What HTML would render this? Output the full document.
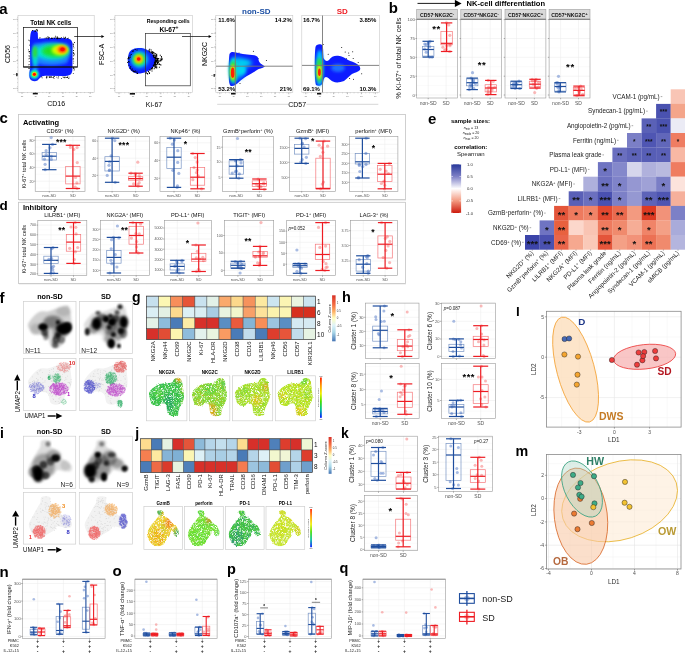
<!DOCTYPE html><html><head><meta charset="utf-8"><style>html,body{margin:0;padding:0;background:#fff;overflow:hidden;}svg{display:block;will-change:transform;filter:blur(0.3px);}</style></head><body><svg width="685" height="653" viewBox="0 0 685 653" font-family='"Liberation Sans", sans-serif'>
<rect width="685" height="653" fill="#fff"/>
<text x="-0.7" y="13.6" font-size="15" font-weight="bold">a</text>
<text x="388.8" y="12.8" font-size="15" font-weight="bold">b</text>
<text x="-0.5" y="123.4" font-size="15" font-weight="bold">c</text>
<text x="-0.5" y="209.9" font-size="13.5" font-weight="bold">d</text>
<text x="428.1" y="123.5" font-size="15" font-weight="bold">e</text>
<text x="-0.5" y="302.6" font-size="15" font-weight="bold">f</text>
<text x="132" y="302.1" font-size="14" font-weight="bold">g</text>
<text x="342.1" y="302.3" font-size="14.5" font-weight="bold">h</text>
<text x="0" y="438" font-size="14" font-weight="bold">i</text>
<text x="135.2" y="437.9" font-size="14" font-weight="bold">j</text>
<text x="341.1" y="438" font-size="14" font-weight="bold">k</text>
<text x="516.1" y="315.8" font-size="13.5" font-weight="bold">l</text>
<text x="515.6" y="455.8" font-size="14.3" font-weight="bold">m</text>
<text x="-0.4" y="577.2" font-size="15" font-weight="bold">n</text>
<text x="112.6" y="575.9" font-size="15" font-weight="bold">o</text>
<text x="227" y="574.3" font-size="14.5" font-weight="bold">p</text>
<text x="339.5" y="573.1" font-size="14.5" font-weight="bold">q</text>
<defs>
<filter id="b06" x="-20%" y="-20%" width="140%" height="140%"><feGaussianBlur stdDeviation="0.6"/></filter>
<filter id="b10" x="-30%" y="-30%" width="160%" height="160%"><feGaussianBlur stdDeviation="1.0"/></filter>
<filter id="b15" x="-30%" y="-30%" width="160%" height="160%"><feGaussianBlur stdDeviation="1.5"/></filter>
<filter id="b20" x="-40%" y="-40%" width="180%" height="180%"><feGaussianBlur stdDeviation="2.0"/></filter>
<filter id="b30" x="-50%" y="-50%" width="200%" height="200%"><feGaussianBlur stdDeviation="3.0"/></filter>
</defs>
<rect x="18" y="15.3" width="76.2" height="77" fill="#fff" stroke="#c8c8c8" stroke-width="0.6"/>
<path d="M16.4 19.3H18" stroke="#555" stroke-width="0.4"/>
<text x="15.8" y="20.1" font-size="2.2" fill="#666" text-anchor="end">10</text>
<path d="M16.4 33.1H18" stroke="#555" stroke-width="0.4"/>
<text x="15.8" y="33.9" font-size="2.2" fill="#666" text-anchor="end">10</text>
<path d="M16.4 46.9H18" stroke="#555" stroke-width="0.4"/>
<text x="15.8" y="47.7" font-size="2.2" fill="#666" text-anchor="end">10</text>
<path d="M16.4 60.7H18" stroke="#555" stroke-width="0.4"/>
<text x="15.8" y="61.5" font-size="2.2" fill="#666" text-anchor="end">10</text>
<path d="M16.4 74.5H18" stroke="#555" stroke-width="0.4"/>
<text x="15.8" y="75.3" font-size="2.2" fill="#666" text-anchor="end">10</text>
<path d="M16.4 88.3H18" stroke="#555" stroke-width="0.4"/>
<text x="15.8" y="89.1" font-size="2.2" fill="#666" text-anchor="end">10</text>
<path d="M22 92.3V93.9" stroke="#555" stroke-width="0.4"/>
<text x="22" y="96.7" font-size="2.2" fill="#666" text-anchor="middle">10</text>
<path d="M35.6 92.3V93.9" stroke="#555" stroke-width="0.4"/>
<text x="35.6" y="96.7" font-size="2.2" fill="#666" text-anchor="middle">10</text>
<path d="M49.3 92.3V93.9" stroke="#555" stroke-width="0.4"/>
<text x="49.3" y="96.7" font-size="2.2" fill="#666" text-anchor="middle">10</text>
<path d="M62.9 92.3V93.9" stroke="#555" stroke-width="0.4"/>
<text x="62.9" y="96.7" font-size="2.2" fill="#666" text-anchor="middle">10</text>
<path d="M76.6 92.3V93.9" stroke="#555" stroke-width="0.4"/>
<text x="76.6" y="96.7" font-size="2.2" fill="#666" text-anchor="middle">10</text>
<path d="M90.2 92.3V93.9" stroke="#555" stroke-width="0.4"/>
<text x="90.2" y="96.7" font-size="2.2" fill="#666" text-anchor="middle">10</text>
<path d="M17.2 17.3H18" stroke="#777" stroke-width="0.3"/>
<path d="M20 92.3V93.1" stroke="#777" stroke-width="0.3"/>
<path d="M17.2 21.1H18" stroke="#777" stroke-width="0.3"/>
<path d="M23.8 92.3V93.1" stroke="#777" stroke-width="0.3"/>
<path d="M17.2 25H18" stroke="#777" stroke-width="0.3"/>
<path d="M27.6 92.3V93.1" stroke="#777" stroke-width="0.3"/>
<path d="M17.2 28.8H18" stroke="#777" stroke-width="0.3"/>
<path d="M31.4 92.3V93.1" stroke="#777" stroke-width="0.3"/>
<path d="M17.2 32.7H18" stroke="#777" stroke-width="0.3"/>
<path d="M35.2 92.3V93.1" stroke="#777" stroke-width="0.3"/>
<path d="M17.2 36.5H18" stroke="#777" stroke-width="0.3"/>
<path d="M39 92.3V93.1" stroke="#777" stroke-width="0.3"/>
<path d="M17.2 40.4H18" stroke="#777" stroke-width="0.3"/>
<path d="M42.8 92.3V93.1" stroke="#777" stroke-width="0.3"/>
<path d="M17.2 44.2H18" stroke="#777" stroke-width="0.3"/>
<path d="M46.6 92.3V93.1" stroke="#777" stroke-width="0.3"/>
<path d="M17.2 48H18" stroke="#777" stroke-width="0.3"/>
<path d="M50.4 92.3V93.1" stroke="#777" stroke-width="0.3"/>
<path d="M17.2 51.9H18" stroke="#777" stroke-width="0.3"/>
<path d="M54.2 92.3V93.1" stroke="#777" stroke-width="0.3"/>
<path d="M17.2 55.7H18" stroke="#777" stroke-width="0.3"/>
<path d="M58 92.3V93.1" stroke="#777" stroke-width="0.3"/>
<path d="M17.2 59.6H18" stroke="#777" stroke-width="0.3"/>
<path d="M61.8 92.3V93.1" stroke="#777" stroke-width="0.3"/>
<path d="M17.2 63.4H18" stroke="#777" stroke-width="0.3"/>
<path d="M65.6 92.3V93.1" stroke="#777" stroke-width="0.3"/>
<path d="M17.2 67.2H18" stroke="#777" stroke-width="0.3"/>
<path d="M69.4 92.3V93.1" stroke="#777" stroke-width="0.3"/>
<path d="M17.2 71.1H18" stroke="#777" stroke-width="0.3"/>
<path d="M73.2 92.3V93.1" stroke="#777" stroke-width="0.3"/>
<path d="M17.2 74.9H18" stroke="#777" stroke-width="0.3"/>
<path d="M77 92.3V93.1" stroke="#777" stroke-width="0.3"/>
<path d="M17.2 78.8H18" stroke="#777" stroke-width="0.3"/>
<path d="M80.8 92.3V93.1" stroke="#777" stroke-width="0.3"/>
<path d="M17.2 82.6H18" stroke="#777" stroke-width="0.3"/>
<path d="M84.6 92.3V93.1" stroke="#777" stroke-width="0.3"/>
<path d="M17.2 86.5H18" stroke="#777" stroke-width="0.3"/>
<path d="M88.4 92.3V93.1" stroke="#777" stroke-width="0.3"/>
<path d="M17.2 90.3H18" stroke="#777" stroke-width="0.3"/>
<path d="M92.2 92.3V93.1" stroke="#777" stroke-width="0.3"/>
<rect x="115" y="15.3" width="77.6" height="77.3" fill="#fff" stroke="#c8c8c8" stroke-width="0.6"/>
<path d="M113.4 19.3H115" stroke="#555" stroke-width="0.4"/>
<text x="112.8" y="20.1" font-size="2.2" fill="#666" text-anchor="end">10</text>
<path d="M113.4 33.2H115" stroke="#555" stroke-width="0.4"/>
<text x="112.8" y="34" font-size="2.2" fill="#666" text-anchor="end">10</text>
<path d="M113.4 47H115" stroke="#555" stroke-width="0.4"/>
<text x="112.8" y="47.8" font-size="2.2" fill="#666" text-anchor="end">10</text>
<path d="M113.4 60.9H115" stroke="#555" stroke-width="0.4"/>
<text x="112.8" y="61.7" font-size="2.2" fill="#666" text-anchor="end">10</text>
<path d="M113.4 74.7H115" stroke="#555" stroke-width="0.4"/>
<text x="112.8" y="75.5" font-size="2.2" fill="#666" text-anchor="end">10</text>
<path d="M113.4 88.6H115" stroke="#555" stroke-width="0.4"/>
<text x="112.8" y="89.4" font-size="2.2" fill="#666" text-anchor="end">10</text>
<path d="M119 92.6V94.2" stroke="#555" stroke-width="0.4"/>
<text x="119" y="97" font-size="2.2" fill="#666" text-anchor="middle">10</text>
<path d="M132.9 92.6V94.2" stroke="#555" stroke-width="0.4"/>
<text x="132.9" y="97" font-size="2.2" fill="#666" text-anchor="middle">10</text>
<path d="M146.8 92.6V94.2" stroke="#555" stroke-width="0.4"/>
<text x="146.8" y="97" font-size="2.2" fill="#666" text-anchor="middle">10</text>
<path d="M160.8 92.6V94.2" stroke="#555" stroke-width="0.4"/>
<text x="160.8" y="97" font-size="2.2" fill="#666" text-anchor="middle">10</text>
<path d="M174.7 92.6V94.2" stroke="#555" stroke-width="0.4"/>
<text x="174.7" y="97" font-size="2.2" fill="#666" text-anchor="middle">10</text>
<path d="M188.6 92.6V94.2" stroke="#555" stroke-width="0.4"/>
<text x="188.6" y="97" font-size="2.2" fill="#666" text-anchor="middle">10</text>
<path d="M114.2 17.3H115" stroke="#777" stroke-width="0.3"/>
<path d="M117 92.6V93.4" stroke="#777" stroke-width="0.3"/>
<path d="M114.2 21.2H115" stroke="#777" stroke-width="0.3"/>
<path d="M120.9 92.6V93.4" stroke="#777" stroke-width="0.3"/>
<path d="M114.2 25H115" stroke="#777" stroke-width="0.3"/>
<path d="M124.7 92.6V93.4" stroke="#777" stroke-width="0.3"/>
<path d="M114.2 28.9H115" stroke="#777" stroke-width="0.3"/>
<path d="M128.6 92.6V93.4" stroke="#777" stroke-width="0.3"/>
<path d="M114.2 32.7H115" stroke="#777" stroke-width="0.3"/>
<path d="M132.5 92.6V93.4" stroke="#777" stroke-width="0.3"/>
<path d="M114.2 36.6H115" stroke="#777" stroke-width="0.3"/>
<path d="M136.4 92.6V93.4" stroke="#777" stroke-width="0.3"/>
<path d="M114.2 40.4H115" stroke="#777" stroke-width="0.3"/>
<path d="M140.2 92.6V93.4" stroke="#777" stroke-width="0.3"/>
<path d="M114.2 44.3H115" stroke="#777" stroke-width="0.3"/>
<path d="M144.1 92.6V93.4" stroke="#777" stroke-width="0.3"/>
<path d="M114.2 48.2H115" stroke="#777" stroke-width="0.3"/>
<path d="M148 92.6V93.4" stroke="#777" stroke-width="0.3"/>
<path d="M114.2 52H115" stroke="#777" stroke-width="0.3"/>
<path d="M151.9 92.6V93.4" stroke="#777" stroke-width="0.3"/>
<path d="M114.2 55.9H115" stroke="#777" stroke-width="0.3"/>
<path d="M155.7 92.6V93.4" stroke="#777" stroke-width="0.3"/>
<path d="M114.2 59.7H115" stroke="#777" stroke-width="0.3"/>
<path d="M159.6 92.6V93.4" stroke="#777" stroke-width="0.3"/>
<path d="M114.2 63.6H115" stroke="#777" stroke-width="0.3"/>
<path d="M163.5 92.6V93.4" stroke="#777" stroke-width="0.3"/>
<path d="M114.2 67.5H115" stroke="#777" stroke-width="0.3"/>
<path d="M167.4 92.6V93.4" stroke="#777" stroke-width="0.3"/>
<path d="M114.2 71.3H115" stroke="#777" stroke-width="0.3"/>
<path d="M171.2 92.6V93.4" stroke="#777" stroke-width="0.3"/>
<path d="M114.2 75.2H115" stroke="#777" stroke-width="0.3"/>
<path d="M175.1 92.6V93.4" stroke="#777" stroke-width="0.3"/>
<path d="M114.2 79H115" stroke="#777" stroke-width="0.3"/>
<path d="M179 92.6V93.4" stroke="#777" stroke-width="0.3"/>
<path d="M114.2 82.9H115" stroke="#777" stroke-width="0.3"/>
<path d="M182.9 92.6V93.4" stroke="#777" stroke-width="0.3"/>
<path d="M114.2 86.7H115" stroke="#777" stroke-width="0.3"/>
<path d="M186.7 92.6V93.4" stroke="#777" stroke-width="0.3"/>
<path d="M114.2 90.6H115" stroke="#777" stroke-width="0.3"/>
<path d="M190.6 92.6V93.4" stroke="#777" stroke-width="0.3"/>
<rect x="215.8" y="15.3" width="77" height="77.3" fill="#fff" stroke="#c8c8c8" stroke-width="0.6"/>
<path d="M214.2 19.3H215.8" stroke="#555" stroke-width="0.4"/>
<text x="213.6" y="20.1" font-size="2.2" fill="#666" text-anchor="end">10</text>
<path d="M214.2 33.2H215.8" stroke="#555" stroke-width="0.4"/>
<text x="213.6" y="34" font-size="2.2" fill="#666" text-anchor="end">10</text>
<path d="M214.2 47H215.8" stroke="#555" stroke-width="0.4"/>
<text x="213.6" y="47.8" font-size="2.2" fill="#666" text-anchor="end">10</text>
<path d="M214.2 60.9H215.8" stroke="#555" stroke-width="0.4"/>
<text x="213.6" y="61.7" font-size="2.2" fill="#666" text-anchor="end">10</text>
<path d="M214.2 74.7H215.8" stroke="#555" stroke-width="0.4"/>
<text x="213.6" y="75.5" font-size="2.2" fill="#666" text-anchor="end">10</text>
<path d="M214.2 88.6H215.8" stroke="#555" stroke-width="0.4"/>
<text x="213.6" y="89.4" font-size="2.2" fill="#666" text-anchor="end">10</text>
<path d="M219.8 92.6V94.2" stroke="#555" stroke-width="0.4"/>
<text x="219.8" y="97" font-size="2.2" fill="#666" text-anchor="middle">10</text>
<path d="M233.6 92.6V94.2" stroke="#555" stroke-width="0.4"/>
<text x="233.6" y="97" font-size="2.2" fill="#666" text-anchor="middle">10</text>
<path d="M247.4 92.6V94.2" stroke="#555" stroke-width="0.4"/>
<text x="247.4" y="97" font-size="2.2" fill="#666" text-anchor="middle">10</text>
<path d="M261.2 92.6V94.2" stroke="#555" stroke-width="0.4"/>
<text x="261.2" y="97" font-size="2.2" fill="#666" text-anchor="middle">10</text>
<path d="M275 92.6V94.2" stroke="#555" stroke-width="0.4"/>
<text x="275" y="97" font-size="2.2" fill="#666" text-anchor="middle">10</text>
<path d="M288.8 92.6V94.2" stroke="#555" stroke-width="0.4"/>
<text x="288.8" y="97" font-size="2.2" fill="#666" text-anchor="middle">10</text>
<path d="M215 17.3H215.8" stroke="#777" stroke-width="0.3"/>
<path d="M217.8 92.6V93.4" stroke="#777" stroke-width="0.3"/>
<path d="M215 21.2H215.8" stroke="#777" stroke-width="0.3"/>
<path d="M221.6 92.6V93.4" stroke="#777" stroke-width="0.3"/>
<path d="M215 25H215.8" stroke="#777" stroke-width="0.3"/>
<path d="M225.5 92.6V93.4" stroke="#777" stroke-width="0.3"/>
<path d="M215 28.9H215.8" stroke="#777" stroke-width="0.3"/>
<path d="M229.3 92.6V93.4" stroke="#777" stroke-width="0.3"/>
<path d="M215 32.7H215.8" stroke="#777" stroke-width="0.3"/>
<path d="M233.2 92.6V93.4" stroke="#777" stroke-width="0.3"/>
<path d="M215 36.6H215.8" stroke="#777" stroke-width="0.3"/>
<path d="M237 92.6V93.4" stroke="#777" stroke-width="0.3"/>
<path d="M215 40.4H215.8" stroke="#777" stroke-width="0.3"/>
<path d="M240.9 92.6V93.4" stroke="#777" stroke-width="0.3"/>
<path d="M215 44.3H215.8" stroke="#777" stroke-width="0.3"/>
<path d="M244.7 92.6V93.4" stroke="#777" stroke-width="0.3"/>
<path d="M215 48.2H215.8" stroke="#777" stroke-width="0.3"/>
<path d="M248.5 92.6V93.4" stroke="#777" stroke-width="0.3"/>
<path d="M215 52H215.8" stroke="#777" stroke-width="0.3"/>
<path d="M252.4 92.6V93.4" stroke="#777" stroke-width="0.3"/>
<path d="M215 55.9H215.8" stroke="#777" stroke-width="0.3"/>
<path d="M256.2 92.6V93.4" stroke="#777" stroke-width="0.3"/>
<path d="M215 59.7H215.8" stroke="#777" stroke-width="0.3"/>
<path d="M260.1 92.6V93.4" stroke="#777" stroke-width="0.3"/>
<path d="M215 63.6H215.8" stroke="#777" stroke-width="0.3"/>
<path d="M263.9 92.6V93.4" stroke="#777" stroke-width="0.3"/>
<path d="M215 67.5H215.8" stroke="#777" stroke-width="0.3"/>
<path d="M267.7 92.6V93.4" stroke="#777" stroke-width="0.3"/>
<path d="M215 71.3H215.8" stroke="#777" stroke-width="0.3"/>
<path d="M271.6 92.6V93.4" stroke="#777" stroke-width="0.3"/>
<path d="M215 75.2H215.8" stroke="#777" stroke-width="0.3"/>
<path d="M275.4 92.6V93.4" stroke="#777" stroke-width="0.3"/>
<path d="M215 79H215.8" stroke="#777" stroke-width="0.3"/>
<path d="M279.3 92.6V93.4" stroke="#777" stroke-width="0.3"/>
<path d="M215 82.9H215.8" stroke="#777" stroke-width="0.3"/>
<path d="M283.1 92.6V93.4" stroke="#777" stroke-width="0.3"/>
<path d="M215 86.7H215.8" stroke="#777" stroke-width="0.3"/>
<path d="M287 92.6V93.4" stroke="#777" stroke-width="0.3"/>
<path d="M215 90.6H215.8" stroke="#777" stroke-width="0.3"/>
<path d="M290.8 92.6V93.4" stroke="#777" stroke-width="0.3"/>
<rect x="301.8" y="15.3" width="77.5" height="77.3" fill="#fff" stroke="#c8c8c8" stroke-width="0.6"/>
<path d="M305.8 92.6V94.2" stroke="#555" stroke-width="0.4"/>
<text x="305.8" y="97" font-size="2.2" fill="#666" text-anchor="middle">10</text>
<path d="M319.7 92.6V94.2" stroke="#555" stroke-width="0.4"/>
<text x="319.7" y="97" font-size="2.2" fill="#666" text-anchor="middle">10</text>
<path d="M333.6 92.6V94.2" stroke="#555" stroke-width="0.4"/>
<text x="333.6" y="97" font-size="2.2" fill="#666" text-anchor="middle">10</text>
<path d="M347.5 92.6V94.2" stroke="#555" stroke-width="0.4"/>
<text x="347.5" y="97" font-size="2.2" fill="#666" text-anchor="middle">10</text>
<path d="M361.4 92.6V94.2" stroke="#555" stroke-width="0.4"/>
<text x="361.4" y="97" font-size="2.2" fill="#666" text-anchor="middle">10</text>
<path d="M375.3 92.6V94.2" stroke="#555" stroke-width="0.4"/>
<text x="375.3" y="97" font-size="2.2" fill="#666" text-anchor="middle">10</text>
<path d="M303.8 92.6V93.4" stroke="#777" stroke-width="0.3"/>
<path d="M307.7 92.6V93.4" stroke="#777" stroke-width="0.3"/>
<path d="M311.5 92.6V93.4" stroke="#777" stroke-width="0.3"/>
<path d="M315.4 92.6V93.4" stroke="#777" stroke-width="0.3"/>
<path d="M319.3 92.6V93.4" stroke="#777" stroke-width="0.3"/>
<path d="M323.1 92.6V93.4" stroke="#777" stroke-width="0.3"/>
<path d="M327 92.6V93.4" stroke="#777" stroke-width="0.3"/>
<path d="M330.9 92.6V93.4" stroke="#777" stroke-width="0.3"/>
<path d="M334.7 92.6V93.4" stroke="#777" stroke-width="0.3"/>
<path d="M338.6 92.6V93.4" stroke="#777" stroke-width="0.3"/>
<path d="M342.5 92.6V93.4" stroke="#777" stroke-width="0.3"/>
<path d="M346.4 92.6V93.4" stroke="#777" stroke-width="0.3"/>
<path d="M350.2 92.6V93.4" stroke="#777" stroke-width="0.3"/>
<path d="M354.1 92.6V93.4" stroke="#777" stroke-width="0.3"/>
<path d="M358 92.6V93.4" stroke="#777" stroke-width="0.3"/>
<path d="M361.8 92.6V93.4" stroke="#777" stroke-width="0.3"/>
<path d="M365.7 92.6V93.4" stroke="#777" stroke-width="0.3"/>
<path d="M369.6 92.6V93.4" stroke="#777" stroke-width="0.3"/>
<path d="M373.4 92.6V93.4" stroke="#777" stroke-width="0.3"/>
<path d="M377.3 92.6V93.4" stroke="#777" stroke-width="0.3"/>
<defs><clipPath id="ca1"><rect x="18.3" y="15.6" width="75.6" height="76.4"/></clipPath><clipPath id="ca2"><rect x="115.3" y="15.6" width="77" height="76.7"/></clipPath><clipPath id="ca3"><rect x="216.1" y="15.6" width="76.4" height="76.7"/></clipPath><clipPath id="ca4"><rect x="302.1" y="15.6" width="76.9" height="76.7"/></clipPath></defs>
<g clip-path="url(#ca1)">
<path d="M31.5,31 C33,29.5 37,30 37.8,33 L38,38.8 C45,38 60,37.8 68,38.6 C72,39.5 72.8,42 72.6,47 L72.4,70 C72,74.5 70,76 63,76 L45,75.8 C41,76 39.5,78.5 37.5,80.5 C35,82 31,81.5 29.6,78 C28.8,75 29.5,71 30.2,68 L30,45 C30,38 30.3,33 31.5,31 Z" fill="#0a1cff" filter="url(#b06)"/>
<path d="M33,44 C40,42 60,42 68,44 C70,48 70,58 67,63 C60,66 45,66 38,64 L37,72 C36,74 33.5,74 33,72 Z" fill="#1a7cff" filter="url(#b15)"/>
<ellipse cx="52" cy="52" rx="17" ry="8" fill="#00e8e0" filter="url(#b20)"/>
<ellipse cx="35" cy="56" rx="2.8" ry="10" fill="#00e0d0" filter="url(#b15)"/>
<ellipse cx="55" cy="51" rx="13.5" ry="6" fill="#22dd22" filter="url(#b20)"/>
<ellipse cx="35" cy="52" rx="2.2" ry="6" fill="#30d830" filter="url(#b15)"/>
<ellipse cx="60" cy="50" rx="8.5" ry="5.2" fill="#c8ff00" filter="url(#b15)"/>
<ellipse cx="61.5" cy="49.6" rx="5.8" ry="4.2" fill="#ffc800" filter="url(#b10)"/>
<ellipse cx="62.3" cy="49.5" rx="3.8" ry="3.0" fill="#ff4000" filter="url(#b10)"/>
<ellipse cx="62.5" cy="49.4" rx="2.2" ry="1.8" fill="#ff1000" filter="url(#b06)"/>
<ellipse cx="34.4" cy="74.3" rx="4.5" ry="4.5" fill="#00e0ff" filter="url(#b10)"/>
<ellipse cx="34.4" cy="74.3" rx="3.2" ry="3.2" fill="#40ff40" filter="url(#b10)"/>
<ellipse cx="34.4" cy="74.3" rx="2.3" ry="2.3" fill="#ffd000" filter="url(#b06)"/>
<ellipse cx="34.4" cy="74.3" rx="1.6" ry="1.6" fill="#ff1000" filter="url(#b06)"/>
</g>
<path d="M45.9 37.5h.8v.8h-.8zM57.1 37.8h.8v.8h-.8zM39.4 37.8h.8v.8h-.8zM67.9 37.7h.8v.8h-.8zM63.3 36.8h.8v.8h-.8zM57.4 38.3h.8v.8h-.8zM54.2 38.0h.8v.8h-.8zM61.0 37.0h.8v.8h-.8zM47.7 36.5h.8v.8h-.8zM59.8 38.2h.8v.8h-.8zM59.7 37.7h.8v.8h-.8zM51.9 38.1h.8v.8h-.8zM64.5 37.7h.8v.8h-.8zM67.0 38.0h.8v.8h-.8zM57.2 37.9h.8v.8h-.8zM49.2 37.3h.8v.8h-.8zM55.9 37.4h.8v.8h-.8zM63.8 37.8h.8v.8h-.8zM58.5 37.7h.8v.8h-.8zM65.2 36.8h.8v.8h-.8zM59.7 37.9h.8v.8h-.8zM47.3 36.4h.8v.8h-.8zM63.8 38.1h.8v.8h-.8zM50.9 38.1h.8v.8h-.8zM47.5 37.8h.8v.8h-.8zM56.8 36.2h.8v.8h-.8zM59.8 37.7h.8v.8h-.8zM53.7 37.0h.8v.8h-.8zM48.0 36.9h.8v.8h-.8zM44.7 37.7h.8v.8h-.8zM56.7 38.4h.8v.8h-.8zM48.1 38.4h.8v.8h-.8zM65.0 37.6h.8v.8h-.8zM57.7 37.7h.8v.8h-.8zM55.2 36.7h.8v.8h-.8zM51.5 37.0h.8v.8h-.8zM45.9 37.5h.8v.8h-.8zM54.9 35.7h.8v.8h-.8zM51.0 38.2h.8v.8h-.8zM57.3 37.9h.8v.8h-.8zM57.2 36.9h.8v.8h-.8zM59.5 38.2h.8v.8h-.8zM39.6 37.3h.8v.8h-.8zM46.3 37.8h.8v.8h-.8zM56.2 37.8h.8v.8h-.8zM51.7 77.0h.8v.8h-.8zM58.3 76.5h.8v.8h-.8zM63.4 77.0h.8v.8h-.8zM41.8 77.5h.8v.8h-.8zM50.0 76.8h.8v.8h-.8zM47.5 76.4h.8v.8h-.8zM46.4 76.8h.8v.8h-.8zM53.6 76.3h.8v.8h-.8zM50.3 76.6h.8v.8h-.8zM50.7 76.7h.8v.8h-.8zM65.8 77.0h.8v.8h-.8zM45.9 76.9h.8v.8h-.8zM66.7 77.3h.8v.8h-.8zM54.1 76.3h.8v.8h-.8zM56.4 76.7h.8v.8h-.8zM46.5 76.8h.8v.8h-.8zM46.3 77.8h.8v.8h-.8zM49.1 76.7h.8v.8h-.8zM64.4 77.4h.8v.8h-.8zM51.0 76.7h.8v.8h-.8zM64.0 76.7h.8v.8h-.8zM48.9 76.7h.8v.8h-.8zM53.2 77.0h.8v.8h-.8zM52.9 76.7h.8v.8h-.8zM41.1 76.5h.8v.8h-.8zM68.4 78.1h.8v.8h-.8zM53.6 78.0h.8v.8h-.8zM68.6 76.8h.8v.8h-.8zM62.6 76.5h.8v.8h-.8zM65.3 76.8h.8v.8h-.8zM49.4 77.1h.8v.8h-.8zM50.9 76.2h.8v.8h-.8zM58.1 76.5h.8v.8h-.8zM49.3 76.3h.8v.8h-.8zM67.2 76.5h.8v.8h-.8zM61.1 77.9h.8v.8h-.8zM67.1 77.1h.8v.8h-.8zM57.7 77.7h.8v.8h-.8zM46.0 76.3h.8v.8h-.8zM49.7 76.8h.8v.8h-.8zM73.4 55.2h.8v.8h-.8zM73.6 52.9h.8v.8h-.8zM73.0 50.1h.8v.8h-.8zM73.2 67.0h.8v.8h-.8zM73.3 53.3h.8v.8h-.8zM72.9 68.1h.8v.8h-.8zM73.5 47.5h.8v.8h-.8zM73.1 67.8h.8v.8h-.8zM74.3 68.4h.8v.8h-.8zM73.7 69.6h.8v.8h-.8zM72.7 43.6h.8v.8h-.8zM72.7 58.9h.8v.8h-.8zM73.2 55.5h.8v.8h-.8zM74.0 42.1h.8v.8h-.8zM72.8 43.8h.8v.8h-.8zM72.9 44.2h.8v.8h-.8zM72.9 73.2h.8v.8h-.8zM72.8 58.1h.8v.8h-.8zM72.9 52.1h.8v.8h-.8zM72.9 62.7h.8v.8h-.8zM73.3 60.8h.8v.8h-.8zM72.9 52.5h.8v.8h-.8zM73.0 46.0h.8v.8h-.8zM73.8 54.2h.8v.8h-.8zM73.0 44.6h.8v.8h-.8zM29.1 57.8h.8v.8h-.8zM28.8 64.2h.8v.8h-.8zM28.5 58.4h.8v.8h-.8zM28.5 51.5h.8v.8h-.8zM28.8 61.3h.8v.8h-.8zM28.8 51.1h.8v.8h-.8zM29.1 44.8h.8v.8h-.8zM28.7 55.3h.8v.8h-.8zM29.3 51.3h.8v.8h-.8zM29.1 51.3h.8v.8h-.8zM28.2 49.5h.8v.8h-.8zM28.3 68.3h.8v.8h-.8zM29.3 52.7h.8v.8h-.8zM28.9 40.4h.8v.8h-.8zM29.0 67.9h.8v.8h-.8zM28.4 64.5h.8v.8h-.8zM28.8 56.3h.8v.8h-.8zM28.4 39.7h.8v.8h-.8zM34.4 30.9h.8v.8h-.8zM36.1 29.6h.8v.8h-.8zM35.1 30.9h.8v.8h-.8zM37.0 29.8h.8v.8h-.8zM34.6 30.8h.8v.8h-.8zM34.9 30.6h.8v.8h-.8zM35.7 29.8h.8v.8h-.8zM36.4 28.9h.8v.8h-.8zM32.1 30.1h.8v.8h-.8zM37.0 30.6h.8v.8h-.8z" fill="#000"/>
<rect x="23.4" y="27.6" width="54.2" height="39.4" fill="none" stroke="#111" stroke-width="0.7"/>
<path d="M23.4 67H77.6" stroke="#111" stroke-width="1.2"/>
<text x="50.8" y="25.3" font-size="6.3" font-weight="bold" text-anchor="middle">Total NK cells</text>
<path d="M74.2 36.5H101.7" stroke="#000" stroke-width="0.7"/>
<path d="M101.4,35.07 L104.3,36.5 L101.4,37.93 Z" fill="#000"/>
<path d="M182 36.5H208.9" stroke="#000" stroke-width="0.7"/>
<path d="M208.6,35.07 L211.5,36.5 L208.6,37.93 Z" fill="#000"/>
<g clip-path="url(#ca2)">
<path d="M129,53 C131,48.5 137,47.5 143,48.2 C148,49.5 152,53 154.8,57 C156.3,60 156,64 153.5,67 C150,71 144,73.5 138,73.5 C132,73 128.5,69 128,64 C127.6,60 127.8,56 129,53 Z" fill="#0a1cff" filter="url(#b06)"/>
<ellipse cx="139.5" cy="59.5" rx="8.5" ry="8.5" fill="#00d8ff" filter="url(#b20)"/>
<ellipse cx="139" cy="59.2" rx="6.3" ry="6.3" fill="#30e040" filter="url(#b15)"/>
<ellipse cx="138.8" cy="59.1" rx="4.3" ry="4.3" fill="#e0f000" filter="url(#b10)"/>
<ellipse cx="138.7" cy="59" rx="3.0" ry="3.0" fill="#ff8000" filter="url(#b10)"/>
<ellipse cx="138.7" cy="59" rx="1.8" ry="1.8" fill="#ff1000" filter="url(#b06)"/>
</g>
<path d="M154.7 53.4h1v1h-1zM160.4 64.5h1v1h-1zM161.2 59.6h1v1h-1zM152.0 67.1h1v1h-1zM151.6 68.6h1v1h-1zM154.6 62.9h1v1h-1zM153.3 56.1h1v1h-1zM151.7 53.0h1v1h-1zM153.1 64.7h1v1h-1zM160.6 58.0h1v1h-1zM155.9 60.8h1v1h-1zM155.6 61.5h1v1h-1zM154.8 58.2h1v1h-1zM145.2 72.7h1v1h-1zM156.1 61.6h1v1h-1zM145.9 72.6h1v1h-1zM161.1 56.8h1v1h-1zM150.6 51.7h1v1h-1zM160.3 64.5h1v1h-1zM159.8 54.8h1v1h-1zM154.7 64.5h1v1h-1zM155.2 58.2h1v1h-1zM154.8 61.8h1v1h-1zM157.7 57.9h1v1h-1zM149.2 69.5h1v1h-1zM155.9 57.8h1v1h-1zM156.8 63.4h1v1h-1zM156.9 57.7h1v1h-1zM155.0 59.9h1v1h-1zM154.0 61.8h1v1h-1zM160.2 60.5h1v1h-1zM148.0 71.0h1v1h-1zM155.5 55.2h1v1h-1zM153.9 62.4h1v1h-1zM158.9 66.8h1v1h-1zM158.4 63.8h1v1h-1zM147.2 73.4h1v1h-1zM155.9 57.4h1v1h-1zM148.6 50.3h1v1h-1zM153.7 68.3h1v1h-1zM159.3 64.0h1v1h-1zM155.8 63.8h1v1h-1zM159.0 63.5h1v1h-1zM153.4 51.9h1v1h-1zM148.7 72.0h1v1h-1zM154.7 59.0h1v1h-1zM154.9 63.9h1v1h-1zM157.9 62.1h1v1h-1zM154.8 61.5h1v1h-1zM151.1 67.9h1v1h-1zM154.5 56.8h1v1h-1zM152.1 51.2h1v1h-1zM152.7 54.5h1v1h-1zM147.0 73.0h1v1h-1zM151.9 67.4h1v1h-1zM155.3 62.2h1v1h-1zM161.6 58.8h1v1h-1zM155.0 53.3h1v1h-1zM154.6 65.5h1v1h-1zM156.2 67.4h1v1h-1zM157.2 58.7h1v1h-1zM145.8 72.2h1v1h-1zM152.0 67.0h1v1h-1zM148.8 50.8h1v1h-1zM152.9 55.6h1v1h-1zM154.6 57.7h1v1h-1zM149.0 73.0h1v1h-1zM156.6 58.4h1v1h-1zM156.2 60.5h1v1h-1zM154.9 63.0h1v1h-1zM149.2 48.7h1v1h-1zM150.9 68.6h1v1h-1zM151.8 51.4h1v1h-1zM152.7 51.8h1v1h-1zM151.7 67.6h1v1h-1zM151.8 67.3h1v1h-1zM151.1 51.4h1v1h-1zM156.1 55.8h1v1h-1zM150.9 68.0h1v1h-1zM158.8 60.5h1v1h-1zM148.4 49.7h1v1h-1zM156.1 54.1h1v1h-1zM156.3 55.5h1v1h-1zM159.9 59.6h1v1h-1zM156.2 53.7h1v1h-1zM155.2 66.8h1v1h-1zM157.6 58.3h1v1h-1zM157.0 59.7h1v1h-1zM151.5 70.4h1v1h-1zM155.4 57.9h1v1h-1zM149.5 51.6h1v1h-1zM154.0 56.8h1v1h-1zM152.1 52.7h1v1h-1zM156.2 55.1h1v1h-1zM154.2 53.2h1v1h-1zM152.7 53.2h1v1h-1zM158.3 61.1h1v1h-1zM154.3 63.6h1v1h-1zM149.8 69.5h1v1h-1zM156.2 59.2h1v1h-1zM155.6 61.3h1v1h-1zM154.8 61.6h1v1h-1zM153.6 64.0h1v1h-1zM156.9 62.0h1v1h-1zM157.2 61.8h1v1h-1zM152.9 55.3h1v1h-1zM147.2 73.4h1v1h-1zM154.6 60.5h1v1h-1zM156.3 66.6h1v1h-1zM151.2 68.0h1v1h-1zM155.0 61.7h1v1h-1zM156.6 58.7h1v1h-1zM160.9 59.0h1v1h-1zM152.1 53.1h1v1h-1zM153.8 54.8h1v1h-1zM151.4 52.6h1v1h-1zM157.0 62.9h1v1h-1zM160.9 56.1h1v1h-1zM155.3 56.3h1v1h-1zM153.4 57.0h1v1h-1zM157.2 60.3h1v1h-1zM153.9 65.4h1v1h-1zM158.3 58.3h1v1h-1zM151.4 51.3h1v1h-1zM153.2 65.0h1v1h-1zM155.6 65.4h1v1h-1zM160.8 59.5h1v1h-1zM155.4 57.3h1v1h-1zM157.3 57.9h1v1h-1zM156.4 59.7h1v1h-1zM157.3 63.2h1v1h-1zM154.8 59.8h1v1h-1zM154.6 67.2h1v1h-1zM154.5 66.3h1v1h-1zM155.0 62.2h1v1h-1zM150.7 49.5h1v1h-1zM155.1 61.1h1v1h-1zM156.3 61.4h1v1h-1zM155.8 60.1h1v1h-1zM152.7 65.5h1v1h-1zM154.6 55.2h1v1h-1zM155.9 55.5h1v1h-1zM155.6 60.4h1v1h-1zM156.7 60.8h1v1h-1zM152.9 55.2h1v1h-1zM157.5 58.4h1v1h-1zM152.8 55.0h1v1h-1zM158.3 60.2h1v1h-1zM153.4 65.0h1v1h-1zM156.3 64.2h1v1h-1zM137.1 73.0h1v1h-1zM127.5 58.3h1v1h-1zM127.2 62.1h1v1h-1zM128.4 64.8h1v1h-1zM129.7 67.5h1v1h-1zM132.1 50.8h1v1h-1zM129.6 67.9h1v1h-1zM132.4 70.3h1v1h-1zM128.1 60.9h1v1h-1zM128.5 58.3h1v1h-1zM131.2 69.6h1v1h-1zM128.0 56.7h1v1h-1zM136.5 49.5h1v1h-1zM136.5 72.7h1v1h-1zM128.4 57.2h1v1h-1zM133.6 70.9h1v1h-1zM134.8 70.5h1v1h-1zM132.8 70.6h1v1h-1zM134.5 71.5h1v1h-1zM136.4 71.5h1v1h-1zM132.9 50.6h1v1h-1zM130.2 66.3h1v1h-1zM134.7 49.0h1v1h-1zM129.6 55.2h1v1h-1zM128.7 61.5h1v1h-1zM128.1 57.0h1v1h-1zM131.7 68.6h1v1h-1zM133.2 71.3h1v1h-1zM130.7 54.0h1v1h-1zM129.7 56.7h1v1h-1z" fill="#000"/>
<circle cx="162.5" cy="58.8" r="0.45" fill="#000"/>
<rect x="145.6" y="33.4" width="44.7" height="52.4" fill="none" stroke="#333" stroke-width="0.7"/>
<text x="168.2" y="22.6" font-size="5.2" font-weight="bold" text-anchor="middle">Responding cells</text>
<text x="169" y="31.6" font-size="6.6" font-weight="bold" text-anchor="middle">Ki-67<tspan dy="-2.6" font-size="5">+</tspan></text>
<circle cx="239" cy="53" r="0.5" fill="#000"/>
<circle cx="253.4" cy="51.2" r="0.5" fill="#000"/>
<circle cx="258" cy="58.5" r="0.5" fill="#000"/>
<circle cx="266.4" cy="60.5" r="0.5" fill="#000"/>
<circle cx="240" cy="83.5" r="0.5" fill="#000"/>
<circle cx="261" cy="67" r="0.5" fill="#000"/>
<g clip-path="url(#ca3)">
<path d="M229.5,54 C230.5,51.5 233,51.5 236,52.5 C240,53.5 245,54.5 252,55 C257,55.5 258.5,57 258.6,60 C259,63 262,64.5 265,66.5 C262,68.5 259,68.5 257,70 C253,73 246,76 240,81 C237,84 234,86.5 231,86 C229,85 228.8,80 228.8,74 C228.8,66 228.8,58 229.5,54 Z" fill="#0a1cff" filter="url(#b06)"/>
<ellipse cx="238" cy="68" rx="7.5" ry="11" fill="#00a0ff" filter="url(#b20)"/>
<ellipse cx="244" cy="63" rx="8" ry="4" fill="#00d0f0" filter="url(#b20)"/>
<ellipse cx="233.5" cy="70.5" rx="4.4" ry="13" fill="#00e0e0" filter="url(#b15)"/>
<ellipse cx="233.2" cy="71.5" rx="3.3" ry="10.5" fill="#30e030" filter="url(#b15)"/>
<ellipse cx="232.8" cy="72.3" rx="2.5" ry="7.5" fill="#f0e800" filter="url(#b10)"/>
<ellipse cx="232.7" cy="72.7" rx="1.8" ry="5.2" fill="#ff2000" filter="url(#b06)"/>
<ellipse cx="241" cy="70" rx="5" ry="5" fill="#00d8f0" filter="url(#b15)"/>
</g>
<path d="M235.3 15.5V92.4" stroke="#777" stroke-width="0.9"/>
<path d="M216 66.2H292.6" stroke="#777" stroke-width="0.9"/>
<circle cx="323.2" cy="44.5" r="0.5" fill="#000"/>
<circle cx="328.2" cy="54.3" r="0.5" fill="#000"/>
<circle cx="341.7" cy="47.6" r="0.5" fill="#000"/>
<circle cx="345.2" cy="51.9" r="0.5" fill="#000"/>
<circle cx="348.7" cy="53" r="0.5" fill="#000"/>
<circle cx="352.7" cy="51.8" r="0.5" fill="#000"/>
<circle cx="349" cy="55.5" r="0.5" fill="#000"/>
<circle cx="346.5" cy="58.7" r="0.5" fill="#000"/>
<circle cx="353.2" cy="58.5" r="0.5" fill="#000"/>
<circle cx="358.2" cy="62.5" r="0.5" fill="#000"/>
<circle cx="361.7" cy="73.8" r="0.5" fill="#000"/>
<circle cx="349.6" cy="78.6" r="0.5" fill="#000"/>
<circle cx="353.5" cy="79.2" r="0.5" fill="#000"/>
<circle cx="336" cy="80.2" r="0.5" fill="#000"/>
<g clip-path="url(#ca4)">
<path d="M315.5,47 C316,44 321,43.5 322.5,45.5 C323.5,48 323,52 323.5,58 C325,61 327,62 329,60 C331,57 334,55.5 338,55.8 C342,56 345,58 348,60 C351,61.5 354,62 357,64 C359.5,65.5 361,68 360,70 C358,72 355,72.5 352,74 C349,76 347,79 344,81 C340,82.5 336,83 333,81.5 C330,80 328,77 326,77 C324,77 323.5,80 323,83 C321,86 318,86.5 316,85 C315,82 314.8,75 314.8,65 C314.8,57 315,50 315.5,47 Z" fill="#0a1cff" filter="url(#b06)"/>
<ellipse cx="319.5" cy="68" rx="3.8" ry="18" fill="#00c8ff" filter="url(#b15)"/>
<ellipse cx="319.3" cy="70" rx="3.1" ry="12.5" fill="#30e030" filter="url(#b15)"/>
<ellipse cx="319.3" cy="72" rx="2.2" ry="7.0" fill="#f0e800" filter="url(#b10)"/>
<ellipse cx="319.4" cy="72.3" rx="1.4" ry="3.8" fill="#ff2000" filter="url(#b06)"/>
<ellipse cx="338" cy="68" rx="7" ry="4" fill="#1a70ff" filter="url(#b15)"/>
</g>
<path d="M322.5 15.5V92.4" stroke="#777" stroke-width="0.9"/>
<path d="M302 65.4H379.1" stroke="#777" stroke-width="0.9"/>
<text x="218.2" y="22.1" font-size="6.0" font-weight="bold">11.6%</text>
<text x="291.8" y="22.1" font-size="6.0" font-weight="bold" text-anchor="end">14.2%</text>
<text x="218.2" y="90.6" font-size="6.0" font-weight="bold">53.2%</text>
<text x="291.8" y="90.6" font-size="6.0" font-weight="bold" text-anchor="end">21%</text>
<text x="302.9" y="22.1" font-size="6.0" font-weight="bold">16.7%</text>
<text x="376.4" y="22.1" font-size="6.0" font-weight="bold" text-anchor="end">3.85%</text>
<text x="302.9" y="90.6" font-size="6.0" font-weight="bold">69.1%</text>
<text x="376.4" y="90.6" font-size="6.0" font-weight="bold" text-anchor="end">10.3%</text>
<text x="256.3" y="14.1" font-size="8" fill="#1c4fa3" font-weight="bold" text-anchor="middle">non-SD</text>
<text x="342.2" y="14.1" font-size="8" fill="#ee1c23" font-weight="bold" text-anchor="middle">SD</text>
<text x="9.6" y="54" font-size="7" text-anchor="middle" transform="rotate(-90 9.6 54)">CD56</text>
<text x="56.2" y="106.3" font-size="7" text-anchor="middle">CD16</text>
<text x="104" y="54.4" font-size="7" text-anchor="middle" transform="rotate(-90 104 54.4)">FSC-A</text>
<text x="154" y="106.9" font-size="7" text-anchor="middle">Ki-67</text>
<text x="206.8" y="54" font-size="7" text-anchor="middle" transform="rotate(-90 206.8 54)">NKG2C</text>
<path d="M217.2 104.3H288" stroke="#bbb" stroke-width="0.6"/>
<path d="M306.5 104.3H378.3" stroke="#bbb" stroke-width="0.6"/>
<text x="297.2" y="106.6" font-size="7" text-anchor="middle">CD57</text>
<rect x="16.2" y="73" width="1.3" height="3.2" fill="#111"/>
<rect x="32.8" y="92.8" width="5" height="1.6" fill="#111"/>
<rect x="129.8" y="93" width="5.2" height="1.6" fill="#111"/>
<rect x="213.6" y="74" width="1.2" height="2.8" fill="#111"/>
<rect x="231" y="92.9" width="4.6" height="1.6" fill="#111"/>
<rect x="317" y="92.9" width="4.2" height="1.6" fill="#111"/>
<path d="M417.5 3.4H455.2" stroke="#000" stroke-width="0.9"/>
<path d="M454.90000000000003,-0.12000000000000055 L461.6,3.4 L454.90000000000003,6.92 Z" fill="#000"/>
<text x="466.6" y="6" font-size="7.55" font-weight="bold">NK-cell differentiation</text>
<rect x="416.7" y="19.4" width="40.9" height="78.6" fill="#fff"/>
<path d="M416.7 29H457.6" stroke="#f4f4f4" stroke-width="0.4"/>
<path d="M416.7 47.9H457.6" stroke="#f4f4f4" stroke-width="0.4"/>
<path d="M416.7 66.7H457.6" stroke="#f4f4f4" stroke-width="0.4"/>
<path d="M416.7 85.6H457.6" stroke="#f4f4f4" stroke-width="0.4"/>
<path d="M416.7 19.6H457.6" stroke="#ebebeb" stroke-width="0.5"/>
<path d="M416.7 38.5H457.6" stroke="#ebebeb" stroke-width="0.5"/>
<path d="M416.7 57.3H457.6" stroke="#ebebeb" stroke-width="0.5"/>
<path d="M416.7 76.2H457.6" stroke="#ebebeb" stroke-width="0.5"/>
<path d="M416.7 95H457.6" stroke="#ebebeb" stroke-width="0.5"/>
<path d="M428.2 19.4V98" stroke="#ebebeb" stroke-width="0.5"/>
<path d="M446.1 19.4V98" stroke="#ebebeb" stroke-width="0.5"/>
<rect x="416.7" y="19.4" width="40.9" height="78.6" fill="none" stroke="#9a9a9a" stroke-width="0.6"/>
<path d="M415.4 19.6H416.7" stroke="#444" stroke-width="0.4"/>
<text x="414.9" y="21.2" font-size="4.4" fill="#555" text-anchor="end">100</text>
<path d="M415.4 38.5H416.7" stroke="#444" stroke-width="0.4"/>
<text x="414.9" y="40" font-size="4.4" fill="#555" text-anchor="end">75</text>
<path d="M415.4 57.3H416.7" stroke="#444" stroke-width="0.4"/>
<text x="414.9" y="58.9" font-size="4.4" fill="#555" text-anchor="end">50</text>
<path d="M415.4 76.2H416.7" stroke="#444" stroke-width="0.4"/>
<text x="414.9" y="77.7" font-size="4.4" fill="#555" text-anchor="end">25</text>
<path d="M415.4 95H416.7" stroke="#444" stroke-width="0.4"/>
<text x="414.9" y="96.6" font-size="4.4" fill="#555" text-anchor="end">0</text>
<path d="M428.2 98V99.3" stroke="#444" stroke-width="0.4"/>
<text x="428.2" y="105.2" font-size="5.0" fill="#555" text-anchor="middle">non-SD</text>
<path d="M446.1 98V99.3" stroke="#444" stroke-width="0.4"/>
<text x="446.1" y="105.2" font-size="5.0" fill="#555" text-anchor="middle">SD</text>
<rect x="416.7" y="9.3" width="40.9" height="10.1" fill="#d9d9d9" stroke="#a0a0a0" stroke-width="0.6"/>
<path d="M416.7 19.2H457.6" stroke="#666" stroke-width="0.8"/>
<text x="437.1" y="16.5" font-size="5.2" fill="#111" font-weight="bold" text-anchor="middle">CD57<tspan baseline-shift="super" font-size="75%">-</tspan>NKG2C<tspan baseline-shift="super" font-size="75%">-</tspan></text>
<rect x="460.8" y="19.4" width="40.8" height="78.6" fill="#fff"/>
<path d="M460.8 29H501.6" stroke="#f4f4f4" stroke-width="0.4"/>
<path d="M460.8 47.9H501.6" stroke="#f4f4f4" stroke-width="0.4"/>
<path d="M460.8 66.7H501.6" stroke="#f4f4f4" stroke-width="0.4"/>
<path d="M460.8 85.6H501.6" stroke="#f4f4f4" stroke-width="0.4"/>
<path d="M460.8 19.6H501.6" stroke="#ebebeb" stroke-width="0.5"/>
<path d="M460.8 38.5H501.6" stroke="#ebebeb" stroke-width="0.5"/>
<path d="M460.8 57.3H501.6" stroke="#ebebeb" stroke-width="0.5"/>
<path d="M460.8 76.2H501.6" stroke="#ebebeb" stroke-width="0.5"/>
<path d="M460.8 95H501.6" stroke="#ebebeb" stroke-width="0.5"/>
<path d="M472.2 19.4V98" stroke="#ebebeb" stroke-width="0.5"/>
<path d="M490.2 19.4V98" stroke="#ebebeb" stroke-width="0.5"/>
<rect x="460.8" y="19.4" width="40.8" height="78.6" fill="none" stroke="#9a9a9a" stroke-width="0.6"/>
<path d="M459.5 19.6H460.8" stroke="#444" stroke-width="0.4"/>
<text x="459" y="21.2" font-size="4.4" fill="#555" text-anchor="end"> </text>
<path d="M459.5 38.5H460.8" stroke="#444" stroke-width="0.4"/>
<text x="459" y="40" font-size="4.4" fill="#555" text-anchor="end"> </text>
<path d="M459.5 57.3H460.8" stroke="#444" stroke-width="0.4"/>
<text x="459" y="58.9" font-size="4.4" fill="#555" text-anchor="end"> </text>
<path d="M459.5 76.2H460.8" stroke="#444" stroke-width="0.4"/>
<text x="459" y="77.7" font-size="4.4" fill="#555" text-anchor="end"> </text>
<path d="M459.5 95H460.8" stroke="#444" stroke-width="0.4"/>
<text x="459" y="96.6" font-size="4.4" fill="#555" text-anchor="end"> </text>
<path d="M472.2 98V99.3" stroke="#444" stroke-width="0.4"/>
<text x="472.2" y="105.2" font-size="5.0" fill="#555" text-anchor="middle">non-SD</text>
<path d="M490.2 98V99.3" stroke="#444" stroke-width="0.4"/>
<text x="490.2" y="105.2" font-size="5.0" fill="#555" text-anchor="middle">SD</text>
<rect x="460.8" y="9.3" width="40.8" height="10.1" fill="#d9d9d9" stroke="#a0a0a0" stroke-width="0.6"/>
<path d="M460.8 19.2H501.6" stroke="#666" stroke-width="0.8"/>
<text x="481.2" y="16.5" font-size="5.2" fill="#111" font-weight="bold" text-anchor="middle">CD57<tspan baseline-shift="super" font-size="80%">+</tspan>NKG2C<tspan baseline-shift="super" font-size="75%">-</tspan></text>
<rect x="505" y="19.4" width="40.9" height="78.6" fill="#fff"/>
<path d="M505 29H545.9" stroke="#f4f4f4" stroke-width="0.4"/>
<path d="M505 47.9H545.9" stroke="#f4f4f4" stroke-width="0.4"/>
<path d="M505 66.7H545.9" stroke="#f4f4f4" stroke-width="0.4"/>
<path d="M505 85.6H545.9" stroke="#f4f4f4" stroke-width="0.4"/>
<path d="M505 19.6H545.9" stroke="#ebebeb" stroke-width="0.5"/>
<path d="M505 38.5H545.9" stroke="#ebebeb" stroke-width="0.5"/>
<path d="M505 57.3H545.9" stroke="#ebebeb" stroke-width="0.5"/>
<path d="M505 76.2H545.9" stroke="#ebebeb" stroke-width="0.5"/>
<path d="M505 95H545.9" stroke="#ebebeb" stroke-width="0.5"/>
<path d="M516.5 19.4V98" stroke="#ebebeb" stroke-width="0.5"/>
<path d="M534.4 19.4V98" stroke="#ebebeb" stroke-width="0.5"/>
<rect x="505" y="19.4" width="40.9" height="78.6" fill="none" stroke="#9a9a9a" stroke-width="0.6"/>
<path d="M503.7 19.6H505" stroke="#444" stroke-width="0.4"/>
<text x="503.2" y="21.2" font-size="4.4" fill="#555" text-anchor="end"> </text>
<path d="M503.7 38.5H505" stroke="#444" stroke-width="0.4"/>
<text x="503.2" y="40" font-size="4.4" fill="#555" text-anchor="end"> </text>
<path d="M503.7 57.3H505" stroke="#444" stroke-width="0.4"/>
<text x="503.2" y="58.9" font-size="4.4" fill="#555" text-anchor="end"> </text>
<path d="M503.7 76.2H505" stroke="#444" stroke-width="0.4"/>
<text x="503.2" y="77.7" font-size="4.4" fill="#555" text-anchor="end"> </text>
<path d="M503.7 95H505" stroke="#444" stroke-width="0.4"/>
<text x="503.2" y="96.6" font-size="4.4" fill="#555" text-anchor="end"> </text>
<path d="M516.5 98V99.3" stroke="#444" stroke-width="0.4"/>
<text x="516.5" y="105.2" font-size="5.0" fill="#555" text-anchor="middle">non-SD</text>
<path d="M534.4 98V99.3" stroke="#444" stroke-width="0.4"/>
<text x="534.4" y="105.2" font-size="5.0" fill="#555" text-anchor="middle">SD</text>
<rect x="505" y="9.3" width="40.9" height="10.1" fill="#d9d9d9" stroke="#a0a0a0" stroke-width="0.6"/>
<path d="M505 19.2H545.9" stroke="#666" stroke-width="0.8"/>
<text x="525.5" y="16.5" font-size="5.2" fill="#111" font-weight="bold" text-anchor="middle">CD57<tspan baseline-shift="super" font-size="75%">-</tspan>NKG2C<tspan baseline-shift="super" font-size="80%">+</tspan></text>
<rect x="549.1" y="19.4" width="40.9" height="78.6" fill="#fff"/>
<path d="M549.1 29H590" stroke="#f4f4f4" stroke-width="0.4"/>
<path d="M549.1 47.9H590" stroke="#f4f4f4" stroke-width="0.4"/>
<path d="M549.1 66.7H590" stroke="#f4f4f4" stroke-width="0.4"/>
<path d="M549.1 85.6H590" stroke="#f4f4f4" stroke-width="0.4"/>
<path d="M549.1 19.6H590" stroke="#ebebeb" stroke-width="0.5"/>
<path d="M549.1 38.5H590" stroke="#ebebeb" stroke-width="0.5"/>
<path d="M549.1 57.3H590" stroke="#ebebeb" stroke-width="0.5"/>
<path d="M549.1 76.2H590" stroke="#ebebeb" stroke-width="0.5"/>
<path d="M549.1 95H590" stroke="#ebebeb" stroke-width="0.5"/>
<path d="M560.6 19.4V98" stroke="#ebebeb" stroke-width="0.5"/>
<path d="M578.5 19.4V98" stroke="#ebebeb" stroke-width="0.5"/>
<rect x="549.1" y="19.4" width="40.9" height="78.6" fill="none" stroke="#9a9a9a" stroke-width="0.6"/>
<path d="M547.8 19.6H549.1" stroke="#444" stroke-width="0.4"/>
<text x="547.3" y="21.2" font-size="4.4" fill="#555" text-anchor="end"> </text>
<path d="M547.8 38.5H549.1" stroke="#444" stroke-width="0.4"/>
<text x="547.3" y="40" font-size="4.4" fill="#555" text-anchor="end"> </text>
<path d="M547.8 57.3H549.1" stroke="#444" stroke-width="0.4"/>
<text x="547.3" y="58.9" font-size="4.4" fill="#555" text-anchor="end"> </text>
<path d="M547.8 76.2H549.1" stroke="#444" stroke-width="0.4"/>
<text x="547.3" y="77.7" font-size="4.4" fill="#555" text-anchor="end"> </text>
<path d="M547.8 95H549.1" stroke="#444" stroke-width="0.4"/>
<text x="547.3" y="96.6" font-size="4.4" fill="#555" text-anchor="end"> </text>
<path d="M560.6 98V99.3" stroke="#444" stroke-width="0.4"/>
<text x="560.6" y="105.2" font-size="5.0" fill="#555" text-anchor="middle">non-SD</text>
<path d="M578.5 98V99.3" stroke="#444" stroke-width="0.4"/>
<text x="578.5" y="105.2" font-size="5.0" fill="#555" text-anchor="middle">SD</text>
<rect x="549.1" y="9.3" width="40.9" height="10.1" fill="#d9d9d9" stroke="#a0a0a0" stroke-width="0.6"/>
<path d="M549.1 19.2H590" stroke="#666" stroke-width="0.8"/>
<text x="569.5" y="16.5" font-size="5.2" fill="#111" font-weight="bold" text-anchor="middle">CD57<tspan baseline-shift="super" font-size="80%">+</tspan>NKG2C<tspan baseline-shift="super" font-size="80%">+</tspan></text>
<text x="401.5" y="58.2" font-size="7.3" fill="#1a1a1a" text-anchor="middle" transform="rotate(-90 401.5 58.2)">% Ki-67<tspan baseline-shift="super" font-size="65%">+</tspan> of total NK cells</text>
<circle cx="430.1" cy="41.3" r="1.6" fill="#6f8fd0" fill-opacity="0.62"/>
<circle cx="429.6" cy="57.1" r="1.6" fill="#6f8fd0" fill-opacity="0.62"/>
<circle cx="426.1" cy="44.6" r="1.6" fill="#6f8fd0" fill-opacity="0.62"/>
<circle cx="424.7" cy="49" r="1.6" fill="#6f8fd0" fill-opacity="0.62"/>
<circle cx="429.7" cy="46.7" r="1.6" fill="#6f8fd0" fill-opacity="0.62"/>
<circle cx="424.8" cy="44.1" r="1.6" fill="#6f8fd0" fill-opacity="0.62"/>
<circle cx="432.1" cy="57.1" r="1.6" fill="#6f8fd0" fill-opacity="0.62"/>
<circle cx="428.8" cy="43.6" r="1.6" fill="#6f8fd0" fill-opacity="0.62"/>
<circle cx="426.2" cy="52.2" r="1.6" fill="#6f8fd0" fill-opacity="0.62"/>
<circle cx="428.5" cy="42.2" r="1.6" fill="#6f8fd0" fill-opacity="0.62"/>
<rect x="422.5" y="46.4" width="11.4" height="9.7" fill="none" stroke="#1f4e9e" stroke-width="0.7" stroke-opacity="0.6"/>
<path d="M428.2 41.3V57.1" stroke="#1f4e9e" stroke-width="1.2"/>
<path d="M422.5 41.3H433.9" stroke="#1f4e9e" stroke-width="1.2"/>
<path d="M422.5 57.1H433.9" stroke="#1f4e9e" stroke-width="1.2"/>
<path d="M422.5 49.5H433.9" stroke="#1f4e9e" stroke-width="1.2"/>
<circle cx="446.5" cy="22.9" r="1.6" fill="#f78a8a" fill-opacity="0.62"/>
<circle cx="449.6" cy="51.5" r="1.6" fill="#f78a8a" fill-opacity="0.62"/>
<circle cx="450.1" cy="44.5" r="1.6" fill="#f78a8a" fill-opacity="0.62"/>
<circle cx="448.8" cy="24.9" r="1.6" fill="#f78a8a" fill-opacity="0.62"/>
<circle cx="444.7" cy="50" r="1.6" fill="#f78a8a" fill-opacity="0.62"/>
<circle cx="442.9" cy="47.2" r="1.6" fill="#f78a8a" fill-opacity="0.62"/>
<circle cx="446.7" cy="46.1" r="1.6" fill="#f78a8a" fill-opacity="0.62"/>
<circle cx="449.8" cy="35.3" r="1.6" fill="#f78a8a" fill-opacity="0.62"/>
<circle cx="449.9" cy="45.7" r="1.6" fill="#f78a8a" fill-opacity="0.62"/>
<circle cx="446" cy="49.2" r="1.6" fill="#f78a8a" fill-opacity="0.62"/>
<rect x="440.9" y="31.4" width="11.4" height="13.4" fill="none" stroke="#ee1c23" stroke-width="0.7" stroke-opacity="0.6"/>
<path d="M446.6 22.9V51.5" stroke="#ee1c23" stroke-width="1.2"/>
<path d="M440.9 22.9H452.3" stroke="#ee1c23" stroke-width="1.2"/>
<path d="M440.9 51.5H452.3" stroke="#ee1c23" stroke-width="1.2"/>
<path d="M440.9 43.3H452.3" stroke="#ee1c23" stroke-width="1.2"/>
<text x="436.6" y="32.3" font-size="9.6" font-weight="bold" text-anchor="middle" letter-spacing="0.7">**</text>
<circle cx="471.2" cy="78.1" r="1.6" fill="#6f8fd0" fill-opacity="0.62"/>
<circle cx="469.3" cy="89.6" r="1.6" fill="#6f8fd0" fill-opacity="0.62"/>
<circle cx="469.7" cy="86.8" r="1.6" fill="#6f8fd0" fill-opacity="0.62"/>
<circle cx="471.5" cy="85.6" r="1.6" fill="#6f8fd0" fill-opacity="0.62"/>
<circle cx="470.3" cy="84.6" r="1.6" fill="#6f8fd0" fill-opacity="0.62"/>
<circle cx="473.2" cy="81.1" r="1.6" fill="#6f8fd0" fill-opacity="0.62"/>
<circle cx="473.5" cy="79.8" r="1.6" fill="#6f8fd0" fill-opacity="0.62"/>
<circle cx="473.8" cy="82.7" r="1.6" fill="#6f8fd0" fill-opacity="0.62"/>
<circle cx="473.7" cy="88.3" r="1.6" fill="#6f8fd0" fill-opacity="0.62"/>
<circle cx="475.5" cy="83.6" r="1.6" fill="#6f8fd0" fill-opacity="0.62"/>
<circle cx="472.5" cy="72.7" r="1.6" fill="#6f8fd0" fill-opacity="0.6"/>
<rect x="466.5" y="78.9" width="11.4" height="6.9" fill="none" stroke="#1f4e9e" stroke-width="0.7" stroke-opacity="0.6"/>
<path d="M472.2 78.1V89.6" stroke="#1f4e9e" stroke-width="1.2"/>
<path d="M466.5 78.1H477.9" stroke="#1f4e9e" stroke-width="1.2"/>
<path d="M466.5 89.6H477.9" stroke="#1f4e9e" stroke-width="1.2"/>
<path d="M466.5 82.7H477.9" stroke="#1f4e9e" stroke-width="1.2"/>
<circle cx="488.2" cy="80.4" r="1.6" fill="#f78a8a" fill-opacity="0.62"/>
<circle cx="487.7" cy="94.6" r="1.6" fill="#f78a8a" fill-opacity="0.62"/>
<circle cx="492.5" cy="88.2" r="1.6" fill="#f78a8a" fill-opacity="0.62"/>
<circle cx="494.7" cy="87.3" r="1.6" fill="#f78a8a" fill-opacity="0.62"/>
<circle cx="487.9" cy="90" r="1.6" fill="#f78a8a" fill-opacity="0.62"/>
<circle cx="488.2" cy="91.4" r="1.6" fill="#f78a8a" fill-opacity="0.62"/>
<circle cx="488.3" cy="93.2" r="1.6" fill="#f78a8a" fill-opacity="0.62"/>
<circle cx="491.8" cy="90.2" r="1.6" fill="#f78a8a" fill-opacity="0.62"/>
<circle cx="488.6" cy="87.3" r="1.6" fill="#f78a8a" fill-opacity="0.62"/>
<circle cx="493.2" cy="81.3" r="1.6" fill="#f78a8a" fill-opacity="0.62"/>
<rect x="485.1" y="84.7" width="11.4" height="7.2" fill="none" stroke="#ee1c23" stroke-width="0.7" stroke-opacity="0.6"/>
<path d="M490.8 80.4V94.6" stroke="#ee1c23" stroke-width="1.2"/>
<path d="M485.1 80.4H496.5" stroke="#ee1c23" stroke-width="1.2"/>
<path d="M485.1 94.6H496.5" stroke="#ee1c23" stroke-width="1.2"/>
<path d="M485.1 88H496.5" stroke="#ee1c23" stroke-width="1.2"/>
<text x="482.1" y="67.6" font-size="9.6" font-weight="bold" text-anchor="middle" letter-spacing="0.7">**</text>
<circle cx="519" cy="81.2" r="1.6" fill="#6f8fd0" fill-opacity="0.62"/>
<circle cx="519.7" cy="88.5" r="1.6" fill="#6f8fd0" fill-opacity="0.62"/>
<circle cx="516.8" cy="83.8" r="1.6" fill="#6f8fd0" fill-opacity="0.62"/>
<circle cx="513.4" cy="84.4" r="1.6" fill="#6f8fd0" fill-opacity="0.62"/>
<circle cx="513.8" cy="83.7" r="1.6" fill="#6f8fd0" fill-opacity="0.62"/>
<circle cx="515.2" cy="88.3" r="1.6" fill="#6f8fd0" fill-opacity="0.62"/>
<circle cx="512.6" cy="87.2" r="1.6" fill="#6f8fd0" fill-opacity="0.62"/>
<circle cx="515.7" cy="82.8" r="1.6" fill="#6f8fd0" fill-opacity="0.62"/>
<circle cx="514.2" cy="85.7" r="1.6" fill="#6f8fd0" fill-opacity="0.62"/>
<circle cx="516" cy="85" r="1.6" fill="#6f8fd0" fill-opacity="0.62"/>
<rect x="510.5" y="81.9" width="11.4" height="6.2" fill="none" stroke="#1f4e9e" stroke-width="0.7" stroke-opacity="0.6"/>
<path d="M516.2 81.2V88.5" stroke="#1f4e9e" stroke-width="1.2"/>
<path d="M510.5 81.2H521.9" stroke="#1f4e9e" stroke-width="1.2"/>
<path d="M510.5 88.5H521.9" stroke="#1f4e9e" stroke-width="1.2"/>
<path d="M510.5 84.7H521.9" stroke="#1f4e9e" stroke-width="1.2"/>
<circle cx="532.2" cy="79.3" r="1.6" fill="#f78a8a" fill-opacity="0.62"/>
<circle cx="536.4" cy="88.1" r="1.6" fill="#f78a8a" fill-opacity="0.62"/>
<circle cx="532.4" cy="80.8" r="1.6" fill="#f78a8a" fill-opacity="0.62"/>
<circle cx="538.6" cy="87" r="1.6" fill="#f78a8a" fill-opacity="0.62"/>
<circle cx="535.5" cy="80.2" r="1.6" fill="#f78a8a" fill-opacity="0.62"/>
<circle cx="533.2" cy="84.3" r="1.6" fill="#f78a8a" fill-opacity="0.62"/>
<circle cx="535" cy="81" r="1.6" fill="#f78a8a" fill-opacity="0.62"/>
<circle cx="538.5" cy="82.3" r="1.6" fill="#f78a8a" fill-opacity="0.62"/>
<circle cx="536.8" cy="88.1" r="1.6" fill="#f78a8a" fill-opacity="0.62"/>
<circle cx="536.1" cy="79.4" r="1.6" fill="#f78a8a" fill-opacity="0.62"/>
<circle cx="534.7" cy="92.6" r="1.6" fill="#f78a8a" fill-opacity="0.6"/>
<rect x="529.3" y="81.2" width="11.4" height="5.8" fill="none" stroke="#ee1c23" stroke-width="0.7" stroke-opacity="0.6"/>
<path d="M535 79.3V88.1" stroke="#ee1c23" stroke-width="1.2"/>
<path d="M529.3 79.3H540.7" stroke="#ee1c23" stroke-width="1.2"/>
<path d="M529.3 88.1H540.7" stroke="#ee1c23" stroke-width="1.2"/>
<path d="M529.3 84.2H540.7" stroke="#ee1c23" stroke-width="1.2"/>
<circle cx="557.5" cy="82.7" r="1.6" fill="#6f8fd0" fill-opacity="0.62"/>
<circle cx="559" cy="91.9" r="1.6" fill="#6f8fd0" fill-opacity="0.62"/>
<circle cx="556.3" cy="82.9" r="1.6" fill="#6f8fd0" fill-opacity="0.62"/>
<circle cx="559.6" cy="84.7" r="1.6" fill="#6f8fd0" fill-opacity="0.62"/>
<circle cx="558.9" cy="90.9" r="1.6" fill="#6f8fd0" fill-opacity="0.62"/>
<circle cx="560" cy="86.8" r="1.6" fill="#6f8fd0" fill-opacity="0.62"/>
<circle cx="558.7" cy="87.9" r="1.6" fill="#6f8fd0" fill-opacity="0.62"/>
<circle cx="559.3" cy="86.8" r="1.6" fill="#6f8fd0" fill-opacity="0.62"/>
<circle cx="557.5" cy="86.9" r="1.6" fill="#6f8fd0" fill-opacity="0.62"/>
<circle cx="557.2" cy="83.4" r="1.6" fill="#6f8fd0" fill-opacity="0.62"/>
<circle cx="558.5" cy="76.3" r="1.6" fill="#6f8fd0" fill-opacity="0.6"/>
<rect x="554.6" y="82.7" width="11.4" height="8.4" fill="none" stroke="#1f4e9e" stroke-width="0.7" stroke-opacity="0.6"/>
<path d="M560.3 82.7V91.9" stroke="#1f4e9e" stroke-width="1.2"/>
<path d="M554.6 82.7H566" stroke="#1f4e9e" stroke-width="1.2"/>
<path d="M554.6 91.9H566" stroke="#1f4e9e" stroke-width="1.2"/>
<path d="M554.6 86.5H566" stroke="#1f4e9e" stroke-width="1.2"/>
<circle cx="580.6" cy="86.1" r="1.6" fill="#f78a8a" fill-opacity="0.62"/>
<circle cx="576.8" cy="95.7" r="1.6" fill="#f78a8a" fill-opacity="0.62"/>
<circle cx="579.3" cy="91.2" r="1.6" fill="#f78a8a" fill-opacity="0.62"/>
<circle cx="581.3" cy="89.3" r="1.6" fill="#f78a8a" fill-opacity="0.62"/>
<circle cx="578.6" cy="94.7" r="1.6" fill="#f78a8a" fill-opacity="0.62"/>
<circle cx="582.7" cy="94.3" r="1.6" fill="#f78a8a" fill-opacity="0.62"/>
<circle cx="575.3" cy="88.7" r="1.6" fill="#f78a8a" fill-opacity="0.62"/>
<circle cx="578.8" cy="91.6" r="1.6" fill="#f78a8a" fill-opacity="0.62"/>
<circle cx="579.5" cy="92.8" r="1.6" fill="#f78a8a" fill-opacity="0.62"/>
<circle cx="578.2" cy="88.1" r="1.6" fill="#f78a8a" fill-opacity="0.62"/>
<rect x="573.3" y="87.3" width="11.4" height="7.3" fill="none" stroke="#ee1c23" stroke-width="0.7" stroke-opacity="0.6"/>
<path d="M579 86.1V95.7" stroke="#ee1c23" stroke-width="1.2"/>
<path d="M573.3 86.1H584.7" stroke="#ee1c23" stroke-width="1.2"/>
<path d="M573.3 95.7H584.7" stroke="#ee1c23" stroke-width="1.2"/>
<path d="M573.3 90.4H584.7" stroke="#ee1c23" stroke-width="1.2"/>
<text x="570.5" y="69.9" font-size="9.6" font-weight="bold" text-anchor="middle" letter-spacing="0.7">**</text>
<rect x="18.9" y="199.6" width="387.1" height="1" fill="#e2e2e2"/>
<rect x="18.5" y="114.4" width="387" height="85.2" fill="none" stroke="#c4c4c4" stroke-width="0.8"/>
<rect x="18.9" y="283.4" width="387.1" height="1" fill="#e2e2e2"/>
<rect x="18.5" y="202.3" width="387" height="81.1" fill="none" stroke="#c4c4c4" stroke-width="0.8"/>
<text x="22.9" y="124.6" font-size="7.5" font-weight="bold">Activating</text>
<text x="22.9" y="209.7" font-size="7.5" font-weight="bold">Inhibitory</text>
<text x="25.6" y="164.3" font-size="5.5" fill="#111" text-anchor="middle" transform="rotate(-90 25.6 164.3)">Ki-67<tspan baseline-shift="super" font-size="65%">+</tspan> total NK cells</text>
<text x="26.4" y="249.3" font-size="5.5" fill="#111" text-anchor="middle" transform="rotate(-90 26.4 249.3)">Ki-67<tspan baseline-shift="super" font-size="65%">+</tspan> total NK cells</text>
<rect x="35.2" y="136.3" width="49.8" height="55" fill="#fff"/>
<path d="M35.2 147.1H85" stroke="#f4f4f4" stroke-width="0.4"/>
<path d="M35.2 160.7H85" stroke="#f4f4f4" stroke-width="0.4"/>
<path d="M35.2 174.3H85" stroke="#f4f4f4" stroke-width="0.4"/>
<path d="M35.2 188H85" stroke="#f4f4f4" stroke-width="0.4"/>
<path d="M35.2 140.3H85" stroke="#ebebeb" stroke-width="0.5"/>
<path d="M35.2 153.9H85" stroke="#ebebeb" stroke-width="0.5"/>
<path d="M35.2 167.4H85" stroke="#ebebeb" stroke-width="0.5"/>
<path d="M35.2 181.2H85" stroke="#ebebeb" stroke-width="0.5"/>
<path d="M49.3 136.3V191.3" stroke="#ebebeb" stroke-width="0.5"/>
<path d="M72.9 136.3V191.3" stroke="#ebebeb" stroke-width="0.5"/>
<rect x="35.2" y="136.3" width="49.8" height="55" fill="none" stroke="#9a9a9a" stroke-width="0.6"/>
<path d="M33.9 140.3H35.2" stroke="#444" stroke-width="0.4"/>
<text x="33.4" y="141.6" font-size="3.6" fill="#555" text-anchor="end">80</text>
<path d="M33.9 153.9H35.2" stroke="#444" stroke-width="0.4"/>
<text x="33.4" y="155.2" font-size="3.6" fill="#555" text-anchor="end">60</text>
<path d="M33.9 167.4H35.2" stroke="#444" stroke-width="0.4"/>
<text x="33.4" y="168.7" font-size="3.6" fill="#555" text-anchor="end">40</text>
<path d="M33.9 181.2H35.2" stroke="#444" stroke-width="0.4"/>
<text x="33.4" y="182.5" font-size="3.6" fill="#555" text-anchor="end">20</text>
<path d="M49.3 191.3V192.6" stroke="#444" stroke-width="0.4"/>
<text x="49.3" y="197" font-size="4.2" fill="#555" text-anchor="middle">non-SD</text>
<path d="M72.9 191.3V192.6" stroke="#444" stroke-width="0.4"/>
<text x="72.9" y="197" font-size="4.2" fill="#555" text-anchor="middle">SD</text>
<circle cx="52.5" cy="144.4" r="1.6" fill="#6f8fd0" fill-opacity="0.62"/>
<circle cx="45.2" cy="169.7" r="1.6" fill="#6f8fd0" fill-opacity="0.62"/>
<circle cx="51.4" cy="156.3" r="1.6" fill="#6f8fd0" fill-opacity="0.62"/>
<circle cx="51.3" cy="159.4" r="1.6" fill="#6f8fd0" fill-opacity="0.62"/>
<circle cx="46.1" cy="150.7" r="1.6" fill="#6f8fd0" fill-opacity="0.62"/>
<circle cx="46.2" cy="154.5" r="1.6" fill="#6f8fd0" fill-opacity="0.62"/>
<circle cx="50" cy="147.8" r="1.6" fill="#6f8fd0" fill-opacity="0.62"/>
<circle cx="44.5" cy="159.1" r="1.6" fill="#6f8fd0" fill-opacity="0.62"/>
<circle cx="45.1" cy="164.3" r="1.6" fill="#6f8fd0" fill-opacity="0.62"/>
<circle cx="51.2" cy="137.6" r="1.6" fill="#6f8fd0" fill-opacity="0.6"/>
<rect x="42.1" y="152.4" width="14.4" height="7.6" fill="none" stroke="#1f4e9e" stroke-width="0.7" stroke-opacity="0.6"/>
<path d="M49.3 144.4V169.7" stroke="#1f4e9e" stroke-width="1.2"/>
<path d="M42.1 144.4H56.5" stroke="#1f4e9e" stroke-width="1.2"/>
<path d="M42.1 169.7H56.5" stroke="#1f4e9e" stroke-width="1.2"/>
<path d="M42.1 156.2H56.5" stroke="#1f4e9e" stroke-width="1.2"/>
<circle cx="70.3" cy="145.3" r="1.6" fill="#f78a8a" fill-opacity="0.62"/>
<circle cx="77.1" cy="188.5" r="1.6" fill="#f78a8a" fill-opacity="0.62"/>
<circle cx="76.9" cy="182.8" r="1.6" fill="#f78a8a" fill-opacity="0.62"/>
<circle cx="73.9" cy="149.5" r="1.6" fill="#f78a8a" fill-opacity="0.62"/>
<circle cx="75.6" cy="177.5" r="1.6" fill="#f78a8a" fill-opacity="0.62"/>
<circle cx="77.1" cy="147.6" r="1.6" fill="#f78a8a" fill-opacity="0.62"/>
<circle cx="70.4" cy="147.4" r="1.6" fill="#f78a8a" fill-opacity="0.62"/>
<circle cx="75.2" cy="187" r="1.6" fill="#f78a8a" fill-opacity="0.62"/>
<circle cx="77.3" cy="162.6" r="1.6" fill="#f78a8a" fill-opacity="0.62"/>
<rect x="65.7" y="166.6" width="14.4" height="17.3" fill="none" stroke="#ee1c23" stroke-width="0.7" stroke-opacity="0.6"/>
<path d="M72.9 145.3V188.5" stroke="#ee1c23" stroke-width="1.2"/>
<path d="M65.7 145.3H80.1" stroke="#ee1c23" stroke-width="1.2"/>
<path d="M65.7 188.5H80.1" stroke="#ee1c23" stroke-width="1.2"/>
<path d="M65.7 176.1H80.1" stroke="#ee1c23" stroke-width="1.2"/>
<text x="61.2" y="144.6" font-size="8.6" font-weight="bold" text-anchor="middle" letter-spacing="0.2">***</text>
<text x="60.1" y="132.7" font-size="5.7" fill="#111" text-anchor="middle">CD69<tspan baseline-shift="super" font-size="65%">+</tspan> (%)</text>
<rect x="98" y="136.3" width="51.4" height="55" fill="#fff"/>
<path d="M98 149.6H149.4" stroke="#f4f4f4" stroke-width="0.4"/>
<path d="M98 166.8H149.4" stroke="#f4f4f4" stroke-width="0.4"/>
<path d="M98 183.9H149.4" stroke="#f4f4f4" stroke-width="0.4"/>
<path d="M98 141.1H149.4" stroke="#ebebeb" stroke-width="0.5"/>
<path d="M98 158.2H149.4" stroke="#ebebeb" stroke-width="0.5"/>
<path d="M98 175.3H149.4" stroke="#ebebeb" stroke-width="0.5"/>
<path d="M112.1 136.3V191.3" stroke="#ebebeb" stroke-width="0.5"/>
<path d="M135.6 136.3V191.3" stroke="#ebebeb" stroke-width="0.5"/>
<rect x="98" y="136.3" width="51.4" height="55" fill="none" stroke="#9a9a9a" stroke-width="0.6"/>
<path d="M96.7 141.1H98" stroke="#444" stroke-width="0.4"/>
<text x="96.2" y="142.4" font-size="3.6" fill="#555" text-anchor="end">60</text>
<path d="M96.7 158.2H98" stroke="#444" stroke-width="0.4"/>
<text x="96.2" y="159.5" font-size="3.6" fill="#555" text-anchor="end">40</text>
<path d="M96.7 175.3H98" stroke="#444" stroke-width="0.4"/>
<text x="96.2" y="176.6" font-size="3.6" fill="#555" text-anchor="end">20</text>
<path d="M112.1 191.3V192.6" stroke="#444" stroke-width="0.4"/>
<text x="112.1" y="197" font-size="4.2" fill="#555" text-anchor="middle">non-SD</text>
<path d="M135.6 191.3V192.6" stroke="#444" stroke-width="0.4"/>
<text x="135.6" y="197" font-size="4.2" fill="#555" text-anchor="middle">SD</text>
<circle cx="112.4" cy="138.2" r="1.6" fill="#6f8fd0" fill-opacity="0.62"/>
<circle cx="115.2" cy="182.3" r="1.6" fill="#6f8fd0" fill-opacity="0.62"/>
<circle cx="109.6" cy="161.9" r="1.6" fill="#6f8fd0" fill-opacity="0.62"/>
<circle cx="107.2" cy="175.4" r="1.6" fill="#6f8fd0" fill-opacity="0.62"/>
<circle cx="109.5" cy="170.1" r="1.6" fill="#6f8fd0" fill-opacity="0.62"/>
<circle cx="114.8" cy="140.6" r="1.6" fill="#6f8fd0" fill-opacity="0.62"/>
<circle cx="109" cy="165.3" r="1.6" fill="#6f8fd0" fill-opacity="0.62"/>
<circle cx="111.1" cy="155.8" r="1.6" fill="#6f8fd0" fill-opacity="0.62"/>
<circle cx="109.3" cy="170.4" r="1.6" fill="#6f8fd0" fill-opacity="0.62"/>
<rect x="104.9" y="156.7" width="14.4" height="14.3" fill="none" stroke="#1f4e9e" stroke-width="0.7" stroke-opacity="0.6"/>
<path d="M112.1 138.2V182.3" stroke="#1f4e9e" stroke-width="1.2"/>
<path d="M104.9 138.2H119.3" stroke="#1f4e9e" stroke-width="1.2"/>
<path d="M104.9 182.3H119.3" stroke="#1f4e9e" stroke-width="1.2"/>
<path d="M104.9 161.4H119.3" stroke="#1f4e9e" stroke-width="1.2"/>
<circle cx="131" cy="173.2" r="1.6" fill="#f78a8a" fill-opacity="0.62"/>
<circle cx="138.1" cy="186.2" r="1.6" fill="#f78a8a" fill-opacity="0.62"/>
<circle cx="138" cy="184.4" r="1.6" fill="#f78a8a" fill-opacity="0.62"/>
<circle cx="135.5" cy="173.7" r="1.6" fill="#f78a8a" fill-opacity="0.62"/>
<circle cx="139.2" cy="182.7" r="1.6" fill="#f78a8a" fill-opacity="0.62"/>
<circle cx="135.2" cy="174.8" r="1.6" fill="#f78a8a" fill-opacity="0.62"/>
<circle cx="139.7" cy="178.3" r="1.6" fill="#f78a8a" fill-opacity="0.62"/>
<circle cx="133.6" cy="183.8" r="1.6" fill="#f78a8a" fill-opacity="0.62"/>
<circle cx="139.3" cy="175.5" r="1.6" fill="#f78a8a" fill-opacity="0.62"/>
<circle cx="137.8" cy="162.2" r="1.6" fill="#f78a8a" fill-opacity="0.6"/>
<rect x="128.4" y="176.7" width="14.4" height="3.5" fill="none" stroke="#ee1c23" stroke-width="0.7" stroke-opacity="0.6"/>
<path d="M135.6 173.2V186.2" stroke="#ee1c23" stroke-width="1.2"/>
<path d="M128.4 173.2H142.8" stroke="#ee1c23" stroke-width="1.2"/>
<path d="M128.4 186.2H142.8" stroke="#ee1c23" stroke-width="1.2"/>
<path d="M128.4 178.6H142.8" stroke="#ee1c23" stroke-width="1.2"/>
<text x="123.9" y="148" font-size="8.6" font-weight="bold" text-anchor="middle" letter-spacing="0.2">***</text>
<text x="123.7" y="132.7" font-size="5.7" fill="#111" text-anchor="middle">NKG2D<tspan baseline-shift="super" font-size="65%">+</tspan> (%)</text>
<rect x="160" y="136.3" width="51" height="55" fill="#fff"/>
<path d="M160 151.6H211" stroke="#f4f4f4" stroke-width="0.4"/>
<path d="M160 169.3H211" stroke="#f4f4f4" stroke-width="0.4"/>
<path d="M160 187H211" stroke="#f4f4f4" stroke-width="0.4"/>
<path d="M160 142.8H211" stroke="#ebebeb" stroke-width="0.5"/>
<path d="M160 160.4H211" stroke="#ebebeb" stroke-width="0.5"/>
<path d="M160 178.2H211" stroke="#ebebeb" stroke-width="0.5"/>
<path d="M174 136.3V191.3" stroke="#ebebeb" stroke-width="0.5"/>
<path d="M197.5 136.3V191.3" stroke="#ebebeb" stroke-width="0.5"/>
<rect x="160" y="136.3" width="51" height="55" fill="none" stroke="#9a9a9a" stroke-width="0.6"/>
<path d="M158.7 142.8H160" stroke="#444" stroke-width="0.4"/>
<text x="158.2" y="144.1" font-size="3.6" fill="#555" text-anchor="end">60</text>
<path d="M158.7 160.4H160" stroke="#444" stroke-width="0.4"/>
<text x="158.2" y="161.7" font-size="3.6" fill="#555" text-anchor="end">40</text>
<path d="M158.7 178.2H160" stroke="#444" stroke-width="0.4"/>
<text x="158.2" y="179.5" font-size="3.6" fill="#555" text-anchor="end">20</text>
<path d="M174 191.3V192.6" stroke="#444" stroke-width="0.4"/>
<text x="174" y="197" font-size="4.2" fill="#555" text-anchor="middle">non-SD</text>
<path d="M197.5 191.3V192.6" stroke="#444" stroke-width="0.4"/>
<text x="197.5" y="197" font-size="4.2" fill="#555" text-anchor="middle">SD</text>
<circle cx="170.3" cy="138.2" r="1.6" fill="#6f8fd0" fill-opacity="0.62"/>
<circle cx="177.1" cy="187.4" r="1.6" fill="#6f8fd0" fill-opacity="0.62"/>
<circle cx="177.7" cy="162.4" r="1.6" fill="#6f8fd0" fill-opacity="0.62"/>
<circle cx="178.8" cy="173.4" r="1.6" fill="#6f8fd0" fill-opacity="0.62"/>
<circle cx="172.4" cy="144.2" r="1.6" fill="#6f8fd0" fill-opacity="0.62"/>
<circle cx="177.8" cy="150.7" r="1.6" fill="#6f8fd0" fill-opacity="0.62"/>
<circle cx="174.4" cy="139.9" r="1.6" fill="#6f8fd0" fill-opacity="0.62"/>
<circle cx="172.8" cy="170.3" r="1.6" fill="#6f8fd0" fill-opacity="0.62"/>
<circle cx="177.5" cy="185.9" r="1.6" fill="#6f8fd0" fill-opacity="0.62"/>
<rect x="166.8" y="147.5" width="14.4" height="20.9" fill="none" stroke="#1f4e9e" stroke-width="0.7" stroke-opacity="0.6"/>
<path d="M174 138.2V187.4" stroke="#1f4e9e" stroke-width="1.2"/>
<path d="M166.8 138.2H181.2" stroke="#1f4e9e" stroke-width="1.2"/>
<path d="M166.8 187.4H181.2" stroke="#1f4e9e" stroke-width="1.2"/>
<path d="M166.8 157.2H181.2" stroke="#1f4e9e" stroke-width="1.2"/>
<circle cx="192.7" cy="153.5" r="1.6" fill="#f78a8a" fill-opacity="0.62"/>
<circle cx="201.5" cy="188.8" r="1.6" fill="#f78a8a" fill-opacity="0.62"/>
<circle cx="198.2" cy="175.9" r="1.6" fill="#f78a8a" fill-opacity="0.62"/>
<circle cx="195.2" cy="157.6" r="1.6" fill="#f78a8a" fill-opacity="0.62"/>
<circle cx="197.1" cy="162.1" r="1.6" fill="#f78a8a" fill-opacity="0.62"/>
<circle cx="196.5" cy="172.6" r="1.6" fill="#f78a8a" fill-opacity="0.62"/>
<circle cx="192.8" cy="179.7" r="1.6" fill="#f78a8a" fill-opacity="0.62"/>
<circle cx="194" cy="167.5" r="1.6" fill="#f78a8a" fill-opacity="0.62"/>
<circle cx="197.2" cy="170" r="1.6" fill="#f78a8a" fill-opacity="0.62"/>
<rect x="190.3" y="167.4" width="14.4" height="17.8" fill="none" stroke="#ee1c23" stroke-width="0.7" stroke-opacity="0.6"/>
<path d="M197.5 153.5V188.8" stroke="#ee1c23" stroke-width="1.2"/>
<path d="M190.3 153.5H204.7" stroke="#ee1c23" stroke-width="1.2"/>
<path d="M190.3 188.8H204.7" stroke="#ee1c23" stroke-width="1.2"/>
<path d="M190.3 177.2H204.7" stroke="#ee1c23" stroke-width="1.2"/>
<text x="185.6" y="146.5" font-size="8.6" font-weight="bold" text-anchor="middle" letter-spacing="0.2">*</text>
<text x="185.5" y="132.7" font-size="5.7" fill="#111" text-anchor="middle">NKp46<tspan baseline-shift="super" font-size="65%">+</tspan> (%)</text>
<rect x="222.4" y="136.3" width="51.1" height="55" fill="#fff"/>
<path d="M222.4 139.8H273.5" stroke="#f4f4f4" stroke-width="0.4"/>
<path d="M222.4 154.6H273.5" stroke="#f4f4f4" stroke-width="0.4"/>
<path d="M222.4 169.6H273.5" stroke="#f4f4f4" stroke-width="0.4"/>
<path d="M222.4 184.6H273.5" stroke="#f4f4f4" stroke-width="0.4"/>
<path d="M222.4 147.2H273.5" stroke="#ebebeb" stroke-width="0.5"/>
<path d="M222.4 162.1H273.5" stroke="#ebebeb" stroke-width="0.5"/>
<path d="M222.4 177.2H273.5" stroke="#ebebeb" stroke-width="0.5"/>
<path d="M236.3 136.3V191.3" stroke="#ebebeb" stroke-width="0.5"/>
<path d="M259.4 136.3V191.3" stroke="#ebebeb" stroke-width="0.5"/>
<rect x="222.4" y="136.3" width="51.1" height="55" fill="none" stroke="#9a9a9a" stroke-width="0.6"/>
<path d="M221.1 147.2H222.4" stroke="#444" stroke-width="0.4"/>
<text x="220.6" y="148.5" font-size="3.6" fill="#555" text-anchor="end">15</text>
<path d="M221.1 162.1H222.4" stroke="#444" stroke-width="0.4"/>
<text x="220.6" y="163.4" font-size="3.6" fill="#555" text-anchor="end">10</text>
<path d="M221.1 177.2H222.4" stroke="#444" stroke-width="0.4"/>
<text x="220.6" y="178.5" font-size="3.6" fill="#555" text-anchor="end">5</text>
<path d="M236.3 191.3V192.6" stroke="#444" stroke-width="0.4"/>
<text x="236.3" y="197" font-size="4.2" fill="#555" text-anchor="middle">non-SD</text>
<path d="M259.4 191.3V192.6" stroke="#444" stroke-width="0.4"/>
<text x="259.4" y="197" font-size="4.2" fill="#555" text-anchor="middle">SD</text>
<circle cx="240.4" cy="159.6" r="1.6" fill="#6f8fd0" fill-opacity="0.62"/>
<circle cx="238.8" cy="178.2" r="1.6" fill="#6f8fd0" fill-opacity="0.62"/>
<circle cx="235.4" cy="160.8" r="1.6" fill="#6f8fd0" fill-opacity="0.62"/>
<circle cx="239.3" cy="173.8" r="1.6" fill="#6f8fd0" fill-opacity="0.62"/>
<circle cx="241.1" cy="162.9" r="1.6" fill="#6f8fd0" fill-opacity="0.62"/>
<circle cx="236.5" cy="171.2" r="1.6" fill="#6f8fd0" fill-opacity="0.62"/>
<circle cx="232.2" cy="173" r="1.6" fill="#6f8fd0" fill-opacity="0.62"/>
<circle cx="237.1" cy="165.9" r="1.6" fill="#6f8fd0" fill-opacity="0.62"/>
<circle cx="235.3" cy="171.7" r="1.6" fill="#6f8fd0" fill-opacity="0.62"/>
<circle cx="237.5" cy="138.5" r="1.6" fill="#6f8fd0" fill-opacity="0.6"/>
<rect x="229.1" y="160.8" width="14.4" height="13.4" fill="none" stroke="#1f4e9e" stroke-width="0.7" stroke-opacity="0.6"/>
<path d="M236.3 159.6V178.2" stroke="#1f4e9e" stroke-width="1.2"/>
<path d="M229.1 159.6H243.5" stroke="#1f4e9e" stroke-width="1.2"/>
<path d="M229.1 178.2H243.5" stroke="#1f4e9e" stroke-width="1.2"/>
<path d="M229.1 166.2H243.5" stroke="#1f4e9e" stroke-width="1.2"/>
<circle cx="258.1" cy="179" r="1.6" fill="#f78a8a" fill-opacity="0.62"/>
<circle cx="264.4" cy="189.3" r="1.6" fill="#f78a8a" fill-opacity="0.62"/>
<circle cx="256.4" cy="184.4" r="1.6" fill="#f78a8a" fill-opacity="0.62"/>
<circle cx="261" cy="186.8" r="1.6" fill="#f78a8a" fill-opacity="0.62"/>
<circle cx="260" cy="186.8" r="1.6" fill="#f78a8a" fill-opacity="0.62"/>
<circle cx="260" cy="186.1" r="1.6" fill="#f78a8a" fill-opacity="0.62"/>
<circle cx="258.2" cy="186" r="1.6" fill="#f78a8a" fill-opacity="0.62"/>
<circle cx="263.6" cy="184" r="1.6" fill="#f78a8a" fill-opacity="0.62"/>
<circle cx="263.8" cy="182.9" r="1.6" fill="#f78a8a" fill-opacity="0.62"/>
<rect x="252.2" y="180.8" width="14.4" height="5.6" fill="none" stroke="#ee1c23" stroke-width="0.7" stroke-opacity="0.6"/>
<path d="M259.4 179V189.3" stroke="#ee1c23" stroke-width="1.2"/>
<path d="M252.2 179H266.6" stroke="#ee1c23" stroke-width="1.2"/>
<path d="M252.2 189.3H266.6" stroke="#ee1c23" stroke-width="1.2"/>
<path d="M252.2 183.7H266.6" stroke="#ee1c23" stroke-width="1.2"/>
<text x="248.2" y="154.5" font-size="8.6" font-weight="bold" text-anchor="middle" letter-spacing="0.2">**</text>
<text x="247.9" y="132.7" font-size="5.7" fill="#111" text-anchor="middle">GzmB<tspan baseline-shift="super" font-size="65%">+</tspan>perforin<tspan baseline-shift="super" font-size="65%">+</tspan> (%)</text>
<rect x="289.3" y="136.3" width="46.4" height="55" fill="#fff"/>
<path d="M289.3 140.1H335.7" stroke="#f4f4f4" stroke-width="0.4"/>
<path d="M289.3 154.9H335.7" stroke="#f4f4f4" stroke-width="0.4"/>
<path d="M289.3 169.9H335.7" stroke="#f4f4f4" stroke-width="0.4"/>
<path d="M289.3 184.8H335.7" stroke="#f4f4f4" stroke-width="0.4"/>
<path d="M289.3 147.5H335.7" stroke="#ebebeb" stroke-width="0.5"/>
<path d="M289.3 162.3H335.7" stroke="#ebebeb" stroke-width="0.5"/>
<path d="M289.3 177.4H335.7" stroke="#ebebeb" stroke-width="0.5"/>
<path d="M301.7 136.3V191.3" stroke="#ebebeb" stroke-width="0.5"/>
<path d="M323 136.3V191.3" stroke="#ebebeb" stroke-width="0.5"/>
<rect x="289.3" y="136.3" width="46.4" height="55" fill="none" stroke="#9a9a9a" stroke-width="0.6"/>
<path d="M288 147.5H289.3" stroke="#444" stroke-width="0.4"/>
<text x="287.5" y="148.8" font-size="3.6" fill="#555" text-anchor="end">1500</text>
<path d="M288 162.3H289.3" stroke="#444" stroke-width="0.4"/>
<text x="287.5" y="163.6" font-size="3.6" fill="#555" text-anchor="end">1000</text>
<path d="M288 177.4H289.3" stroke="#444" stroke-width="0.4"/>
<text x="287.5" y="178.7" font-size="3.6" fill="#555" text-anchor="end">500</text>
<path d="M301.7 191.3V192.6" stroke="#444" stroke-width="0.4"/>
<text x="301.7" y="197" font-size="4.2" fill="#555" text-anchor="middle">non-SD</text>
<path d="M323 191.3V192.6" stroke="#444" stroke-width="0.4"/>
<text x="323" y="197" font-size="4.2" fill="#555" text-anchor="middle">SD</text>
<circle cx="300.1" cy="138.2" r="1.6" fill="#6f8fd0" fill-opacity="0.62"/>
<circle cx="305.8" cy="163.4" r="1.6" fill="#6f8fd0" fill-opacity="0.62"/>
<circle cx="302.2" cy="143.9" r="1.6" fill="#6f8fd0" fill-opacity="0.62"/>
<circle cx="304.1" cy="147" r="1.6" fill="#6f8fd0" fill-opacity="0.62"/>
<circle cx="302.2" cy="159.6" r="1.6" fill="#6f8fd0" fill-opacity="0.62"/>
<circle cx="305.6" cy="138.6" r="1.6" fill="#6f8fd0" fill-opacity="0.62"/>
<circle cx="306.4" cy="157.3" r="1.6" fill="#6f8fd0" fill-opacity="0.62"/>
<circle cx="302.4" cy="143.3" r="1.6" fill="#6f8fd0" fill-opacity="0.62"/>
<circle cx="300.8" cy="162.1" r="1.6" fill="#6f8fd0" fill-opacity="0.62"/>
<rect x="294.5" y="144.6" width="14.4" height="9.5" fill="none" stroke="#1f4e9e" stroke-width="0.7" stroke-opacity="0.6"/>
<path d="M301.7 138.2V163.4" stroke="#1f4e9e" stroke-width="1.2"/>
<path d="M294.5 138.2H308.9" stroke="#1f4e9e" stroke-width="1.2"/>
<path d="M294.5 163.4H308.9" stroke="#1f4e9e" stroke-width="1.2"/>
<path d="M294.5 148.4H308.9" stroke="#1f4e9e" stroke-width="1.2"/>
<circle cx="324.1" cy="141.1" r="1.6" fill="#f78a8a" fill-opacity="0.62"/>
<circle cx="320.7" cy="188.8" r="1.6" fill="#f78a8a" fill-opacity="0.62"/>
<circle cx="319.1" cy="145.2" r="1.6" fill="#f78a8a" fill-opacity="0.62"/>
<circle cx="321.9" cy="147.8" r="1.6" fill="#f78a8a" fill-opacity="0.62"/>
<circle cx="323.5" cy="182.1" r="1.6" fill="#f78a8a" fill-opacity="0.62"/>
<circle cx="320.4" cy="156.4" r="1.6" fill="#f78a8a" fill-opacity="0.62"/>
<circle cx="327.6" cy="146.2" r="1.6" fill="#f78a8a" fill-opacity="0.62"/>
<circle cx="322.3" cy="184.1" r="1.6" fill="#f78a8a" fill-opacity="0.62"/>
<circle cx="322.9" cy="152.3" r="1.6" fill="#f78a8a" fill-opacity="0.62"/>
<rect x="315.8" y="158.2" width="14.4" height="30.4" fill="none" stroke="#ee1c23" stroke-width="0.7" stroke-opacity="0.6"/>
<path d="M323 141.1V188.8" stroke="#ee1c23" stroke-width="1.2"/>
<path d="M315.8 141.1H330.2" stroke="#ee1c23" stroke-width="1.2"/>
<path d="M315.8 188.8H330.2" stroke="#ee1c23" stroke-width="1.2"/>
<path d="M315.8 188.4H330.2" stroke="#ee1c23" stroke-width="1.2"/>
<text x="312.7" y="144.1" font-size="8.6" font-weight="bold" text-anchor="middle" letter-spacing="0.2">*</text>
<text x="312.5" y="132.7" font-size="5.7" fill="#111" text-anchor="middle">GzmB<tspan baseline-shift="super" font-size="65%">+</tspan> (MFI)</text>
<rect x="349.3" y="136.3" width="48.6" height="55" fill="#fff"/>
<path d="M349.3 139.7H397.9" stroke="#f4f4f4" stroke-width="0.4"/>
<path d="M349.3 148.9H397.9" stroke="#f4f4f4" stroke-width="0.4"/>
<path d="M349.3 158.4H397.9" stroke="#f4f4f4" stroke-width="0.4"/>
<path d="M349.3 168.1H397.9" stroke="#f4f4f4" stroke-width="0.4"/>
<path d="M349.3 177.6H397.9" stroke="#f4f4f4" stroke-width="0.4"/>
<path d="M349.3 186.9H397.9" stroke="#f4f4f4" stroke-width="0.4"/>
<path d="M349.3 144.3H397.9" stroke="#ebebeb" stroke-width="0.5"/>
<path d="M349.3 153.5H397.9" stroke="#ebebeb" stroke-width="0.5"/>
<path d="M349.3 163.3H397.9" stroke="#ebebeb" stroke-width="0.5"/>
<path d="M349.3 172.8H397.9" stroke="#ebebeb" stroke-width="0.5"/>
<path d="M349.3 182.3H397.9" stroke="#ebebeb" stroke-width="0.5"/>
<path d="M362.4 136.3V191.3" stroke="#ebebeb" stroke-width="0.5"/>
<path d="M384.8 136.3V191.3" stroke="#ebebeb" stroke-width="0.5"/>
<rect x="349.3" y="136.3" width="48.6" height="55" fill="none" stroke="#9a9a9a" stroke-width="0.6"/>
<path d="M348 144.3H349.3" stroke="#444" stroke-width="0.4"/>
<text x="347.5" y="145.6" font-size="3.6" fill="#555" text-anchor="end">300</text>
<path d="M348 153.5H349.3" stroke="#444" stroke-width="0.4"/>
<text x="347.5" y="154.8" font-size="3.6" fill="#555" text-anchor="end">250</text>
<path d="M348 163.3H349.3" stroke="#444" stroke-width="0.4"/>
<text x="347.5" y="164.6" font-size="3.6" fill="#555" text-anchor="end">200</text>
<path d="M348 172.8H349.3" stroke="#444" stroke-width="0.4"/>
<text x="347.5" y="174.1" font-size="3.6" fill="#555" text-anchor="end">150</text>
<path d="M348 182.3H349.3" stroke="#444" stroke-width="0.4"/>
<text x="347.5" y="183.6" font-size="3.6" fill="#555" text-anchor="end">100</text>
<path d="M362.4 191.3V192.6" stroke="#444" stroke-width="0.4"/>
<text x="362.4" y="197" font-size="4.2" fill="#555" text-anchor="middle">non-SD</text>
<path d="M384.8 191.3V192.6" stroke="#444" stroke-width="0.4"/>
<text x="384.8" y="197" font-size="4.2" fill="#555" text-anchor="middle">SD</text>
<circle cx="366.2" cy="138.2" r="1.6" fill="#6f8fd0" fill-opacity="0.62"/>
<circle cx="358.5" cy="178" r="1.6" fill="#6f8fd0" fill-opacity="0.62"/>
<circle cx="359.8" cy="171.5" r="1.6" fill="#6f8fd0" fill-opacity="0.62"/>
<circle cx="362.8" cy="166.5" r="1.6" fill="#6f8fd0" fill-opacity="0.62"/>
<circle cx="358.5" cy="177.3" r="1.6" fill="#6f8fd0" fill-opacity="0.62"/>
<circle cx="366" cy="164.6" r="1.6" fill="#6f8fd0" fill-opacity="0.62"/>
<circle cx="359.3" cy="165.4" r="1.6" fill="#6f8fd0" fill-opacity="0.62"/>
<circle cx="365.9" cy="153.4" r="1.6" fill="#6f8fd0" fill-opacity="0.62"/>
<circle cx="359.3" cy="164.4" r="1.6" fill="#6f8fd0" fill-opacity="0.62"/>
<rect x="355.2" y="153.5" width="14.4" height="10.5" fill="none" stroke="#1f4e9e" stroke-width="0.7" stroke-opacity="0.6"/>
<path d="M362.4 138.2V178" stroke="#1f4e9e" stroke-width="1.2"/>
<path d="M355.2 138.2H369.6" stroke="#1f4e9e" stroke-width="1.2"/>
<path d="M355.2 178H369.6" stroke="#1f4e9e" stroke-width="1.2"/>
<path d="M355.2 161.8H369.6" stroke="#1f4e9e" stroke-width="1.2"/>
<circle cx="389.4" cy="163.4" r="1.6" fill="#f78a8a" fill-opacity="0.62"/>
<circle cx="384.5" cy="188.8" r="1.6" fill="#f78a8a" fill-opacity="0.62"/>
<circle cx="380.2" cy="169.3" r="1.6" fill="#f78a8a" fill-opacity="0.62"/>
<circle cx="384" cy="181" r="1.6" fill="#f78a8a" fill-opacity="0.62"/>
<circle cx="388.4" cy="173.5" r="1.6" fill="#f78a8a" fill-opacity="0.62"/>
<circle cx="386.1" cy="171.1" r="1.6" fill="#f78a8a" fill-opacity="0.62"/>
<circle cx="381.4" cy="183.5" r="1.6" fill="#f78a8a" fill-opacity="0.62"/>
<circle cx="383.8" cy="182.1" r="1.6" fill="#f78a8a" fill-opacity="0.62"/>
<circle cx="384.7" cy="185.2" r="1.6" fill="#f78a8a" fill-opacity="0.62"/>
<rect x="377.6" y="165.5" width="14.4" height="16" fill="none" stroke="#ee1c23" stroke-width="0.7" stroke-opacity="0.6"/>
<path d="M384.8 163.4V188.8" stroke="#ee1c23" stroke-width="1.2"/>
<path d="M377.6 163.4H392" stroke="#ee1c23" stroke-width="1.2"/>
<path d="M377.6 188.8H392" stroke="#ee1c23" stroke-width="1.2"/>
<path d="M377.6 174.2H392" stroke="#ee1c23" stroke-width="1.2"/>
<text x="373.5" y="151.1" font-size="8.6" font-weight="bold" text-anchor="middle" letter-spacing="0.2">*</text>
<text x="373.6" y="132.7" font-size="5.7" fill="#111" text-anchor="middle">perforin<tspan baseline-shift="super" font-size="65%">+</tspan> (MFI)</text>
<rect x="37.8" y="220.4" width="49" height="55.1" fill="#fff"/>
<path d="M37.8 229.9H86.8" stroke="#f4f4f4" stroke-width="0.4"/>
<path d="M37.8 239.6H86.8" stroke="#f4f4f4" stroke-width="0.4"/>
<path d="M37.8 249.4H86.8" stroke="#f4f4f4" stroke-width="0.4"/>
<path d="M37.8 259.3H86.8" stroke="#f4f4f4" stroke-width="0.4"/>
<path d="M37.8 269H86.8" stroke="#f4f4f4" stroke-width="0.4"/>
<path d="M37.8 225.1H86.8" stroke="#ebebeb" stroke-width="0.5"/>
<path d="M37.8 234.8H86.8" stroke="#ebebeb" stroke-width="0.5"/>
<path d="M37.8 244.4H86.8" stroke="#ebebeb" stroke-width="0.5"/>
<path d="M37.8 254.4H86.8" stroke="#ebebeb" stroke-width="0.5"/>
<path d="M37.8 264.2H86.8" stroke="#ebebeb" stroke-width="0.5"/>
<path d="M37.8 273.8H86.8" stroke="#ebebeb" stroke-width="0.5"/>
<path d="M51 220.4V275.5" stroke="#ebebeb" stroke-width="0.5"/>
<path d="M73.5 220.4V275.5" stroke="#ebebeb" stroke-width="0.5"/>
<rect x="37.8" y="220.4" width="49" height="55.1" fill="none" stroke="#9a9a9a" stroke-width="0.6"/>
<path d="M36.5 225.1H37.8" stroke="#444" stroke-width="0.4"/>
<text x="36" y="226.4" font-size="3.6" fill="#555" text-anchor="end">700</text>
<path d="M36.5 234.8H37.8" stroke="#444" stroke-width="0.4"/>
<text x="36" y="236.1" font-size="3.6" fill="#555" text-anchor="end">600</text>
<path d="M36.5 244.4H37.8" stroke="#444" stroke-width="0.4"/>
<text x="36" y="245.7" font-size="3.6" fill="#555" text-anchor="end">500</text>
<path d="M36.5 254.4H37.8" stroke="#444" stroke-width="0.4"/>
<text x="36" y="255.7" font-size="3.6" fill="#555" text-anchor="end">400</text>
<path d="M36.5 264.2H37.8" stroke="#444" stroke-width="0.4"/>
<text x="36" y="265.5" font-size="3.6" fill="#555" text-anchor="end">300</text>
<path d="M36.5 273.8H37.8" stroke="#444" stroke-width="0.4"/>
<text x="36" y="275.1" font-size="3.6" fill="#555" text-anchor="end">200</text>
<path d="M51 275.5V276.8" stroke="#444" stroke-width="0.4"/>
<text x="51" y="281.1" font-size="4.2" fill="#555" text-anchor="middle">non-SD</text>
<path d="M73.5 275.5V276.8" stroke="#444" stroke-width="0.4"/>
<text x="73.5" y="281.1" font-size="4.2" fill="#555" text-anchor="middle">SD</text>
<circle cx="53" cy="247.5" r="1.6" fill="#6f8fd0" fill-opacity="0.62"/>
<circle cx="50.9" cy="273.4" r="1.6" fill="#6f8fd0" fill-opacity="0.62"/>
<circle cx="51.6" cy="258.5" r="1.6" fill="#6f8fd0" fill-opacity="0.62"/>
<circle cx="48.9" cy="259.4" r="1.6" fill="#6f8fd0" fill-opacity="0.62"/>
<circle cx="52.8" cy="269.8" r="1.6" fill="#6f8fd0" fill-opacity="0.62"/>
<circle cx="53.5" cy="266.3" r="1.6" fill="#6f8fd0" fill-opacity="0.62"/>
<circle cx="52.2" cy="267.7" r="1.6" fill="#6f8fd0" fill-opacity="0.62"/>
<circle cx="52" cy="248.6" r="1.6" fill="#6f8fd0" fill-opacity="0.62"/>
<circle cx="53.6" cy="272.8" r="1.6" fill="#6f8fd0" fill-opacity="0.62"/>
<rect x="43.8" y="256.2" width="14.4" height="7.2" fill="none" stroke="#1f4e9e" stroke-width="0.7" stroke-opacity="0.6"/>
<path d="M51 247.5V273.4" stroke="#1f4e9e" stroke-width="1.2"/>
<path d="M43.8 247.5H58.2" stroke="#1f4e9e" stroke-width="1.2"/>
<path d="M43.8 273.4H58.2" stroke="#1f4e9e" stroke-width="1.2"/>
<path d="M43.8 260.3H58.2" stroke="#1f4e9e" stroke-width="1.2"/>
<circle cx="75.2" cy="222.5" r="1.6" fill="#f78a8a" fill-opacity="0.62"/>
<circle cx="74" cy="263.4" r="1.6" fill="#f78a8a" fill-opacity="0.62"/>
<circle cx="75.4" cy="251.8" r="1.6" fill="#f78a8a" fill-opacity="0.62"/>
<circle cx="77.7" cy="247.5" r="1.6" fill="#f78a8a" fill-opacity="0.62"/>
<circle cx="75.8" cy="227.3" r="1.6" fill="#f78a8a" fill-opacity="0.62"/>
<circle cx="69.7" cy="248.3" r="1.6" fill="#f78a8a" fill-opacity="0.62"/>
<circle cx="76.1" cy="233.9" r="1.6" fill="#f78a8a" fill-opacity="0.62"/>
<circle cx="71" cy="227" r="1.6" fill="#f78a8a" fill-opacity="0.62"/>
<circle cx="74.4" cy="259.5" r="1.6" fill="#f78a8a" fill-opacity="0.62"/>
<rect x="66.3" y="234.5" width="14.4" height="16.7" fill="none" stroke="#ee1c23" stroke-width="0.7" stroke-opacity="0.6"/>
<path d="M73.5 222.5V263.4" stroke="#ee1c23" stroke-width="1.2"/>
<path d="M66.3 222.5H80.7" stroke="#ee1c23" stroke-width="1.2"/>
<path d="M66.3 263.4H80.7" stroke="#ee1c23" stroke-width="1.2"/>
<path d="M66.3 242.1H80.7" stroke="#ee1c23" stroke-width="1.2"/>
<text x="61.7" y="233.1" font-size="8.6" font-weight="bold" text-anchor="middle" letter-spacing="0.2">**</text>
<text x="62.3" y="216.8" font-size="5.7" fill="#111" text-anchor="middle">LILRB1<tspan baseline-shift="super" font-size="65%">+</tspan> (MFI)</text>
<rect x="100.3" y="220.4" width="49.2" height="55.1" fill="#fff"/>
<path d="M100.3 224.1H149.5" stroke="#f4f4f4" stroke-width="0.4"/>
<path d="M100.3 234.3H149.5" stroke="#f4f4f4" stroke-width="0.4"/>
<path d="M100.3 244.7H149.5" stroke="#f4f4f4" stroke-width="0.4"/>
<path d="M100.3 255H149.5" stroke="#f4f4f4" stroke-width="0.4"/>
<path d="M100.3 265.2H149.5" stroke="#f4f4f4" stroke-width="0.4"/>
<path d="M100.3 229.2H149.5" stroke="#ebebeb" stroke-width="0.5"/>
<path d="M100.3 239.4H149.5" stroke="#ebebeb" stroke-width="0.5"/>
<path d="M100.3 249.9H149.5" stroke="#ebebeb" stroke-width="0.5"/>
<path d="M100.3 260.1H149.5" stroke="#ebebeb" stroke-width="0.5"/>
<path d="M100.3 270.4H149.5" stroke="#ebebeb" stroke-width="0.5"/>
<path d="M113.9 220.4V275.5" stroke="#ebebeb" stroke-width="0.5"/>
<path d="M136.2 220.4V275.5" stroke="#ebebeb" stroke-width="0.5"/>
<rect x="100.3" y="220.4" width="49.2" height="55.1" fill="none" stroke="#9a9a9a" stroke-width="0.6"/>
<path d="M99 229.2H100.3" stroke="#444" stroke-width="0.4"/>
<text x="98.5" y="230.5" font-size="3.6" fill="#555" text-anchor="end">300</text>
<path d="M99 239.4H100.3" stroke="#444" stroke-width="0.4"/>
<text x="98.5" y="240.7" font-size="3.6" fill="#555" text-anchor="end">250</text>
<path d="M99 249.9H100.3" stroke="#444" stroke-width="0.4"/>
<text x="98.5" y="251.2" font-size="3.6" fill="#555" text-anchor="end">200</text>
<path d="M99 260.1H100.3" stroke="#444" stroke-width="0.4"/>
<text x="98.5" y="261.4" font-size="3.6" fill="#555" text-anchor="end">150</text>
<path d="M99 270.4H100.3" stroke="#444" stroke-width="0.4"/>
<text x="98.5" y="271.7" font-size="3.6" fill="#555" text-anchor="end">100</text>
<path d="M113.9 275.5V276.8" stroke="#444" stroke-width="0.4"/>
<text x="113.9" y="281.1" font-size="4.2" fill="#555" text-anchor="middle">non-SD</text>
<path d="M136.2 275.5V276.8" stroke="#444" stroke-width="0.4"/>
<text x="136.2" y="281.1" font-size="4.2" fill="#555" text-anchor="middle">SD</text>
<circle cx="113.5" cy="237.4" r="1.6" fill="#6f8fd0" fill-opacity="0.62"/>
<circle cx="109.9" cy="273" r="1.6" fill="#6f8fd0" fill-opacity="0.62"/>
<circle cx="115.3" cy="254.5" r="1.6" fill="#6f8fd0" fill-opacity="0.62"/>
<circle cx="111.2" cy="248.8" r="1.6" fill="#6f8fd0" fill-opacity="0.62"/>
<circle cx="111.6" cy="239.7" r="1.6" fill="#6f8fd0" fill-opacity="0.62"/>
<circle cx="118.9" cy="237.9" r="1.6" fill="#6f8fd0" fill-opacity="0.62"/>
<circle cx="116.9" cy="267" r="1.6" fill="#6f8fd0" fill-opacity="0.62"/>
<circle cx="111.8" cy="263.7" r="1.6" fill="#6f8fd0" fill-opacity="0.62"/>
<circle cx="110.9" cy="260.3" r="1.6" fill="#6f8fd0" fill-opacity="0.62"/>
<circle cx="117.4" cy="226" r="1.6" fill="#6f8fd0" fill-opacity="0.6"/>
<rect x="106.7" y="250.4" width="14.4" height="12.8" fill="none" stroke="#1f4e9e" stroke-width="0.7" stroke-opacity="0.6"/>
<path d="M113.9 237.4V273" stroke="#1f4e9e" stroke-width="1.2"/>
<path d="M106.7 237.4H121.1" stroke="#1f4e9e" stroke-width="1.2"/>
<path d="M106.7 273H121.1" stroke="#1f4e9e" stroke-width="1.2"/>
<path d="M106.7 257.4H121.1" stroke="#1f4e9e" stroke-width="1.2"/>
<circle cx="132.9" cy="222.6" r="1.6" fill="#f78a8a" fill-opacity="0.62"/>
<circle cx="138.4" cy="253" r="1.6" fill="#f78a8a" fill-opacity="0.62"/>
<circle cx="131.4" cy="238.1" r="1.6" fill="#f78a8a" fill-opacity="0.62"/>
<circle cx="135.9" cy="233.6" r="1.6" fill="#f78a8a" fill-opacity="0.62"/>
<circle cx="136.6" cy="251.3" r="1.6" fill="#f78a8a" fill-opacity="0.62"/>
<circle cx="136.6" cy="246.9" r="1.6" fill="#f78a8a" fill-opacity="0.62"/>
<circle cx="139.3" cy="233.9" r="1.6" fill="#f78a8a" fill-opacity="0.62"/>
<circle cx="136.7" cy="241.6" r="1.6" fill="#f78a8a" fill-opacity="0.62"/>
<circle cx="140.6" cy="223.9" r="1.6" fill="#f78a8a" fill-opacity="0.62"/>
<rect x="129" y="226.3" width="14.4" height="17.9" fill="none" stroke="#ee1c23" stroke-width="0.7" stroke-opacity="0.6"/>
<path d="M136.2 222.6V253" stroke="#ee1c23" stroke-width="1.2"/>
<path d="M129 222.6H143.4" stroke="#ee1c23" stroke-width="1.2"/>
<path d="M129 253H143.4" stroke="#ee1c23" stroke-width="1.2"/>
<path d="M129 235.5H143.4" stroke="#ee1c23" stroke-width="1.2"/>
<text x="124.5" y="233.3" font-size="8.6" font-weight="bold" text-anchor="middle" letter-spacing="0.2">**</text>
<text x="124.9" y="216.8" font-size="5.7" fill="#111" text-anchor="middle">NKG2A<tspan baseline-shift="super" font-size="65%">+</tspan> (MFI)</text>
<rect x="164.3" y="220.4" width="47" height="55.1" fill="#fff"/>
<path d="M164.3 222.5H211.3" stroke="#f4f4f4" stroke-width="0.4"/>
<path d="M164.3 233.5H211.3" stroke="#f4f4f4" stroke-width="0.4"/>
<path d="M164.3 244.1H211.3" stroke="#f4f4f4" stroke-width="0.4"/>
<path d="M164.3 254.3H211.3" stroke="#f4f4f4" stroke-width="0.4"/>
<path d="M164.3 264.7H211.3" stroke="#f4f4f4" stroke-width="0.4"/>
<path d="M164.3 228H211.3" stroke="#ebebeb" stroke-width="0.5"/>
<path d="M164.3 239H211.3" stroke="#ebebeb" stroke-width="0.5"/>
<path d="M164.3 249.2H211.3" stroke="#ebebeb" stroke-width="0.5"/>
<path d="M164.3 259.4H211.3" stroke="#ebebeb" stroke-width="0.5"/>
<path d="M164.3 270H211.3" stroke="#ebebeb" stroke-width="0.5"/>
<path d="M177.3 220.4V275.5" stroke="#ebebeb" stroke-width="0.5"/>
<path d="M198.7 220.4V275.5" stroke="#ebebeb" stroke-width="0.5"/>
<rect x="164.3" y="220.4" width="47" height="55.1" fill="none" stroke="#9a9a9a" stroke-width="0.6"/>
<path d="M163 228H164.3" stroke="#444" stroke-width="0.4"/>
<text x="162.5" y="229.3" font-size="3.6" fill="#555" text-anchor="end">5000</text>
<path d="M163 239H164.3" stroke="#444" stroke-width="0.4"/>
<text x="162.5" y="240.3" font-size="3.6" fill="#555" text-anchor="end">4000</text>
<path d="M163 249.2H164.3" stroke="#444" stroke-width="0.4"/>
<text x="162.5" y="250.5" font-size="3.6" fill="#555" text-anchor="end">3000</text>
<path d="M163 259.4H164.3" stroke="#444" stroke-width="0.4"/>
<text x="162.5" y="260.7" font-size="3.6" fill="#555" text-anchor="end">2000</text>
<path d="M163 270H164.3" stroke="#444" stroke-width="0.4"/>
<text x="162.5" y="271.3" font-size="3.6" fill="#555" text-anchor="end">1000</text>
<path d="M177.3 275.5V276.8" stroke="#444" stroke-width="0.4"/>
<text x="177.3" y="281.1" font-size="4.2" fill="#555" text-anchor="middle">non-SD</text>
<path d="M198.7 275.5V276.8" stroke="#444" stroke-width="0.4"/>
<text x="198.7" y="281.1" font-size="4.2" fill="#555" text-anchor="middle">SD</text>
<circle cx="182" cy="260.3" r="1.6" fill="#6f8fd0" fill-opacity="0.62"/>
<circle cx="179.2" cy="273" r="1.6" fill="#6f8fd0" fill-opacity="0.62"/>
<circle cx="181.9" cy="261.6" r="1.6" fill="#6f8fd0" fill-opacity="0.62"/>
<circle cx="174.7" cy="266.3" r="1.6" fill="#6f8fd0" fill-opacity="0.62"/>
<circle cx="178.5" cy="269.3" r="1.6" fill="#6f8fd0" fill-opacity="0.62"/>
<circle cx="176.6" cy="261.2" r="1.6" fill="#6f8fd0" fill-opacity="0.62"/>
<circle cx="175.5" cy="265.7" r="1.6" fill="#6f8fd0" fill-opacity="0.62"/>
<circle cx="177.1" cy="262.5" r="1.6" fill="#6f8fd0" fill-opacity="0.62"/>
<circle cx="176.9" cy="271.4" r="1.6" fill="#6f8fd0" fill-opacity="0.62"/>
<rect x="170.1" y="263.8" width="14.4" height="6.2" fill="none" stroke="#1f4e9e" stroke-width="0.7" stroke-opacity="0.6"/>
<path d="M177.3 260.3V273" stroke="#1f4e9e" stroke-width="1.2"/>
<path d="M170.1 260.3H184.5" stroke="#1f4e9e" stroke-width="1.2"/>
<path d="M170.1 273H184.5" stroke="#1f4e9e" stroke-width="1.2"/>
<path d="M170.1 266.4H184.5" stroke="#1f4e9e" stroke-width="1.2"/>
<circle cx="196" cy="245" r="1.6" fill="#f78a8a" fill-opacity="0.62"/>
<circle cx="196.5" cy="271.5" r="1.6" fill="#f78a8a" fill-opacity="0.62"/>
<circle cx="198.5" cy="269.3" r="1.6" fill="#f78a8a" fill-opacity="0.62"/>
<circle cx="202.8" cy="257.3" r="1.6" fill="#f78a8a" fill-opacity="0.62"/>
<circle cx="199.6" cy="270.9" r="1.6" fill="#f78a8a" fill-opacity="0.62"/>
<circle cx="196.3" cy="257.9" r="1.6" fill="#f78a8a" fill-opacity="0.62"/>
<circle cx="203.4" cy="260.6" r="1.6" fill="#f78a8a" fill-opacity="0.62"/>
<circle cx="199.8" cy="259" r="1.6" fill="#f78a8a" fill-opacity="0.62"/>
<circle cx="197.3" cy="251.3" r="1.6" fill="#f78a8a" fill-opacity="0.62"/>
<circle cx="197.9" cy="223" r="1.6" fill="#f78a8a" fill-opacity="0.6"/>
<rect x="191.5" y="253.3" width="14.4" height="8" fill="none" stroke="#ee1c23" stroke-width="0.7" stroke-opacity="0.6"/>
<path d="M198.7 245V271.5" stroke="#ee1c23" stroke-width="1.2"/>
<path d="M191.5 245H205.9" stroke="#ee1c23" stroke-width="1.2"/>
<path d="M191.5 271.5H205.9" stroke="#ee1c23" stroke-width="1.2"/>
<path d="M191.5 259.1H205.9" stroke="#ee1c23" stroke-width="1.2"/>
<text x="187.6" y="245.7" font-size="8.6" font-weight="bold" text-anchor="middle" letter-spacing="0.2">*</text>
<text x="187.8" y="216.8" font-size="5.7" fill="#111" text-anchor="middle">PD-L1<tspan baseline-shift="super" font-size="65%">+</tspan> (MFI)</text>
<rect x="224.5" y="220.4" width="49.2" height="55.1" fill="#fff"/>
<path d="M224.5 226.8H273.7" stroke="#f4f4f4" stroke-width="0.4"/>
<path d="M224.5 244.2H273.7" stroke="#f4f4f4" stroke-width="0.4"/>
<path d="M224.5 261.7H273.7" stroke="#f4f4f4" stroke-width="0.4"/>
<path d="M224.5 235.5H273.7" stroke="#ebebeb" stroke-width="0.5"/>
<path d="M224.5 253H273.7" stroke="#ebebeb" stroke-width="0.5"/>
<path d="M224.5 270.4H273.7" stroke="#ebebeb" stroke-width="0.5"/>
<path d="M237.9 220.4V275.5" stroke="#ebebeb" stroke-width="0.5"/>
<path d="M260.1 220.4V275.5" stroke="#ebebeb" stroke-width="0.5"/>
<rect x="224.5" y="220.4" width="49.2" height="55.1" fill="none" stroke="#9a9a9a" stroke-width="0.6"/>
<path d="M223.2 235.5H224.5" stroke="#444" stroke-width="0.4"/>
<text x="222.7" y="236.8" font-size="3.6" fill="#555" text-anchor="end">100</text>
<path d="M223.2 253H224.5" stroke="#444" stroke-width="0.4"/>
<text x="222.7" y="254.3" font-size="3.6" fill="#555" text-anchor="end">50</text>
<path d="M223.2 270.4H224.5" stroke="#444" stroke-width="0.4"/>
<text x="222.7" y="271.7" font-size="3.6" fill="#555" text-anchor="end">0</text>
<path d="M237.9 275.5V276.8" stroke="#444" stroke-width="0.4"/>
<text x="237.9" y="281.1" font-size="4.2" fill="#555" text-anchor="middle">non-SD</text>
<path d="M260.1 275.5V276.8" stroke="#444" stroke-width="0.4"/>
<text x="260.1" y="281.1" font-size="4.2" fill="#555" text-anchor="middle">SD</text>
<circle cx="240.7" cy="261.3" r="1.6" fill="#6f8fd0" fill-opacity="0.62"/>
<circle cx="241.6" cy="268.3" r="1.6" fill="#6f8fd0" fill-opacity="0.62"/>
<circle cx="241.7" cy="268.1" r="1.6" fill="#6f8fd0" fill-opacity="0.62"/>
<circle cx="235.3" cy="261.6" r="1.6" fill="#6f8fd0" fill-opacity="0.62"/>
<circle cx="240.7" cy="267.2" r="1.6" fill="#6f8fd0" fill-opacity="0.62"/>
<circle cx="237.7" cy="263" r="1.6" fill="#6f8fd0" fill-opacity="0.62"/>
<circle cx="241.8" cy="264.3" r="1.6" fill="#6f8fd0" fill-opacity="0.62"/>
<circle cx="239.8" cy="267.9" r="1.6" fill="#6f8fd0" fill-opacity="0.62"/>
<circle cx="238" cy="267.1" r="1.6" fill="#6f8fd0" fill-opacity="0.62"/>
<circle cx="240.1" cy="273" r="1.6" fill="#6f8fd0" fill-opacity="0.6"/>
<rect x="230.7" y="263.1" width="14.4" height="4.3" fill="none" stroke="#1f4e9e" stroke-width="0.7" stroke-opacity="0.6"/>
<path d="M237.9 261.3V268.3" stroke="#1f4e9e" stroke-width="1.2"/>
<path d="M230.7 261.3H245.1" stroke="#1f4e9e" stroke-width="1.2"/>
<path d="M230.7 268.3H245.1" stroke="#1f4e9e" stroke-width="1.2"/>
<path d="M230.7 265.3H245.1" stroke="#1f4e9e" stroke-width="1.2"/>
<circle cx="260" cy="246.4" r="1.6" fill="#f78a8a" fill-opacity="0.62"/>
<circle cx="259.4" cy="265.4" r="1.6" fill="#f78a8a" fill-opacity="0.62"/>
<circle cx="259.7" cy="263.4" r="1.6" fill="#f78a8a" fill-opacity="0.62"/>
<circle cx="258.7" cy="252" r="1.6" fill="#f78a8a" fill-opacity="0.62"/>
<circle cx="257.6" cy="262.8" r="1.6" fill="#f78a8a" fill-opacity="0.62"/>
<circle cx="255.4" cy="257.1" r="1.6" fill="#f78a8a" fill-opacity="0.62"/>
<circle cx="263.1" cy="253.7" r="1.6" fill="#f78a8a" fill-opacity="0.62"/>
<circle cx="263.4" cy="252.8" r="1.6" fill="#f78a8a" fill-opacity="0.62"/>
<circle cx="259.6" cy="256.3" r="1.6" fill="#f78a8a" fill-opacity="0.62"/>
<circle cx="261" cy="222.6" r="1.6" fill="#f78a8a" fill-opacity="0.6"/>
<rect x="252.9" y="251.4" width="14.4" height="5.8" fill="none" stroke="#ee1c23" stroke-width="0.7" stroke-opacity="0.6"/>
<path d="M260.1 246.4V265.4" stroke="#ee1c23" stroke-width="1.2"/>
<path d="M252.9 246.4H267.3" stroke="#ee1c23" stroke-width="1.2"/>
<path d="M252.9 265.4H267.3" stroke="#ee1c23" stroke-width="1.2"/>
<path d="M252.9 255.8H267.3" stroke="#ee1c23" stroke-width="1.2"/>
<text x="248.1" y="243.5" font-size="8.6" font-weight="bold" text-anchor="middle" letter-spacing="0.2">**</text>
<text x="249.1" y="216.8" font-size="5.7" fill="#111" text-anchor="middle">TIGIT<tspan baseline-shift="super" font-size="65%">+</tspan> (MFI)</text>
<rect x="286.7" y="220.4" width="48.9" height="55.1" fill="#fff"/>
<path d="M286.7 225.5H335.6" stroke="#f4f4f4" stroke-width="0.4"/>
<path d="M286.7 236.7H335.6" stroke="#f4f4f4" stroke-width="0.4"/>
<path d="M286.7 247.8H335.6" stroke="#f4f4f4" stroke-width="0.4"/>
<path d="M286.7 258.8H335.6" stroke="#f4f4f4" stroke-width="0.4"/>
<path d="M286.7 269.8H335.6" stroke="#f4f4f4" stroke-width="0.4"/>
<path d="M286.7 231.1H335.6" stroke="#ebebeb" stroke-width="0.5"/>
<path d="M286.7 242.3H335.6" stroke="#ebebeb" stroke-width="0.5"/>
<path d="M286.7 253.3H335.6" stroke="#ebebeb" stroke-width="0.5"/>
<path d="M286.7 264.2H335.6" stroke="#ebebeb" stroke-width="0.5"/>
<path d="M300 220.4V275.5" stroke="#ebebeb" stroke-width="0.5"/>
<path d="M322.5 220.4V275.5" stroke="#ebebeb" stroke-width="0.5"/>
<rect x="286.7" y="220.4" width="48.9" height="55.1" fill="none" stroke="#9a9a9a" stroke-width="0.6"/>
<path d="M285.4 231.1H286.7" stroke="#444" stroke-width="0.4"/>
<text x="284.9" y="232.4" font-size="3.6" fill="#555" text-anchor="end">150</text>
<path d="M285.4 242.3H286.7" stroke="#444" stroke-width="0.4"/>
<text x="284.9" y="243.6" font-size="3.6" fill="#555" text-anchor="end">100</text>
<path d="M285.4 253.3H286.7" stroke="#444" stroke-width="0.4"/>
<text x="284.9" y="254.6" font-size="3.6" fill="#555" text-anchor="end">50</text>
<path d="M285.4 264.2H286.7" stroke="#444" stroke-width="0.4"/>
<text x="284.9" y="265.5" font-size="3.6" fill="#555" text-anchor="end">0</text>
<path d="M300 275.5V276.8" stroke="#444" stroke-width="0.4"/>
<text x="300" y="281.1" font-size="4.2" fill="#555" text-anchor="middle">non-SD</text>
<path d="M322.5 275.5V276.8" stroke="#444" stroke-width="0.4"/>
<text x="322.5" y="281.1" font-size="4.2" fill="#555" text-anchor="middle">SD</text>
<circle cx="298.6" cy="263.5" r="1.6" fill="#6f8fd0" fill-opacity="0.62"/>
<circle cx="300.9" cy="273.3" r="1.6" fill="#6f8fd0" fill-opacity="0.62"/>
<circle cx="305" cy="264" r="1.6" fill="#6f8fd0" fill-opacity="0.62"/>
<circle cx="295.2" cy="264" r="1.6" fill="#6f8fd0" fill-opacity="0.62"/>
<circle cx="300.1" cy="267.3" r="1.6" fill="#6f8fd0" fill-opacity="0.62"/>
<circle cx="297.9" cy="264.6" r="1.6" fill="#6f8fd0" fill-opacity="0.62"/>
<circle cx="297" cy="271.3" r="1.6" fill="#6f8fd0" fill-opacity="0.62"/>
<circle cx="301.4" cy="268.2" r="1.6" fill="#6f8fd0" fill-opacity="0.62"/>
<circle cx="298.1" cy="265.6" r="1.6" fill="#6f8fd0" fill-opacity="0.62"/>
<circle cx="296.9" cy="250" r="1.6" fill="#6f8fd0" fill-opacity="0.6"/>
<rect x="292.8" y="263.8" width="14.4" height="3.6" fill="none" stroke="#1f4e9e" stroke-width="0.7" stroke-opacity="0.6"/>
<path d="M300 263.5V273.3" stroke="#1f4e9e" stroke-width="1.2"/>
<path d="M292.8 263.5H307.2" stroke="#1f4e9e" stroke-width="1.2"/>
<path d="M292.8 273.3H307.2" stroke="#1f4e9e" stroke-width="1.2"/>
<path d="M292.8 265.7H307.2" stroke="#1f4e9e" stroke-width="1.2"/>
<circle cx="325.6" cy="222.6" r="1.6" fill="#f78a8a" fill-opacity="0.62"/>
<circle cx="324.8" cy="270.5" r="1.6" fill="#f78a8a" fill-opacity="0.62"/>
<circle cx="322.2" cy="269.3" r="1.6" fill="#f78a8a" fill-opacity="0.62"/>
<circle cx="319.9" cy="247.4" r="1.6" fill="#f78a8a" fill-opacity="0.62"/>
<circle cx="325.6" cy="246.1" r="1.6" fill="#f78a8a" fill-opacity="0.62"/>
<circle cx="327.2" cy="267" r="1.6" fill="#f78a8a" fill-opacity="0.62"/>
<circle cx="323.3" cy="261.4" r="1.6" fill="#f78a8a" fill-opacity="0.62"/>
<circle cx="326" cy="267.7" r="1.6" fill="#f78a8a" fill-opacity="0.62"/>
<circle cx="326" cy="263.7" r="1.6" fill="#f78a8a" fill-opacity="0.62"/>
<circle cx="318.5" cy="227.4" r="1.6" fill="#f78a8a" fill-opacity="0.6"/>
<rect x="315.3" y="244.2" width="14.4" height="15.2" fill="none" stroke="#ee1c23" stroke-width="0.7" stroke-opacity="0.6"/>
<path d="M322.5 222.6V270.5" stroke="#ee1c23" stroke-width="1.2"/>
<path d="M315.3 222.6H329.7" stroke="#ee1c23" stroke-width="1.2"/>
<path d="M315.3 270.5H329.7" stroke="#ee1c23" stroke-width="1.2"/>
<path d="M315.3 254.5H329.7" stroke="#ee1c23" stroke-width="1.2"/>
<text x="311.1" y="216.8" font-size="5.7" fill="#111" text-anchor="middle">PD-1<tspan baseline-shift="super" font-size="65%">+</tspan> (MFI)</text>
<text x="288.4" y="229.6" font-size="4.6" fill="#222"><tspan font-style="italic">p</tspan>=0.052</text>
<rect x="350.4" y="220.4" width="47.2" height="55.1" fill="#fff"/>
<path d="M350.4 223.3H397.6" stroke="#f4f4f4" stroke-width="0.4"/>
<path d="M350.4 238.1H397.6" stroke="#f4f4f4" stroke-width="0.4"/>
<path d="M350.4 253.2H397.6" stroke="#f4f4f4" stroke-width="0.4"/>
<path d="M350.4 268.4H397.6" stroke="#f4f4f4" stroke-width="0.4"/>
<path d="M350.4 230.7H397.6" stroke="#ebebeb" stroke-width="0.5"/>
<path d="M350.4 245.5H397.6" stroke="#ebebeb" stroke-width="0.5"/>
<path d="M350.4 261H397.6" stroke="#ebebeb" stroke-width="0.5"/>
<path d="M363.3 220.4V275.5" stroke="#ebebeb" stroke-width="0.5"/>
<path d="M385.1 220.4V275.5" stroke="#ebebeb" stroke-width="0.5"/>
<rect x="350.4" y="220.4" width="47.2" height="55.1" fill="none" stroke="#9a9a9a" stroke-width="0.6"/>
<path d="M349.1 230.7H350.4" stroke="#444" stroke-width="0.4"/>
<text x="348.6" y="232" font-size="3.6" fill="#555" text-anchor="end">3.75</text>
<path d="M349.1 245.5H350.4" stroke="#444" stroke-width="0.4"/>
<text x="348.6" y="246.8" font-size="3.6" fill="#555" text-anchor="end">3.50</text>
<path d="M349.1 261H350.4" stroke="#444" stroke-width="0.4"/>
<text x="348.6" y="262.3" font-size="3.6" fill="#555" text-anchor="end">3.25</text>
<path d="M363.3 275.5V276.8" stroke="#444" stroke-width="0.4"/>
<text x="363.3" y="281.1" font-size="4.2" fill="#555" text-anchor="middle">non-SD</text>
<path d="M385.1 275.5V276.8" stroke="#444" stroke-width="0.4"/>
<text x="385.1" y="281.1" font-size="4.2" fill="#555" text-anchor="middle">SD</text>
<circle cx="367.5" cy="255.8" r="1.6" fill="#6f8fd0" fill-opacity="0.62"/>
<circle cx="368.3" cy="273.3" r="1.6" fill="#6f8fd0" fill-opacity="0.62"/>
<circle cx="359.2" cy="259.7" r="1.6" fill="#6f8fd0" fill-opacity="0.62"/>
<circle cx="366.4" cy="256.7" r="1.6" fill="#6f8fd0" fill-opacity="0.62"/>
<circle cx="367.3" cy="257.7" r="1.6" fill="#6f8fd0" fill-opacity="0.62"/>
<circle cx="362.6" cy="267.2" r="1.6" fill="#6f8fd0" fill-opacity="0.62"/>
<circle cx="366.8" cy="263.6" r="1.6" fill="#6f8fd0" fill-opacity="0.62"/>
<circle cx="368.3" cy="271.2" r="1.6" fill="#6f8fd0" fill-opacity="0.62"/>
<circle cx="368" cy="255.9" r="1.6" fill="#6f8fd0" fill-opacity="0.62"/>
<rect x="356.1" y="259.4" width="14.4" height="11.7" fill="none" stroke="#1f4e9e" stroke-width="0.7" stroke-opacity="0.6"/>
<path d="M363.3 255.8V273.3" stroke="#1f4e9e" stroke-width="1.2"/>
<path d="M356.1 255.8H370.5" stroke="#1f4e9e" stroke-width="1.2"/>
<path d="M356.1 273.3H370.5" stroke="#1f4e9e" stroke-width="1.2"/>
<path d="M356.1 264.2H370.5" stroke="#1f4e9e" stroke-width="1.2"/>
<circle cx="381.6" cy="222.6" r="1.6" fill="#f78a8a" fill-opacity="0.62"/>
<circle cx="386.7" cy="268.2" r="1.6" fill="#f78a8a" fill-opacity="0.62"/>
<circle cx="385.3" cy="238.4" r="1.6" fill="#f78a8a" fill-opacity="0.62"/>
<circle cx="383.2" cy="257.5" r="1.6" fill="#f78a8a" fill-opacity="0.62"/>
<circle cx="389.6" cy="262.6" r="1.6" fill="#f78a8a" fill-opacity="0.62"/>
<circle cx="387.3" cy="236.8" r="1.6" fill="#f78a8a" fill-opacity="0.62"/>
<circle cx="389.8" cy="241.4" r="1.6" fill="#f78a8a" fill-opacity="0.62"/>
<circle cx="385.9" cy="250.4" r="1.6" fill="#f78a8a" fill-opacity="0.62"/>
<circle cx="388.1" cy="245.9" r="1.6" fill="#f78a8a" fill-opacity="0.62"/>
<rect x="377.9" y="235.9" width="14.4" height="22.1" fill="none" stroke="#ee1c23" stroke-width="0.7" stroke-opacity="0.6"/>
<path d="M385.1 222.6V268.2" stroke="#ee1c23" stroke-width="1.2"/>
<path d="M377.9 222.6H392.3" stroke="#ee1c23" stroke-width="1.2"/>
<path d="M377.9 268.2H392.3" stroke="#ee1c23" stroke-width="1.2"/>
<path d="M377.9 244.2H392.3" stroke="#ee1c23" stroke-width="1.2"/>
<text x="373.1" y="234.8" font-size="8.6" font-weight="bold" text-anchor="middle" letter-spacing="0.2">*</text>
<text x="374" y="216.8" font-size="5.7" fill="#111" text-anchor="middle">LAG-3<tspan baseline-shift="super" font-size="65%">+</tspan> (%)</text>
<rect x="365.4" y="303.1" width="53.6" height="55.5" fill="#fff"/>
<path d="M365.4 310.2H419" stroke="#f4f4f4" stroke-width="0.4"/>
<path d="M365.4 324.4H419" stroke="#f4f4f4" stroke-width="0.4"/>
<path d="M365.4 338.5H419" stroke="#f4f4f4" stroke-width="0.4"/>
<path d="M365.4 352.6H419" stroke="#f4f4f4" stroke-width="0.4"/>
<path d="M365.4 317.3H419" stroke="#ebebeb" stroke-width="0.5"/>
<path d="M365.4 331.4H419" stroke="#ebebeb" stroke-width="0.5"/>
<path d="M365.4 345.6H419" stroke="#ebebeb" stroke-width="0.5"/>
<path d="M380.2 303.1V358.6" stroke="#ebebeb" stroke-width="0.5"/>
<path d="M404.8 303.1V358.6" stroke="#ebebeb" stroke-width="0.5"/>
<rect x="365.4" y="303.1" width="53.6" height="55.5" fill="none" stroke="#9a9a9a" stroke-width="0.6"/>
<path d="M364.1 317.3H365.4" stroke="#444" stroke-width="0.4"/>
<text x="363.6" y="318.7" font-size="4.0" fill="#555" text-anchor="end">30</text>
<path d="M364.1 331.4H365.4" stroke="#444" stroke-width="0.4"/>
<text x="363.6" y="332.8" font-size="4.0" fill="#555" text-anchor="end">20</text>
<path d="M364.1 345.6H365.4" stroke="#444" stroke-width="0.4"/>
<text x="363.6" y="347" font-size="4.0" fill="#555" text-anchor="end">10</text>
<path d="M380.2 358.6V359.9" stroke="#444" stroke-width="0.4"/>
<path d="M404.8 358.6V359.9" stroke="#444" stroke-width="0.4"/>
<circle cx="384.5" cy="306" r="1.5" fill="#6f8fd0" fill-opacity="0.62"/>
<circle cx="384.1" cy="347.8" r="1.5" fill="#6f8fd0" fill-opacity="0.62"/>
<circle cx="378.4" cy="333.4" r="1.5" fill="#6f8fd0" fill-opacity="0.62"/>
<circle cx="384.3" cy="321.2" r="1.5" fill="#6f8fd0" fill-opacity="0.62"/>
<circle cx="379" cy="334.7" r="1.5" fill="#6f8fd0" fill-opacity="0.62"/>
<circle cx="381.3" cy="321.5" r="1.5" fill="#6f8fd0" fill-opacity="0.62"/>
<circle cx="375.7" cy="316.8" r="1.5" fill="#6f8fd0" fill-opacity="0.62"/>
<circle cx="383.9" cy="311.1" r="1.5" fill="#6f8fd0" fill-opacity="0.62"/>
<circle cx="376" cy="319.6" r="1.5" fill="#6f8fd0" fill-opacity="0.62"/>
<rect x="372.7" y="326.1" width="15" height="15.1" fill="none" stroke="#1f4e9e" stroke-width="0.7" stroke-opacity="0.6"/>
<path d="M380.2 306V347.8" stroke="#1f4e9e" stroke-width="1.2"/>
<path d="M372.7 306H387.7" stroke="#1f4e9e" stroke-width="1.2"/>
<path d="M372.7 347.8H387.7" stroke="#1f4e9e" stroke-width="1.2"/>
<path d="M372.7 330.3H387.7" stroke="#1f4e9e" stroke-width="1.2"/>
<circle cx="409" cy="329.8" r="1.5" fill="#f78a8a" fill-opacity="0.62"/>
<circle cx="402.4" cy="356.4" r="1.5" fill="#f78a8a" fill-opacity="0.62"/>
<circle cx="408.3" cy="336.4" r="1.5" fill="#f78a8a" fill-opacity="0.62"/>
<circle cx="407.6" cy="341.7" r="1.5" fill="#f78a8a" fill-opacity="0.62"/>
<circle cx="402.9" cy="346.8" r="1.5" fill="#f78a8a" fill-opacity="0.62"/>
<circle cx="409.8" cy="335.6" r="1.5" fill="#f78a8a" fill-opacity="0.62"/>
<circle cx="400.4" cy="352.7" r="1.5" fill="#f78a8a" fill-opacity="0.62"/>
<circle cx="406.7" cy="344.9" r="1.5" fill="#f78a8a" fill-opacity="0.62"/>
<circle cx="407.7" cy="346.7" r="1.5" fill="#f78a8a" fill-opacity="0.62"/>
<circle cx="407.2" cy="312" r="1.5" fill="#f78a8a" fill-opacity="0.6"/>
<rect x="397.3" y="339.5" width="15" height="11.2" fill="none" stroke="#ee1c23" stroke-width="0.7" stroke-opacity="0.6"/>
<path d="M404.8 329.8V356.4" stroke="#ee1c23" stroke-width="1.2"/>
<path d="M397.3 329.8H412.3" stroke="#ee1c23" stroke-width="1.2"/>
<path d="M397.3 356.4H412.3" stroke="#ee1c23" stroke-width="1.2"/>
<path d="M397.3 346.1H412.3" stroke="#ee1c23" stroke-width="1.2"/>
<text x="392.5" y="319.1" font-size="9.4" font-weight="bold" text-anchor="middle" letter-spacing="0.4">*</text>
<text x="355.8" y="330.9" font-size="6.5" fill="#222" text-anchor="middle" transform="rotate(-90 355.8 330.9)">Cluster 1 (%)</text>
<rect x="441.3" y="303.1" width="54" height="55.5" fill="#fff"/>
<path d="M441.3 312.4H495.3" stroke="#f4f4f4" stroke-width="0.4"/>
<path d="M441.3 330.1H495.3" stroke="#f4f4f4" stroke-width="0.4"/>
<path d="M441.3 347.7H495.3" stroke="#f4f4f4" stroke-width="0.4"/>
<path d="M441.3 303.5H495.3" stroke="#ebebeb" stroke-width="0.5"/>
<path d="M441.3 321.3H495.3" stroke="#ebebeb" stroke-width="0.5"/>
<path d="M441.3 339H495.3" stroke="#ebebeb" stroke-width="0.5"/>
<path d="M441.3 356.4H495.3" stroke="#ebebeb" stroke-width="0.5"/>
<path d="M456.4 303.1V358.6" stroke="#ebebeb" stroke-width="0.5"/>
<path d="M480.7 303.1V358.6" stroke="#ebebeb" stroke-width="0.5"/>
<rect x="441.3" y="303.1" width="54" height="55.5" fill="none" stroke="#9a9a9a" stroke-width="0.6"/>
<path d="M440 303.5H441.3" stroke="#444" stroke-width="0.4"/>
<text x="439.5" y="304.9" font-size="4.0" fill="#555" text-anchor="end">30</text>
<path d="M440 321.3H441.3" stroke="#444" stroke-width="0.4"/>
<text x="439.5" y="322.7" font-size="4.0" fill="#555" text-anchor="end">20</text>
<path d="M440 339H441.3" stroke="#444" stroke-width="0.4"/>
<text x="439.5" y="340.4" font-size="4.0" fill="#555" text-anchor="end">10</text>
<path d="M440 356.4H441.3" stroke="#444" stroke-width="0.4"/>
<text x="439.5" y="357.8" font-size="4.0" fill="#555" text-anchor="end">0</text>
<path d="M456.4 358.6V359.9" stroke="#444" stroke-width="0.4"/>
<path d="M480.7 358.6V359.9" stroke="#444" stroke-width="0.4"/>
<circle cx="453.4" cy="338.9" r="1.5" fill="#6f8fd0" fill-opacity="0.62"/>
<circle cx="453.2" cy="356.4" r="1.5" fill="#6f8fd0" fill-opacity="0.62"/>
<circle cx="460.6" cy="344.7" r="1.5" fill="#6f8fd0" fill-opacity="0.62"/>
<circle cx="461.5" cy="348" r="1.5" fill="#6f8fd0" fill-opacity="0.62"/>
<circle cx="453" cy="351.4" r="1.5" fill="#6f8fd0" fill-opacity="0.62"/>
<circle cx="460.8" cy="341.8" r="1.5" fill="#6f8fd0" fill-opacity="0.62"/>
<circle cx="455.2" cy="339.6" r="1.5" fill="#6f8fd0" fill-opacity="0.62"/>
<circle cx="458.8" cy="339.4" r="1.5" fill="#6f8fd0" fill-opacity="0.62"/>
<circle cx="459.5" cy="356.1" r="1.5" fill="#6f8fd0" fill-opacity="0.62"/>
<circle cx="453.8" cy="321.3" r="1.5" fill="#6f8fd0" fill-opacity="0.6"/>
<rect x="448.9" y="344.3" width="15" height="7.1" fill="none" stroke="#1f4e9e" stroke-width="0.7" stroke-opacity="0.6"/>
<path d="M456.4 338.9V356.4" stroke="#1f4e9e" stroke-width="1.2"/>
<path d="M448.9 338.9H463.9" stroke="#1f4e9e" stroke-width="1.2"/>
<path d="M448.9 356.4H463.9" stroke="#1f4e9e" stroke-width="1.2"/>
<path d="M448.9 347.4H463.9" stroke="#1f4e9e" stroke-width="1.2"/>
<circle cx="481.5" cy="325.7" r="1.5" fill="#f78a8a" fill-opacity="0.62"/>
<circle cx="484.1" cy="356.4" r="1.5" fill="#f78a8a" fill-opacity="0.62"/>
<circle cx="481.1" cy="338.2" r="1.5" fill="#f78a8a" fill-opacity="0.62"/>
<circle cx="484.1" cy="340.1" r="1.5" fill="#f78a8a" fill-opacity="0.62"/>
<circle cx="483.9" cy="345" r="1.5" fill="#f78a8a" fill-opacity="0.62"/>
<circle cx="476.9" cy="328.4" r="1.5" fill="#f78a8a" fill-opacity="0.62"/>
<circle cx="481.6" cy="334.1" r="1.5" fill="#f78a8a" fill-opacity="0.62"/>
<circle cx="483.3" cy="355.4" r="1.5" fill="#f78a8a" fill-opacity="0.62"/>
<circle cx="478.5" cy="341.8" r="1.5" fill="#f78a8a" fill-opacity="0.62"/>
<circle cx="481.1" cy="306" r="1.5" fill="#f78a8a" fill-opacity="0.6"/>
<rect x="473.2" y="336.3" width="15" height="10.2" fill="none" stroke="#ee1c23" stroke-width="0.7" stroke-opacity="0.6"/>
<path d="M480.7 325.7V356.4" stroke="#ee1c23" stroke-width="1.2"/>
<path d="M473.2 325.7H488.2" stroke="#ee1c23" stroke-width="1.2"/>
<path d="M473.2 356.4H488.2" stroke="#ee1c23" stroke-width="1.2"/>
<path d="M473.2 339.5H488.2" stroke="#ee1c23" stroke-width="1.2"/>
<text x="432.2" y="330.9" font-size="6.5" fill="#222" text-anchor="middle" transform="rotate(-90 432.2 330.9)">Cluster 6 (%)</text>
<text x="443.7" y="310" font-size="4.6" fill="#222"><tspan font-style="italic">p</tspan>=0.087</text>
<rect x="365.4" y="363.3" width="53.8" height="55.4" fill="#fff"/>
<path d="M365.4 366.5H419.2" stroke="#f4f4f4" stroke-width="0.4"/>
<path d="M365.4 381.9H419.2" stroke="#f4f4f4" stroke-width="0.4"/>
<path d="M365.4 397.1H419.2" stroke="#f4f4f4" stroke-width="0.4"/>
<path d="M365.4 412.4H419.2" stroke="#f4f4f4" stroke-width="0.4"/>
<path d="M365.4 374.2H419.2" stroke="#ebebeb" stroke-width="0.5"/>
<path d="M365.4 389.6H419.2" stroke="#ebebeb" stroke-width="0.5"/>
<path d="M365.4 404.7H419.2" stroke="#ebebeb" stroke-width="0.5"/>
<path d="M380.2 363.3V418.7" stroke="#ebebeb" stroke-width="0.5"/>
<path d="M404.8 363.3V418.7" stroke="#ebebeb" stroke-width="0.5"/>
<rect x="365.4" y="363.3" width="53.8" height="55.4" fill="none" stroke="#9a9a9a" stroke-width="0.6"/>
<path d="M364.1 374.2H365.4" stroke="#444" stroke-width="0.4"/>
<text x="363.6" y="375.6" font-size="4.0" fill="#555" text-anchor="end">15</text>
<path d="M364.1 389.6H365.4" stroke="#444" stroke-width="0.4"/>
<text x="363.6" y="391" font-size="4.0" fill="#555" text-anchor="end">10</text>
<path d="M364.1 404.7H365.4" stroke="#444" stroke-width="0.4"/>
<text x="363.6" y="406.1" font-size="4.0" fill="#555" text-anchor="end">5</text>
<path d="M380.2 418.7V420" stroke="#444" stroke-width="0.4"/>
<text x="380.2" y="424.9" font-size="5.0" fill="#555" text-anchor="middle">non-SD</text>
<path d="M404.8 418.7V420" stroke="#444" stroke-width="0.4"/>
<text x="404.8" y="424.9" font-size="5.0" fill="#555" text-anchor="middle">SD</text>
<circle cx="379.7" cy="408.4" r="1.5" fill="#6f8fd0" fill-opacity="0.62"/>
<circle cx="376.4" cy="416.5" r="1.5" fill="#6f8fd0" fill-opacity="0.62"/>
<circle cx="378.8" cy="409.6" r="1.5" fill="#6f8fd0" fill-opacity="0.62"/>
<circle cx="375" cy="411.2" r="1.5" fill="#6f8fd0" fill-opacity="0.62"/>
<circle cx="375.2" cy="408.7" r="1.5" fill="#6f8fd0" fill-opacity="0.62"/>
<circle cx="380.6" cy="409.6" r="1.5" fill="#6f8fd0" fill-opacity="0.62"/>
<circle cx="382.9" cy="410.6" r="1.5" fill="#6f8fd0" fill-opacity="0.62"/>
<circle cx="384" cy="412.6" r="1.5" fill="#6f8fd0" fill-opacity="0.62"/>
<circle cx="379.4" cy="410.7" r="1.5" fill="#6f8fd0" fill-opacity="0.62"/>
<circle cx="381.5" cy="390.9" r="1.5" fill="#6f8fd0" fill-opacity="0.6"/>
<circle cx="379.2" cy="399.4" r="1.5" fill="#6f8fd0" fill-opacity="0.6"/>
<rect x="372.7" y="409.3" width="15" height="4.6" fill="none" stroke="#1f4e9e" stroke-width="0.7" stroke-opacity="0.6"/>
<path d="M380.2 408.4V416.5" stroke="#1f4e9e" stroke-width="1.2"/>
<path d="M372.7 408.4H387.7" stroke="#1f4e9e" stroke-width="1.2"/>
<path d="M372.7 416.5H387.7" stroke="#1f4e9e" stroke-width="1.2"/>
<path d="M372.7 411.5H387.7" stroke="#1f4e9e" stroke-width="1.2"/>
<circle cx="400.6" cy="383.9" r="1.5" fill="#f78a8a" fill-opacity="0.62"/>
<circle cx="406.4" cy="414.3" r="1.5" fill="#f78a8a" fill-opacity="0.62"/>
<circle cx="403.4" cy="390" r="1.5" fill="#f78a8a" fill-opacity="0.62"/>
<circle cx="400.6" cy="392.4" r="1.5" fill="#f78a8a" fill-opacity="0.62"/>
<circle cx="404.3" cy="386.3" r="1.5" fill="#f78a8a" fill-opacity="0.62"/>
<circle cx="400.1" cy="396.8" r="1.5" fill="#f78a8a" fill-opacity="0.62"/>
<circle cx="405.6" cy="411.3" r="1.5" fill="#f78a8a" fill-opacity="0.62"/>
<circle cx="405.4" cy="385.5" r="1.5" fill="#f78a8a" fill-opacity="0.62"/>
<circle cx="402.2" cy="394.5" r="1.5" fill="#f78a8a" fill-opacity="0.62"/>
<circle cx="401.2" cy="366.2" r="1.5" fill="#f78a8a" fill-opacity="0.6"/>
<rect x="397.3" y="392.2" width="15" height="15.1" fill="none" stroke="#ee1c23" stroke-width="0.7" stroke-opacity="0.6"/>
<path d="M404.8 383.9V414.3" stroke="#ee1c23" stroke-width="1.2"/>
<path d="M397.3 383.9H412.3" stroke="#ee1c23" stroke-width="1.2"/>
<path d="M397.3 414.3H412.3" stroke="#ee1c23" stroke-width="1.2"/>
<path d="M397.3 401.4H412.3" stroke="#ee1c23" stroke-width="1.2"/>
<text x="391.2" y="381.2" font-size="9.4" font-weight="bold" text-anchor="middle" letter-spacing="0.4">*</text>
<text x="355.8" y="391" font-size="6.5" fill="#222" text-anchor="middle" transform="rotate(-90 355.8 391)">Cluster 8 (%)</text>
<rect x="441.3" y="363.3" width="54" height="55.4" fill="#fff"/>
<path d="M441.3 368.8H495.3" stroke="#f4f4f4" stroke-width="0.4"/>
<path d="M441.3 389.9H495.3" stroke="#f4f4f4" stroke-width="0.4"/>
<path d="M441.3 411.1H495.3" stroke="#f4f4f4" stroke-width="0.4"/>
<path d="M441.3 379.4H495.3" stroke="#ebebeb" stroke-width="0.5"/>
<path d="M441.3 400.5H495.3" stroke="#ebebeb" stroke-width="0.5"/>
<path d="M456.4 363.3V418.7" stroke="#ebebeb" stroke-width="0.5"/>
<path d="M480.7 363.3V418.7" stroke="#ebebeb" stroke-width="0.5"/>
<rect x="441.3" y="363.3" width="54" height="55.4" fill="none" stroke="#9a9a9a" stroke-width="0.6"/>
<path d="M440 379.4H441.3" stroke="#444" stroke-width="0.4"/>
<text x="439.5" y="380.8" font-size="4.0" fill="#555" text-anchor="end">10</text>
<path d="M440 400.5H441.3" stroke="#444" stroke-width="0.4"/>
<text x="439.5" y="401.9" font-size="4.0" fill="#555" text-anchor="end">5</text>
<path d="M456.4 418.7V420" stroke="#444" stroke-width="0.4"/>
<text x="456.4" y="424.9" font-size="5.0" fill="#555" text-anchor="middle">non-SD</text>
<path d="M480.7 418.7V420" stroke="#444" stroke-width="0.4"/>
<text x="480.7" y="424.9" font-size="5.0" fill="#555" text-anchor="middle">SD</text>
<circle cx="460.6" cy="400.3" r="1.5" fill="#6f8fd0" fill-opacity="0.62"/>
<circle cx="461.5" cy="416.5" r="1.5" fill="#6f8fd0" fill-opacity="0.62"/>
<circle cx="452" cy="407" r="1.5" fill="#6f8fd0" fill-opacity="0.62"/>
<circle cx="451.6" cy="405.5" r="1.5" fill="#6f8fd0" fill-opacity="0.62"/>
<circle cx="460.9" cy="412.7" r="1.5" fill="#6f8fd0" fill-opacity="0.62"/>
<circle cx="453.9" cy="405.8" r="1.5" fill="#6f8fd0" fill-opacity="0.62"/>
<circle cx="457.7" cy="400.5" r="1.5" fill="#6f8fd0" fill-opacity="0.62"/>
<circle cx="451.7" cy="413.5" r="1.5" fill="#6f8fd0" fill-opacity="0.62"/>
<circle cx="453.1" cy="402.8" r="1.5" fill="#6f8fd0" fill-opacity="0.62"/>
<rect x="448.9" y="404.4" width="15" height="8.8" fill="none" stroke="#1f4e9e" stroke-width="0.7" stroke-opacity="0.6"/>
<path d="M456.4 400.3V416.5" stroke="#1f4e9e" stroke-width="1.2"/>
<path d="M448.9 400.3H463.9" stroke="#1f4e9e" stroke-width="1.2"/>
<path d="M448.9 416.5H463.9" stroke="#1f4e9e" stroke-width="1.2"/>
<path d="M448.9 407H463.9" stroke="#1f4e9e" stroke-width="1.2"/>
<circle cx="481.4" cy="366.2" r="1.5" fill="#f78a8a" fill-opacity="0.62"/>
<circle cx="485.9" cy="407" r="1.5" fill="#f78a8a" fill-opacity="0.62"/>
<circle cx="480.6" cy="398.8" r="1.5" fill="#f78a8a" fill-opacity="0.62"/>
<circle cx="481.7" cy="404.4" r="1.5" fill="#f78a8a" fill-opacity="0.62"/>
<circle cx="478.4" cy="377" r="1.5" fill="#f78a8a" fill-opacity="0.62"/>
<circle cx="482" cy="377" r="1.5" fill="#f78a8a" fill-opacity="0.62"/>
<circle cx="485.5" cy="380.9" r="1.5" fill="#f78a8a" fill-opacity="0.62"/>
<circle cx="484.9" cy="397.1" r="1.5" fill="#f78a8a" fill-opacity="0.62"/>
<circle cx="482" cy="390.4" r="1.5" fill="#f78a8a" fill-opacity="0.62"/>
<rect x="473.2" y="384.7" width="15" height="18.7" fill="none" stroke="#ee1c23" stroke-width="0.7" stroke-opacity="0.6"/>
<path d="M480.7 366.2V407" stroke="#ee1c23" stroke-width="1.2"/>
<path d="M473.2 366.2H488.2" stroke="#ee1c23" stroke-width="1.2"/>
<path d="M473.2 407H488.2" stroke="#ee1c23" stroke-width="1.2"/>
<path d="M473.2 391.5H488.2" stroke="#ee1c23" stroke-width="1.2"/>
<text x="468.7" y="380.3" font-size="9.4" font-weight="bold" text-anchor="middle" letter-spacing="0.4">***</text>
<text x="432.2" y="391" font-size="6.5" fill="#222" text-anchor="middle" transform="rotate(-90 432.2 391)">Cluster 10 (%)</text>
<rect x="364.3" y="436.2" width="53.4" height="55.3" fill="#fff"/>
<path d="M364.3 438.9H417.7" stroke="#f4f4f4" stroke-width="0.4"/>
<path d="M364.3 451.9H417.7" stroke="#f4f4f4" stroke-width="0.4"/>
<path d="M364.3 464.9H417.7" stroke="#f4f4f4" stroke-width="0.4"/>
<path d="M364.3 477.9H417.7" stroke="#f4f4f4" stroke-width="0.4"/>
<path d="M364.3 490.8H417.7" stroke="#f4f4f4" stroke-width="0.4"/>
<path d="M364.3 445.4H417.7" stroke="#ebebeb" stroke-width="0.5"/>
<path d="M364.3 458.3H417.7" stroke="#ebebeb" stroke-width="0.5"/>
<path d="M364.3 471.4H417.7" stroke="#ebebeb" stroke-width="0.5"/>
<path d="M364.3 484.3H417.7" stroke="#ebebeb" stroke-width="0.5"/>
<path d="M378.5 436.2V491.5" stroke="#ebebeb" stroke-width="0.5"/>
<path d="M403.5 436.2V491.5" stroke="#ebebeb" stroke-width="0.5"/>
<rect x="364.3" y="436.2" width="53.4" height="55.3" fill="none" stroke="#9a9a9a" stroke-width="0.6"/>
<path d="M363 445.4H364.3" stroke="#444" stroke-width="0.4"/>
<text x="362.5" y="446.8" font-size="4.0" fill="#555" text-anchor="end">40</text>
<path d="M363 458.3H364.3" stroke="#444" stroke-width="0.4"/>
<text x="362.5" y="459.7" font-size="4.0" fill="#555" text-anchor="end">30</text>
<path d="M363 471.4H364.3" stroke="#444" stroke-width="0.4"/>
<text x="362.5" y="472.8" font-size="4.0" fill="#555" text-anchor="end">20</text>
<path d="M363 484.3H364.3" stroke="#444" stroke-width="0.4"/>
<text x="362.5" y="485.7" font-size="4.0" fill="#555" text-anchor="end">10</text>
<path d="M378.5 491.5V492.8" stroke="#444" stroke-width="0.4"/>
<path d="M403.5 491.5V492.8" stroke="#444" stroke-width="0.4"/>
<circle cx="382.9" cy="447.5" r="1.5" fill="#6f8fd0" fill-opacity="0.62"/>
<circle cx="377.3" cy="480.3" r="1.5" fill="#6f8fd0" fill-opacity="0.62"/>
<circle cx="381.1" cy="461.4" r="1.5" fill="#6f8fd0" fill-opacity="0.62"/>
<circle cx="380.9" cy="473.3" r="1.5" fill="#6f8fd0" fill-opacity="0.62"/>
<circle cx="375.7" cy="451.5" r="1.5" fill="#6f8fd0" fill-opacity="0.62"/>
<circle cx="373.5" cy="454.9" r="1.5" fill="#6f8fd0" fill-opacity="0.62"/>
<circle cx="382" cy="462.8" r="1.5" fill="#6f8fd0" fill-opacity="0.62"/>
<circle cx="374.8" cy="478.5" r="1.5" fill="#6f8fd0" fill-opacity="0.62"/>
<circle cx="383.1" cy="473.2" r="1.5" fill="#6f8fd0" fill-opacity="0.62"/>
<rect x="371" y="451.3" width="15" height="25.1" fill="none" stroke="#1f4e9e" stroke-width="0.7" stroke-opacity="0.6"/>
<path d="M378.5 447.5V480.3" stroke="#1f4e9e" stroke-width="1.2"/>
<path d="M371 447.5H386" stroke="#1f4e9e" stroke-width="1.2"/>
<path d="M371 480.3H386" stroke="#1f4e9e" stroke-width="1.2"/>
<path d="M371 463.5H386" stroke="#1f4e9e" stroke-width="1.2"/>
<circle cx="407.1" cy="472.4" r="1.5" fill="#f78a8a" fill-opacity="0.62"/>
<circle cx="403.9" cy="489.1" r="1.5" fill="#f78a8a" fill-opacity="0.62"/>
<circle cx="400.8" cy="474.7" r="1.5" fill="#f78a8a" fill-opacity="0.62"/>
<circle cx="403.4" cy="481.5" r="1.5" fill="#f78a8a" fill-opacity="0.62"/>
<circle cx="407.2" cy="484.5" r="1.5" fill="#f78a8a" fill-opacity="0.62"/>
<circle cx="403.4" cy="480.6" r="1.5" fill="#f78a8a" fill-opacity="0.62"/>
<circle cx="398.3" cy="475.5" r="1.5" fill="#f78a8a" fill-opacity="0.62"/>
<circle cx="404.2" cy="482.4" r="1.5" fill="#f78a8a" fill-opacity="0.62"/>
<circle cx="405.1" cy="487.7" r="1.5" fill="#f78a8a" fill-opacity="0.62"/>
<circle cx="406.8" cy="438.9" r="1.5" fill="#f78a8a" fill-opacity="0.6"/>
<rect x="396" y="477" width="15" height="11.9" fill="none" stroke="#ee1c23" stroke-width="0.7" stroke-opacity="0.6"/>
<path d="M403.5 472.4V489.1" stroke="#ee1c23" stroke-width="1.2"/>
<path d="M396 472.4H411" stroke="#ee1c23" stroke-width="1.2"/>
<path d="M396 489.1H411" stroke="#ee1c23" stroke-width="1.2"/>
<path d="M396 483.2H411" stroke="#ee1c23" stroke-width="1.2"/>
<text x="354.5" y="463.9" font-size="6.5" fill="#222" text-anchor="middle" transform="rotate(-90 354.5 463.9)">Cluster 1 (%)</text>
<text x="366" y="443.2" font-size="4.6" fill="#222"><tspan font-style="italic">p</tspan>=0.080</text>
<rect x="438.4" y="436.2" width="54.3" height="55.2" fill="#fff"/>
<path d="M438.4 443.4H492.7" stroke="#f4f4f4" stroke-width="0.4"/>
<path d="M438.4 455.8H492.7" stroke="#f4f4f4" stroke-width="0.4"/>
<path d="M438.4 468.4H492.7" stroke="#f4f4f4" stroke-width="0.4"/>
<path d="M438.4 481H492.7" stroke="#f4f4f4" stroke-width="0.4"/>
<path d="M438.4 437.5H492.7" stroke="#ebebeb" stroke-width="0.5"/>
<path d="M438.4 449.4H492.7" stroke="#ebebeb" stroke-width="0.5"/>
<path d="M438.4 462.2H492.7" stroke="#ebebeb" stroke-width="0.5"/>
<path d="M438.4 474.7H492.7" stroke="#ebebeb" stroke-width="0.5"/>
<path d="M438.4 487.4H492.7" stroke="#ebebeb" stroke-width="0.5"/>
<path d="M453.5 436.2V491.4" stroke="#ebebeb" stroke-width="0.5"/>
<path d="M477.8 436.2V491.4" stroke="#ebebeb" stroke-width="0.5"/>
<rect x="438.4" y="436.2" width="54.3" height="55.2" fill="none" stroke="#9a9a9a" stroke-width="0.6"/>
<path d="M437.1 437.5H438.4" stroke="#444" stroke-width="0.4"/>
<text x="436.6" y="438.9" font-size="4.0" fill="#555" text-anchor="end">25</text>
<path d="M437.1 449.4H438.4" stroke="#444" stroke-width="0.4"/>
<text x="436.6" y="450.8" font-size="4.0" fill="#555" text-anchor="end">20</text>
<path d="M437.1 462.2H438.4" stroke="#444" stroke-width="0.4"/>
<text x="436.6" y="463.6" font-size="4.0" fill="#555" text-anchor="end">15</text>
<path d="M437.1 474.7H438.4" stroke="#444" stroke-width="0.4"/>
<text x="436.6" y="476.1" font-size="4.0" fill="#555" text-anchor="end">10</text>
<path d="M437.1 487.4H438.4" stroke="#444" stroke-width="0.4"/>
<text x="436.6" y="488.8" font-size="4.0" fill="#555" text-anchor="end">5</text>
<path d="M453.5 491.4V492.7" stroke="#444" stroke-width="0.4"/>
<text x="453.5" y="497.6" font-size="5.0" fill="#555" text-anchor="middle">non-SD</text>
<path d="M477.8 491.4V492.7" stroke="#444" stroke-width="0.4"/>
<text x="477.8" y="497.6" font-size="5.0" fill="#555" text-anchor="middle">SD</text>
<circle cx="450.9" cy="438.8" r="1.5" fill="#6f8fd0" fill-opacity="0.62"/>
<circle cx="452.6" cy="488.5" r="1.5" fill="#6f8fd0" fill-opacity="0.62"/>
<circle cx="450.8" cy="446" r="1.5" fill="#6f8fd0" fill-opacity="0.62"/>
<circle cx="453.7" cy="484.7" r="1.5" fill="#6f8fd0" fill-opacity="0.62"/>
<circle cx="458.4" cy="447.4" r="1.5" fill="#6f8fd0" fill-opacity="0.62"/>
<circle cx="458.4" cy="484.9" r="1.5" fill="#6f8fd0" fill-opacity="0.62"/>
<circle cx="456.8" cy="468.5" r="1.5" fill="#6f8fd0" fill-opacity="0.62"/>
<circle cx="450.2" cy="481.8" r="1.5" fill="#6f8fd0" fill-opacity="0.62"/>
<circle cx="457.3" cy="472.5" r="1.5" fill="#6f8fd0" fill-opacity="0.62"/>
<rect x="446" y="443.4" width="15" height="37.2" fill="none" stroke="#1f4e9e" stroke-width="0.7" stroke-opacity="0.6"/>
<path d="M453.5 438.8V488.5" stroke="#1f4e9e" stroke-width="1.2"/>
<path d="M446 438.8H461" stroke="#1f4e9e" stroke-width="1.2"/>
<path d="M446 488.5H461" stroke="#1f4e9e" stroke-width="1.2"/>
<path d="M446 455H461" stroke="#1f4e9e" stroke-width="1.2"/>
<circle cx="479.3" cy="457.3" r="1.5" fill="#f78a8a" fill-opacity="0.62"/>
<circle cx="478.8" cy="489.1" r="1.5" fill="#f78a8a" fill-opacity="0.62"/>
<circle cx="475.1" cy="465.3" r="1.5" fill="#f78a8a" fill-opacity="0.62"/>
<circle cx="475.2" cy="478.5" r="1.5" fill="#f78a8a" fill-opacity="0.62"/>
<circle cx="478.6" cy="481" r="1.5" fill="#f78a8a" fill-opacity="0.62"/>
<circle cx="481.6" cy="475.3" r="1.5" fill="#f78a8a" fill-opacity="0.62"/>
<circle cx="477.1" cy="474.8" r="1.5" fill="#f78a8a" fill-opacity="0.62"/>
<circle cx="481.8" cy="466.2" r="1.5" fill="#f78a8a" fill-opacity="0.62"/>
<circle cx="481.2" cy="460.2" r="1.5" fill="#f78a8a" fill-opacity="0.62"/>
<rect x="470.3" y="469.7" width="15" height="12.9" fill="none" stroke="#ee1c23" stroke-width="0.7" stroke-opacity="0.6"/>
<path d="M477.8 457.3V489.1" stroke="#ee1c23" stroke-width="1.2"/>
<path d="M470.3 457.3H485.3" stroke="#ee1c23" stroke-width="1.2"/>
<path d="M470.3 489.1H485.3" stroke="#ee1c23" stroke-width="1.2"/>
<path d="M470.3 476.3H485.3" stroke="#ee1c23" stroke-width="1.2"/>
<text x="428.2" y="463.8" font-size="6.5" fill="#222" text-anchor="middle" transform="rotate(-90 428.2 463.8)">Cluster 3 (%)</text>
<text x="488.3" y="442.8" font-size="4.6" fill="#222" text-anchor="end"><tspan font-style="italic">p</tspan>=0.27</text>
<rect x="364.3" y="495.3" width="53.4" height="55.4" fill="#fff"/>
<path d="M364.3 507.3H417.7" stroke="#f4f4f4" stroke-width="0.4"/>
<path d="M364.3 519.3H417.7" stroke="#f4f4f4" stroke-width="0.4"/>
<path d="M364.3 531.2H417.7" stroke="#f4f4f4" stroke-width="0.4"/>
<path d="M364.3 543.3H417.7" stroke="#f4f4f4" stroke-width="0.4"/>
<path d="M364.3 501.2H417.7" stroke="#ebebeb" stroke-width="0.5"/>
<path d="M364.3 513.4H417.7" stroke="#ebebeb" stroke-width="0.5"/>
<path d="M364.3 525.2H417.7" stroke="#ebebeb" stroke-width="0.5"/>
<path d="M364.3 537.3H417.7" stroke="#ebebeb" stroke-width="0.5"/>
<path d="M364.3 549.4H417.7" stroke="#ebebeb" stroke-width="0.5"/>
<path d="M378.5 495.3V550.7" stroke="#ebebeb" stroke-width="0.5"/>
<path d="M403.2 495.3V550.7" stroke="#ebebeb" stroke-width="0.5"/>
<rect x="364.3" y="495.3" width="53.4" height="55.4" fill="none" stroke="#9a9a9a" stroke-width="0.6"/>
<path d="M363 501.2H364.3" stroke="#444" stroke-width="0.4"/>
<text x="362.5" y="502.6" font-size="4.0" fill="#555" text-anchor="end">20</text>
<path d="M363 513.4H364.3" stroke="#444" stroke-width="0.4"/>
<text x="362.5" y="514.8" font-size="4.0" fill="#555" text-anchor="end">15</text>
<path d="M363 525.2H364.3" stroke="#444" stroke-width="0.4"/>
<text x="362.5" y="526.6" font-size="4.0" fill="#555" text-anchor="end">10</text>
<path d="M363 537.3H364.3" stroke="#444" stroke-width="0.4"/>
<text x="362.5" y="538.7" font-size="4.0" fill="#555" text-anchor="end">5</text>
<path d="M363 549.4H364.3" stroke="#444" stroke-width="0.4"/>
<text x="362.5" y="550.8" font-size="4.0" fill="#555" text-anchor="end">0</text>
<path d="M378.5 550.7V552" stroke="#444" stroke-width="0.4"/>
<text x="378.5" y="556.9" font-size="5.0" fill="#555" text-anchor="middle">non-SD</text>
<path d="M403.2 550.7V552" stroke="#444" stroke-width="0.4"/>
<text x="403.2" y="556.9" font-size="5.0" fill="#555" text-anchor="middle">SD</text>
<circle cx="378.9" cy="544.9" r="1.5" fill="#6f8fd0" fill-opacity="0.62"/>
<circle cx="379.1" cy="547.8" r="1.5" fill="#6f8fd0" fill-opacity="0.62"/>
<circle cx="373.8" cy="545.4" r="1.5" fill="#6f8fd0" fill-opacity="0.62"/>
<circle cx="377.2" cy="545.8" r="1.5" fill="#6f8fd0" fill-opacity="0.62"/>
<circle cx="378.7" cy="546.1" r="1.5" fill="#6f8fd0" fill-opacity="0.62"/>
<circle cx="382.9" cy="546.2" r="1.5" fill="#6f8fd0" fill-opacity="0.62"/>
<circle cx="373.5" cy="546.6" r="1.5" fill="#6f8fd0" fill-opacity="0.62"/>
<circle cx="383" cy="545.4" r="1.5" fill="#6f8fd0" fill-opacity="0.62"/>
<circle cx="378.2" cy="545.6" r="1.5" fill="#6f8fd0" fill-opacity="0.62"/>
<circle cx="376.1" cy="537.7" r="1.5" fill="#6f8fd0" fill-opacity="0.6"/>
<rect x="371" y="545.2" width="15" height="2.6" fill="none" stroke="#1f4e9e" stroke-width="0.7" stroke-opacity="0.6"/>
<path d="M378.5 544.9V547.8" stroke="#1f4e9e" stroke-width="1.2"/>
<path d="M371 544.9H386" stroke="#1f4e9e" stroke-width="1.2"/>
<path d="M371 547.8H386" stroke="#1f4e9e" stroke-width="1.2"/>
<path d="M371 546.5H386" stroke="#1f4e9e" stroke-width="1.2"/>
<circle cx="400.7" cy="498.3" r="1.5" fill="#f78a8a" fill-opacity="0.62"/>
<circle cx="398.2" cy="546.8" r="1.5" fill="#f78a8a" fill-opacity="0.62"/>
<circle cx="402.5" cy="541" r="1.5" fill="#f78a8a" fill-opacity="0.62"/>
<circle cx="408.3" cy="514.7" r="1.5" fill="#f78a8a" fill-opacity="0.62"/>
<circle cx="402.4" cy="499.1" r="1.5" fill="#f78a8a" fill-opacity="0.62"/>
<circle cx="398.6" cy="543.1" r="1.5" fill="#f78a8a" fill-opacity="0.62"/>
<circle cx="399.4" cy="533" r="1.5" fill="#f78a8a" fill-opacity="0.62"/>
<circle cx="406" cy="513.4" r="1.5" fill="#f78a8a" fill-opacity="0.62"/>
<circle cx="406.2" cy="504.2" r="1.5" fill="#f78a8a" fill-opacity="0.62"/>
<rect x="395.7" y="519.2" width="15" height="21" fill="none" stroke="#ee1c23" stroke-width="0.7" stroke-opacity="0.6"/>
<path d="M403.2 498.3V546.8" stroke="#ee1c23" stroke-width="1.2"/>
<path d="M395.7 498.3H410.7" stroke="#ee1c23" stroke-width="1.2"/>
<path d="M395.7 546.8H410.7" stroke="#ee1c23" stroke-width="1.2"/>
<path d="M395.7 536.3H410.7" stroke="#ee1c23" stroke-width="1.2"/>
<text x="390.5" y="513.9" font-size="9.4" font-weight="bold" text-anchor="middle" letter-spacing="0.4">*</text>
<text x="354.5" y="523" font-size="6.5" fill="#222" text-anchor="middle" transform="rotate(-90 354.5 523)">Cluster 8 (%)</text>
<rect x="22.5" y="579.2" width="82.6" height="59.3" fill="#fff"/>
<path d="M22.5 592.3H105.1" stroke="#f4f4f4" stroke-width="0.4"/>
<path d="M22.5 610H105.1" stroke="#f4f4f4" stroke-width="0.4"/>
<path d="M22.5 627.6H105.1" stroke="#f4f4f4" stroke-width="0.4"/>
<path d="M22.5 583.5H105.1" stroke="#ebebeb" stroke-width="0.5"/>
<path d="M22.5 601.1H105.1" stroke="#ebebeb" stroke-width="0.5"/>
<path d="M22.5 618.8H105.1" stroke="#ebebeb" stroke-width="0.5"/>
<path d="M22.5 636.4H105.1" stroke="#ebebeb" stroke-width="0.5"/>
<path d="M37.7 579.2V638.5" stroke="#ebebeb" stroke-width="0.5"/>
<path d="M63.4 579.2V638.5" stroke="#ebebeb" stroke-width="0.5"/>
<path d="M89.6 579.2V638.5" stroke="#ebebeb" stroke-width="0.5"/>
<rect x="22.5" y="579.2" width="82.6" height="59.3" fill="none" stroke="#9a9a9a" stroke-width="0.6"/>
<path d="M21.2 583.5H22.5" stroke="#444" stroke-width="0.4"/>
<text x="20.7" y="584.9" font-size="4.0" fill="#555" text-anchor="end">300</text>
<path d="M21.2 601.1H22.5" stroke="#444" stroke-width="0.4"/>
<text x="20.7" y="602.5" font-size="4.0" fill="#555" text-anchor="end">200</text>
<path d="M21.2 618.8H22.5" stroke="#444" stroke-width="0.4"/>
<text x="20.7" y="620.2" font-size="4.0" fill="#555" text-anchor="end">100</text>
<path d="M21.2 636.4H22.5" stroke="#444" stroke-width="0.4"/>
<text x="20.7" y="637.8" font-size="4.0" fill="#555" text-anchor="end">0</text>
<path d="M37.7 638.5V639.8" stroke="#444" stroke-width="0.4"/>
<path d="M63.4 638.5V639.8" stroke="#444" stroke-width="0.4"/>
<path d="M89.6 638.5V639.8" stroke="#444" stroke-width="0.4"/>
<path d="M22.5 579.2H105.1" stroke="#8c8c8c" stroke-width="0.9"/>
<circle cx="33.2" cy="627.3" r="1.3" fill="#6f8fd0" fill-opacity="0.62"/>
<circle cx="34.3" cy="634.8" r="1.3" fill="#6f8fd0" fill-opacity="0.62"/>
<circle cx="33.6" cy="629.2" r="1.3" fill="#6f8fd0" fill-opacity="0.62"/>
<circle cx="31.9" cy="632.9" r="1.3" fill="#6f8fd0" fill-opacity="0.62"/>
<circle cx="31.9" cy="633.1" r="1.3" fill="#6f8fd0" fill-opacity="0.62"/>
<circle cx="35.2" cy="629" r="1.3" fill="#6f8fd0" fill-opacity="0.62"/>
<circle cx="34.3" cy="632.6" r="1.3" fill="#6f8fd0" fill-opacity="0.62"/>
<circle cx="33.8" cy="599.2" r="1.3" fill="#6f8fd0" fill-opacity="0.6"/>
<rect x="30.1" y="629.2" width="7.2" height="5.1" fill="none" stroke="#1f4e9e" stroke-width="0.7" stroke-opacity="0.6"/>
<path d="M33.7 627.3V634.8" stroke="#1f4e9e" stroke-width="1.1"/>
<path d="M30.1 627.3H37.3" stroke="#1f4e9e" stroke-width="1.1"/>
<path d="M30.1 634.8H37.3" stroke="#1f4e9e" stroke-width="1.1"/>
<path d="M30.1 632.1H37.3" stroke="#1f4e9e" stroke-width="1.1"/>
<circle cx="39.7" cy="628.1" r="1.3" fill="#f78a8a" fill-opacity="0.62"/>
<circle cx="40.1" cy="635.6" r="1.3" fill="#f78a8a" fill-opacity="0.62"/>
<circle cx="39.4" cy="628.7" r="1.3" fill="#f78a8a" fill-opacity="0.62"/>
<circle cx="40.9" cy="632" r="1.3" fill="#f78a8a" fill-opacity="0.62"/>
<circle cx="40.6" cy="633.5" r="1.3" fill="#f78a8a" fill-opacity="0.62"/>
<circle cx="42.8" cy="629.3" r="1.3" fill="#f78a8a" fill-opacity="0.62"/>
<circle cx="41.7" cy="629.2" r="1.3" fill="#f78a8a" fill-opacity="0.62"/>
<rect x="37.8" y="628.9" width="7.2" height="6.4" fill="none" stroke="#ee1c23" stroke-width="0.7" stroke-opacity="0.6"/>
<path d="M41.4 628.1V635.6" stroke="#ee1c23" stroke-width="1.1"/>
<path d="M37.8 628.1H45" stroke="#ee1c23" stroke-width="1.1"/>
<path d="M37.8 635.6H45" stroke="#ee1c23" stroke-width="1.1"/>
<path d="M37.8 632H45" stroke="#ee1c23" stroke-width="1.1"/>
<circle cx="58.4" cy="604" r="1.3" fill="#6f8fd0" fill-opacity="0.62"/>
<circle cx="59.3" cy="634.3" r="1.3" fill="#6f8fd0" fill-opacity="0.62"/>
<circle cx="60.3" cy="633.5" r="1.3" fill="#6f8fd0" fill-opacity="0.62"/>
<circle cx="59.8" cy="618.1" r="1.3" fill="#6f8fd0" fill-opacity="0.62"/>
<circle cx="60.7" cy="611.6" r="1.3" fill="#6f8fd0" fill-opacity="0.62"/>
<circle cx="57.7" cy="621.8" r="1.3" fill="#6f8fd0" fill-opacity="0.62"/>
<circle cx="61" cy="630.1" r="1.3" fill="#6f8fd0" fill-opacity="0.62"/>
<rect x="56.1" y="616.4" width="7.2" height="16.8" fill="none" stroke="#1f4e9e" stroke-width="0.7" stroke-opacity="0.6"/>
<path d="M59.7 604V634.3" stroke="#1f4e9e" stroke-width="1.1"/>
<path d="M56.1 604H63.3" stroke="#1f4e9e" stroke-width="1.1"/>
<path d="M56.1 634.3H63.3" stroke="#1f4e9e" stroke-width="1.1"/>
<path d="M56.1 630.5H63.3" stroke="#1f4e9e" stroke-width="1.1"/>
<circle cx="68.2" cy="610.4" r="1.3" fill="#f78a8a" fill-opacity="0.62"/>
<circle cx="67.2" cy="627.6" r="1.3" fill="#f78a8a" fill-opacity="0.62"/>
<circle cx="69.3" cy="615.5" r="1.3" fill="#f78a8a" fill-opacity="0.62"/>
<circle cx="65.1" cy="622.4" r="1.3" fill="#f78a8a" fill-opacity="0.62"/>
<circle cx="65.4" cy="615.5" r="1.3" fill="#f78a8a" fill-opacity="0.62"/>
<circle cx="69.3" cy="614.2" r="1.3" fill="#f78a8a" fill-opacity="0.62"/>
<circle cx="64.9" cy="616.2" r="1.3" fill="#f78a8a" fill-opacity="0.62"/>
<circle cx="69.5" cy="596.3" r="1.3" fill="#f78a8a" fill-opacity="0.6"/>
<rect x="63.5" y="616.8" width="7.2" height="10" fill="none" stroke="#ee1c23" stroke-width="0.7" stroke-opacity="0.6"/>
<path d="M67.1 610.4V627.6" stroke="#ee1c23" stroke-width="1.1"/>
<path d="M63.5 610.4H70.7" stroke="#ee1c23" stroke-width="1.1"/>
<path d="M63.5 627.6H70.7" stroke="#ee1c23" stroke-width="1.1"/>
<path d="M63.5 625.7H70.7" stroke="#ee1c23" stroke-width="1.1"/>
<circle cx="87.7" cy="581.4" r="1.3" fill="#6f8fd0" fill-opacity="0.62"/>
<circle cx="86.3" cy="632.4" r="1.3" fill="#6f8fd0" fill-opacity="0.62"/>
<circle cx="87.7" cy="596.1" r="1.3" fill="#6f8fd0" fill-opacity="0.62"/>
<circle cx="84.9" cy="586.8" r="1.3" fill="#6f8fd0" fill-opacity="0.62"/>
<circle cx="83.9" cy="590.1" r="1.3" fill="#6f8fd0" fill-opacity="0.62"/>
<circle cx="87.3" cy="610.5" r="1.3" fill="#6f8fd0" fill-opacity="0.62"/>
<circle cx="84.1" cy="598.3" r="1.3" fill="#6f8fd0" fill-opacity="0.62"/>
<rect x="82.3" y="607.2" width="7.2" height="22" fill="none" stroke="#1f4e9e" stroke-width="0.7" stroke-opacity="0.6"/>
<path d="M85.9 581.4V632.4" stroke="#1f4e9e" stroke-width="1.1"/>
<path d="M82.3 581.4H89.5" stroke="#1f4e9e" stroke-width="1.1"/>
<path d="M82.3 632.4H89.5" stroke="#1f4e9e" stroke-width="1.1"/>
<path d="M82.3 621.2H89.5" stroke="#1f4e9e" stroke-width="1.1"/>
<circle cx="91.9" cy="585.1" r="1.3" fill="#f78a8a" fill-opacity="0.62"/>
<circle cx="93.8" cy="624.9" r="1.3" fill="#f78a8a" fill-opacity="0.62"/>
<circle cx="91.6" cy="586.7" r="1.3" fill="#f78a8a" fill-opacity="0.62"/>
<circle cx="94.6" cy="595" r="1.3" fill="#f78a8a" fill-opacity="0.62"/>
<circle cx="93.9" cy="623.7" r="1.3" fill="#f78a8a" fill-opacity="0.62"/>
<circle cx="95.3" cy="618.2" r="1.3" fill="#f78a8a" fill-opacity="0.62"/>
<circle cx="92.3" cy="622.7" r="1.3" fill="#f78a8a" fill-opacity="0.62"/>
<rect x="90" y="604" width="7.2" height="20.9" fill="none" stroke="#ee1c23" stroke-width="0.7" stroke-opacity="0.6"/>
<path d="M93.6 585.1V624.9" stroke="#ee1c23" stroke-width="1.1"/>
<path d="M90 585.1H97.2" stroke="#ee1c23" stroke-width="1.1"/>
<path d="M90 624.9H97.2" stroke="#ee1c23" stroke-width="1.1"/>
<path d="M90 619.3H97.2" stroke="#ee1c23" stroke-width="1.1"/>
<text x="18.9" y="642.3" font-size="3.9" fill="#222" text-anchor="end">PBMC</text>
<text x="18.9" y="647.4" font-size="3.9" fill="#222" text-anchor="end">K562</text>
<text x="18.9" y="652.2" font-size="3.9" fill="#222" text-anchor="end">IL-12+15</text>
<text x="37.7" y="642.6" font-size="5.0" fill="#222" font-weight="bold" text-anchor="middle">+</text>
<text x="37.7" y="647.7" font-size="5.0" fill="#222" font-weight="bold" text-anchor="middle">+</text>
<text x="37.7" y="652.5" font-size="5.0" fill="#222" font-weight="bold" text-anchor="middle">-</text>
<text x="63.4" y="642.6" font-size="5.0" fill="#222" font-weight="bold" text-anchor="middle">+</text>
<text x="63.4" y="647.7" font-size="5.0" fill="#222" font-weight="bold" text-anchor="middle">-</text>
<text x="63.4" y="652.5" font-size="5.0" fill="#222" font-weight="bold" text-anchor="middle">+</text>
<text x="89.6" y="642.6" font-size="5.0" fill="#222" font-weight="bold" text-anchor="middle">+</text>
<text x="89.6" y="647.7" font-size="5.0" fill="#222" font-weight="bold" text-anchor="middle">+</text>
<text x="89.6" y="652.5" font-size="5.0" fill="#222" font-weight="bold" text-anchor="middle">+</text>
<text x="10.6" y="609.3" font-size="5.6" fill="#222" text-anchor="middle" transform="rotate(-90 10.6 609.3)">IFN-γ<tspan baseline-shift="super" font-size="65%">+</tspan> (fold change)</text>
<rect x="134.9" y="579.2" width="82.2" height="59.3" fill="#fff"/>
<path d="M134.9 584.6H217.1" stroke="#f4f4f4" stroke-width="0.4"/>
<path d="M134.9 595.8H217.1" stroke="#f4f4f4" stroke-width="0.4"/>
<path d="M134.9 607.3H217.1" stroke="#f4f4f4" stroke-width="0.4"/>
<path d="M134.9 618.9H217.1" stroke="#f4f4f4" stroke-width="0.4"/>
<path d="M134.9 630.3H217.1" stroke="#f4f4f4" stroke-width="0.4"/>
<path d="M134.9 590.2H217.1" stroke="#ebebeb" stroke-width="0.5"/>
<path d="M134.9 601.4H217.1" stroke="#ebebeb" stroke-width="0.5"/>
<path d="M134.9 613.2H217.1" stroke="#ebebeb" stroke-width="0.5"/>
<path d="M134.9 624.6H217.1" stroke="#ebebeb" stroke-width="0.5"/>
<path d="M134.9 636H217.1" stroke="#ebebeb" stroke-width="0.5"/>
<path d="M150.3 579.2V638.5" stroke="#ebebeb" stroke-width="0.5"/>
<path d="M176.3 579.2V638.5" stroke="#ebebeb" stroke-width="0.5"/>
<path d="M202.3 579.2V638.5" stroke="#ebebeb" stroke-width="0.5"/>
<rect x="134.9" y="579.2" width="82.2" height="59.3" fill="none" stroke="#9a9a9a" stroke-width="0.6"/>
<path d="M133.6 590.2H134.9" stroke="#444" stroke-width="0.4"/>
<text x="133.1" y="591.6" font-size="4.0" fill="#555" text-anchor="end">200</text>
<path d="M133.6 601.4H134.9" stroke="#444" stroke-width="0.4"/>
<text x="133.1" y="602.8" font-size="4.0" fill="#555" text-anchor="end">150</text>
<path d="M133.6 613.2H134.9" stroke="#444" stroke-width="0.4"/>
<text x="133.1" y="614.6" font-size="4.0" fill="#555" text-anchor="end">100</text>
<path d="M133.6 624.6H134.9" stroke="#444" stroke-width="0.4"/>
<text x="133.1" y="626" font-size="4.0" fill="#555" text-anchor="end">50</text>
<path d="M133.6 636H134.9" stroke="#444" stroke-width="0.4"/>
<text x="133.1" y="637.4" font-size="4.0" fill="#555" text-anchor="end">0</text>
<path d="M150.3 638.5V639.8" stroke="#444" stroke-width="0.4"/>
<path d="M176.3 638.5V639.8" stroke="#444" stroke-width="0.4"/>
<path d="M202.3 638.5V639.8" stroke="#444" stroke-width="0.4"/>
<path d="M134.9 579.2H217.1" stroke="#8c8c8c" stroke-width="0.9"/>
<circle cx="144.7" cy="633" r="1.3" fill="#6f8fd0" fill-opacity="0.62"/>
<circle cx="147.9" cy="635.8" r="1.3" fill="#6f8fd0" fill-opacity="0.62"/>
<circle cx="148.7" cy="634.7" r="1.3" fill="#6f8fd0" fill-opacity="0.62"/>
<circle cx="145.9" cy="633.7" r="1.3" fill="#6f8fd0" fill-opacity="0.62"/>
<circle cx="146.3" cy="633.1" r="1.3" fill="#6f8fd0" fill-opacity="0.62"/>
<circle cx="147" cy="634.4" r="1.3" fill="#6f8fd0" fill-opacity="0.62"/>
<circle cx="145.5" cy="635.5" r="1.3" fill="#6f8fd0" fill-opacity="0.62"/>
<circle cx="146.4" cy="581.8" r="1.3" fill="#6f8fd0" fill-opacity="0.6"/>
<circle cx="143.6" cy="629.6" r="1.3" fill="#6f8fd0" fill-opacity="0.6"/>
<rect x="143" y="633.3" width="7.2" height="2.2" fill="none" stroke="#1f4e9e" stroke-width="0.7" stroke-opacity="0.6"/>
<path d="M146.6 633V635.8" stroke="#1f4e9e" stroke-width="1.1"/>
<path d="M143 633H150.2" stroke="#1f4e9e" stroke-width="1.1"/>
<path d="M143 635.8H150.2" stroke="#1f4e9e" stroke-width="1.1"/>
<path d="M143 634.3H150.2" stroke="#1f4e9e" stroke-width="1.1"/>
<circle cx="153.5" cy="633.3" r="1.3" fill="#f78a8a" fill-opacity="0.62"/>
<circle cx="156.5" cy="635.8" r="1.3" fill="#f78a8a" fill-opacity="0.62"/>
<circle cx="152" cy="634.5" r="1.3" fill="#f78a8a" fill-opacity="0.62"/>
<circle cx="155.9" cy="634.9" r="1.3" fill="#f78a8a" fill-opacity="0.62"/>
<circle cx="152.9" cy="635.5" r="1.3" fill="#f78a8a" fill-opacity="0.62"/>
<circle cx="152.4" cy="633.8" r="1.3" fill="#f78a8a" fill-opacity="0.62"/>
<circle cx="155.5" cy="633.6" r="1.3" fill="#f78a8a" fill-opacity="0.62"/>
<circle cx="156.2" cy="624.6" r="1.3" fill="#f78a8a" fill-opacity="0.6"/>
<circle cx="156.2" cy="629.6" r="1.3" fill="#f78a8a" fill-opacity="0.6"/>
<rect x="150.9" y="633.5" width="7.2" height="2" fill="none" stroke="#ee1c23" stroke-width="0.7" stroke-opacity="0.6"/>
<path d="M154.5 633.3V635.8" stroke="#ee1c23" stroke-width="1.1"/>
<path d="M150.9 633.3H158.1" stroke="#ee1c23" stroke-width="1.1"/>
<path d="M150.9 635.8H158.1" stroke="#ee1c23" stroke-width="1.1"/>
<path d="M150.9 634.5H158.1" stroke="#ee1c23" stroke-width="1.1"/>
<circle cx="174.3" cy="632.8" r="1.3" fill="#6f8fd0" fill-opacity="0.62"/>
<circle cx="170.4" cy="635.8" r="1.3" fill="#6f8fd0" fill-opacity="0.62"/>
<circle cx="172.7" cy="635.8" r="1.3" fill="#6f8fd0" fill-opacity="0.62"/>
<circle cx="174.7" cy="635.5" r="1.3" fill="#6f8fd0" fill-opacity="0.62"/>
<circle cx="173.7" cy="635.6" r="1.3" fill="#6f8fd0" fill-opacity="0.62"/>
<circle cx="174.1" cy="635.3" r="1.3" fill="#6f8fd0" fill-opacity="0.62"/>
<circle cx="172" cy="633.1" r="1.3" fill="#6f8fd0" fill-opacity="0.62"/>
<rect x="169" y="633" width="7.2" height="2.5" fill="none" stroke="#1f4e9e" stroke-width="0.7" stroke-opacity="0.6"/>
<path d="M172.6 632.8V635.8" stroke="#1f4e9e" stroke-width="1.1"/>
<path d="M169 632.8H176.2" stroke="#1f4e9e" stroke-width="1.1"/>
<path d="M169 635.8H176.2" stroke="#1f4e9e" stroke-width="1.1"/>
<path d="M169 634.3H176.2" stroke="#1f4e9e" stroke-width="1.1"/>
<circle cx="182.1" cy="633.3" r="1.3" fill="#f78a8a" fill-opacity="0.62"/>
<circle cx="180.9" cy="635.8" r="1.3" fill="#f78a8a" fill-opacity="0.62"/>
<circle cx="181.4" cy="634.4" r="1.3" fill="#f78a8a" fill-opacity="0.62"/>
<circle cx="182.3" cy="634.5" r="1.3" fill="#f78a8a" fill-opacity="0.62"/>
<circle cx="181.6" cy="633.5" r="1.3" fill="#f78a8a" fill-opacity="0.62"/>
<circle cx="178.3" cy="634.3" r="1.3" fill="#f78a8a" fill-opacity="0.62"/>
<circle cx="179.5" cy="633.3" r="1.3" fill="#f78a8a" fill-opacity="0.62"/>
<rect x="176.7" y="633.5" width="7.2" height="2" fill="none" stroke="#ee1c23" stroke-width="0.7" stroke-opacity="0.6"/>
<path d="M180.3 633.3V635.8" stroke="#ee1c23" stroke-width="1.1"/>
<path d="M176.7 633.3H183.9" stroke="#ee1c23" stroke-width="1.1"/>
<path d="M176.7 635.8H183.9" stroke="#ee1c23" stroke-width="1.1"/>
<path d="M176.7 634.5H183.9" stroke="#ee1c23" stroke-width="1.1"/>
<circle cx="199.8" cy="627" r="1.3" fill="#6f8fd0" fill-opacity="0.62"/>
<circle cx="198.7" cy="635.5" r="1.3" fill="#6f8fd0" fill-opacity="0.62"/>
<circle cx="199.3" cy="635.2" r="1.3" fill="#6f8fd0" fill-opacity="0.62"/>
<circle cx="200.2" cy="629.8" r="1.3" fill="#6f8fd0" fill-opacity="0.62"/>
<circle cx="199.1" cy="627.5" r="1.3" fill="#6f8fd0" fill-opacity="0.62"/>
<circle cx="197.6" cy="632.1" r="1.3" fill="#6f8fd0" fill-opacity="0.62"/>
<circle cx="198.5" cy="631.2" r="1.3" fill="#6f8fd0" fill-opacity="0.62"/>
<circle cx="196.4" cy="599.7" r="1.3" fill="#6f8fd0" fill-opacity="0.6"/>
<circle cx="197.3" cy="614.8" r="1.3" fill="#6f8fd0" fill-opacity="0.6"/>
<rect x="194.9" y="627.6" width="7.2" height="7" fill="none" stroke="#1f4e9e" stroke-width="0.7" stroke-opacity="0.6"/>
<path d="M198.5 627V635.5" stroke="#1f4e9e" stroke-width="1.1"/>
<path d="M194.9 627H202.1" stroke="#1f4e9e" stroke-width="1.1"/>
<path d="M194.9 635.5H202.1" stroke="#1f4e9e" stroke-width="1.1"/>
<path d="M194.9 633.8H202.1" stroke="#1f4e9e" stroke-width="1.1"/>
<circle cx="208.5" cy="616.5" r="1.3" fill="#f78a8a" fill-opacity="0.62"/>
<circle cx="208.7" cy="635.5" r="1.3" fill="#f78a8a" fill-opacity="0.62"/>
<circle cx="208.3" cy="630.2" r="1.3" fill="#f78a8a" fill-opacity="0.62"/>
<circle cx="207.9" cy="631.3" r="1.3" fill="#f78a8a" fill-opacity="0.62"/>
<circle cx="207.8" cy="617.3" r="1.3" fill="#f78a8a" fill-opacity="0.62"/>
<circle cx="203.8" cy="631.8" r="1.3" fill="#f78a8a" fill-opacity="0.62"/>
<circle cx="208.1" cy="628.5" r="1.3" fill="#f78a8a" fill-opacity="0.62"/>
<rect x="202.6" y="626.2" width="7.2" height="9.3" fill="none" stroke="#ee1c23" stroke-width="0.7" stroke-opacity="0.6"/>
<path d="M206.2 616.5V635.5" stroke="#ee1c23" stroke-width="1.1"/>
<path d="M202.6 616.5H209.8" stroke="#ee1c23" stroke-width="1.1"/>
<path d="M202.6 635.5H209.8" stroke="#ee1c23" stroke-width="1.1"/>
<path d="M202.6 633.8H209.8" stroke="#ee1c23" stroke-width="1.1"/>
<text x="131.8" y="642.3" font-size="3.9" fill="#222" text-anchor="end">PBMC</text>
<text x="131.8" y="647.4" font-size="3.9" fill="#222" text-anchor="end">K562</text>
<text x="131.8" y="652.2" font-size="3.9" fill="#222" text-anchor="end">IL-12+15</text>
<text x="150.3" y="642.6" font-size="5.0" fill="#222" font-weight="bold" text-anchor="middle">+</text>
<text x="150.3" y="647.7" font-size="5.0" fill="#222" font-weight="bold" text-anchor="middle">+</text>
<text x="150.3" y="652.5" font-size="5.0" fill="#222" font-weight="bold" text-anchor="middle">-</text>
<text x="176.3" y="642.6" font-size="5.0" fill="#222" font-weight="bold" text-anchor="middle">+</text>
<text x="176.3" y="647.7" font-size="5.0" fill="#222" font-weight="bold" text-anchor="middle">-</text>
<text x="176.3" y="652.5" font-size="5.0" fill="#222" font-weight="bold" text-anchor="middle">+</text>
<text x="202.3" y="642.6" font-size="5.0" fill="#222" font-weight="bold" text-anchor="middle">+</text>
<text x="202.3" y="647.7" font-size="5.0" fill="#222" font-weight="bold" text-anchor="middle">+</text>
<text x="202.3" y="652.5" font-size="5.0" fill="#222" font-weight="bold" text-anchor="middle">+</text>
<text x="124.2" y="609" font-size="5.8" fill="#222" text-anchor="middle" transform="rotate(-90 124.2 609)">TNF-α<tspan baseline-shift="super" font-size="65%">+</tspan> (fold change)</text>
<rect x="248.3" y="579.2" width="83.2" height="59.3" fill="#fff"/>
<path d="M248.3 587H331.5" stroke="#f4f4f4" stroke-width="0.4"/>
<path d="M248.3 598H331.5" stroke="#f4f4f4" stroke-width="0.4"/>
<path d="M248.3 609H331.5" stroke="#f4f4f4" stroke-width="0.4"/>
<path d="M248.3 620H331.5" stroke="#f4f4f4" stroke-width="0.4"/>
<path d="M248.3 631H331.5" stroke="#f4f4f4" stroke-width="0.4"/>
<path d="M248.3 581.6H331.5" stroke="#ebebeb" stroke-width="0.5"/>
<path d="M248.3 592.5H331.5" stroke="#ebebeb" stroke-width="0.5"/>
<path d="M248.3 603.5H331.5" stroke="#ebebeb" stroke-width="0.5"/>
<path d="M248.3 614.6H331.5" stroke="#ebebeb" stroke-width="0.5"/>
<path d="M248.3 625.4H331.5" stroke="#ebebeb" stroke-width="0.5"/>
<path d="M248.3 636.5H331.5" stroke="#ebebeb" stroke-width="0.5"/>
<path d="M264.4 579.2V638.5" stroke="#ebebeb" stroke-width="0.5"/>
<path d="M290 579.2V638.5" stroke="#ebebeb" stroke-width="0.5"/>
<path d="M315.7 579.2V638.5" stroke="#ebebeb" stroke-width="0.5"/>
<rect x="248.3" y="579.2" width="83.2" height="59.3" fill="none" stroke="#9a9a9a" stroke-width="0.6"/>
<path d="M247 581.6H248.3" stroke="#444" stroke-width="0.4"/>
<text x="246.5" y="583" font-size="4.0" fill="#555" text-anchor="end">125</text>
<path d="M247 592.5H248.3" stroke="#444" stroke-width="0.4"/>
<text x="246.5" y="593.9" font-size="4.0" fill="#555" text-anchor="end">100</text>
<path d="M247 603.5H248.3" stroke="#444" stroke-width="0.4"/>
<text x="246.5" y="604.9" font-size="4.0" fill="#555" text-anchor="end">75</text>
<path d="M247 614.6H248.3" stroke="#444" stroke-width="0.4"/>
<text x="246.5" y="616" font-size="4.0" fill="#555" text-anchor="end">50</text>
<path d="M247 625.4H248.3" stroke="#444" stroke-width="0.4"/>
<text x="246.5" y="626.8" font-size="4.0" fill="#555" text-anchor="end">25</text>
<path d="M247 636.5H248.3" stroke="#444" stroke-width="0.4"/>
<text x="246.5" y="637.9" font-size="4.0" fill="#555" text-anchor="end">0</text>
<path d="M264.4 638.5V639.8" stroke="#444" stroke-width="0.4"/>
<path d="M290 638.5V639.8" stroke="#444" stroke-width="0.4"/>
<path d="M315.7 638.5V639.8" stroke="#444" stroke-width="0.4"/>
<path d="M248.3 579.2H331.5" stroke="#8c8c8c" stroke-width="0.9"/>
<circle cx="262.4" cy="613.7" r="1.3" fill="#6f8fd0" fill-opacity="0.62"/>
<circle cx="262.5" cy="634.2" r="1.3" fill="#6f8fd0" fill-opacity="0.62"/>
<circle cx="258.9" cy="631.4" r="1.3" fill="#6f8fd0" fill-opacity="0.62"/>
<circle cx="258" cy="617.9" r="1.3" fill="#6f8fd0" fill-opacity="0.62"/>
<circle cx="260.4" cy="624.7" r="1.3" fill="#6f8fd0" fill-opacity="0.62"/>
<circle cx="260.1" cy="632.7" r="1.3" fill="#6f8fd0" fill-opacity="0.62"/>
<circle cx="260.4" cy="625.4" r="1.3" fill="#6f8fd0" fill-opacity="0.62"/>
<rect x="256.6" y="621.4" width="7.2" height="12.4" fill="none" stroke="#1f4e9e" stroke-width="0.7" stroke-opacity="0.6"/>
<path d="M260.2 613.7V634.2" stroke="#1f4e9e" stroke-width="1.1"/>
<path d="M256.6 613.7H263.8" stroke="#1f4e9e" stroke-width="1.1"/>
<path d="M256.6 634.2H263.8" stroke="#1f4e9e" stroke-width="1.1"/>
<path d="M256.6 628.4H263.8" stroke="#1f4e9e" stroke-width="1.1"/>
<circle cx="266.4" cy="629.8" r="1.3" fill="#f78a8a" fill-opacity="0.62"/>
<circle cx="269.6" cy="635.6" r="1.3" fill="#f78a8a" fill-opacity="0.62"/>
<circle cx="268.1" cy="634" r="1.3" fill="#f78a8a" fill-opacity="0.62"/>
<circle cx="265.9" cy="631.1" r="1.3" fill="#f78a8a" fill-opacity="0.62"/>
<circle cx="267.1" cy="632.3" r="1.3" fill="#f78a8a" fill-opacity="0.62"/>
<circle cx="265.9" cy="635.5" r="1.3" fill="#f78a8a" fill-opacity="0.62"/>
<circle cx="270.1" cy="634.4" r="1.3" fill="#f78a8a" fill-opacity="0.62"/>
<rect x="264.4" y="632" width="7.2" height="3" fill="none" stroke="#ee1c23" stroke-width="0.7" stroke-opacity="0.6"/>
<path d="M268 629.8V635.6" stroke="#ee1c23" stroke-width="1.1"/>
<path d="M264.4 629.8H271.6" stroke="#ee1c23" stroke-width="1.1"/>
<path d="M264.4 635.6H271.6" stroke="#ee1c23" stroke-width="1.1"/>
<path d="M264.4 633.3H271.6" stroke="#ee1c23" stroke-width="1.1"/>
<circle cx="285.4" cy="631.5" r="1.3" fill="#6f8fd0" fill-opacity="0.62"/>
<circle cx="287.3" cy="635" r="1.3" fill="#6f8fd0" fill-opacity="0.62"/>
<circle cx="287.7" cy="633.4" r="1.3" fill="#6f8fd0" fill-opacity="0.62"/>
<circle cx="286.3" cy="634.2" r="1.3" fill="#6f8fd0" fill-opacity="0.62"/>
<circle cx="287.2" cy="631.6" r="1.3" fill="#6f8fd0" fill-opacity="0.62"/>
<circle cx="284.9" cy="633.5" r="1.3" fill="#6f8fd0" fill-opacity="0.62"/>
<circle cx="285.7" cy="633.1" r="1.3" fill="#6f8fd0" fill-opacity="0.62"/>
<circle cx="285.4" cy="626" r="1.3" fill="#6f8fd0" fill-opacity="0.6"/>
<rect x="282.3" y="631.9" width="7.2" height="2.8" fill="none" stroke="#1f4e9e" stroke-width="0.7" stroke-opacity="0.6"/>
<path d="M285.9 631.5V635" stroke="#1f4e9e" stroke-width="1.1"/>
<path d="M282.3 631.5H289.5" stroke="#1f4e9e" stroke-width="1.1"/>
<path d="M282.3 635H289.5" stroke="#1f4e9e" stroke-width="1.1"/>
<path d="M282.3 633.5H289.5" stroke="#1f4e9e" stroke-width="1.1"/>
<circle cx="294.6" cy="632.4" r="1.3" fill="#f78a8a" fill-opacity="0.62"/>
<circle cx="295.2" cy="635.9" r="1.3" fill="#f78a8a" fill-opacity="0.62"/>
<circle cx="295.6" cy="632.6" r="1.3" fill="#f78a8a" fill-opacity="0.62"/>
<circle cx="293.6" cy="634.1" r="1.3" fill="#f78a8a" fill-opacity="0.62"/>
<circle cx="292.6" cy="633.5" r="1.3" fill="#f78a8a" fill-opacity="0.62"/>
<circle cx="293.1" cy="635.1" r="1.3" fill="#f78a8a" fill-opacity="0.62"/>
<circle cx="294.4" cy="635.3" r="1.3" fill="#f78a8a" fill-opacity="0.62"/>
<rect x="290.1" y="632.4" width="7.2" height="3.5" fill="none" stroke="#ee1c23" stroke-width="0.7" stroke-opacity="0.6"/>
<path d="M293.7 632.4V635.9" stroke="#ee1c23" stroke-width="1.1"/>
<path d="M290.1 632.4H297.3" stroke="#ee1c23" stroke-width="1.1"/>
<path d="M290.1 635.9H297.3" stroke="#ee1c23" stroke-width="1.1"/>
<path d="M290.1 634.2H297.3" stroke="#ee1c23" stroke-width="1.1"/>
<circle cx="312.2" cy="607.6" r="1.3" fill="#6f8fd0" fill-opacity="0.62"/>
<circle cx="310.6" cy="634.2" r="1.3" fill="#6f8fd0" fill-opacity="0.62"/>
<circle cx="313.1" cy="623.6" r="1.3" fill="#6f8fd0" fill-opacity="0.62"/>
<circle cx="311.7" cy="621.9" r="1.3" fill="#6f8fd0" fill-opacity="0.62"/>
<circle cx="314.2" cy="609" r="1.3" fill="#6f8fd0" fill-opacity="0.62"/>
<circle cx="313.6" cy="624.7" r="1.3" fill="#6f8fd0" fill-opacity="0.62"/>
<circle cx="312.6" cy="617.2" r="1.3" fill="#6f8fd0" fill-opacity="0.62"/>
<circle cx="311.3" cy="582" r="1.3" fill="#6f8fd0" fill-opacity="0.6"/>
<rect x="308.2" y="613.2" width="7.2" height="20.1" fill="none" stroke="#1f4e9e" stroke-width="0.7" stroke-opacity="0.6"/>
<path d="M311.8 607.6V634.2" stroke="#1f4e9e" stroke-width="1.1"/>
<path d="M308.2 607.6H315.4" stroke="#1f4e9e" stroke-width="1.1"/>
<path d="M308.2 634.2H315.4" stroke="#1f4e9e" stroke-width="1.1"/>
<path d="M308.2 624.5H315.4" stroke="#1f4e9e" stroke-width="1.1"/>
<circle cx="319.5" cy="626.3" r="1.3" fill="#f78a8a" fill-opacity="0.62"/>
<circle cx="317.8" cy="634.2" r="1.3" fill="#f78a8a" fill-opacity="0.62"/>
<circle cx="319.5" cy="633.1" r="1.3" fill="#f78a8a" fill-opacity="0.62"/>
<circle cx="319.5" cy="632.7" r="1.3" fill="#f78a8a" fill-opacity="0.62"/>
<circle cx="320.7" cy="632.7" r="1.3" fill="#f78a8a" fill-opacity="0.62"/>
<circle cx="321.6" cy="632.2" r="1.3" fill="#f78a8a" fill-opacity="0.62"/>
<circle cx="319.8" cy="633.2" r="1.3" fill="#f78a8a" fill-opacity="0.62"/>
<rect x="316.5" y="626.6" width="7.2" height="7.2" fill="none" stroke="#ee1c23" stroke-width="0.7" stroke-opacity="0.6"/>
<path d="M320.1 626.3V634.2" stroke="#ee1c23" stroke-width="1.1"/>
<path d="M316.5 626.3H323.7" stroke="#ee1c23" stroke-width="1.1"/>
<path d="M316.5 634.2H323.7" stroke="#ee1c23" stroke-width="1.1"/>
<path d="M316.5 629.8H323.7" stroke="#ee1c23" stroke-width="1.1"/>
<path d="M260.2 607.9H268" stroke="#000" stroke-width="0.5"/>
<text x="264.1" y="607.7" font-size="4.5" font-weight="bold" text-anchor="middle">*</text>
<path d="M311.8 602.3H320.1" stroke="#000" stroke-width="0.5"/>
<text x="316" y="602.1" font-size="4.5" font-weight="bold" text-anchor="middle">*</text>
<text x="246.2" y="642.3" font-size="3.9" fill="#222" text-anchor="end">PBMC</text>
<text x="246.2" y="647.4" font-size="3.9" fill="#222" text-anchor="end">K562</text>
<text x="246.2" y="652.2" font-size="3.9" fill="#222" text-anchor="end">IL-12+15</text>
<text x="264.4" y="642.6" font-size="5.0" fill="#222" font-weight="bold" text-anchor="middle">+</text>
<text x="264.4" y="647.7" font-size="5.0" fill="#222" font-weight="bold" text-anchor="middle">+</text>
<text x="264.4" y="652.5" font-size="5.0" fill="#222" font-weight="bold" text-anchor="middle">-</text>
<text x="290" y="642.6" font-size="5.0" fill="#222" font-weight="bold" text-anchor="middle">+</text>
<text x="290" y="647.7" font-size="5.0" fill="#222" font-weight="bold" text-anchor="middle">-</text>
<text x="290" y="652.5" font-size="5.0" fill="#222" font-weight="bold" text-anchor="middle">+</text>
<text x="315.7" y="642.6" font-size="5.0" fill="#222" font-weight="bold" text-anchor="middle">+</text>
<text x="315.7" y="647.7" font-size="5.0" fill="#222" font-weight="bold" text-anchor="middle">+</text>
<text x="315.7" y="652.5" font-size="5.0" fill="#222" font-weight="bold" text-anchor="middle">+</text>
<text x="237.7" y="608.2" font-size="5.8" fill="#222" text-anchor="middle" transform="rotate(-90 237.7 608.2)">CD107a<tspan baseline-shift="super" font-size="65%">+</tspan> (fold change)</text>
<rect x="362.9" y="579.2" width="82.7" height="59.3" fill="#fff"/>
<path d="M362.9 581.8H445.6" stroke="#f4f4f4" stroke-width="0.4"/>
<path d="M362.9 593.8H445.6" stroke="#f4f4f4" stroke-width="0.4"/>
<path d="M362.9 605.8H445.6" stroke="#f4f4f4" stroke-width="0.4"/>
<path d="M362.9 618H445.6" stroke="#f4f4f4" stroke-width="0.4"/>
<path d="M362.9 630H445.6" stroke="#f4f4f4" stroke-width="0.4"/>
<path d="M362.9 587.8H445.6" stroke="#ebebeb" stroke-width="0.5"/>
<path d="M362.9 599.7H445.6" stroke="#ebebeb" stroke-width="0.5"/>
<path d="M362.9 611.9H445.6" stroke="#ebebeb" stroke-width="0.5"/>
<path d="M362.9 624H445.6" stroke="#ebebeb" stroke-width="0.5"/>
<path d="M362.9 635.9H445.6" stroke="#ebebeb" stroke-width="0.5"/>
<path d="M378.7 579.2V638.5" stroke="#ebebeb" stroke-width="0.5"/>
<path d="M404.4 579.2V638.5" stroke="#ebebeb" stroke-width="0.5"/>
<path d="M430.3 579.2V638.5" stroke="#ebebeb" stroke-width="0.5"/>
<rect x="362.9" y="579.2" width="82.7" height="59.3" fill="none" stroke="#9a9a9a" stroke-width="0.6"/>
<path d="M361.6 587.8H362.9" stroke="#444" stroke-width="0.4"/>
<text x="361.1" y="589.2" font-size="4.0" fill="#555" text-anchor="end">400</text>
<path d="M361.6 599.7H362.9" stroke="#444" stroke-width="0.4"/>
<text x="361.1" y="601.1" font-size="4.0" fill="#555" text-anchor="end">300</text>
<path d="M361.6 611.9H362.9" stroke="#444" stroke-width="0.4"/>
<text x="361.1" y="613.3" font-size="4.0" fill="#555" text-anchor="end">200</text>
<path d="M361.6 624H362.9" stroke="#444" stroke-width="0.4"/>
<text x="361.1" y="625.4" font-size="4.0" fill="#555" text-anchor="end">100</text>
<path d="M361.6 635.9H362.9" stroke="#444" stroke-width="0.4"/>
<text x="361.1" y="637.3" font-size="4.0" fill="#555" text-anchor="end">0</text>
<path d="M378.7 638.5V639.8" stroke="#444" stroke-width="0.4"/>
<path d="M404.4 638.5V639.8" stroke="#444" stroke-width="0.4"/>
<path d="M430.3 638.5V639.8" stroke="#444" stroke-width="0.4"/>
<path d="M362.9 579.2H445.6" stroke="#8c8c8c" stroke-width="0.9"/>
<circle cx="372.7" cy="631.2" r="1.3" fill="#6f8fd0" fill-opacity="0.62"/>
<circle cx="373.9" cy="635.9" r="1.3" fill="#6f8fd0" fill-opacity="0.62"/>
<circle cx="376.5" cy="631.3" r="1.3" fill="#6f8fd0" fill-opacity="0.62"/>
<circle cx="373.2" cy="634.3" r="1.3" fill="#6f8fd0" fill-opacity="0.62"/>
<circle cx="372.8" cy="635.1" r="1.3" fill="#6f8fd0" fill-opacity="0.62"/>
<circle cx="375.1" cy="634.5" r="1.3" fill="#6f8fd0" fill-opacity="0.62"/>
<circle cx="376.2" cy="631.4" r="1.3" fill="#6f8fd0" fill-opacity="0.62"/>
<circle cx="374.5" cy="582" r="1.3" fill="#6f8fd0" fill-opacity="0.6"/>
<circle cx="373.4" cy="625.4" r="1.3" fill="#6f8fd0" fill-opacity="0.6"/>
<rect x="371.1" y="631.5" width="7.2" height="4.4" fill="none" stroke="#1f4e9e" stroke-width="0.7" stroke-opacity="0.6"/>
<path d="M374.7 631.2V635.9" stroke="#1f4e9e" stroke-width="1.1"/>
<path d="M371.1 631.2H378.3" stroke="#1f4e9e" stroke-width="1.1"/>
<path d="M371.1 635.9H378.3" stroke="#1f4e9e" stroke-width="1.1"/>
<path d="M371.1 633.8H378.3" stroke="#1f4e9e" stroke-width="1.1"/>
<circle cx="382.3" cy="631.2" r="1.3" fill="#f78a8a" fill-opacity="0.62"/>
<circle cx="383.3" cy="635.9" r="1.3" fill="#f78a8a" fill-opacity="0.62"/>
<circle cx="382.7" cy="635.6" r="1.3" fill="#f78a8a" fill-opacity="0.62"/>
<circle cx="384" cy="633.4" r="1.3" fill="#f78a8a" fill-opacity="0.62"/>
<circle cx="385" cy="634.4" r="1.3" fill="#f78a8a" fill-opacity="0.62"/>
<circle cx="381.3" cy="632.9" r="1.3" fill="#f78a8a" fill-opacity="0.62"/>
<circle cx="382.1" cy="631.5" r="1.3" fill="#f78a8a" fill-opacity="0.62"/>
<circle cx="382.2" cy="612.3" r="1.3" fill="#f78a8a" fill-opacity="0.6"/>
<rect x="378.9" y="631.5" width="7.2" height="4.4" fill="none" stroke="#ee1c23" stroke-width="0.7" stroke-opacity="0.6"/>
<path d="M382.5 631.2V635.9" stroke="#ee1c23" stroke-width="1.1"/>
<path d="M378.9 631.2H386.1" stroke="#ee1c23" stroke-width="1.1"/>
<path d="M378.9 635.9H386.1" stroke="#ee1c23" stroke-width="1.1"/>
<path d="M378.9 633.8H386.1" stroke="#ee1c23" stroke-width="1.1"/>
<circle cx="398.8" cy="634.5" r="1.3" fill="#6f8fd0" fill-opacity="0.62"/>
<circle cx="398.6" cy="636.5" r="1.3" fill="#6f8fd0" fill-opacity="0.62"/>
<circle cx="400" cy="636.3" r="1.3" fill="#6f8fd0" fill-opacity="0.62"/>
<circle cx="403" cy="636.3" r="1.3" fill="#6f8fd0" fill-opacity="0.62"/>
<circle cx="398.6" cy="635.9" r="1.3" fill="#6f8fd0" fill-opacity="0.62"/>
<circle cx="399.1" cy="635.1" r="1.3" fill="#6f8fd0" fill-opacity="0.62"/>
<circle cx="401.8" cy="635.3" r="1.3" fill="#6f8fd0" fill-opacity="0.62"/>
<rect x="396.9" y="634.5" width="7.2" height="2" fill="none" stroke="#1f4e9e" stroke-width="0.7" stroke-opacity="0.6"/>
<path d="M400.5 634.5V636.5" stroke="#1f4e9e" stroke-width="1.1"/>
<path d="M396.9 634.5H404.1" stroke="#1f4e9e" stroke-width="1.1"/>
<path d="M396.9 636.5H404.1" stroke="#1f4e9e" stroke-width="1.1"/>
<path d="M396.9 635.5H404.1" stroke="#1f4e9e" stroke-width="1.1"/>
<circle cx="406.4" cy="634.5" r="1.3" fill="#f78a8a" fill-opacity="0.62"/>
<circle cx="406.8" cy="636.5" r="1.3" fill="#f78a8a" fill-opacity="0.62"/>
<circle cx="406.3" cy="635.2" r="1.3" fill="#f78a8a" fill-opacity="0.62"/>
<circle cx="410.2" cy="635.6" r="1.3" fill="#f78a8a" fill-opacity="0.62"/>
<circle cx="407.8" cy="635" r="1.3" fill="#f78a8a" fill-opacity="0.62"/>
<circle cx="405.8" cy="635.4" r="1.3" fill="#f78a8a" fill-opacity="0.62"/>
<circle cx="410.2" cy="635" r="1.3" fill="#f78a8a" fill-opacity="0.62"/>
<circle cx="406.2" cy="612.6" r="1.3" fill="#f78a8a" fill-opacity="0.6"/>
<rect x="404.7" y="634.5" width="7.2" height="2" fill="none" stroke="#ee1c23" stroke-width="0.7" stroke-opacity="0.6"/>
<path d="M408.3 634.5V636.5" stroke="#ee1c23" stroke-width="1.1"/>
<path d="M404.7 634.5H411.9" stroke="#ee1c23" stroke-width="1.1"/>
<path d="M404.7 636.5H411.9" stroke="#ee1c23" stroke-width="1.1"/>
<path d="M404.7 635.5H411.9" stroke="#ee1c23" stroke-width="1.1"/>
<circle cx="424.2" cy="613.5" r="1.3" fill="#6f8fd0" fill-opacity="0.62"/>
<circle cx="425.4" cy="635" r="1.3" fill="#6f8fd0" fill-opacity="0.62"/>
<circle cx="426.7" cy="627.4" r="1.3" fill="#6f8fd0" fill-opacity="0.62"/>
<circle cx="424.5" cy="628.1" r="1.3" fill="#6f8fd0" fill-opacity="0.62"/>
<circle cx="426.3" cy="633.7" r="1.3" fill="#6f8fd0" fill-opacity="0.62"/>
<circle cx="425.6" cy="624.5" r="1.3" fill="#6f8fd0" fill-opacity="0.62"/>
<circle cx="426.2" cy="631.7" r="1.3" fill="#6f8fd0" fill-opacity="0.62"/>
<rect x="422.7" y="625.4" width="7.2" height="9.6" fill="none" stroke="#1f4e9e" stroke-width="0.7" stroke-opacity="0.6"/>
<path d="M426.3 613.5V635" stroke="#1f4e9e" stroke-width="1.1"/>
<path d="M422.7 613.5H429.9" stroke="#1f4e9e" stroke-width="1.1"/>
<path d="M422.7 635H429.9" stroke="#1f4e9e" stroke-width="1.1"/>
<path d="M422.7 633.8H429.9" stroke="#1f4e9e" stroke-width="1.1"/>
<circle cx="435.3" cy="625.4" r="1.3" fill="#f78a8a" fill-opacity="0.62"/>
<circle cx="435.5" cy="635" r="1.3" fill="#f78a8a" fill-opacity="0.62"/>
<circle cx="435.4" cy="627.5" r="1.3" fill="#f78a8a" fill-opacity="0.62"/>
<circle cx="433.2" cy="626.5" r="1.3" fill="#f78a8a" fill-opacity="0.62"/>
<circle cx="433.4" cy="634.9" r="1.3" fill="#f78a8a" fill-opacity="0.62"/>
<circle cx="436.4" cy="627" r="1.3" fill="#f78a8a" fill-opacity="0.62"/>
<circle cx="433.1" cy="633.4" r="1.3" fill="#f78a8a" fill-opacity="0.62"/>
<circle cx="431.6" cy="589.5" r="1.3" fill="#f78a8a" fill-opacity="0.6"/>
<circle cx="435.4" cy="607.4" r="1.3" fill="#f78a8a" fill-opacity="0.6"/>
<rect x="430.6" y="625.4" width="7.2" height="9.6" fill="none" stroke="#ee1c23" stroke-width="0.7" stroke-opacity="0.6"/>
<path d="M434.2 625.4V635" stroke="#ee1c23" stroke-width="1.1"/>
<path d="M430.6 625.4H437.8" stroke="#ee1c23" stroke-width="1.1"/>
<path d="M430.6 635H437.8" stroke="#ee1c23" stroke-width="1.1"/>
<path d="M430.6 633.8H437.8" stroke="#ee1c23" stroke-width="1.1"/>
<text x="360.6" y="642.3" font-size="3.9" fill="#222" text-anchor="end">PBMC</text>
<text x="360.6" y="647.4" font-size="3.9" fill="#222" text-anchor="end">K562</text>
<text x="360.6" y="652.2" font-size="3.9" fill="#222" text-anchor="end">IL-12+15</text>
<text x="378.7" y="642.6" font-size="5.0" fill="#222" font-weight="bold" text-anchor="middle">+</text>
<text x="378.7" y="647.7" font-size="5.0" fill="#222" font-weight="bold" text-anchor="middle">+</text>
<text x="378.7" y="652.5" font-size="5.0" fill="#222" font-weight="bold" text-anchor="middle">-</text>
<text x="404.4" y="642.6" font-size="5.0" fill="#222" font-weight="bold" text-anchor="middle">+</text>
<text x="404.4" y="647.7" font-size="5.0" fill="#222" font-weight="bold" text-anchor="middle">-</text>
<text x="404.4" y="652.5" font-size="5.0" fill="#222" font-weight="bold" text-anchor="middle">+</text>
<text x="430.3" y="642.6" font-size="5.0" fill="#222" font-weight="bold" text-anchor="middle">+</text>
<text x="430.3" y="647.7" font-size="5.0" fill="#222" font-weight="bold" text-anchor="middle">+</text>
<text x="430.3" y="652.5" font-size="5.0" fill="#222" font-weight="bold" text-anchor="middle">+</text>
<text x="352.2" y="607.7" font-size="5.7" fill="#222" text-anchor="middle" transform="rotate(-90 352.2 607.7)">MIP-1β<tspan baseline-shift="super" font-size="65%">+</tspan> (fold change)</text>
<circle cx="466.9" cy="598.4" r="2.8" fill="#6f8fd0" fill-opacity="0.5"/>
<path d="M466.9 591.1V605.7" stroke="#1f4e9e" stroke-width="1.3"/>
<rect x="459.5" y="593.6" width="14.8" height="9.7" fill="none" stroke="#1f4e9e" stroke-width="1.1"/>
<path d="M459.5 598.4H474.3" stroke="#1f4e9e" stroke-width="1.6"/>
<circle cx="466.9" cy="616.8" r="2.8" fill="#f78a8a" fill-opacity="0.5"/>
<path d="M466.9 609.8V624.4" stroke="#ee1c23" stroke-width="1.3"/>
<rect x="459.5" y="612.3" width="14.8" height="9.1" fill="none" stroke="#ee1c23" stroke-width="1.1"/>
<path d="M459.5 616.8H474.3" stroke="#ee1c23" stroke-width="1.6"/>
<text x="482.3" y="602.1" font-size="9" fill="#222">non-SD</text>
<text x="482.3" y="620.6" font-size="9" fill="#222">SD</text>
<text x="470.5" y="123.2" font-size="6.0" font-weight="bold" text-anchor="middle">sample sizes:</text>
<text x="471" y="128.8" font-size="3.6" fill="#222" text-anchor="middle"><tspan font-style="italic">n</tspan><tspan font-size="2.6" dy="0.7">min</tspan><tspan dy="-0.7"> = 13</tspan></text>
<text x="471" y="133.8" font-size="3.6" fill="#222" text-anchor="middle"><tspan font-style="italic">n</tspan><tspan font-size="2.6" dy="0.7">mode</tspan><tspan dy="-0.7"> = 20</tspan></text>
<text x="471" y="139.4" font-size="3.6" fill="#222" text-anchor="middle"><tspan font-style="italic">n</tspan><tspan font-size="2.6" dy="0.7">max</tspan><tspan dy="-0.7"> = 20</tspan></text>
<text x="470.8" y="149.4" font-size="6.0" font-weight="bold" text-anchor="middle">correlation:</text>
<text x="470.8" y="156.2" font-size="6.0" fill="#222" text-anchor="middle">Spearman</text>
<defs><linearGradient id="corr" x1="0" y1="0" x2="0" y2="1"><stop offset="0" stop-color="#27389a"/><stop offset="0.25" stop-color="#7e80c6"/><stop offset="0.5" stop-color="#ffffff"/><stop offset="0.75" stop-color="#f39a80"/><stop offset="1" stop-color="#cc1a0d"/></linearGradient></defs>
<rect x="451.3" y="164.3" width="9.8" height="48.7" fill="url(#corr)"/>
<path d="M451.3 164.3H453" stroke="#fff" stroke-width="0.5"/>
<path d="M459.4 164.3H461.1" stroke="#fff" stroke-width="0.5"/>
<text x="467" y="165.8" font-size="4.2" fill="#333">1.0</text>
<path d="M451.3 176.5H453" stroke="#fff" stroke-width="0.5"/>
<path d="M459.4 176.5H461.1" stroke="#fff" stroke-width="0.5"/>
<text x="467" y="178" font-size="4.2" fill="#333">0.5</text>
<path d="M451.3 188.7H453" stroke="#fff" stroke-width="0.5"/>
<path d="M459.4 188.7H461.1" stroke="#fff" stroke-width="0.5"/>
<text x="467" y="190.2" font-size="4.2" fill="#333">0.0</text>
<path d="M451.3 200.9H453" stroke="#fff" stroke-width="0.5"/>
<path d="M459.4 200.9H461.1" stroke="#fff" stroke-width="0.5"/>
<text x="465.9" y="202.4" font-size="4.2" fill="#333">-0.5</text>
<path d="M451.3 213H453" stroke="#fff" stroke-width="0.5"/>
<path d="M459.4 213H461.1" stroke="#fff" stroke-width="0.5"/>
<text x="465.9" y="214.5" font-size="4.2" fill="#333">-1.0</text>
<rect x="670.7" y="89.3" width="14.7" height="14.7" fill="#f9c5b5"/>
<path d="M660.7 96.6H662.3" stroke="#555" stroke-width="0.5"/>
<text x="659.7" y="98.8" font-size="6.3" fill="#222" text-anchor="end">VCAM-1 (pg/mL)</text>
<rect x="656.1" y="103.9" width="14.7" height="14.7" fill="#4a52b0"/>
<rect x="670.7" y="103.9" width="14.7" height="14.7" fill="#f4a58a"/>
<text x="663.4" y="114.4" font-size="6.4" fill="#111" font-weight="bold" text-anchor="middle">***</text>
<path d="M646.1 111.2H647.7" stroke="#555" stroke-width="0.5"/>
<text x="645.1" y="113.4" font-size="6.3" fill="#222" text-anchor="end">Syndecan-1 (pg/mL)</text>
<rect x="641.6" y="118.4" width="14.7" height="14.7" fill="#5a61b7"/>
<rect x="656.1" y="118.4" width="14.7" height="14.7" fill="#4a52b0"/>
<rect x="670.7" y="118.4" width="14.7" height="14.7" fill="#ebebf5"/>
<text x="648.8" y="128.9" font-size="6.4" fill="#111" font-weight="bold" text-anchor="middle">**</text>
<text x="663.4" y="128.9" font-size="6.4" fill="#111" font-weight="bold" text-anchor="middle">***</text>
<path d="M631.6 125.7H633.2" stroke="#555" stroke-width="0.5"/>
<text x="630.6" y="127.9" font-size="6.3" fill="#222" text-anchor="end">Angiopoietin-2 (pg/mL)</text>
<rect x="627" y="133" width="14.7" height="14.7" fill="#7b7fc6"/>
<rect x="641.6" y="133" width="14.7" height="14.7" fill="#4f56b3"/>
<rect x="656.1" y="133" width="14.7" height="14.7" fill="#6167ba"/>
<rect x="670.7" y="133" width="14.7" height="14.7" fill="#ef7d62"/>
<text x="634.3" y="143.5" font-size="6.4" fill="#111" font-weight="bold" text-anchor="middle">*</text>
<text x="648.8" y="143.5" font-size="6.4" fill="#111" font-weight="bold" text-anchor="middle">***</text>
<text x="663.4" y="143.5" font-size="6.4" fill="#111" font-weight="bold" text-anchor="middle">**</text>
<text x="678" y="143.5" font-size="6.4" fill="#111" font-weight="bold" text-anchor="middle">*</text>
<path d="M617 140.3H618.6" stroke="#555" stroke-width="0.5"/>
<text x="616" y="142.5" font-size="6.3" fill="#222" text-anchor="end">Ferritin (ng/mL)</text>
<rect x="612.4" y="147.6" width="14.7" height="14.7" fill="#6a6fbf"/>
<rect x="627" y="147.6" width="14.7" height="14.7" fill="#5d63b8"/>
<rect x="641.6" y="147.6" width="14.7" height="14.7" fill="#575eb6"/>
<rect x="656.1" y="147.6" width="14.7" height="14.7" fill="#5a60b7"/>
<rect x="670.7" y="147.6" width="14.7" height="14.7" fill="#f8b8a4"/>
<text x="619.7" y="158.1" font-size="6.4" fill="#111" font-weight="bold" text-anchor="middle">**</text>
<text x="634.3" y="158.1" font-size="6.4" fill="#111" font-weight="bold" text-anchor="middle">**</text>
<text x="648.8" y="158.1" font-size="6.4" fill="#111" font-weight="bold" text-anchor="middle">**</text>
<text x="663.4" y="158.1" font-size="6.4" fill="#111" font-weight="bold" text-anchor="middle">**</text>
<path d="M602.4 154.9H604" stroke="#555" stroke-width="0.5"/>
<text x="601.4" y="157.1" font-size="6.3" fill="#222" text-anchor="end">Plasma leak grade</text>
<rect x="597.9" y="162.1" width="14.7" height="14.7" fill="#6f74c2"/>
<rect x="612.4" y="162.1" width="14.7" height="14.7" fill="#8488cb"/>
<rect x="627" y="162.1" width="14.7" height="14.7" fill="#d6d6ec"/>
<rect x="641.6" y="162.1" width="14.7" height="14.7" fill="#b0b1dc"/>
<rect x="656.1" y="162.1" width="14.7" height="14.7" fill="#b9badf"/>
<rect x="670.7" y="162.1" width="14.7" height="14.7" fill="#ef7c60"/>
<text x="605.1" y="174.2" font-size="9.6" fill="#111" font-weight="bold" text-anchor="middle">*</text>
<path d="M587.9 169.4H589.5" stroke="#555" stroke-width="0.5"/>
<text x="586.9" y="171.6" font-size="6.3" fill="#222" text-anchor="end">PD-L1<tspan baseline-shift="super" font-size="65%">+</tspan> (MFI)</text>
<rect x="583.3" y="176.7" width="14.7" height="14.7" fill="#aeb0dc"/>
<rect x="597.9" y="176.7" width="14.7" height="14.7" fill="#6a6fbf"/>
<rect x="612.4" y="176.7" width="14.7" height="14.7" fill="#7f83c9"/>
<rect x="627" y="176.7" width="14.7" height="14.7" fill="#9597d2"/>
<rect x="641.6" y="176.7" width="14.7" height="14.7" fill="#9fa1d6"/>
<rect x="656.1" y="176.7" width="14.7" height="14.7" fill="#7a7ec6"/>
<rect x="670.7" y="176.7" width="14.7" height="14.7" fill="#fce3dc"/>
<text x="605.1" y="188.8" font-size="9.6" fill="#111" font-weight="bold" text-anchor="middle">**</text>
<text x="619.7" y="188.8" font-size="9.6" fill="#111" font-weight="bold" text-anchor="middle">*</text>
<text x="663.4" y="188.8" font-size="9.6" fill="#111" font-weight="bold" text-anchor="middle">*</text>
<path d="M573.3 184H574.9" stroke="#555" stroke-width="0.5"/>
<text x="572.3" y="186.2" font-size="6.3" fill="#222" text-anchor="end">NKG2A<tspan baseline-shift="super" font-size="65%">+</tspan> (MFI)</text>
<rect x="568.7" y="191.3" width="14.7" height="14.7" fill="#5a60b7"/>
<rect x="583.3" y="191.3" width="14.7" height="14.7" fill="#6b70bf"/>
<rect x="597.9" y="191.3" width="14.7" height="14.7" fill="#4a51b1"/>
<rect x="612.4" y="191.3" width="14.7" height="14.7" fill="#7c80c7"/>
<rect x="627" y="191.3" width="14.7" height="14.7" fill="#9598d2"/>
<rect x="641.6" y="191.3" width="14.7" height="14.7" fill="#5d63b8"/>
<rect x="656.1" y="191.3" width="14.7" height="14.7" fill="#4e55b2"/>
<rect x="670.7" y="191.3" width="14.7" height="14.7" fill="#f6b09b"/>
<text x="576" y="203.4" font-size="9.6" fill="#111" font-weight="bold" text-anchor="middle">**</text>
<text x="590.6" y="203.4" font-size="9.6" fill="#111" font-weight="bold" text-anchor="middle">*</text>
<text x="605.1" y="203.4" font-size="9.6" fill="#111" font-weight="bold" text-anchor="middle">***</text>
<text x="619.7" y="203.4" font-size="9.6" fill="#111" font-weight="bold" text-anchor="middle">*</text>
<text x="648.8" y="203.4" font-size="9.6" fill="#111" font-weight="bold" text-anchor="middle">**</text>
<text x="663.4" y="203.4" font-size="9.6" fill="#111" font-weight="bold" text-anchor="middle">***</text>
<path d="M558.7 198.6H560.3" stroke="#555" stroke-width="0.5"/>
<text x="557.7" y="200.8" font-size="6.3" fill="#222" text-anchor="end">LILRB1<tspan baseline-shift="super" font-size="65%">+</tspan> (MFI)</text>
<rect x="554.1" y="205.9" width="14.7" height="14.7" fill="#e4553a"/>
<rect x="568.7" y="205.9" width="14.7" height="14.7" fill="#ee7a5e"/>
<rect x="583.3" y="205.9" width="14.7" height="14.7" fill="#f08468"/>
<rect x="597.9" y="205.9" width="14.7" height="14.7" fill="#e2482f"/>
<rect x="612.4" y="205.9" width="14.7" height="14.7" fill="#ea6a4e"/>
<rect x="627" y="205.9" width="14.7" height="14.7" fill="#f39a80"/>
<rect x="641.6" y="205.9" width="14.7" height="14.7" fill="#dd3a22"/>
<rect x="656.1" y="205.9" width="14.7" height="14.7" fill="#f29279"/>
<rect x="670.7" y="205.9" width="14.7" height="14.7" fill="#7c80c7"/>
<text x="561.4" y="217.9" font-size="9.6" fill="#111" font-weight="bold" text-anchor="middle">**</text>
<text x="576" y="217.9" font-size="9.6" fill="#111" font-weight="bold" text-anchor="middle">*</text>
<text x="590.6" y="217.9" font-size="9.6" fill="#111" font-weight="bold" text-anchor="middle">*</text>
<text x="605.1" y="217.9" font-size="9.6" fill="#111" font-weight="bold" text-anchor="middle">**</text>
<text x="619.7" y="217.9" font-size="9.6" fill="#111" font-weight="bold" text-anchor="middle">**</text>
<text x="648.8" y="217.9" font-size="9.6" fill="#111" font-weight="bold" text-anchor="middle">***</text>
<path d="M544.1 213.1H545.7" stroke="#555" stroke-width="0.5"/>
<text x="543.1" y="215.3" font-size="6.3" fill="#222" text-anchor="end">GzmB<tspan baseline-shift="super" font-size="65%">+</tspan>perforin<tspan baseline-shift="super" font-size="65%">+</tspan> (%)</text>
<rect x="539.6" y="220.4" width="14.7" height="14.7" fill="#6f74c2"/>
<rect x="554.1" y="220.4" width="14.7" height="14.7" fill="#e8613f"/>
<rect x="568.7" y="220.4" width="14.7" height="14.7" fill="#fcd7cb"/>
<rect x="583.3" y="220.4" width="14.7" height="14.7" fill="#f9c4b3"/>
<rect x="597.9" y="220.4" width="14.7" height="14.7" fill="#ee7a5e"/>
<rect x="612.4" y="220.4" width="14.7" height="14.7" fill="#f08a6d"/>
<rect x="627" y="220.4" width="14.7" height="14.7" fill="#f6ad96"/>
<rect x="641.6" y="220.4" width="14.7" height="14.7" fill="#f08468"/>
<rect x="656.1" y="220.4" width="14.7" height="14.7" fill="#f4a086"/>
<rect x="670.7" y="220.4" width="14.7" height="14.7" fill="#a9abda"/>
<text x="546.9" y="232.5" font-size="9.6" fill="#111" font-weight="bold" text-anchor="middle">*</text>
<text x="561.4" y="232.5" font-size="9.6" fill="#111" font-weight="bold" text-anchor="middle">**</text>
<text x="605.1" y="232.5" font-size="9.6" fill="#111" font-weight="bold" text-anchor="middle">**</text>
<text x="619.7" y="232.5" font-size="9.6" fill="#111" font-weight="bold" text-anchor="middle">*</text>
<text x="648.8" y="232.5" font-size="9.6" fill="#111" font-weight="bold" text-anchor="middle">*</text>
<path d="M529.6 227.7H531.2" stroke="#555" stroke-width="0.5"/>
<text x="528.6" y="229.9" font-size="6.3" fill="#222" text-anchor="end">NKG2D<tspan baseline-shift="super" font-size="65%">+</tspan> (%)</text>
<rect x="525" y="235" width="14.7" height="14.7" fill="#3c44a9"/>
<rect x="539.6" y="235" width="14.7" height="14.7" fill="#4a51b0"/>
<rect x="554.1" y="235" width="14.7" height="14.7" fill="#e9654a"/>
<rect x="568.7" y="235" width="14.7" height="14.7" fill="#f6a88f"/>
<rect x="583.3" y="235" width="14.7" height="14.7" fill="#fac9b8"/>
<rect x="597.9" y="235" width="14.7" height="14.7" fill="#e4553a"/>
<rect x="612.4" y="235" width="14.7" height="14.7" fill="#f4a086"/>
<rect x="627" y="235" width="14.7" height="14.7" fill="#f29279"/>
<rect x="641.6" y="235" width="14.7" height="14.7" fill="#ec7154"/>
<rect x="656.1" y="235" width="14.7" height="14.7" fill="#f08a6d"/>
<rect x="670.7" y="235" width="14.7" height="14.7" fill="#b4b5de"/>
<text x="532.3" y="247.1" font-size="9.6" fill="#111" font-weight="bold" text-anchor="middle">***</text>
<text x="546.9" y="247.1" font-size="9.6" fill="#111" font-weight="bold" text-anchor="middle">**</text>
<text x="561.4" y="247.1" font-size="9.6" fill="#111" font-weight="bold" text-anchor="middle">**</text>
<text x="605.1" y="247.1" font-size="9.6" fill="#111" font-weight="bold" text-anchor="middle">***</text>
<text x="634.3" y="247.1" font-size="9.6" fill="#111" font-weight="bold" text-anchor="middle">*</text>
<text x="648.8" y="247.1" font-size="9.6" fill="#111" font-weight="bold" text-anchor="middle">**</text>
<path d="M522.1 242.3H523.7" stroke="#555" stroke-width="0.5"/>
<text x="521.1" y="244.5" font-size="6.3" fill="#222" text-anchor="end">CD69<tspan baseline-shift="super" font-size="65%">+</tspan> (%)</text>
<path d="M532.3 249.4V250.8" stroke="#555" stroke-width="0.4"/>
<text x="533.9" y="253.6" font-size="6.3" fill="#222" text-anchor="end" transform="rotate(-45 533.9 253.6)">NKG2D<tspan baseline-shift="super" font-size="65%">+</tspan> (%)</text>
<path d="M546.9 249.4V250.8" stroke="#555" stroke-width="0.4"/>
<text x="548.5" y="253.6" font-size="6.3" fill="#222" text-anchor="end" transform="rotate(-45 548.5 253.6)">GzmB<tspan baseline-shift="super" font-size="65%">+</tspan>perforin<tspan baseline-shift="super" font-size="65%">+</tspan> (%)</text>
<path d="M561.4 249.4V250.8" stroke="#555" stroke-width="0.4"/>
<text x="563" y="253.6" font-size="6.3" fill="#222" text-anchor="end" transform="rotate(-45 563 253.6)">LILRB1<tspan baseline-shift="super" font-size="65%">+</tspan> (MFI)</text>
<path d="M576 249.4V250.8" stroke="#555" stroke-width="0.4"/>
<text x="577.6" y="253.6" font-size="6.3" fill="#222" text-anchor="end" transform="rotate(-45 577.6 253.6)">NKG2A<tspan baseline-shift="super" font-size="65%">+</tspan> (MFI)</text>
<path d="M590.6 249.4V250.8" stroke="#555" stroke-width="0.4"/>
<text x="592.2" y="253.6" font-size="6.3" fill="#222" text-anchor="end" transform="rotate(-45 592.2 253.6)">PD-L1<tspan baseline-shift="super" font-size="65%">+</tspan> (MFI)</text>
<path d="M605.1 249.4V250.8" stroke="#555" stroke-width="0.4"/>
<text x="606.7" y="253.6" font-size="6.3" fill="#222" text-anchor="end" transform="rotate(-45 606.7 253.6)">Plasma leak grade</text>
<path d="M619.7 249.4V250.8" stroke="#555" stroke-width="0.4"/>
<text x="621.3" y="253.6" font-size="6.3" fill="#222" text-anchor="end" transform="rotate(-45 621.3 253.6)">Ferritin (ng/mL)</text>
<path d="M634.3 249.4V250.8" stroke="#555" stroke-width="0.4"/>
<text x="635.9" y="253.6" font-size="6.3" fill="#222" text-anchor="end" transform="rotate(-45 635.9 253.6)">Angiopoietin-2 (pg/mL)</text>
<path d="M648.8 249.4V250.8" stroke="#555" stroke-width="0.4"/>
<text x="650.4" y="253.6" font-size="6.3" fill="#222" text-anchor="end" transform="rotate(-45 650.4 253.6)">Syndecan-1 (pg/mL)</text>
<path d="M663.4 249.4V250.8" stroke="#555" stroke-width="0.4"/>
<text x="665" y="253.6" font-size="6.3" fill="#222" text-anchor="end" transform="rotate(-45 665 253.6)">VCAM-1 (pg/mL)</text>
<path d="M678 249.4V250.8" stroke="#555" stroke-width="0.4"/>
<text x="679.6" y="253.6" font-size="6.3" fill="#222" text-anchor="end" transform="rotate(-45 679.6 253.6)">sMICB (pg/mL)</text>
<rect x="23.5" y="301.4" width="52.5" height="52.1" fill="#fff" stroke="#cfcfcf" stroke-width="0.7"/>
<rect x="79.5" y="301.4" width="53" height="52.1" fill="#fff" stroke="#cfcfcf" stroke-width="0.7"/>
<rect x="23.5" y="358.4" width="52.5" height="52" fill="#fff" stroke="#cfcfcf" stroke-width="0.7"/>
<rect x="79.5" y="358.4" width="53" height="52" fill="#fff" stroke="#cfcfcf" stroke-width="0.7"/>
<text x="50" y="299.1" font-size="7.2" font-weight="bold" text-anchor="middle">non-SD</text>
<text x="106" y="299.1" font-size="7.2" font-weight="bold" text-anchor="middle">SD</text>
<text x="25.2" y="352.6" font-size="6.6" fill="#222">N=11</text>
<text x="81.2" y="352.6" font-size="6.6" fill="#222">N=12</text>
<path d="M28.50,322.90 C30.02,320.15 35.10,314.13 38.40,312.20 C41.70,310.27 44.72,312.13 48.30,311.30 C51.88,310.47 56.73,308.17 59.90,307.20 C63.07,306.23 65.65,305.08 67.30,305.50 C68.95,305.92 69.10,306.93 69.80,309.70 C70.50,312.47 71.37,318.65 71.50,322.10 C71.63,325.55 71.57,327.78 70.60,330.40 C69.63,333.02 67.07,335.47 65.70,337.80 C64.33,340.13 63.92,342.75 62.40,344.40 C60.88,346.05 58.53,347.42 56.60,347.70 C54.67,347.98 52.18,347.75 50.80,346.10 C49.42,344.45 49.53,339.73 48.30,337.80 C47.07,335.87 45.88,335.05 43.40,334.50 C40.92,333.95 35.75,335.47 33.40,334.50 C31.05,333.53 30.12,330.63 29.30,328.70 C28.48,326.77 26.98,325.65 28.50,322.90 Z" fill="#d0d0d0" filter="url(#b10)"/>
<ellipse cx="53.5" cy="327.4" rx="12.5" ry="11.25" fill="#000" fill-opacity="0.2" filter="url(#b15)"/>
<ellipse cx="52.5" cy="321.4" rx="8.75" ry="6.25" fill="#000" fill-opacity="0.28" filter="url(#b15)"/>
<ellipse cx="63.5" cy="311.4" rx="7.5" ry="5.0" fill="#000" fill-opacity="0.13" filter="url(#b15)"/>
<ellipse cx="43.1" cy="326.9" rx="4.75" ry="3.75" fill="#000" fill-opacity="0.99" filter="url(#b10)"/>
<ellipse cx="44.5" cy="332.4" rx="3.12" ry="3.75" fill="#000" fill-opacity="0.61" filter="url(#b10)"/>
<ellipse cx="45.8" cy="337.0" rx="2.5" ry="3.12" fill="#000" fill-opacity="0.44" filter="url(#b10)"/>
<ellipse cx="57.9" cy="322.2" rx="2.0" ry="2.0" fill="#000" fill-opacity="0.94" filter="url(#b10)"/>
<ellipse cx="63.3" cy="328.9" rx="7.5" ry="6.25" fill="#000" fill-opacity="1" filter="url(#b15)"/>
<ellipse cx="67.5" cy="326.9" rx="4.38" ry="5.0" fill="#000" fill-opacity="0.94" filter="url(#b10)"/>
<ellipse cx="57.9" cy="335.0" rx="3.12" ry="3.12" fill="#000" fill-opacity="0.83" filter="url(#b10)"/>
<ellipse cx="55.9" cy="339.7" rx="3.75" ry="3.75" fill="#000" fill-opacity="0.61" filter="url(#b10)"/>
<ellipse cx="55.2" cy="344.9" rx="3.12" ry="3.12" fill="#000" fill-opacity="0.55" filter="url(#b10)"/>
<ellipse cx="61.3" cy="339.7" rx="3.75" ry="3.75" fill="#000" fill-opacity="0.44" filter="url(#b10)"/>
<ellipse cx="36.5" cy="328.4" rx="6.25" ry="5.0" fill="#000" fill-opacity="0.13" filter="url(#b15)"/>
<ellipse cx="50.8" cy="334.4" rx="1.8" ry="6" fill="#fff" fill-opacity="0.6" filter="url(#b10)"/>
<path d="M84.50,322.90 C86.02,320.15 91.10,314.13 94.40,312.20 C97.70,310.27 100.72,312.13 104.30,311.30 C107.88,310.47 112.73,308.17 115.90,307.20 C119.07,306.23 121.65,305.08 123.30,305.50 C124.95,305.92 125.10,306.93 125.80,309.70 C126.50,312.47 127.37,318.65 127.50,322.10 C127.63,325.55 127.57,327.78 126.60,330.40 C125.63,333.02 123.07,335.47 121.70,337.80 C120.33,340.13 119.92,342.75 118.40,344.40 C116.88,346.05 114.53,347.42 112.60,347.70 C110.67,347.98 108.18,347.75 106.80,346.10 C105.42,344.45 105.53,339.73 104.30,337.80 C103.07,335.87 101.88,335.05 99.40,334.50 C96.92,333.95 91.75,335.47 89.40,334.50 C87.05,333.53 86.12,330.63 85.30,328.70 C84.48,326.77 82.98,325.65 84.50,322.90 Z" fill="#dedede" filter="url(#b10)"/>
<ellipse cx="106.5" cy="324.4" rx="11.25" ry="10.0" fill="#000" fill-opacity="0.31" filter="url(#b15)"/>
<ellipse cx="117.5" cy="327.4" rx="8.75" ry="12.5" fill="#000" fill-opacity="0.33" filter="url(#b15)"/>
<ellipse cx="101.5" cy="317.4" rx="5.0" ry="3.75" fill="#000" fill-opacity="0.44" filter="url(#b10)"/>
<ellipse cx="115.5" cy="318.4" rx="3.75" ry="3.75" fill="#000" fill-opacity="0.55" filter="url(#b10)"/>
<ellipse cx="107.5" cy="336.4" rx="5.0" ry="6.25" fill="#000" fill-opacity="0.28" filter="url(#b15)"/>
<ellipse cx="123.5" cy="333.4" rx="3.75" ry="5.0" fill="#000" fill-opacity="0.44" filter="url(#b10)"/>
<ellipse cx="93.5" cy="328.4" rx="5.0" ry="5.0" fill="#000" fill-opacity="0.28" filter="url(#b10)"/>
<ellipse cx="96.5" cy="323.6" rx="5.0" ry="6.25" fill="#000" fill-opacity="1" filter="url(#b15)"/>
<ellipse cx="98.0" cy="312.9" rx="2.5" ry="1.88" fill="#000" fill-opacity="0.66" filter="url(#b10)"/>
<ellipse cx="106.1" cy="319.2" rx="3.12" ry="3.12" fill="#000" fill-opacity="0.99" filter="url(#b10)"/>
<ellipse cx="111.9" cy="322.1" rx="3.75" ry="3.75" fill="#000" fill-opacity="0.99" filter="url(#b10)"/>
<ellipse cx="110.5" cy="316.2" rx="2.5" ry="2.5" fill="#000" fill-opacity="0.77" filter="url(#b10)"/>
<ellipse cx="123.7" cy="322.1" rx="4.38" ry="6.25" fill="#000" fill-opacity="1" filter="url(#b15)"/>
<ellipse cx="120.8" cy="330.9" rx="3.12" ry="3.12" fill="#000" fill-opacity="0.88" filter="url(#b10)"/>
<ellipse cx="120.0" cy="306.7" rx="2.5" ry="2.5" fill="#000" fill-opacity="0.83" filter="url(#b10)"/>
<ellipse cx="117.1" cy="312.6" rx="2.5" ry="2.5" fill="#000" fill-opacity="0.61" filter="url(#b10)"/>
<ellipse cx="109.0" cy="327.3" rx="2.5" ry="2.5" fill="#000" fill-opacity="0.83" filter="url(#b10)"/>
<ellipse cx="113.4" cy="334.6" rx="2.5" ry="2.5" fill="#000" fill-opacity="0.88" filter="url(#b10)"/>
<ellipse cx="111.2" cy="343.4" rx="3.75" ry="5.0" fill="#000" fill-opacity="1" filter="url(#b10)"/>
<ellipse cx="118.9" cy="346.0" rx="1.88" ry="2.25" fill="#000" fill-opacity="0.99" filter="url(#b10)"/>
<ellipse cx="87.3" cy="331.7" rx="2.5" ry="3.75" fill="#000" fill-opacity="0.88" filter="url(#b10)"/>
<ellipse cx="102.3" cy="334.2" rx="3.5" ry="5" fill="#fff" fill-opacity="0.6" filter="url(#b15)"/>
<path d="M28.50,379.90 C30.02,377.15 35.10,371.13 38.40,369.20 C41.70,367.27 44.72,369.13 48.30,368.30 C51.88,367.47 56.73,365.17 59.90,364.20 C63.07,363.23 65.65,362.08 67.30,362.50 C68.95,362.92 69.10,363.93 69.80,366.70 C70.50,369.47 71.37,375.65 71.50,379.10 C71.63,382.55 71.57,384.78 70.60,387.40 C69.63,390.02 67.07,392.47 65.70,394.80 C64.33,397.13 63.92,399.75 62.40,401.40 C60.88,403.05 58.53,404.42 56.60,404.70 C54.67,404.98 52.18,404.75 50.80,403.10 C49.42,401.45 49.53,396.73 48.30,394.80 C47.07,392.87 45.88,392.05 43.40,391.50 C40.92,390.95 35.75,392.47 33.40,391.50 C31.05,390.53 30.12,387.63 29.30,385.70 C28.48,383.77 26.98,382.65 28.50,379.90 Z" fill="#f2f2f2" filter="url(#b06)"/>
<path d="M48.0 386.1h.8v.8h-.8zM68.2 382.2h.8v.8h-.8zM50.3 387.3h.8v.8h-.8zM36.4 384.1h.8v.8h-.8zM55.6 396.0h.8v.8h-.8zM56.6 388.5h.8v.8h-.8zM36.7 372.7h.8v.8h-.8zM29.8 382.1h.8v.8h-.8zM50.8 389.5h.8v.8h-.8zM50.0 390.5h.8v.8h-.8zM48.2 374.2h.8v.8h-.8zM64.6 392.4h.8v.8h-.8zM42.1 372.2h.8v.8h-.8zM61.5 379.4h.8v.8h-.8zM64.9 378.8h.8v.8h-.8zM67.6 382.3h.8v.8h-.8zM70.7 379.3h.8v.8h-.8zM62.0 373.9h.8v.8h-.8zM32.2 376.5h.8v.8h-.8zM62.8 370.0h.8v.8h-.8zM52.5 381.4h.8v.8h-.8zM34.1 389.7h.8v.8h-.8zM33.5 380.3h.8v.8h-.8zM37.7 373.9h.8v.8h-.8zM37.6 379.1h.8v.8h-.8zM65.2 389.6h.8v.8h-.8zM37.7 373.4h.8v.8h-.8zM61.7 376.4h.8v.8h-.8zM32.4 387.1h.8v.8h-.8zM38.9 387.9h.8v.8h-.8zM44.5 381.6h.8v.8h-.8zM69.7 382.9h.8v.8h-.8zM53.2 399.1h.8v.8h-.8zM39.2 370.5h.8v.8h-.8zM60.3 402.2h.8v.8h-.8zM66.4 388.0h.8v.8h-.8zM54.1 374.9h.8v.8h-.8zM52.6 398.5h.8v.8h-.8zM54.9 374.3h.8v.8h-.8zM67.9 371.1h.8v.8h-.8zM36.1 378.1h.8v.8h-.8zM53.1 368.1h.8v.8h-.8zM58.2 387.2h.8v.8h-.8zM58.6 403.1h.8v.8h-.8zM49.2 393.3h.8v.8h-.8zM31.7 385.5h.8v.8h-.8zM60.2 400.5h.8v.8h-.8zM60.2 392.2h.8v.8h-.8zM43.6 391.4h.8v.8h-.8zM65.6 386.7h.8v.8h-.8zM55.4 378.6h.8v.8h-.8zM53.6 388.2h.8v.8h-.8zM59.8 378.9h.8v.8h-.8zM60.1 387.0h.8v.8h-.8zM49.2 372.2h.8v.8h-.8zM58.5 383.5h.8v.8h-.8zM54.9 401.3h.8v.8h-.8zM41.4 391.1h.8v.8h-.8zM67.4 390.4h.8v.8h-.8zM42.6 390.6h.8v.8h-.8zM37.0 380.7h.8v.8h-.8zM66.4 378.7h.8v.8h-.8zM53.6 375.9h.8v.8h-.8zM34.4 383.5h.8v.8h-.8zM59.1 402.6h.8v.8h-.8zM40.4 369.6h.8v.8h-.8zM47.9 374.1h.8v.8h-.8zM37.7 380.0h.8v.8h-.8zM55.4 383.3h.8v.8h-.8zM70.7 381.6h.8v.8h-.8zM66.0 364.3h.8v.8h-.8zM59.0 386.6h.8v.8h-.8zM64.2 372.5h.8v.8h-.8zM55.6 381.3h.8v.8h-.8zM55.6 390.1h.8v.8h-.8zM57.9 370.9h.8v.8h-.8zM48.9 370.0h.8v.8h-.8zM29.0 382.4h.8v.8h-.8zM59.2 370.1h.8v.8h-.8zM40.2 377.1h.8v.8h-.8zM58.5 384.5h.8v.8h-.8zM54.9 394.4h.8v.8h-.8zM67.5 366.2h.8v.8h-.8zM34.1 381.6h.8v.8h-.8zM55.4 400.9h.8v.8h-.8zM44.7 386.5h.8v.8h-.8zM69.1 382.1h.8v.8h-.8zM56.5 371.1h.8v.8h-.8zM59.5 397.0h.8v.8h-.8zM56.1 392.8h.8v.8h-.8zM51.6 395.9h.8v.8h-.8zM65.3 377.2h.8v.8h-.8zM32.1 381.1h.8v.8h-.8zM52.2 394.9h.8v.8h-.8zM63.3 365.2h.8v.8h-.8zM62.9 369.8h.8v.8h-.8zM50.7 393.0h.8v.8h-.8zM64.6 391.6h.8v.8h-.8zM69.2 383.3h.8v.8h-.8zM69.3 366.1h.8v.8h-.8zM38.0 384.7h.8v.8h-.8zM56.0 384.6h.8v.8h-.8zM64.8 386.1h.8v.8h-.8zM41.9 378.6h.8v.8h-.8zM70.1 384.6h.8v.8h-.8zM53.1 371.0h.8v.8h-.8zM51.5 383.7h.8v.8h-.8zM70.2 384.3h.8v.8h-.8zM52.7 383.2h.8v.8h-.8zM58.2 365.3h.8v.8h-.8zM51.7 380.0h.8v.8h-.8zM40.1 382.5h.8v.8h-.8zM34.0 380.8h.8v.8h-.8zM49.0 375.9h.8v.8h-.8zM36.7 388.6h.8v.8h-.8zM68.3 368.0h.8v.8h-.8zM36.8 372.1h.8v.8h-.8zM58.0 376.1h.8v.8h-.8zM43.8 388.7h.8v.8h-.8zM33.8 384.0h.8v.8h-.8zM39.3 370.8h.8v.8h-.8zM51.3 380.9h.8v.8h-.8zM44.7 379.9h.8v.8h-.8zM51.3 369.2h.8v.8h-.8zM37.3 389.1h.8v.8h-.8zM56.0 384.8h.8v.8h-.8zM65.1 388.3h.8v.8h-.8zM65.3 372.3h.8v.8h-.8zM60.4 396.7h.8v.8h-.8zM67.3 375.8h.8v.8h-.8zM66.7 368.2h.8v.8h-.8zM64.3 380.3h.8v.8h-.8zM62.5 367.8h.8v.8h-.8zM45.8 391.4h.8v.8h-.8zM57.8 401.0h.8v.8h-.8zM50.2 394.5h.8v.8h-.8zM50.1 391.4h.8v.8h-.8zM52.2 384.2h.8v.8h-.8zM53.0 368.7h.8v.8h-.8zM68.4 366.5h.8v.8h-.8zM48.4 394.8h.8v.8h-.8zM42.6 382.2h.8v.8h-.8zM50.7 380.6h.8v.8h-.8zM58.6 398.1h.8v.8h-.8zM36.3 381.7h.8v.8h-.8zM60.3 379.6h.8v.8h-.8zM58.8 398.8h.8v.8h-.8zM55.6 379.6h.8v.8h-.8zM54.3 383.8h.8v.8h-.8zM60.5 395.3h.8v.8h-.8z" fill="#c8c8c8" fill-opacity="0.6"/>
<ellipse cx="63.5" cy="366.9" rx="6.0" ry="4.0" fill="#e03c3c" fill-opacity="0.16" filter="url(#b10)"/>
<path d="M60.1 369.5h.9v.9h-.9zM59.2 368.6h.9v.9h-.9zM58.4 369.1h.9v.9h-.9zM63.2 370.9h.9v.9h-.9zM67.6 367.1h.9v.9h-.9zM62.1 368.5h.9v.9h-.9zM63.3 364.1h.9v.9h-.9zM65.3 362.2h.9v.9h-.9zM63.3 371.6h.9v.9h-.9zM65.7 363.1h.9v.9h-.9zM68.5 367.5h.9v.9h-.9zM60.6 365.0h.9v.9h-.9zM64.2 369.6h.9v.9h-.9zM63.2 371.3h.9v.9h-.9zM60.7 369.6h.9v.9h-.9zM59.0 363.1h.9v.9h-.9zM63.1 367.9h.9v.9h-.9zM70.3 366.2h.9v.9h-.9zM64.9 363.4h.9v.9h-.9zM63.8 368.9h.9v.9h-.9zM61.8 370.1h.9v.9h-.9zM69.2 368.6h.9v.9h-.9zM63.4 366.3h.9v.9h-.9zM66.4 364.0h.9v.9h-.9zM68.0 365.2h.9v.9h-.9zM64.9 363.7h.9v.9h-.9zM59.5 364.6h.9v.9h-.9zM66.3 367.2h.9v.9h-.9zM64.0 370.1h.9v.9h-.9zM59.7 369.6h.9v.9h-.9zM60.9 364.2h.9v.9h-.9zM61.2 370.1h.9v.9h-.9zM69.8 365.6h.9v.9h-.9zM59.7 363.2h.9v.9h-.9zM63.8 368.5h.9v.9h-.9zM65.7 367.9h.9v.9h-.9zM69.4 367.1h.9v.9h-.9zM65.7 366.1h.9v.9h-.9zM60.7 362.4h.9v.9h-.9zM63.8 365.0h.9v.9h-.9zM61.1 365.0h.9v.9h-.9zM63.8 367.4h.9v.9h-.9zM56.4 366.1h.9v.9h-.9zM65.8 368.1h.9v.9h-.9zM62.4 367.5h.9v.9h-.9zM57.3 367.8h.9v.9h-.9zM62.1 367.1h.9v.9h-.9zM66.8 367.3h.9v.9h-.9zM59.9 362.7h.9v.9h-.9zM61.1 366.9h.9v.9h-.9zM64.5 370.1h.9v.9h-.9zM65.5 368.0h.9v.9h-.9zM57.2 368.7h.9v.9h-.9zM64.1 371.6h.9v.9h-.9zM67.0 364.6h.9v.9h-.9zM64.0 369.0h.9v.9h-.9zM60.1 363.0h.9v.9h-.9zM65.7 365.1h.9v.9h-.9zM62.5 367.2h.9v.9h-.9zM62.1 369.5h.9v.9h-.9zM65.0 367.9h.9v.9h-.9zM67.6 366.8h.9v.9h-.9zM58.0 366.9h.9v.9h-.9zM57.8 367.6h.9v.9h-.9zM58.2 366.8h.9v.9h-.9zM68.7 368.8h.9v.9h-.9zM60.4 363.2h.9v.9h-.9zM61.5 370.0h.9v.9h-.9zM65.7 362.9h.9v.9h-.9zM67.6 367.8h.9v.9h-.9zM66.5 370.6h.9v.9h-.9zM59.7 368.7h.9v.9h-.9zM64.4 370.2h.9v.9h-.9zM62.3 363.0h.9v.9h-.9zM64.3 370.0h.9v.9h-.9zM62.2 366.1h.9v.9h-.9zM64.4 366.5h.9v.9h-.9zM61.5 365.5h.9v.9h-.9zM69.5 365.8h.9v.9h-.9zM64.4 370.4h.9v.9h-.9zM67.4 363.1h.9v.9h-.9zM60.4 363.5h.9v.9h-.9zM63.2 362.1h.9v.9h-.9zM57.6 366.6h.9v.9h-.9zM65.1 363.5h.9v.9h-.9zM64.6 370.6h.9v.9h-.9zM59.8 370.3h.9v.9h-.9zM63.4 362.1h.9v.9h-.9zM64.4 367.4h.9v.9h-.9zM69.3 365.1h.9v.9h-.9zM70.3 366.8h.9v.9h-.9zM66.3 366.3h.9v.9h-.9zM65.8 370.5h.9v.9h-.9zM63.6 365.2h.9v.9h-.9zM66.9 366.1h.9v.9h-.9zM64.9 370.1h.9v.9h-.9zM64.4 368.3h.9v.9h-.9zM64.7 367.3h.9v.9h-.9zM67.1 370.2h.9v.9h-.9z" fill="#e03c3c" fill-opacity="0.36"/>
<ellipse cx="56.5" cy="377.9" rx="3.0" ry="4.0" fill="#1fa65a" fill-opacity="0.26" filter="url(#b10)"/>
<path d="M57.1 373.6h.9v.9h-.9zM53.6 380.0h.9v.9h-.9zM59.1 381.0h.9v.9h-.9zM55.4 378.8h.9v.9h-.9zM55.3 379.4h.9v.9h-.9zM56.4 374.8h.9v.9h-.9zM58.2 378.1h.9v.9h-.9zM59.7 380.3h.9v.9h-.9zM53.6 380.2h.9v.9h-.9zM54.5 376.1h.9v.9h-.9zM56.2 374.2h.9v.9h-.9zM60.1 379.2h.9v.9h-.9zM54.7 381.2h.9v.9h-.9zM53.3 380.3h.9v.9h-.9zM56.9 378.9h.9v.9h-.9zM58.8 378.7h.9v.9h-.9zM58.0 375.2h.9v.9h-.9zM57.8 377.1h.9v.9h-.9zM58.0 377.5h.9v.9h-.9zM57.8 376.4h.9v.9h-.9zM53.9 376.0h.9v.9h-.9zM58.9 377.3h.9v.9h-.9zM57.0 377.0h.9v.9h-.9zM58.7 375.8h.9v.9h-.9zM52.9 376.8h.9v.9h-.9zM55.3 381.5h.9v.9h-.9zM54.7 376.5h.9v.9h-.9zM58.0 380.5h.9v.9h-.9zM55.9 381.7h.9v.9h-.9zM55.6 378.7h.9v.9h-.9zM55.1 373.4h.9v.9h-.9zM55.0 376.1h.9v.9h-.9zM55.3 382.5h.9v.9h-.9zM53.5 379.4h.9v.9h-.9zM59.6 379.9h.9v.9h-.9zM58.0 376.3h.9v.9h-.9zM55.4 381.7h.9v.9h-.9zM59.7 376.6h.9v.9h-.9zM57.8 378.1h.9v.9h-.9zM58.3 375.9h.9v.9h-.9zM58.9 376.9h.9v.9h-.9zM57.4 375.9h.9v.9h-.9zM59.1 377.1h.9v.9h-.9zM58.2 378.0h.9v.9h-.9zM58.6 379.5h.9v.9h-.9zM60.1 376.6h.9v.9h-.9zM58.7 376.5h.9v.9h-.9zM56.9 373.6h.9v.9h-.9zM58.3 373.6h.9v.9h-.9zM58.2 374.1h.9v.9h-.9zM55.9 379.8h.9v.9h-.9zM54.7 379.2h.9v.9h-.9zM56.5 375.9h.9v.9h-.9zM57.5 382.0h.9v.9h-.9zM57.6 378.3h.9v.9h-.9zM57.0 377.9h.9v.9h-.9zM59.2 380.4h.9v.9h-.9zM56.4 379.5h.9v.9h-.9zM54.2 377.9h.9v.9h-.9zM57.5 377.9h.9v.9h-.9zM56.4 381.1h.9v.9h-.9zM58.3 380.1h.9v.9h-.9zM52.9 378.4h.9v.9h-.9zM54.9 376.2h.9v.9h-.9zM56.8 380.0h.9v.9h-.9zM53.7 381.1h.9v.9h-.9zM57.9 377.5h.9v.9h-.9zM54.5 374.4h.9v.9h-.9zM59.5 375.9h.9v.9h-.9zM55.7 376.8h.9v.9h-.9zM56.2 382.7h.9v.9h-.9zM59.5 375.4h.9v.9h-.9zM54.8 381.7h.9v.9h-.9zM57.1 374.8h.9v.9h-.9zM55.2 380.8h.9v.9h-.9zM56.0 377.7h.9v.9h-.9zM60.3 378.6h.9v.9h-.9zM54.5 379.7h.9v.9h-.9zM54.2 376.0h.9v.9h-.9zM55.6 374.4h.9v.9h-.9zM57.3 378.0h.9v.9h-.9z" fill="#1fa65a" fill-opacity="0.60"/>
<ellipse cx="58.5" cy="388.4" rx="7.6" ry="5.2" fill="#b020c0" fill-opacity="0.28" filter="url(#b10)"/>
<path d="M58.0 392.3h.9v.9h-.9zM65.2 388.0h.9v.9h-.9zM64.4 392.8h.9v.9h-.9zM56.1 392.3h.9v.9h-.9zM53.1 384.3h.9v.9h-.9zM58.7 392.6h.9v.9h-.9zM67.7 388.8h.9v.9h-.9zM64.6 384.3h.9v.9h-.9zM60.6 393.3h.9v.9h-.9zM55.1 389.5h.9v.9h-.9zM60.5 394.3h.9v.9h-.9zM52.8 385.3h.9v.9h-.9zM63.3 392.2h.9v.9h-.9zM61.8 386.6h.9v.9h-.9zM59.4 394.7h.9v.9h-.9zM57.5 392.8h.9v.9h-.9zM65.6 385.6h.9v.9h-.9zM56.4 391.9h.9v.9h-.9zM58.5 389.7h.9v.9h-.9zM54.9 388.0h.9v.9h-.9zM58.1 394.3h.9v.9h-.9zM60.5 389.7h.9v.9h-.9zM65.7 390.0h.9v.9h-.9zM58.7 391.8h.9v.9h-.9zM50.4 387.7h.9v.9h-.9zM60.8 388.1h.9v.9h-.9zM57.8 389.1h.9v.9h-.9zM53.8 392.6h.9v.9h-.9zM55.2 392.0h.9v.9h-.9zM55.3 394.4h.9v.9h-.9zM61.8 382.7h.9v.9h-.9zM51.7 384.4h.9v.9h-.9zM56.7 386.8h.9v.9h-.9zM64.8 393.1h.9v.9h-.9zM50.8 386.6h.9v.9h-.9zM50.1 386.2h.9v.9h-.9zM59.7 390.9h.9v.9h-.9zM60.1 393.9h.9v.9h-.9zM52.8 385.7h.9v.9h-.9zM60.3 392.5h.9v.9h-.9zM57.8 390.4h.9v.9h-.9zM66.6 386.8h.9v.9h-.9zM60.0 384.6h.9v.9h-.9zM63.0 383.4h.9v.9h-.9zM59.5 394.7h.9v.9h-.9zM59.3 387.0h.9v.9h-.9zM60.7 389.6h.9v.9h-.9zM56.7 386.1h.9v.9h-.9zM59.5 389.4h.9v.9h-.9zM53.6 389.8h.9v.9h-.9zM54.8 387.3h.9v.9h-.9zM56.2 383.5h.9v.9h-.9zM51.1 392.3h.9v.9h-.9zM52.6 385.8h.9v.9h-.9zM58.9 392.0h.9v.9h-.9zM57.3 384.7h.9v.9h-.9zM63.3 391.0h.9v.9h-.9zM54.9 388.5h.9v.9h-.9zM58.9 394.6h.9v.9h-.9zM60.8 384.4h.9v.9h-.9zM58.9 383.2h.9v.9h-.9zM60.9 392.9h.9v.9h-.9zM65.3 390.4h.9v.9h-.9zM55.5 387.9h.9v.9h-.9zM53.8 388.1h.9v.9h-.9zM53.4 383.0h.9v.9h-.9zM59.3 386.8h.9v.9h-.9zM52.7 385.7h.9v.9h-.9zM62.9 386.7h.9v.9h-.9zM63.3 390.6h.9v.9h-.9zM53.8 393.4h.9v.9h-.9zM64.0 385.1h.9v.9h-.9zM58.9 384.1h.9v.9h-.9zM57.6 392.6h.9v.9h-.9zM56.2 385.1h.9v.9h-.9zM61.5 384.5h.9v.9h-.9zM58.8 393.0h.9v.9h-.9zM62.3 385.5h.9v.9h-.9zM55.8 392.7h.9v.9h-.9zM66.6 386.6h.9v.9h-.9zM57.6 385.2h.9v.9h-.9zM52.6 384.9h.9v.9h-.9zM56.4 392.9h.9v.9h-.9zM63.4 393.6h.9v.9h-.9zM54.8 383.8h.9v.9h-.9zM61.9 383.2h.9v.9h-.9zM54.4 392.6h.9v.9h-.9zM64.0 392.2h.9v.9h-.9zM53.7 391.8h.9v.9h-.9zM61.0 385.3h.9v.9h-.9zM61.7 393.8h.9v.9h-.9zM56.2 394.4h.9v.9h-.9zM61.9 387.3h.9v.9h-.9zM49.9 386.0h.9v.9h-.9zM54.1 384.2h.9v.9h-.9zM62.5 391.7h.9v.9h-.9zM58.6 388.2h.9v.9h-.9zM57.2 384.9h.9v.9h-.9zM56.6 394.2h.9v.9h-.9zM53.9 391.8h.9v.9h-.9zM63.7 388.3h.9v.9h-.9zM63.7 387.5h.9v.9h-.9zM56.6 387.6h.9v.9h-.9zM64.9 387.8h.9v.9h-.9zM49.2 388.6h.9v.9h-.9zM57.2 388.9h.9v.9h-.9zM57.7 389.2h.9v.9h-.9zM67.1 389.8h.9v.9h-.9zM60.3 383.0h.9v.9h-.9zM54.8 385.3h.9v.9h-.9zM53.8 386.9h.9v.9h-.9zM52.7 384.3h.9v.9h-.9zM54.9 390.7h.9v.9h-.9zM56.3 391.0h.9v.9h-.9zM66.1 385.6h.9v.9h-.9zM57.4 390.4h.9v.9h-.9zM50.2 388.3h.9v.9h-.9zM56.4 393.9h.9v.9h-.9zM55.5 390.4h.9v.9h-.9zM61.4 383.3h.9v.9h-.9zM52.4 391.9h.9v.9h-.9zM55.4 393.7h.9v.9h-.9zM54.5 384.3h.9v.9h-.9zM55.9 393.3h.9v.9h-.9zM58.9 394.8h.9v.9h-.9zM50.8 386.3h.9v.9h-.9zM61.5 389.2h.9v.9h-.9zM56.4 390.9h.9v.9h-.9zM53.1 391.9h.9v.9h-.9zM58.9 386.2h.9v.9h-.9zM56.8 386.4h.9v.9h-.9zM58.8 382.4h.9v.9h-.9zM56.9 384.7h.9v.9h-.9zM53.8 392.9h.9v.9h-.9zM60.4 386.6h.9v.9h-.9zM57.8 394.5h.9v.9h-.9zM59.2 385.4h.9v.9h-.9zM59.7 389.6h.9v.9h-.9zM56.6 394.2h.9v.9h-.9zM54.9 387.3h.9v.9h-.9zM60.2 390.1h.9v.9h-.9zM55.9 390.0h.9v.9h-.9zM64.1 391.4h.9v.9h-.9zM59.1 389.0h.9v.9h-.9zM66.7 389.7h.9v.9h-.9zM58.0 387.9h.9v.9h-.9zM67.0 386.7h.9v.9h-.9zM67.4 388.8h.9v.9h-.9zM62.9 388.4h.9v.9h-.9zM63.5 391.8h.9v.9h-.9zM56.1 385.8h.9v.9h-.9zM51.4 385.3h.9v.9h-.9zM62.1 389.4h.9v.9h-.9zM58.6 388.0h.9v.9h-.9zM57.1 391.6h.9v.9h-.9zM57.6 388.0h.9v.9h-.9zM65.9 388.5h.9v.9h-.9zM58.1 386.9h.9v.9h-.9zM55.2 386.4h.9v.9h-.9zM61.5 383.5h.9v.9h-.9zM55.3 386.1h.9v.9h-.9zM49.4 390.0h.9v.9h-.9zM50.8 388.1h.9v.9h-.9zM59.0 385.0h.9v.9h-.9zM55.2 394.4h.9v.9h-.9zM57.4 385.8h.9v.9h-.9zM53.2 387.7h.9v.9h-.9zM54.8 383.7h.9v.9h-.9zM62.9 384.6h.9v.9h-.9zM63.1 391.9h.9v.9h-.9zM63.5 391.2h.9v.9h-.9zM53.5 390.3h.9v.9h-.9zM58.5 391.0h.9v.9h-.9zM57.7 393.6h.9v.9h-.9zM61.7 392.3h.9v.9h-.9zM67.5 386.7h.9v.9h-.9zM58.7 383.7h.9v.9h-.9zM52.7 386.2h.9v.9h-.9zM63.2 385.5h.9v.9h-.9zM67.0 390.4h.9v.9h-.9zM60.1 394.5h.9v.9h-.9zM62.4 386.2h.9v.9h-.9zM58.3 394.4h.9v.9h-.9zM63.7 385.5h.9v.9h-.9zM63.9 391.1h.9v.9h-.9zM63.7 386.7h.9v.9h-.9zM53.1 383.5h.9v.9h-.9zM53.1 387.5h.9v.9h-.9zM54.2 386.6h.9v.9h-.9zM60.6 385.7h.9v.9h-.9zM59.2 383.7h.9v.9h-.9zM59.9 394.5h.9v.9h-.9zM61.9 387.5h.9v.9h-.9zM53.7 393.6h.9v.9h-.9zM63.9 392.6h.9v.9h-.9zM56.6 392.6h.9v.9h-.9zM57.8 389.7h.9v.9h-.9zM49.4 388.5h.9v.9h-.9zM60.6 393.7h.9v.9h-.9zM65.3 392.4h.9v.9h-.9zM63.1 388.8h.9v.9h-.9zM58.7 393.6h.9v.9h-.9zM50.8 387.9h.9v.9h-.9zM50.6 385.8h.9v.9h-.9zM60.1 391.2h.9v.9h-.9zM50.8 386.2h.9v.9h-.9zM50.1 390.7h.9v.9h-.9zM58.6 394.5h.9v.9h-.9zM50.4 388.2h.9v.9h-.9zM67.4 387.6h.9v.9h-.9zM60.8 383.2h.9v.9h-.9zM53.8 392.9h.9v.9h-.9zM52.9 385.3h.9v.9h-.9zM64.8 392.7h.9v.9h-.9zM61.8 382.5h.9v.9h-.9zM53.0 389.1h.9v.9h-.9zM50.8 385.1h.9v.9h-.9zM54.5 391.2h.9v.9h-.9zM53.1 383.0h.9v.9h-.9zM52.4 384.4h.9v.9h-.9zM56.1 388.9h.9v.9h-.9zM63.6 385.5h.9v.9h-.9zM55.7 385.5h.9v.9h-.9zM60.1 386.1h.9v.9h-.9zM49.8 386.7h.9v.9h-.9zM58.4 386.8h.9v.9h-.9zM64.3 383.4h.9v.9h-.9zM62.8 387.2h.9v.9h-.9zM65.5 388.5h.9v.9h-.9zM56.4 386.4h.9v.9h-.9zM56.3 388.5h.9v.9h-.9zM65.9 392.0h.9v.9h-.9zM54.7 386.1h.9v.9h-.9zM55.3 387.3h.9v.9h-.9zM53.5 392.6h.9v.9h-.9zM57.5 390.2h.9v.9h-.9zM61.3 387.7h.9v.9h-.9zM53.8 385.7h.9v.9h-.9zM50.6 387.1h.9v.9h-.9zM57.9 392.7h.9v.9h-.9zM55.7 392.2h.9v.9h-.9zM54.3 385.3h.9v.9h-.9zM60.1 383.2h.9v.9h-.9zM56.1 384.7h.9v.9h-.9zM56.6 393.1h.9v.9h-.9zM54.2 384.9h.9v.9h-.9zM62.6 388.3h.9v.9h-.9zM49.3 387.2h.9v.9h-.9zM57.4 393.9h.9v.9h-.9zM56.2 382.4h.9v.9h-.9zM54.6 390.8h.9v.9h-.9zM57.8 382.8h.9v.9h-.9zM53.3 385.4h.9v.9h-.9zM64.2 390.7h.9v.9h-.9zM53.8 393.0h.9v.9h-.9zM65.2 387.8h.9v.9h-.9zM61.1 384.8h.9v.9h-.9zM51.8 391.0h.9v.9h-.9zM61.1 392.5h.9v.9h-.9zM63.8 389.7h.9v.9h-.9zM65.3 383.9h.9v.9h-.9zM58.6 393.3h.9v.9h-.9zM56.9 388.3h.9v.9h-.9zM62.8 392.8h.9v.9h-.9zM64.8 392.7h.9v.9h-.9zM62.8 386.7h.9v.9h-.9zM61.1 388.7h.9v.9h-.9zM66.2 391.5h.9v.9h-.9zM52.2 383.6h.9v.9h-.9zM53.4 383.8h.9v.9h-.9z" fill="#b020c0" fill-opacity="0.64"/>
<ellipse cx="36.0" cy="387.4" rx="6.0" ry="4.8" fill="#2c2cc0" fill-opacity="0.17" filter="url(#b10)"/>
<path d="M30.4 389.2h.9v.9h-.9zM38.7 386.5h.9v.9h-.9zM37.2 387.9h.9v.9h-.9zM33.0 389.6h.9v.9h-.9zM34.5 391.1h.9v.9h-.9zM30.9 386.8h.9v.9h-.9zM33.6 392.7h.9v.9h-.9zM38.8 392.2h.9v.9h-.9zM35.6 386.4h.9v.9h-.9zM30.5 391.0h.9v.9h-.9zM33.8 387.4h.9v.9h-.9zM36.6 385.0h.9v.9h-.9zM29.6 386.4h.9v.9h-.9zM43.4 387.5h.9v.9h-.9zM36.8 387.7h.9v.9h-.9zM35.9 388.4h.9v.9h-.9zM33.1 384.2h.9v.9h-.9zM30.3 387.0h.9v.9h-.9zM39.8 389.3h.9v.9h-.9zM42.7 385.7h.9v.9h-.9zM31.0 386.1h.9v.9h-.9zM39.0 382.2h.9v.9h-.9zM40.8 388.2h.9v.9h-.9zM42.5 387.4h.9v.9h-.9zM32.4 383.3h.9v.9h-.9zM41.9 389.2h.9v.9h-.9zM34.1 387.1h.9v.9h-.9zM38.3 389.4h.9v.9h-.9zM33.8 389.6h.9v.9h-.9zM32.3 383.3h.9v.9h-.9zM38.2 383.1h.9v.9h-.9zM31.7 384.9h.9v.9h-.9zM33.8 382.6h.9v.9h-.9zM42.0 389.8h.9v.9h-.9zM43.4 387.2h.9v.9h-.9zM35.0 390.1h.9v.9h-.9zM42.3 385.4h.9v.9h-.9zM40.6 389.7h.9v.9h-.9zM34.4 386.3h.9v.9h-.9zM39.4 386.8h.9v.9h-.9zM38.4 385.5h.9v.9h-.9zM39.5 387.9h.9v.9h-.9zM41.9 389.2h.9v.9h-.9zM32.8 386.0h.9v.9h-.9zM37.1 384.4h.9v.9h-.9zM33.4 389.5h.9v.9h-.9zM29.1 385.8h.9v.9h-.9zM37.8 382.1h.9v.9h-.9zM39.9 383.6h.9v.9h-.9zM36.0 391.8h.9v.9h-.9zM31.1 389.4h.9v.9h-.9zM33.9 389.3h.9v.9h-.9zM40.1 383.8h.9v.9h-.9zM31.3 385.4h.9v.9h-.9zM39.6 390.5h.9v.9h-.9zM40.8 388.4h.9v.9h-.9zM32.7 390.7h.9v.9h-.9zM34.0 385.6h.9v.9h-.9zM38.1 388.8h.9v.9h-.9zM34.9 392.2h.9v.9h-.9zM38.7 390.7h.9v.9h-.9zM42.7 388.8h.9v.9h-.9zM41.4 383.7h.9v.9h-.9zM37.2 385.8h.9v.9h-.9zM32.3 388.5h.9v.9h-.9zM32.2 390.7h.9v.9h-.9zM41.1 383.8h.9v.9h-.9zM40.0 391.1h.9v.9h-.9zM41.1 385.2h.9v.9h-.9zM36.5 392.5h.9v.9h-.9zM39.0 388.5h.9v.9h-.9zM40.4 387.8h.9v.9h-.9zM30.0 389.0h.9v.9h-.9zM36.1 388.9h.9v.9h-.9zM33.8 386.8h.9v.9h-.9zM35.9 382.9h.9v.9h-.9zM31.6 390.0h.9v.9h-.9zM41.3 389.2h.9v.9h-.9zM28.7 386.7h.9v.9h-.9zM43.0 386.3h.9v.9h-.9zM39.5 388.2h.9v.9h-.9zM43.1 386.9h.9v.9h-.9zM42.0 386.3h.9v.9h-.9zM38.3 390.5h.9v.9h-.9zM31.1 391.2h.9v.9h-.9zM38.2 391.6h.9v.9h-.9zM29.4 384.8h.9v.9h-.9zM37.6 382.3h.9v.9h-.9zM36.2 383.3h.9v.9h-.9zM32.1 390.3h.9v.9h-.9zM37.9 393.0h.9v.9h-.9zM41.5 388.2h.9v.9h-.9zM42.7 385.0h.9v.9h-.9zM36.2 390.6h.9v.9h-.9zM36.9 393.3h.9v.9h-.9zM37.6 383.9h.9v.9h-.9zM41.6 386.9h.9v.9h-.9zM34.5 392.1h.9v.9h-.9zM30.2 384.2h.9v.9h-.9zM34.4 393.2h.9v.9h-.9zM36.4 384.5h.9v.9h-.9zM35.9 389.3h.9v.9h-.9zM39.6 384.7h.9v.9h-.9zM40.1 384.0h.9v.9h-.9zM38.6 387.9h.9v.9h-.9zM34.6 385.2h.9v.9h-.9zM41.6 390.2h.9v.9h-.9zM40.7 387.3h.9v.9h-.9zM43.5 387.0h.9v.9h-.9zM30.4 387.4h.9v.9h-.9zM35.4 393.3h.9v.9h-.9zM41.7 385.0h.9v.9h-.9zM33.5 390.1h.9v.9h-.9zM43.2 388.1h.9v.9h-.9zM32.5 385.3h.9v.9h-.9zM41.3 389.7h.9v.9h-.9zM42.7 386.8h.9v.9h-.9z" fill="#2c2cc0" fill-opacity="0.40"/>
<ellipse cx="63.5" cy="401.4" rx="2.0" ry="2.4" fill="#1fa65a" fill-opacity="0.16" filter="url(#b10)"/>
<path d="M65.0 403.1h.9v.9h-.9zM65.9 401.8h.9v.9h-.9zM63.3 399.4h.9v.9h-.9zM62.2 400.1h.9v.9h-.9zM61.6 401.3h.9v.9h-.9zM65.1 400.0h.9v.9h-.9zM65.2 401.1h.9v.9h-.9zM64.3 399.2h.9v.9h-.9zM63.4 398.7h.9v.9h-.9zM61.2 402.0h.9v.9h-.9zM63.1 401.9h.9v.9h-.9zM65.9 401.4h.9v.9h-.9zM62.6 402.7h.9v.9h-.9zM64.2 401.3h.9v.9h-.9zM63.4 404.0h.9v.9h-.9zM61.6 401.8h.9v.9h-.9zM65.6 402.3h.9v.9h-.9zM64.5 403.1h.9v.9h-.9zM61.0 401.5h.9v.9h-.9zM62.9 402.7h.9v.9h-.9zM62.1 402.5h.9v.9h-.9zM62.8 399.2h.9v.9h-.9z" fill="#1fa65a" fill-opacity="0.36"/>
<ellipse cx="50.5" cy="376.4" rx="2.4" ry="1.6" fill="#1fa65a" fill-opacity="0.14" filter="url(#b10)"/>
<path d="M52.4 376.1h.9v.9h-.9zM52.2 375.8h.9v.9h-.9zM51.3 377.8h.9v.9h-.9zM49.4 377.0h.9v.9h-.9zM49.5 374.6h.9v.9h-.9zM49.0 378.0h.9v.9h-.9zM50.1 375.4h.9v.9h-.9zM52.5 376.5h.9v.9h-.9zM52.3 375.5h.9v.9h-.9zM48.0 377.0h.9v.9h-.9zM48.6 375.1h.9v.9h-.9zM48.1 376.2h.9v.9h-.9zM48.7 377.9h.9v.9h-.9z" fill="#1fa65a" fill-opacity="0.32"/>
<path d="M84.50,379.90 C86.02,377.15 91.10,371.13 94.40,369.20 C97.70,367.27 100.72,369.13 104.30,368.30 C107.88,367.47 112.73,365.17 115.90,364.20 C119.07,363.23 121.65,362.08 123.30,362.50 C124.95,362.92 125.10,363.93 125.80,366.70 C126.50,369.47 127.37,375.65 127.50,379.10 C127.63,382.55 127.57,384.78 126.60,387.40 C125.63,390.02 123.07,392.47 121.70,394.80 C120.33,397.13 119.92,399.75 118.40,401.40 C116.88,403.05 114.53,404.42 112.60,404.70 C110.67,404.98 108.18,404.75 106.80,403.10 C105.42,401.45 105.53,396.73 104.30,394.80 C103.07,392.87 101.88,392.05 99.40,391.50 C96.92,390.95 91.75,392.47 89.40,391.50 C87.05,390.53 86.12,387.63 85.30,385.70 C84.48,383.77 82.98,382.65 84.50,379.90 Z" fill="#f2f2f2" filter="url(#b06)"/>
<path d="M104.9 390.2h.8v.8h-.8zM113.2 368.5h.8v.8h-.8zM114.2 387.9h.8v.8h-.8zM108.5 390.4h.8v.8h-.8zM90.7 381.1h.8v.8h-.8zM99.0 379.6h.8v.8h-.8zM120.7 363.3h.8v.8h-.8zM89.3 380.4h.8v.8h-.8zM90.3 375.7h.8v.8h-.8zM111.2 369.4h.8v.8h-.8zM101.7 380.2h.8v.8h-.8zM110.1 382.6h.8v.8h-.8zM99.8 377.8h.8v.8h-.8zM114.2 390.9h.8v.8h-.8zM100.1 384.1h.8v.8h-.8zM119.3 383.6h.8v.8h-.8zM103.0 384.4h.8v.8h-.8zM94.1 380.5h.8v.8h-.8zM88.9 385.7h.8v.8h-.8zM99.3 389.4h.8v.8h-.8zM86.7 381.9h.8v.8h-.8zM93.5 374.4h.8v.8h-.8zM100.2 370.5h.8v.8h-.8zM116.7 401.0h.8v.8h-.8zM117.6 376.9h.8v.8h-.8zM120.3 389.5h.8v.8h-.8zM94.4 384.7h.8v.8h-.8zM105.0 389.0h.8v.8h-.8zM123.0 369.3h.8v.8h-.8zM106.7 391.9h.8v.8h-.8zM114.8 371.5h.8v.8h-.8zM96.8 373.3h.8v.8h-.8zM113.9 391.8h.8v.8h-.8zM102.6 372.7h.8v.8h-.8zM108.6 388.9h.8v.8h-.8zM117.2 380.1h.8v.8h-.8zM109.8 400.5h.8v.8h-.8zM118.4 387.0h.8v.8h-.8zM99.4 378.0h.8v.8h-.8zM116.1 386.3h.8v.8h-.8zM107.5 395.8h.8v.8h-.8zM99.7 375.7h.8v.8h-.8zM107.8 388.8h.8v.8h-.8zM89.9 385.0h.8v.8h-.8zM114.6 379.1h.8v.8h-.8zM95.1 379.7h.8v.8h-.8zM98.4 391.4h.8v.8h-.8zM117.2 390.3h.8v.8h-.8zM124.7 377.9h.8v.8h-.8zM85.8 383.1h.8v.8h-.8zM103.6 370.1h.8v.8h-.8zM113.2 376.9h.8v.8h-.8zM94.7 376.3h.8v.8h-.8zM100.0 374.3h.8v.8h-.8zM93.2 380.7h.8v.8h-.8zM106.0 392.0h.8v.8h-.8zM91.5 382.1h.8v.8h-.8zM110.6 398.1h.8v.8h-.8zM95.2 381.9h.8v.8h-.8zM94.3 385.2h.8v.8h-.8zM117.2 379.2h.8v.8h-.8zM113.5 390.5h.8v.8h-.8zM126.3 385.9h.8v.8h-.8zM113.8 377.3h.8v.8h-.8zM116.0 376.1h.8v.8h-.8zM106.0 377.7h.8v.8h-.8zM94.2 385.5h.8v.8h-.8zM119.1 374.6h.8v.8h-.8zM124.8 387.8h.8v.8h-.8zM123.1 376.0h.8v.8h-.8zM89.9 389.5h.8v.8h-.8zM120.7 388.2h.8v.8h-.8zM118.2 379.9h.8v.8h-.8zM111.1 373.6h.8v.8h-.8zM102.0 378.5h.8v.8h-.8zM101.0 379.4h.8v.8h-.8zM119.2 369.7h.8v.8h-.8zM93.3 373.2h.8v.8h-.8zM126.3 384.6h.8v.8h-.8zM97.3 370.5h.8v.8h-.8zM92.4 375.7h.8v.8h-.8zM121.6 388.1h.8v.8h-.8zM107.6 381.4h.8v.8h-.8zM107.2 390.0h.8v.8h-.8zM118.9 383.8h.8v.8h-.8zM111.8 382.2h.8v.8h-.8zM111.8 378.9h.8v.8h-.8zM102.3 384.3h.8v.8h-.8zM115.2 374.3h.8v.8h-.8zM124.3 383.2h.8v.8h-.8zM121.3 391.6h.8v.8h-.8zM102.9 379.6h.8v.8h-.8zM110.6 394.3h.8v.8h-.8zM120.6 368.0h.8v.8h-.8zM89.4 391.4h.8v.8h-.8zM111.0 403.3h.8v.8h-.8zM104.9 371.2h.8v.8h-.8zM117.0 380.4h.8v.8h-.8zM107.9 375.8h.8v.8h-.8zM110.6 402.7h.8v.8h-.8zM124.6 377.8h.8v.8h-.8zM110.3 390.7h.8v.8h-.8zM105.2 393.3h.8v.8h-.8zM120.0 394.5h.8v.8h-.8zM99.1 378.6h.8v.8h-.8zM105.4 370.7h.8v.8h-.8zM111.4 385.1h.8v.8h-.8zM100.1 372.2h.8v.8h-.8zM101.1 388.3h.8v.8h-.8zM90.0 385.3h.8v.8h-.8zM95.3 380.2h.8v.8h-.8zM111.7 369.8h.8v.8h-.8zM108.1 387.6h.8v.8h-.8zM109.3 378.5h.8v.8h-.8zM97.8 377.5h.8v.8h-.8zM106.1 381.9h.8v.8h-.8zM91.9 379.4h.8v.8h-.8zM93.3 376.1h.8v.8h-.8zM100.3 377.3h.8v.8h-.8zM124.8 375.0h.8v.8h-.8zM98.8 390.2h.8v.8h-.8zM101.6 384.3h.8v.8h-.8zM112.3 365.6h.8v.8h-.8zM113.4 366.8h.8v.8h-.8zM91.9 381.0h.8v.8h-.8zM94.5 370.8h.8v.8h-.8zM111.9 389.4h.8v.8h-.8zM109.9 382.7h.8v.8h-.8zM125.7 381.8h.8v.8h-.8zM124.8 379.0h.8v.8h-.8zM104.5 377.7h.8v.8h-.8zM115.3 394.2h.8v.8h-.8zM94.8 384.7h.8v.8h-.8zM115.7 383.7h.8v.8h-.8zM113.0 388.5h.8v.8h-.8zM115.2 377.5h.8v.8h-.8zM123.3 368.9h.8v.8h-.8zM120.5 380.3h.8v.8h-.8zM98.0 373.4h.8v.8h-.8zM97.7 369.2h.8v.8h-.8zM100.8 383.2h.8v.8h-.8zM110.4 401.9h.8v.8h-.8zM124.6 384.8h.8v.8h-.8zM100.3 370.5h.8v.8h-.8zM108.2 395.9h.8v.8h-.8zM95.7 385.0h.8v.8h-.8zM123.5 367.1h.8v.8h-.8zM111.0 370.3h.8v.8h-.8zM112.2 380.9h.8v.8h-.8zM85.4 383.3h.8v.8h-.8z" fill="#c8c8c8" fill-opacity="0.6"/>
<ellipse cx="120.0" cy="366.4" rx="5.2" ry="4.8" fill="#e03c3c" fill-opacity="0.26" filter="url(#b10)"/>
<path d="M114.2 365.7h.9v.9h-.9zM123.4 365.6h.9v.9h-.9zM120.6 361.4h.9v.9h-.9zM118.9 364.7h.9v.9h-.9zM124.0 367.0h.9v.9h-.9zM119.9 363.4h.9v.9h-.9zM116.3 366.4h.9v.9h-.9zM123.6 361.6h.9v.9h-.9zM114.7 369.9h.9v.9h-.9zM125.4 368.5h.9v.9h-.9zM121.8 364.8h.9v.9h-.9zM118.7 362.1h.9v.9h-.9zM122.9 365.6h.9v.9h-.9zM114.1 365.0h.9v.9h-.9zM117.7 363.8h.9v.9h-.9zM125.5 369.3h.9v.9h-.9zM113.6 367.4h.9v.9h-.9zM123.7 370.6h.9v.9h-.9zM122.4 361.1h.9v.9h-.9zM123.9 366.8h.9v.9h-.9zM125.3 368.1h.9v.9h-.9zM116.1 371.1h.9v.9h-.9zM116.0 370.1h.9v.9h-.9zM122.1 364.2h.9v.9h-.9zM114.0 364.3h.9v.9h-.9zM116.2 365.8h.9v.9h-.9zM119.4 371.7h.9v.9h-.9zM121.8 370.8h.9v.9h-.9zM115.5 364.9h.9v.9h-.9zM123.6 369.9h.9v.9h-.9zM123.2 364.7h.9v.9h-.9zM116.9 371.4h.9v.9h-.9zM117.0 364.9h.9v.9h-.9zM125.6 366.7h.9v.9h-.9zM117.4 369.7h.9v.9h-.9zM119.3 371.1h.9v.9h-.9zM119.5 363.1h.9v.9h-.9zM125.8 369.1h.9v.9h-.9zM120.8 365.9h.9v.9h-.9zM115.0 364.4h.9v.9h-.9zM115.4 369.3h.9v.9h-.9zM124.8 365.2h.9v.9h-.9zM117.8 368.1h.9v.9h-.9zM120.0 368.7h.9v.9h-.9zM122.3 368.2h.9v.9h-.9zM122.6 362.7h.9v.9h-.9zM122.1 361.0h.9v.9h-.9zM120.5 365.2h.9v.9h-.9zM121.8 365.6h.9v.9h-.9zM120.8 361.0h.9v.9h-.9zM117.7 363.2h.9v.9h-.9zM121.7 367.2h.9v.9h-.9zM117.9 364.2h.9v.9h-.9zM116.7 365.8h.9v.9h-.9zM121.8 369.2h.9v.9h-.9zM119.3 362.3h.9v.9h-.9zM116.5 369.0h.9v.9h-.9zM115.6 365.0h.9v.9h-.9zM114.0 368.4h.9v.9h-.9zM120.0 363.5h.9v.9h-.9zM118.8 368.8h.9v.9h-.9zM119.3 367.2h.9v.9h-.9zM119.8 361.9h.9v.9h-.9zM114.6 369.0h.9v.9h-.9zM117.7 370.4h.9v.9h-.9zM124.4 364.5h.9v.9h-.9zM117.0 364.0h.9v.9h-.9zM125.6 366.3h.9v.9h-.9zM118.7 369.8h.9v.9h-.9zM116.1 364.1h.9v.9h-.9zM117.2 366.0h.9v.9h-.9zM115.2 364.1h.9v.9h-.9zM120.4 362.4h.9v.9h-.9zM115.7 367.8h.9v.9h-.9zM115.6 365.5h.9v.9h-.9zM123.3 366.6h.9v.9h-.9zM125.9 366.0h.9v.9h-.9zM114.5 367.5h.9v.9h-.9zM120.8 369.4h.9v.9h-.9zM114.6 365.8h.9v.9h-.9zM124.4 367.1h.9v.9h-.9zM124.2 363.8h.9v.9h-.9zM122.0 366.3h.9v.9h-.9zM125.0 363.4h.9v.9h-.9zM124.7 367.1h.9v.9h-.9zM120.2 363.6h.9v.9h-.9zM116.5 361.9h.9v.9h-.9zM121.2 362.6h.9v.9h-.9zM124.5 368.0h.9v.9h-.9zM121.8 370.5h.9v.9h-.9zM119.5 369.9h.9v.9h-.9zM114.3 364.9h.9v.9h-.9zM124.1 365.8h.9v.9h-.9zM125.6 366.6h.9v.9h-.9zM117.0 370.8h.9v.9h-.9zM120.6 365.4h.9v.9h-.9zM119.6 363.2h.9v.9h-.9zM118.4 369.5h.9v.9h-.9zM116.9 365.7h.9v.9h-.9zM116.5 366.5h.9v.9h-.9zM122.3 368.5h.9v.9h-.9zM118.5 363.4h.9v.9h-.9zM121.2 369.9h.9v.9h-.9zM121.5 372.2h.9v.9h-.9zM120.6 364.1h.9v.9h-.9zM118.8 370.2h.9v.9h-.9zM116.0 365.7h.9v.9h-.9zM114.4 365.6h.9v.9h-.9zM122.8 370.1h.9v.9h-.9zM122.4 370.2h.9v.9h-.9zM117.6 371.3h.9v.9h-.9zM124.7 362.4h.9v.9h-.9zM115.7 369.0h.9v.9h-.9zM122.7 370.8h.9v.9h-.9zM120.7 362.5h.9v.9h-.9zM117.5 371.1h.9v.9h-.9zM120.0 361.0h.9v.9h-.9zM119.2 369.3h.9v.9h-.9zM120.0 369.0h.9v.9h-.9zM122.3 366.5h.9v.9h-.9zM115.7 366.6h.9v.9h-.9zM123.1 364.0h.9v.9h-.9zM123.0 371.5h.9v.9h-.9zM123.4 367.9h.9v.9h-.9zM120.3 363.0h.9v.9h-.9zM125.5 365.2h.9v.9h-.9zM117.8 371.6h.9v.9h-.9zM124.1 364.4h.9v.9h-.9zM121.3 367.9h.9v.9h-.9zM122.5 361.3h.9v.9h-.9zM116.8 362.1h.9v.9h-.9zM120.9 363.6h.9v.9h-.9zM121.4 371.8h.9v.9h-.9zM122.3 363.0h.9v.9h-.9zM119.8 368.1h.9v.9h-.9zM114.9 369.6h.9v.9h-.9zM121.1 369.6h.9v.9h-.9zM124.8 367.4h.9v.9h-.9zM125.0 368.2h.9v.9h-.9zM115.8 366.6h.9v.9h-.9zM119.8 369.7h.9v.9h-.9zM124.9 362.8h.9v.9h-.9zM120.0 363.6h.9v.9h-.9zM121.0 369.9h.9v.9h-.9zM124.5 362.3h.9v.9h-.9zM120.6 371.1h.9v.9h-.9zM116.8 369.2h.9v.9h-.9zM121.8 371.2h.9v.9h-.9zM121.3 360.7h.9v.9h-.9zM115.7 366.8h.9v.9h-.9zM118.6 364.7h.9v.9h-.9zM124.1 362.8h.9v.9h-.9zM120.6 370.2h.9v.9h-.9zM114.0 366.9h.9v.9h-.9zM118.9 363.7h.9v.9h-.9zM126.0 364.7h.9v.9h-.9zM122.9 363.1h.9v.9h-.9zM115.9 367.0h.9v.9h-.9zM124.5 365.8h.9v.9h-.9zM122.7 365.8h.9v.9h-.9zM124.4 367.2h.9v.9h-.9zM121.0 369.3h.9v.9h-.9zM122.2 366.9h.9v.9h-.9zM118.2 367.0h.9v.9h-.9zM118.5 370.9h.9v.9h-.9zM119.8 369.7h.9v.9h-.9zM117.6 368.5h.9v.9h-.9zM114.7 364.3h.9v.9h-.9zM124.7 367.3h.9v.9h-.9zM113.9 365.2h.9v.9h-.9zM119.0 363.4h.9v.9h-.9zM115.4 362.6h.9v.9h-.9zM125.4 364.8h.9v.9h-.9zM123.1 368.7h.9v.9h-.9zM116.3 366.9h.9v.9h-.9zM120.2 362.2h.9v.9h-.9zM120.6 366.3h.9v.9h-.9zM120.8 364.5h.9v.9h-.9zM117.5 366.1h.9v.9h-.9zM116.2 369.6h.9v.9h-.9z" fill="#e03c3c" fill-opacity="0.60"/>
<ellipse cx="110.5" cy="377.9" rx="4.8" ry="5.2" fill="#1fa65a" fill-opacity="0.28" filter="url(#b10)"/>
<path d="M111.7 377.6h.9v.9h-.9zM109.0 379.3h.9v.9h-.9zM110.4 375.4h.9v.9h-.9zM112.3 383.4h.9v.9h-.9zM115.9 379.7h.9v.9h-.9zM109.8 384.3h.9v.9h-.9zM112.0 379.1h.9v.9h-.9zM107.2 378.4h.9v.9h-.9zM108.5 375.1h.9v.9h-.9zM110.1 378.6h.9v.9h-.9zM110.8 378.1h.9v.9h-.9zM105.0 379.4h.9v.9h-.9zM107.2 377.1h.9v.9h-.9zM105.4 379.3h.9v.9h-.9zM111.8 376.5h.9v.9h-.9zM108.5 375.1h.9v.9h-.9zM115.1 375.5h.9v.9h-.9zM106.4 375.1h.9v.9h-.9zM110.6 376.2h.9v.9h-.9zM110.0 379.1h.9v.9h-.9zM113.8 383.1h.9v.9h-.9zM108.1 376.6h.9v.9h-.9zM109.4 381.9h.9v.9h-.9zM115.2 380.9h.9v.9h-.9zM109.5 378.9h.9v.9h-.9zM106.7 377.5h.9v.9h-.9zM110.8 374.6h.9v.9h-.9zM110.8 382.5h.9v.9h-.9zM108.7 379.2h.9v.9h-.9zM110.0 371.9h.9v.9h-.9zM112.9 373.3h.9v.9h-.9zM105.3 379.0h.9v.9h-.9zM111.0 379.9h.9v.9h-.9zM111.7 382.4h.9v.9h-.9zM111.5 382.0h.9v.9h-.9zM112.3 373.2h.9v.9h-.9zM111.2 380.1h.9v.9h-.9zM111.9 378.0h.9v.9h-.9zM110.1 383.4h.9v.9h-.9zM112.3 374.4h.9v.9h-.9zM114.8 379.3h.9v.9h-.9zM111.2 377.6h.9v.9h-.9zM106.4 373.2h.9v.9h-.9zM108.4 382.4h.9v.9h-.9zM112.3 373.0h.9v.9h-.9zM113.0 383.0h.9v.9h-.9zM106.3 375.2h.9v.9h-.9zM106.1 374.5h.9v.9h-.9zM105.3 375.2h.9v.9h-.9zM111.2 378.5h.9v.9h-.9zM113.3 381.4h.9v.9h-.9zM109.4 371.8h.9v.9h-.9zM111.0 377.9h.9v.9h-.9zM106.9 381.4h.9v.9h-.9zM107.9 379.9h.9v.9h-.9zM112.0 383.1h.9v.9h-.9zM105.9 374.0h.9v.9h-.9zM108.6 381.9h.9v.9h-.9zM115.4 376.6h.9v.9h-.9zM110.1 383.4h.9v.9h-.9zM108.8 378.5h.9v.9h-.9zM113.8 380.7h.9v.9h-.9zM109.4 381.0h.9v.9h-.9zM110.0 374.6h.9v.9h-.9zM106.4 379.3h.9v.9h-.9zM115.9 378.2h.9v.9h-.9zM110.2 380.5h.9v.9h-.9zM107.7 377.6h.9v.9h-.9zM112.5 378.3h.9v.9h-.9zM114.0 378.9h.9v.9h-.9zM109.2 380.5h.9v.9h-.9zM113.0 383.2h.9v.9h-.9zM106.3 375.6h.9v.9h-.9zM116.3 378.3h.9v.9h-.9zM115.6 379.0h.9v.9h-.9zM108.3 374.5h.9v.9h-.9zM108.2 382.0h.9v.9h-.9zM105.7 375.0h.9v.9h-.9zM112.2 378.6h.9v.9h-.9zM108.2 375.5h.9v.9h-.9zM107.2 376.0h.9v.9h-.9zM115.8 379.2h.9v.9h-.9zM111.8 381.4h.9v.9h-.9zM110.3 371.7h.9v.9h-.9zM114.1 373.0h.9v.9h-.9zM109.3 380.7h.9v.9h-.9zM105.2 379.4h.9v.9h-.9zM107.7 373.8h.9v.9h-.9zM109.7 375.0h.9v.9h-.9zM106.9 376.2h.9v.9h-.9zM112.9 375.4h.9v.9h-.9zM105.9 376.5h.9v.9h-.9zM109.0 372.4h.9v.9h-.9zM110.5 375.5h.9v.9h-.9zM111.6 377.6h.9v.9h-.9zM110.1 374.3h.9v.9h-.9zM113.4 380.2h.9v.9h-.9zM112.6 379.9h.9v.9h-.9zM115.8 376.7h.9v.9h-.9zM107.6 381.2h.9v.9h-.9zM107.7 375.8h.9v.9h-.9zM113.1 381.1h.9v.9h-.9zM113.8 372.6h.9v.9h-.9zM106.3 374.2h.9v.9h-.9zM105.9 380.7h.9v.9h-.9zM112.6 372.2h.9v.9h-.9zM112.0 382.3h.9v.9h-.9zM114.6 380.1h.9v.9h-.9zM106.0 378.8h.9v.9h-.9zM107.1 377.1h.9v.9h-.9zM112.7 380.7h.9v.9h-.9zM111.1 374.5h.9v.9h-.9zM115.9 376.6h.9v.9h-.9zM110.2 382.3h.9v.9h-.9zM110.7 377.3h.9v.9h-.9zM111.0 373.8h.9v.9h-.9zM110.2 377.4h.9v.9h-.9zM109.7 376.6h.9v.9h-.9zM109.5 382.9h.9v.9h-.9zM108.1 375.0h.9v.9h-.9zM110.3 381.8h.9v.9h-.9zM109.6 380.8h.9v.9h-.9zM110.6 382.5h.9v.9h-.9zM110.6 372.0h.9v.9h-.9zM105.9 381.8h.9v.9h-.9zM107.4 382.8h.9v.9h-.9zM112.5 372.7h.9v.9h-.9zM114.4 375.2h.9v.9h-.9zM112.8 375.6h.9v.9h-.9zM106.0 377.7h.9v.9h-.9zM109.1 377.6h.9v.9h-.9zM110.3 383.1h.9v.9h-.9zM107.1 381.9h.9v.9h-.9zM110.0 373.1h.9v.9h-.9zM113.2 381.1h.9v.9h-.9zM113.5 376.2h.9v.9h-.9zM114.9 380.9h.9v.9h-.9zM108.7 380.0h.9v.9h-.9zM104.8 377.4h.9v.9h-.9zM107.9 376.8h.9v.9h-.9zM114.4 378.1h.9v.9h-.9zM110.0 384.3h.9v.9h-.9zM114.9 373.6h.9v.9h-.9zM113.2 376.1h.9v.9h-.9zM107.6 374.3h.9v.9h-.9zM106.2 376.9h.9v.9h-.9zM111.0 380.4h.9v.9h-.9zM115.2 379.7h.9v.9h-.9zM113.3 383.1h.9v.9h-.9zM108.5 375.0h.9v.9h-.9zM111.9 376.7h.9v.9h-.9zM112.1 383.4h.9v.9h-.9zM106.6 382.4h.9v.9h-.9zM110.4 377.9h.9v.9h-.9zM115.9 375.2h.9v.9h-.9zM105.7 379.5h.9v.9h-.9zM109.7 376.0h.9v.9h-.9zM110.6 373.3h.9v.9h-.9zM110.4 377.5h.9v.9h-.9zM108.3 379.5h.9v.9h-.9zM111.4 377.4h.9v.9h-.9zM113.9 378.5h.9v.9h-.9zM111.6 375.3h.9v.9h-.9zM108.3 372.6h.9v.9h-.9zM107.4 375.6h.9v.9h-.9zM110.4 375.7h.9v.9h-.9zM109.9 383.9h.9v.9h-.9zM111.2 381.1h.9v.9h-.9zM113.4 381.5h.9v.9h-.9zM112.6 376.8h.9v.9h-.9zM104.8 377.4h.9v.9h-.9zM114.1 380.3h.9v.9h-.9zM109.1 382.5h.9v.9h-.9zM115.9 375.7h.9v.9h-.9zM109.2 380.4h.9v.9h-.9zM104.7 377.4h.9v.9h-.9zM110.7 381.3h.9v.9h-.9zM106.1 382.0h.9v.9h-.9zM109.7 380.6h.9v.9h-.9zM106.9 380.7h.9v.9h-.9zM111.4 383.5h.9v.9h-.9zM112.0 382.3h.9v.9h-.9zM107.0 382.7h.9v.9h-.9zM114.5 377.2h.9v.9h-.9zM107.4 380.3h.9v.9h-.9zM108.8 376.0h.9v.9h-.9zM113.5 378.7h.9v.9h-.9zM107.3 376.3h.9v.9h-.9zM112.8 382.0h.9v.9h-.9z" fill="#1fa65a" fill-opacity="0.64"/>
<ellipse cx="115.5" cy="389.4" rx="7.6" ry="5.2" fill="#b020c0" fill-opacity="0.26" filter="url(#b10)"/>
<path d="M124.5 387.9h.9v.9h-.9zM115.6 392.3h.9v.9h-.9zM111.9 383.9h.9v.9h-.9zM120.4 392.7h.9v.9h-.9zM111.8 395.3h.9v.9h-.9zM119.9 388.3h.9v.9h-.9zM119.0 388.8h.9v.9h-.9zM115.5 395.7h.9v.9h-.9zM110.3 394.7h.9v.9h-.9zM108.8 387.0h.9v.9h-.9zM122.6 386.7h.9v.9h-.9zM112.7 393.2h.9v.9h-.9zM112.8 392.0h.9v.9h-.9zM112.0 394.3h.9v.9h-.9zM113.5 390.0h.9v.9h-.9zM118.5 384.5h.9v.9h-.9zM121.7 386.9h.9v.9h-.9zM110.9 394.3h.9v.9h-.9zM113.3 384.7h.9v.9h-.9zM110.9 387.0h.9v.9h-.9zM115.2 390.6h.9v.9h-.9zM109.3 391.3h.9v.9h-.9zM119.7 395.0h.9v.9h-.9zM120.1 387.5h.9v.9h-.9zM117.3 390.8h.9v.9h-.9zM109.9 385.2h.9v.9h-.9zM107.9 391.9h.9v.9h-.9zM115.6 393.1h.9v.9h-.9zM115.7 390.3h.9v.9h-.9zM124.4 389.7h.9v.9h-.9zM117.3 390.9h.9v.9h-.9zM112.3 386.4h.9v.9h-.9zM113.9 389.1h.9v.9h-.9zM121.6 391.0h.9v.9h-.9zM119.3 388.6h.9v.9h-.9zM120.7 393.9h.9v.9h-.9zM115.7 384.7h.9v.9h-.9zM114.7 385.7h.9v.9h-.9zM116.2 393.1h.9v.9h-.9zM114.2 394.2h.9v.9h-.9zM115.6 383.6h.9v.9h-.9zM113.3 387.0h.9v.9h-.9zM114.3 386.3h.9v.9h-.9zM119.6 392.6h.9v.9h-.9zM121.5 389.2h.9v.9h-.9zM111.9 384.2h.9v.9h-.9zM112.9 387.4h.9v.9h-.9zM111.0 385.0h.9v.9h-.9zM115.1 391.6h.9v.9h-.9zM122.9 391.3h.9v.9h-.9zM116.6 389.0h.9v.9h-.9zM108.4 392.5h.9v.9h-.9zM120.6 384.9h.9v.9h-.9zM118.6 392.6h.9v.9h-.9zM121.0 390.8h.9v.9h-.9zM115.3 386.1h.9v.9h-.9zM120.3 388.8h.9v.9h-.9zM108.5 389.6h.9v.9h-.9zM107.5 388.7h.9v.9h-.9zM107.0 389.1h.9v.9h-.9zM107.4 386.3h.9v.9h-.9zM120.3 384.2h.9v.9h-.9zM122.7 387.5h.9v.9h-.9zM111.9 390.7h.9v.9h-.9zM115.7 394.0h.9v.9h-.9zM115.9 384.9h.9v.9h-.9zM120.3 390.5h.9v.9h-.9zM111.7 388.6h.9v.9h-.9zM119.5 387.1h.9v.9h-.9zM122.4 393.4h.9v.9h-.9zM111.3 390.1h.9v.9h-.9zM121.2 392.0h.9v.9h-.9zM120.4 388.0h.9v.9h-.9zM109.8 394.0h.9v.9h-.9zM110.4 384.8h.9v.9h-.9zM124.3 389.5h.9v.9h-.9zM121.4 389.1h.9v.9h-.9zM116.7 387.3h.9v.9h-.9zM115.4 395.6h.9v.9h-.9zM116.5 393.3h.9v.9h-.9zM114.0 391.7h.9v.9h-.9zM117.8 388.3h.9v.9h-.9zM120.8 388.3h.9v.9h-.9zM112.6 386.2h.9v.9h-.9zM113.5 394.2h.9v.9h-.9zM122.4 387.2h.9v.9h-.9zM117.4 394.3h.9v.9h-.9zM111.4 383.6h.9v.9h-.9zM108.5 393.3h.9v.9h-.9zM106.3 391.0h.9v.9h-.9zM110.8 388.3h.9v.9h-.9zM113.6 383.3h.9v.9h-.9zM119.0 392.6h.9v.9h-.9zM106.5 390.3h.9v.9h-.9zM119.5 387.7h.9v.9h-.9zM110.8 385.3h.9v.9h-.9zM113.5 388.8h.9v.9h-.9zM107.6 392.4h.9v.9h-.9zM114.2 395.6h.9v.9h-.9zM116.1 385.3h.9v.9h-.9zM116.0 392.3h.9v.9h-.9zM120.7 385.7h.9v.9h-.9zM118.4 385.7h.9v.9h-.9zM112.0 386.5h.9v.9h-.9zM118.9 393.1h.9v.9h-.9zM117.4 393.7h.9v.9h-.9zM113.2 391.6h.9v.9h-.9zM112.4 395.2h.9v.9h-.9zM121.9 385.2h.9v.9h-.9zM116.8 393.7h.9v.9h-.9zM113.6 387.0h.9v.9h-.9zM109.1 393.0h.9v.9h-.9zM119.0 388.7h.9v.9h-.9zM108.8 389.2h.9v.9h-.9zM107.3 391.8h.9v.9h-.9zM124.1 390.0h.9v.9h-.9zM118.4 385.9h.9v.9h-.9zM115.7 383.7h.9v.9h-.9zM112.6 390.6h.9v.9h-.9zM116.8 395.6h.9v.9h-.9zM110.3 393.9h.9v.9h-.9zM122.8 392.3h.9v.9h-.9zM114.4 394.6h.9v.9h-.9zM113.5 394.8h.9v.9h-.9zM112.6 383.3h.9v.9h-.9zM117.3 393.4h.9v.9h-.9zM121.4 386.2h.9v.9h-.9zM117.9 390.6h.9v.9h-.9zM112.6 388.1h.9v.9h-.9zM121.2 391.4h.9v.9h-.9zM113.9 393.7h.9v.9h-.9zM107.8 389.9h.9v.9h-.9zM120.4 394.7h.9v.9h-.9zM122.9 392.2h.9v.9h-.9zM110.0 391.7h.9v.9h-.9zM110.3 387.4h.9v.9h-.9zM106.3 390.7h.9v.9h-.9zM109.7 386.6h.9v.9h-.9zM114.9 395.7h.9v.9h-.9zM112.8 386.3h.9v.9h-.9zM120.3 388.7h.9v.9h-.9zM124.2 387.3h.9v.9h-.9zM117.3 386.1h.9v.9h-.9zM121.9 387.9h.9v.9h-.9zM122.0 389.7h.9v.9h-.9zM109.6 388.4h.9v.9h-.9zM119.3 389.5h.9v.9h-.9zM116.4 393.1h.9v.9h-.9zM115.1 394.4h.9v.9h-.9zM117.4 384.6h.9v.9h-.9zM111.0 389.1h.9v.9h-.9zM110.6 390.9h.9v.9h-.9zM111.4 391.4h.9v.9h-.9zM122.4 388.6h.9v.9h-.9zM107.8 392.7h.9v.9h-.9zM108.2 386.0h.9v.9h-.9zM118.9 383.5h.9v.9h-.9zM114.5 394.7h.9v.9h-.9zM120.2 386.8h.9v.9h-.9zM117.4 388.3h.9v.9h-.9zM119.3 390.9h.9v.9h-.9zM113.2 392.1h.9v.9h-.9zM115.0 394.1h.9v.9h-.9zM111.1 387.5h.9v.9h-.9zM122.9 385.4h.9v.9h-.9zM123.5 388.5h.9v.9h-.9zM123.4 388.0h.9v.9h-.9zM121.6 387.5h.9v.9h-.9zM116.8 389.2h.9v.9h-.9zM113.7 384.2h.9v.9h-.9zM121.8 393.4h.9v.9h-.9zM109.3 393.9h.9v.9h-.9zM121.8 389.2h.9v.9h-.9zM119.3 389.2h.9v.9h-.9zM117.2 395.3h.9v.9h-.9zM116.0 385.8h.9v.9h-.9zM110.2 391.6h.9v.9h-.9zM115.2 388.2h.9v.9h-.9zM108.3 387.3h.9v.9h-.9zM115.1 387.8h.9v.9h-.9zM115.7 392.6h.9v.9h-.9zM108.3 391.6h.9v.9h-.9zM109.8 388.8h.9v.9h-.9zM107.9 392.2h.9v.9h-.9zM123.5 388.0h.9v.9h-.9zM114.9 390.9h.9v.9h-.9zM114.6 388.8h.9v.9h-.9zM115.9 391.6h.9v.9h-.9zM115.7 390.5h.9v.9h-.9zM124.1 391.8h.9v.9h-.9zM116.5 388.9h.9v.9h-.9zM121.1 385.0h.9v.9h-.9zM123.5 387.5h.9v.9h-.9zM113.6 394.8h.9v.9h-.9zM121.7 392.0h.9v.9h-.9zM116.5 387.8h.9v.9h-.9zM120.0 394.9h.9v.9h-.9zM111.6 390.3h.9v.9h-.9zM111.4 392.0h.9v.9h-.9zM124.1 390.0h.9v.9h-.9zM109.1 392.0h.9v.9h-.9zM110.8 384.0h.9v.9h-.9zM119.0 385.2h.9v.9h-.9zM110.4 393.1h.9v.9h-.9zM116.2 392.0h.9v.9h-.9zM113.2 383.3h.9v.9h-.9zM117.7 388.1h.9v.9h-.9zM114.2 384.0h.9v.9h-.9zM115.2 385.3h.9v.9h-.9zM107.1 390.1h.9v.9h-.9zM119.2 392.4h.9v.9h-.9zM121.5 392.4h.9v.9h-.9zM113.4 394.9h.9v.9h-.9zM124.3 390.7h.9v.9h-.9zM109.3 389.4h.9v.9h-.9zM120.1 391.0h.9v.9h-.9zM113.1 385.6h.9v.9h-.9zM117.0 391.3h.9v.9h-.9zM114.4 389.1h.9v.9h-.9zM109.5 387.7h.9v.9h-.9zM112.7 388.4h.9v.9h-.9zM117.3 387.2h.9v.9h-.9zM113.8 384.1h.9v.9h-.9zM120.2 385.5h.9v.9h-.9zM110.3 385.7h.9v.9h-.9zM113.0 392.1h.9v.9h-.9zM116.4 395.4h.9v.9h-.9zM109.1 388.5h.9v.9h-.9zM123.7 388.3h.9v.9h-.9zM111.8 384.7h.9v.9h-.9zM118.1 393.9h.9v.9h-.9zM117.9 394.9h.9v.9h-.9zM111.3 388.1h.9v.9h-.9zM108.3 393.6h.9v.9h-.9zM120.2 386.2h.9v.9h-.9zM114.9 392.4h.9v.9h-.9zM112.5 389.0h.9v.9h-.9zM109.1 387.8h.9v.9h-.9zM107.3 390.7h.9v.9h-.9zM109.4 393.5h.9v.9h-.9zM115.8 395.1h.9v.9h-.9zM109.4 390.4h.9v.9h-.9zM112.5 391.3h.9v.9h-.9zM114.8 390.1h.9v.9h-.9zM109.7 392.4h.9v.9h-.9zM118.2 392.8h.9v.9h-.9zM115.5 391.8h.9v.9h-.9zM124.9 389.3h.9v.9h-.9zM115.3 385.8h.9v.9h-.9zM119.7 388.8h.9v.9h-.9zM114.3 390.2h.9v.9h-.9zM119.2 389.2h.9v.9h-.9z" fill="#b020c0" fill-opacity="0.60"/>
<ellipse cx="89.0" cy="386.4" rx="4.4" ry="5.6" fill="#2c2cc0" fill-opacity="0.28" filter="url(#b10)"/>
<path d="M92.7 382.2h.9v.9h-.9zM89.3 379.8h.9v.9h-.9zM92.8 385.1h.9v.9h-.9zM87.7 381.8h.9v.9h-.9zM87.0 389.8h.9v.9h-.9zM92.3 381.5h.9v.9h-.9zM87.8 390.7h.9v.9h-.9zM85.6 386.0h.9v.9h-.9zM90.8 391.2h.9v.9h-.9zM94.5 386.9h.9v.9h-.9zM88.1 392.0h.9v.9h-.9zM84.3 386.9h.9v.9h-.9zM89.9 384.7h.9v.9h-.9zM92.4 391.7h.9v.9h-.9zM91.2 384.1h.9v.9h-.9zM87.5 384.1h.9v.9h-.9zM85.4 388.2h.9v.9h-.9zM88.6 382.1h.9v.9h-.9zM85.7 385.9h.9v.9h-.9zM88.6 388.1h.9v.9h-.9zM85.9 391.1h.9v.9h-.9zM92.0 384.7h.9v.9h-.9zM90.0 384.2h.9v.9h-.9zM86.1 381.2h.9v.9h-.9zM91.2 380.1h.9v.9h-.9zM93.1 382.8h.9v.9h-.9zM91.1 391.6h.9v.9h-.9zM89.8 380.5h.9v.9h-.9zM86.9 380.4h.9v.9h-.9zM90.9 392.8h.9v.9h-.9zM92.0 384.9h.9v.9h-.9zM86.7 391.1h.9v.9h-.9zM88.0 386.2h.9v.9h-.9zM90.7 382.8h.9v.9h-.9zM85.6 382.3h.9v.9h-.9zM92.4 385.8h.9v.9h-.9zM85.1 381.8h.9v.9h-.9zM88.0 382.8h.9v.9h-.9zM89.1 391.9h.9v.9h-.9zM86.8 382.9h.9v.9h-.9zM89.1 384.5h.9v.9h-.9zM84.3 383.4h.9v.9h-.9zM86.4 387.9h.9v.9h-.9zM88.7 381.3h.9v.9h-.9zM89.7 389.9h.9v.9h-.9zM88.6 389.1h.9v.9h-.9zM90.9 389.5h.9v.9h-.9zM92.8 385.5h.9v.9h-.9zM93.2 387.3h.9v.9h-.9zM87.9 381.4h.9v.9h-.9zM88.3 386.9h.9v.9h-.9zM88.9 382.6h.9v.9h-.9zM87.4 380.9h.9v.9h-.9zM86.5 382.1h.9v.9h-.9zM88.5 384.6h.9v.9h-.9zM83.8 388.3h.9v.9h-.9zM90.7 392.0h.9v.9h-.9zM90.7 386.9h.9v.9h-.9zM94.2 387.0h.9v.9h-.9zM86.1 381.0h.9v.9h-.9zM85.5 388.4h.9v.9h-.9zM93.3 386.3h.9v.9h-.9zM86.1 388.3h.9v.9h-.9zM92.6 388.7h.9v.9h-.9zM92.4 388.8h.9v.9h-.9zM84.9 386.7h.9v.9h-.9zM88.3 383.5h.9v.9h-.9zM91.7 388.6h.9v.9h-.9zM91.1 382.7h.9v.9h-.9zM88.4 383.0h.9v.9h-.9zM91.3 382.2h.9v.9h-.9zM87.1 381.7h.9v.9h-.9zM90.3 389.5h.9v.9h-.9zM91.0 391.4h.9v.9h-.9zM92.2 388.7h.9v.9h-.9zM93.0 383.1h.9v.9h-.9zM91.8 389.5h.9v.9h-.9zM92.5 381.2h.9v.9h-.9zM91.9 386.1h.9v.9h-.9zM84.5 383.1h.9v.9h-.9zM91.7 388.7h.9v.9h-.9zM86.4 381.9h.9v.9h-.9zM85.0 386.7h.9v.9h-.9zM90.3 386.5h.9v.9h-.9zM89.3 387.8h.9v.9h-.9zM84.3 389.3h.9v.9h-.9zM91.2 385.0h.9v.9h-.9zM88.2 391.6h.9v.9h-.9zM88.6 381.8h.9v.9h-.9zM91.1 390.9h.9v.9h-.9zM89.6 383.1h.9v.9h-.9zM90.2 382.1h.9v.9h-.9zM91.2 386.4h.9v.9h-.9zM87.0 388.5h.9v.9h-.9zM92.8 389.2h.9v.9h-.9zM84.4 389.7h.9v.9h-.9zM89.2 385.7h.9v.9h-.9zM84.4 387.6h.9v.9h-.9zM92.2 390.6h.9v.9h-.9zM88.7 392.3h.9v.9h-.9zM88.8 386.3h.9v.9h-.9zM88.7 383.9h.9v.9h-.9zM92.7 383.2h.9v.9h-.9zM89.9 386.7h.9v.9h-.9zM89.1 391.9h.9v.9h-.9zM89.3 392.4h.9v.9h-.9zM92.0 387.5h.9v.9h-.9zM92.2 390.6h.9v.9h-.9zM89.5 383.0h.9v.9h-.9zM84.5 387.9h.9v.9h-.9zM89.9 383.7h.9v.9h-.9zM90.3 391.0h.9v.9h-.9zM93.8 387.7h.9v.9h-.9zM91.1 391.5h.9v.9h-.9zM84.4 387.4h.9v.9h-.9zM87.6 391.0h.9v.9h-.9zM94.1 387.3h.9v.9h-.9zM88.5 384.6h.9v.9h-.9zM85.4 387.3h.9v.9h-.9zM85.8 385.2h.9v.9h-.9zM88.2 390.0h.9v.9h-.9zM90.8 381.0h.9v.9h-.9zM89.8 381.6h.9v.9h-.9zM92.8 384.9h.9v.9h-.9zM91.6 382.2h.9v.9h-.9zM85.1 383.8h.9v.9h-.9zM91.0 382.4h.9v.9h-.9zM93.9 387.8h.9v.9h-.9zM91.9 388.0h.9v.9h-.9zM85.7 389.9h.9v.9h-.9zM91.8 390.5h.9v.9h-.9zM88.3 379.8h.9v.9h-.9zM86.8 390.3h.9v.9h-.9zM90.3 382.2h.9v.9h-.9zM87.6 387.7h.9v.9h-.9zM89.4 384.3h.9v.9h-.9zM87.1 386.9h.9v.9h-.9zM87.6 383.4h.9v.9h-.9zM88.2 384.6h.9v.9h-.9zM91.7 384.7h.9v.9h-.9zM87.1 380.1h.9v.9h-.9zM84.7 390.3h.9v.9h-.9zM92.3 383.6h.9v.9h-.9zM86.3 381.3h.9v.9h-.9zM92.4 384.8h.9v.9h-.9zM90.2 390.1h.9v.9h-.9zM84.2 384.4h.9v.9h-.9zM91.8 387.2h.9v.9h-.9zM93.6 385.2h.9v.9h-.9zM87.9 390.3h.9v.9h-.9zM91.4 391.2h.9v.9h-.9zM93.8 383.3h.9v.9h-.9zM89.0 389.7h.9v.9h-.9zM90.0 392.7h.9v.9h-.9zM88.3 390.5h.9v.9h-.9zM93.2 389.9h.9v.9h-.9zM92.1 382.3h.9v.9h-.9zM87.6 392.0h.9v.9h-.9zM88.0 380.2h.9v.9h-.9zM89.5 392.0h.9v.9h-.9zM86.6 383.4h.9v.9h-.9zM86.4 388.1h.9v.9h-.9zM88.5 393.1h.9v.9h-.9zM94.1 388.5h.9v.9h-.9zM91.2 392.0h.9v.9h-.9zM91.1 389.4h.9v.9h-.9zM93.8 388.9h.9v.9h-.9zM94.2 388.3h.9v.9h-.9zM89.6 388.5h.9v.9h-.9zM92.8 389.7h.9v.9h-.9zM93.2 386.6h.9v.9h-.9zM85.1 381.6h.9v.9h-.9zM86.3 381.8h.9v.9h-.9zM91.0 391.3h.9v.9h-.9zM85.4 384.6h.9v.9h-.9zM89.3 390.8h.9v.9h-.9zM93.9 389.1h.9v.9h-.9zM88.8 384.7h.9v.9h-.9zM92.8 384.6h.9v.9h-.9zM89.4 383.4h.9v.9h-.9zM89.4 387.8h.9v.9h-.9zM86.2 381.8h.9v.9h-.9zM90.1 389.6h.9v.9h-.9zM85.7 385.4h.9v.9h-.9zM83.8 384.9h.9v.9h-.9zM90.2 387.1h.9v.9h-.9zM87.7 381.3h.9v.9h-.9zM90.7 390.8h.9v.9h-.9zM86.4 383.8h.9v.9h-.9z" fill="#2c2cc0" fill-opacity="0.64"/>
<ellipse cx="96.5" cy="385.4" rx="4.0" ry="2.4" fill="#2c2cc0" fill-opacity="0.12" filter="url(#b10)"/>
<path d="M92.9 387.3h.9v.9h-.9zM99.2 386.0h.9v.9h-.9zM97.1 384.5h.9v.9h-.9zM98.6 383.1h.9v.9h-.9zM97.3 386.4h.9v.9h-.9zM96.6 384.8h.9v.9h-.9zM99.2 383.3h.9v.9h-.9zM96.5 384.5h.9v.9h-.9zM97.4 384.1h.9v.9h-.9zM99.6 383.5h.9v.9h-.9zM99.7 386.2h.9v.9h-.9zM98.0 384.8h.9v.9h-.9zM93.7 387.1h.9v.9h-.9zM99.7 383.4h.9v.9h-.9zM97.2 387.0h.9v.9h-.9zM94.8 386.4h.9v.9h-.9zM96.1 382.8h.9v.9h-.9zM93.9 385.2h.9v.9h-.9zM99.5 386.7h.9v.9h-.9zM93.9 384.9h.9v.9h-.9zM94.2 387.3h.9v.9h-.9zM95.2 384.8h.9v.9h-.9zM99.3 386.2h.9v.9h-.9zM98.2 383.2h.9v.9h-.9zM95.9 382.6h.9v.9h-.9zM95.7 388.3h.9v.9h-.9zM94.7 383.5h.9v.9h-.9z" fill="#2c2cc0" fill-opacity="0.28"/>
<ellipse cx="119.5" cy="403.4" rx="2.0" ry="3.2" fill="#1fa65a" fill-opacity="0.32" filter="url(#b10)"/>
<path d="M118.8 400.5h.9v.9h-.9zM119.6 403.2h.9v.9h-.9zM118.2 405.0h.9v.9h-.9zM120.5 400.6h.9v.9h-.9zM118.9 401.4h.9v.9h-.9zM120.2 407.2h.9v.9h-.9zM121.2 403.8h.9v.9h-.9zM120.3 402.1h.9v.9h-.9zM120.0 403.4h.9v.9h-.9zM120.7 404.8h.9v.9h-.9zM120.9 405.2h.9v.9h-.9zM120.1 404.9h.9v.9h-.9zM120.8 405.4h.9v.9h-.9zM120.4 400.1h.9v.9h-.9zM120.3 403.6h.9v.9h-.9zM120.2 405.7h.9v.9h-.9zM120.1 404.0h.9v.9h-.9zM121.2 402.3h.9v.9h-.9zM118.3 402.6h.9v.9h-.9zM121.5 404.6h.9v.9h-.9zM117.8 401.5h.9v.9h-.9zM119.5 401.3h.9v.9h-.9zM121.6 401.6h.9v.9h-.9zM117.9 403.4h.9v.9h-.9zM118.1 401.2h.9v.9h-.9zM118.8 401.8h.9v.9h-.9zM120.8 406.0h.9v.9h-.9zM117.3 402.8h.9v.9h-.9zM119.4 400.0h.9v.9h-.9zM118.2 403.5h.9v.9h-.9zM122.0 403.2h.9v.9h-.9zM120.4 400.2h.9v.9h-.9zM119.9 401.4h.9v.9h-.9zM117.8 404.9h.9v.9h-.9zM118.7 405.9h.9v.9h-.9zM121.2 401.7h.9v.9h-.9zM121.3 401.0h.9v.9h-.9zM118.0 403.2h.9v.9h-.9zM121.0 400.5h.9v.9h-.9zM121.3 401.9h.9v.9h-.9zM121.0 402.6h.9v.9h-.9zM121.1 401.7h.9v.9h-.9zM119.2 401.4h.9v.9h-.9zM118.2 404.6h.9v.9h-.9zM117.9 402.8h.9v.9h-.9zM120.6 403.5h.9v.9h-.9zM120.0 401.5h.9v.9h-.9zM118.4 403.0h.9v.9h-.9zM119.8 401.3h.9v.9h-.9zM119.8 401.5h.9v.9h-.9zM118.3 401.9h.9v.9h-.9zM117.9 400.3h.9v.9h-.9zM117.5 401.3h.9v.9h-.9zM120.3 401.6h.9v.9h-.9z" fill="#1fa65a" fill-opacity="0.72"/>
<text x="75.2" y="364.6" font-size="5.8" fill="#dd2222" font-weight="bold" text-anchor="end">10</text>
<text x="47.6" y="380.3" font-size="5.8" fill="#1fa65a" font-weight="bold">6</text>
<text x="70.2" y="396.2" font-size="5.8" fill="#b020c0" font-weight="bold" text-anchor="end">1</text>
<text x="32.5" y="398.3" font-size="5.8" fill="#2c2cc0" font-weight="bold">8</text>
<text x="20.3" y="401.8" font-size="7.8" fill="#111" text-anchor="middle" transform="rotate(-90 20.3 401.8)" textLength="21.4" lengthAdjust="spacingAndGlyphs">UMAP2</text>
<path d="M17.3 390.5V380.9" stroke="#000" stroke-width="1.4"/>
<path d="M14.2,380.4 L17.3,374.3 L20.4,380.4 Z" fill="#000"/>
<text x="24.4" y="418" font-size="7.2" fill="#111" textLength="21" lengthAdjust="spacingAndGlyphs">UMAP1</text>
<path d="M47.7 416H55.7" stroke="#000" stroke-width="1.4"/>
<path d="M56.2,413.1 L62.4,416.0 L56.2,418.9 Z" fill="#000"/>
<text x="18.4" y="537.7" font-size="7.8" fill="#111" text-anchor="middle" transform="rotate(-90 18.4 537.7)" textLength="21.4" lengthAdjust="spacingAndGlyphs">UMAP2</text>
<path d="M15.6 525.6V517.1" stroke="#000" stroke-width="1.4"/>
<path d="M12.1,516.6 L15.6,510.4 L19.1,516.6 Z" fill="#000"/>
<text x="23" y="551.9" font-size="7.2" fill="#111" textLength="21" lengthAdjust="spacingAndGlyphs">UMAP1</text>
<path d="M47.7 549.8H55.7" stroke="#000" stroke-width="1.4"/>
<path d="M56.2,546.9 L61.9,549.8 L56.2,552.7 Z" fill="#000"/>
<rect x="23.5" y="436.2" width="52.2" height="52.1" fill="#fff" stroke="#cfcfcf" stroke-width="0.7"/>
<rect x="79.3" y="436.2" width="53.2" height="52.1" fill="#fff" stroke="#cfcfcf" stroke-width="0.7"/>
<rect x="23.5" y="492.4" width="52.2" height="51.7" fill="#fff" stroke="#cfcfcf" stroke-width="0.7"/>
<rect x="79.3" y="492.4" width="53.2" height="51.7" fill="#fff" stroke="#cfcfcf" stroke-width="0.7"/>
<text x="49.6" y="434.3" font-size="7.2" font-weight="bold" text-anchor="middle">non-SD</text>
<text x="105.9" y="434.3" font-size="7.2" font-weight="bold" text-anchor="middle">SD</text>
<text x="72.8" y="486.6" font-size="6.6" fill="#222" text-anchor="end">N=6</text>
<text x="129" y="486.6" font-size="6.6" fill="#222" text-anchor="end">N=9</text>
<path d="M41.10,441.20 C41.97,440.13 43.97,440.00 45.50,440.00 C47.03,440.00 49.47,440.13 50.30,441.20 C51.13,442.27 49.62,445.02 50.50,446.40 C51.38,447.78 53.98,448.35 55.60,449.50 C57.22,450.65 59.30,451.93 60.20,453.30 C61.10,454.67 60.12,456.47 61.00,457.70 C61.88,458.93 63.72,459.28 65.50,460.70 C67.28,462.12 70.87,464.45 71.70,466.20 C72.53,467.95 71.87,470.37 70.50,471.20 C69.13,472.03 65.67,471.37 63.50,471.20 C61.33,471.03 59.07,469.73 57.50,470.20 C55.93,470.67 55.68,472.73 54.10,474.00 C52.52,475.27 50.30,476.40 48.00,477.80 C45.70,479.20 42.85,482.40 40.30,482.40 C37.75,482.40 34.62,480.10 32.70,477.80 C30.78,475.50 28.83,471.53 28.80,468.60 C28.77,465.67 31.05,463.10 32.50,460.20 C33.95,457.30 36.20,453.50 37.50,451.20 C38.80,448.90 39.70,448.07 40.30,446.40 C40.90,444.73 40.23,442.27 41.10,441.20 Z" fill="#dcdcdc" filter="url(#b10)"/>
<ellipse cx="43.5" cy="466.2" rx="11.25" ry="12.5" fill="#000" fill-opacity="0.28" filter="url(#b15)"/>
<ellipse cx="53.5" cy="456.2" rx="7.5" ry="6.25" fill="#000" fill-opacity="0.28" filter="url(#b15)"/>
<ellipse cx="38.0" cy="474.0" rx="5.62" ry="8.12" fill="#000" fill-opacity="1" filter="url(#b15)"/>
<ellipse cx="36.0" cy="469.2" rx="3.75" ry="3.75" fill="#000" fill-opacity="0.66" filter="url(#b10)"/>
<ellipse cx="43.4" cy="464.8" rx="3.75" ry="3.75" fill="#000" fill-opacity="0.66" filter="url(#b10)"/>
<ellipse cx="55.6" cy="457.9" rx="4.38" ry="3.75" fill="#000" fill-opacity="0.94" filter="url(#b10)"/>
<ellipse cx="48.0" cy="444.1" rx="2.5" ry="2.5" fill="#000" fill-opacity="0.44" filter="url(#b10)"/>
<ellipse cx="45.7" cy="475.5" rx="3.75" ry="3.75" fill="#000" fill-opacity="0.61" filter="url(#b10)"/>
<ellipse cx="50.3" cy="461.7" rx="3.75" ry="3.75" fill="#000" fill-opacity="0.5" filter="url(#b10)"/>
<ellipse cx="32.0" cy="472.2" rx="3.75" ry="5.0" fill="#000" fill-opacity="0.33" filter="url(#b10)"/>
<ellipse cx="65.5" cy="465.2" rx="5.0" ry="5.0" fill="#000" fill-opacity="0.11" filter="url(#b10)"/>
<path d="M96.90,441.20 C97.77,440.13 99.77,440.00 101.30,440.00 C102.83,440.00 105.27,440.13 106.10,441.20 C106.93,442.27 105.42,445.02 106.30,446.40 C107.18,447.78 109.78,448.35 111.40,449.50 C113.02,450.65 115.10,451.93 116.00,453.30 C116.90,454.67 115.92,456.47 116.80,457.70 C117.68,458.93 119.52,459.28 121.30,460.70 C123.08,462.12 126.67,464.45 127.50,466.20 C128.33,467.95 127.67,470.37 126.30,471.20 C124.93,472.03 121.47,471.37 119.30,471.20 C117.13,471.03 114.87,469.73 113.30,470.20 C111.73,470.67 111.48,472.73 109.90,474.00 C108.32,475.27 106.10,476.40 103.80,477.80 C101.50,479.20 98.65,482.40 96.10,482.40 C93.55,482.40 90.42,480.10 88.50,477.80 C86.58,475.50 84.63,471.53 84.60,468.60 C84.57,465.67 86.85,463.10 88.30,460.20 C89.75,457.30 92.00,453.50 93.30,451.20 C94.60,448.90 95.50,448.07 96.10,446.40 C96.70,444.73 96.03,442.27 96.90,441.20 Z" fill="#dadada" filter="url(#b10)"/>
<ellipse cx="99.3" cy="466.2" rx="11.25" ry="12.5" fill="#000" fill-opacity="0.33" filter="url(#b15)"/>
<ellipse cx="109.3" cy="458.2" rx="7.5" ry="7.5" fill="#000" fill-opacity="0.33" filter="url(#b15)"/>
<ellipse cx="117.3" cy="463.2" rx="6.25" ry="5.0" fill="#000" fill-opacity="0.28" filter="url(#b15)"/>
<ellipse cx="90.2" cy="470.9" rx="6.25" ry="7.5" fill="#000" fill-opacity="1" filter="url(#b15)"/>
<ellipse cx="91.7" cy="479.3" rx="3.12" ry="3.12" fill="#000" fill-opacity="0.88" filter="url(#b10)"/>
<ellipse cx="97.8" cy="454.8" rx="3.12" ry="3.12" fill="#000" fill-opacity="0.99" filter="url(#b10)"/>
<ellipse cx="104.0" cy="477.0" rx="3.12" ry="4.38" fill="#000" fill-opacity="0.99" filter="url(#b10)"/>
<ellipse cx="124.6" cy="468.6" rx="3.12" ry="3.12" fill="#000" fill-opacity="0.94" filter="url(#b10)"/>
<ellipse cx="111.6" cy="454.8" rx="3.75" ry="2.5" fill="#000" fill-opacity="0.61" filter="url(#b10)"/>
<ellipse cx="106.3" cy="463.3" rx="2.5" ry="2.5" fill="#000" fill-opacity="0.66" filter="url(#b10)"/>
<ellipse cx="95.5" cy="465.6" rx="3.75" ry="3.75" fill="#000" fill-opacity="0.61" filter="url(#b10)"/>
<ellipse cx="101.7" cy="444.1" rx="2.5" ry="2.5" fill="#000" fill-opacity="0.44" filter="url(#b10)"/>
<ellipse cx="98.6" cy="461.0" rx="3.75" ry="3.75" fill="#000" fill-opacity="0.5" filter="url(#b10)"/>
<path d="M41.10,497.40 C41.97,496.33 43.97,496.20 45.50,496.20 C47.03,496.20 49.47,496.33 50.30,497.40 C51.13,498.47 49.62,501.22 50.50,502.60 C51.38,503.98 53.98,504.55 55.60,505.70 C57.22,506.85 59.30,508.13 60.20,509.50 C61.10,510.87 60.12,512.67 61.00,513.90 C61.88,515.13 63.72,515.48 65.50,516.90 C67.28,518.32 70.87,520.65 71.70,522.40 C72.53,524.15 71.87,526.57 70.50,527.40 C69.13,528.23 65.67,527.57 63.50,527.40 C61.33,527.23 59.07,525.93 57.50,526.40 C55.93,526.87 55.68,528.93 54.10,530.20 C52.52,531.47 50.30,532.60 48.00,534.00 C45.70,535.40 42.85,538.60 40.30,538.60 C37.75,538.60 34.62,536.30 32.70,534.00 C30.78,531.70 28.83,527.73 28.80,524.80 C28.77,521.87 31.05,519.30 32.50,516.40 C33.95,513.50 36.20,509.70 37.50,507.40 C38.80,505.10 39.70,504.27 40.30,502.60 C40.90,500.93 40.23,498.47 41.10,497.40 Z" fill="#f2f2f2" filter="url(#b06)"/>
<path d="M35.9 525.4h.8v.8h-.8zM56.0 516.5h.8v.8h-.8zM38.1 529.8h.8v.8h-.8zM63.5 517.9h.8v.8h-.8zM50.5 506.2h.8v.8h-.8zM66.3 522.3h.8v.8h-.8zM50.1 501.1h.8v.8h-.8zM35.4 530.9h.8v.8h-.8zM48.2 519.6h.8v.8h-.8zM43.5 516.8h.8v.8h-.8zM53.7 527.1h.8v.8h-.8zM34.1 516.4h.8v.8h-.8zM46.4 511.7h.8v.8h-.8zM48.2 512.6h.8v.8h-.8zM50.1 517.0h.8v.8h-.8zM52.4 527.9h.8v.8h-.8zM38.3 522.0h.8v.8h-.8zM52.7 522.6h.8v.8h-.8zM43.7 535.5h.8v.8h-.8zM43.7 521.5h.8v.8h-.8zM42.0 500.6h.8v.8h-.8zM31.6 530.7h.8v.8h-.8zM58.1 524.9h.8v.8h-.8zM70.0 521.2h.8v.8h-.8zM44.9 506.7h.8v.8h-.8zM31.8 530.3h.8v.8h-.8zM62.0 516.7h.8v.8h-.8zM39.9 508.5h.8v.8h-.8zM46.8 503.4h.8v.8h-.8zM60.8 516.5h.8v.8h-.8zM39.6 536.9h.8v.8h-.8zM51.3 527.1h.8v.8h-.8zM66.6 521.7h.8v.8h-.8zM47.1 520.8h.8v.8h-.8zM51.7 507.9h.8v.8h-.8zM53.9 507.1h.8v.8h-.8zM34.8 533.0h.8v.8h-.8zM51.9 509.9h.8v.8h-.8zM50.0 505.5h.8v.8h-.8zM45.0 526.3h.8v.8h-.8zM31.5 528.6h.8v.8h-.8zM36.3 526.4h.8v.8h-.8zM39.6 525.7h.8v.8h-.8zM42.3 498.0h.8v.8h-.8zM45.5 509.3h.8v.8h-.8zM50.4 519.5h.8v.8h-.8zM54.6 517.7h.8v.8h-.8zM42.1 525.9h.8v.8h-.8zM51.4 520.0h.8v.8h-.8zM31.5 530.7h.8v.8h-.8zM31.9 530.7h.8v.8h-.8zM61.4 515.2h.8v.8h-.8zM56.5 515.0h.8v.8h-.8zM51.0 512.7h.8v.8h-.8zM46.0 505.8h.8v.8h-.8zM39.4 526.1h.8v.8h-.8zM63.9 526.9h.8v.8h-.8zM48.4 506.2h.8v.8h-.8zM45.3 516.8h.8v.8h-.8zM32.5 516.5h.8v.8h-.8zM49.9 526.6h.8v.8h-.8zM55.7 528.4h.8v.8h-.8zM58.8 525.2h.8v.8h-.8zM39.3 535.1h.8v.8h-.8zM45.4 522.3h.8v.8h-.8zM42.2 509.4h.8v.8h-.8zM45.6 502.4h.8v.8h-.8zM41.8 536.2h.8v.8h-.8zM60.6 515.8h.8v.8h-.8zM43.2 523.4h.8v.8h-.8zM39.7 532.0h.8v.8h-.8zM35.4 525.1h.8v.8h-.8zM37.4 521.6h.8v.8h-.8zM40.7 512.3h.8v.8h-.8zM47.5 522.4h.8v.8h-.8zM40.8 503.6h.8v.8h-.8zM45.3 507.7h.8v.8h-.8zM68.9 526.1h.8v.8h-.8zM30.5 522.0h.8v.8h-.8zM44.7 501.9h.8v.8h-.8zM36.8 513.3h.8v.8h-.8zM52.5 505.7h.8v.8h-.8zM63.8 521.9h.8v.8h-.8zM55.4 516.2h.8v.8h-.8zM40.4 511.2h.8v.8h-.8zM41.6 522.8h.8v.8h-.8zM58.0 523.9h.8v.8h-.8zM46.3 525.5h.8v.8h-.8zM60.0 518.4h.8v.8h-.8zM32.2 531.3h.8v.8h-.8zM43.9 518.8h.8v.8h-.8zM59.2 517.1h.8v.8h-.8zM35.8 532.3h.8v.8h-.8zM43.9 522.2h.8v.8h-.8zM54.8 528.2h.8v.8h-.8zM36.4 519.1h.8v.8h-.8zM46.9 520.8h.8v.8h-.8zM29.9 524.4h.8v.8h-.8zM47.0 523.4h.8v.8h-.8zM56.7 506.9h.8v.8h-.8zM47.3 512.2h.8v.8h-.8zM49.8 507.5h.8v.8h-.8zM51.9 515.7h.8v.8h-.8zM54.0 530.2h.8v.8h-.8zM45.7 496.4h.8v.8h-.8zM57.3 520.9h.8v.8h-.8zM49.5 498.5h.8v.8h-.8zM44.7 531.2h.8v.8h-.8zM50.2 515.8h.8v.8h-.8zM45.5 522.8h.8v.8h-.8zM54.5 525.6h.8v.8h-.8zM44.9 506.8h.8v.8h-.8zM58.1 508.7h.8v.8h-.8zM50.1 526.4h.8v.8h-.8zM38.1 525.3h.8v.8h-.8zM43.2 523.7h.8v.8h-.8zM44.6 504.4h.8v.8h-.8zM58.7 513.7h.8v.8h-.8zM34.1 533.5h.8v.8h-.8zM59.9 521.4h.8v.8h-.8zM47.8 517.4h.8v.8h-.8zM56.1 523.2h.8v.8h-.8zM44.5 510.9h.8v.8h-.8zM61.2 523.2h.8v.8h-.8zM48.4 518.0h.8v.8h-.8zM38.4 529.7h.8v.8h-.8zM29.7 523.5h.8v.8h-.8zM48.3 505.6h.8v.8h-.8zM54.0 520.9h.8v.8h-.8zM32.5 517.0h.8v.8h-.8zM35.9 530.1h.8v.8h-.8zM42.8 510.1h.8v.8h-.8zM46.2 528.5h.8v.8h-.8zM37.5 525.9h.8v.8h-.8zM39.2 521.6h.8v.8h-.8zM51.1 524.3h.8v.8h-.8zM42.4 534.9h.8v.8h-.8zM44.1 529.5h.8v.8h-.8zM59.7 518.7h.8v.8h-.8zM35.8 510.7h.8v.8h-.8zM57.3 524.0h.8v.8h-.8zM45.5 530.2h.8v.8h-.8zM33.6 524.3h.8v.8h-.8zM47.8 506.0h.8v.8h-.8zM44.9 532.9h.8v.8h-.8zM47.0 525.5h.8v.8h-.8zM55.7 516.3h.8v.8h-.8zM52.7 511.6h.8v.8h-.8zM37.3 517.2h.8v.8h-.8zM41.9 510.2h.8v.8h-.8z" fill="#c8c8c8" fill-opacity="0.6"/>
<ellipse cx="54.5" cy="510.4" rx="5.0" ry="6.0" fill="#f08c1e" fill-opacity="0.21" filter="url(#b10)"/>
<path d="M54.5 507.0h.9v.9h-.9zM55.8 516.0h.9v.9h-.9zM59.6 512.7h.9v.9h-.9zM54.6 508.9h.9v.9h-.9zM52.7 505.5h.9v.9h-.9zM50.5 504.9h.9v.9h-.9zM58.5 510.0h.9v.9h-.9zM57.6 504.9h.9v.9h-.9zM55.5 510.2h.9v.9h-.9zM57.2 509.1h.9v.9h-.9zM57.8 514.6h.9v.9h-.9zM57.7 504.2h.9v.9h-.9zM50.8 515.5h.9v.9h-.9zM60.5 511.8h.9v.9h-.9zM53.3 515.7h.9v.9h-.9zM55.4 511.5h.9v.9h-.9zM59.3 510.7h.9v.9h-.9zM49.3 507.9h.9v.9h-.9zM56.9 506.5h.9v.9h-.9zM56.1 507.6h.9v.9h-.9zM56.8 507.8h.9v.9h-.9zM58.1 508.7h.9v.9h-.9zM50.5 512.8h.9v.9h-.9zM56.1 511.1h.9v.9h-.9zM49.5 508.6h.9v.9h-.9zM58.3 511.7h.9v.9h-.9zM50.7 515.2h.9v.9h-.9zM56.4 510.3h.9v.9h-.9zM52.6 509.7h.9v.9h-.9zM55.8 503.3h.9v.9h-.9zM53.2 504.9h.9v.9h-.9zM56.4 511.0h.9v.9h-.9zM54.6 512.5h.9v.9h-.9zM58.6 515.9h.9v.9h-.9zM51.1 516.2h.9v.9h-.9zM54.9 503.8h.9v.9h-.9zM58.9 507.1h.9v.9h-.9zM52.1 514.6h.9v.9h-.9zM53.6 511.3h.9v.9h-.9zM59.0 511.9h.9v.9h-.9zM48.4 509.3h.9v.9h-.9zM50.4 505.7h.9v.9h-.9zM49.8 511.2h.9v.9h-.9zM55.0 509.1h.9v.9h-.9zM58.5 511.0h.9v.9h-.9zM53.4 515.1h.9v.9h-.9zM56.8 511.6h.9v.9h-.9zM58.4 513.8h.9v.9h-.9zM55.4 510.6h.9v.9h-.9zM52.8 506.0h.9v.9h-.9zM60.5 511.4h.9v.9h-.9zM48.5 510.8h.9v.9h-.9zM51.8 505.9h.9v.9h-.9zM52.9 511.9h.9v.9h-.9zM58.5 509.3h.9v.9h-.9zM53.7 513.1h.9v.9h-.9zM49.4 506.2h.9v.9h-.9zM50.0 514.3h.9v.9h-.9zM53.1 505.3h.9v.9h-.9zM51.5 505.1h.9v.9h-.9zM55.7 509.7h.9v.9h-.9zM56.4 513.3h.9v.9h-.9zM57.5 512.0h.9v.9h-.9zM51.8 511.8h.9v.9h-.9zM54.0 510.4h.9v.9h-.9zM59.0 507.1h.9v.9h-.9zM56.8 512.5h.9v.9h-.9zM54.6 507.6h.9v.9h-.9zM54.4 508.9h.9v.9h-.9zM50.8 506.1h.9v.9h-.9zM49.2 508.7h.9v.9h-.9zM60.2 507.6h.9v.9h-.9zM58.6 512.1h.9v.9h-.9zM58.5 514.7h.9v.9h-.9zM55.2 513.4h.9v.9h-.9zM55.2 510.7h.9v.9h-.9zM54.3 513.7h.9v.9h-.9zM48.9 509.4h.9v.9h-.9zM53.9 506.2h.9v.9h-.9zM54.3 517.0h.9v.9h-.9zM53.7 516.4h.9v.9h-.9zM59.1 509.3h.9v.9h-.9zM53.1 510.7h.9v.9h-.9zM54.1 517.7h.9v.9h-.9zM55.9 511.0h.9v.9h-.9zM51.8 507.9h.9v.9h-.9zM52.1 508.3h.9v.9h-.9zM55.1 514.1h.9v.9h-.9zM53.4 504.3h.9v.9h-.9zM59.6 511.5h.9v.9h-.9zM54.8 505.3h.9v.9h-.9zM55.1 510.9h.9v.9h-.9zM56.4 510.1h.9v.9h-.9zM56.0 510.4h.9v.9h-.9zM59.7 506.3h.9v.9h-.9zM54.9 503.1h.9v.9h-.9zM55.1 508.5h.9v.9h-.9zM50.9 514.5h.9v.9h-.9zM52.5 504.3h.9v.9h-.9zM53.7 508.0h.9v.9h-.9zM49.7 514.8h.9v.9h-.9zM52.8 507.8h.9v.9h-.9zM49.2 514.0h.9v.9h-.9zM54.4 512.8h.9v.9h-.9zM56.4 504.8h.9v.9h-.9zM51.6 514.2h.9v.9h-.9zM54.0 516.6h.9v.9h-.9zM53.1 515.7h.9v.9h-.9zM58.9 507.6h.9v.9h-.9zM53.1 512.6h.9v.9h-.9zM53.1 510.4h.9v.9h-.9zM55.1 505.3h.9v.9h-.9zM51.3 511.7h.9v.9h-.9zM53.3 505.6h.9v.9h-.9zM51.9 511.6h.9v.9h-.9zM56.0 511.4h.9v.9h-.9zM55.1 516.8h.9v.9h-.9zM53.1 507.6h.9v.9h-.9zM57.7 511.2h.9v.9h-.9zM53.2 507.0h.9v.9h-.9zM52.4 511.0h.9v.9h-.9zM55.6 504.9h.9v.9h-.9zM48.8 513.1h.9v.9h-.9zM51.3 510.2h.9v.9h-.9zM52.1 503.7h.9v.9h-.9zM50.3 505.3h.9v.9h-.9zM51.3 509.1h.9v.9h-.9zM53.5 508.9h.9v.9h-.9zM58.9 509.9h.9v.9h-.9zM57.8 511.2h.9v.9h-.9zM50.4 505.5h.9v.9h-.9zM57.8 508.2h.9v.9h-.9zM58.0 507.1h.9v.9h-.9zM49.3 507.3h.9v.9h-.9zM53.5 504.9h.9v.9h-.9zM58.1 510.8h.9v.9h-.9zM54.4 505.6h.9v.9h-.9zM60.2 511.6h.9v.9h-.9zM51.0 515.3h.9v.9h-.9zM52.3 514.1h.9v.9h-.9zM50.8 507.5h.9v.9h-.9zM58.7 507.8h.9v.9h-.9zM51.7 514.8h.9v.9h-.9zM54.6 504.0h.9v.9h-.9zM59.0 510.9h.9v.9h-.9zM57.8 507.2h.9v.9h-.9zM55.8 512.8h.9v.9h-.9zM49.1 508.9h.9v.9h-.9zM54.9 505.7h.9v.9h-.9zM57.8 511.8h.9v.9h-.9zM50.8 507.5h.9v.9h-.9zM52.3 512.4h.9v.9h-.9zM52.1 511.3h.9v.9h-.9zM52.9 508.2h.9v.9h-.9zM58.0 516.3h.9v.9h-.9zM58.2 511.1h.9v.9h-.9zM52.5 510.5h.9v.9h-.9zM50.7 515.8h.9v.9h-.9zM54.9 506.1h.9v.9h-.9zM52.0 512.9h.9v.9h-.9zM56.3 506.8h.9v.9h-.9zM54.7 503.0h.9v.9h-.9zM53.4 516.2h.9v.9h-.9zM56.2 505.3h.9v.9h-.9zM57.5 508.7h.9v.9h-.9zM50.9 511.2h.9v.9h-.9zM53.0 517.5h.9v.9h-.9zM57.9 512.1h.9v.9h-.9zM57.7 510.0h.9v.9h-.9zM51.7 504.2h.9v.9h-.9zM54.8 513.8h.9v.9h-.9zM53.8 508.7h.9v.9h-.9zM50.0 505.9h.9v.9h-.9zM59.4 506.4h.9v.9h-.9zM48.9 511.2h.9v.9h-.9zM59.5 508.9h.9v.9h-.9zM54.4 516.9h.9v.9h-.9zM50.5 510.0h.9v.9h-.9zM57.4 516.2h.9v.9h-.9zM53.9 509.1h.9v.9h-.9zM54.9 511.8h.9v.9h-.9zM49.4 508.6h.9v.9h-.9zM53.0 513.1h.9v.9h-.9zM50.8 514.1h.9v.9h-.9zM56.2 511.0h.9v.9h-.9zM51.4 504.3h.9v.9h-.9zM53.0 509.5h.9v.9h-.9zM51.3 510.1h.9v.9h-.9zM51.4 509.4h.9v.9h-.9z" fill="#f08c1e" fill-opacity="0.48"/>
<ellipse cx="65.7" cy="520.4" rx="4.0" ry="5.2" fill="#2c2cc0" fill-opacity="0.14" filter="url(#b10)"/>
<path d="M65.5 526.8h.9v.9h-.9zM63.6 523.7h.9v.9h-.9zM69.0 520.3h.9v.9h-.9zM64.4 523.3h.9v.9h-.9zM68.2 525.4h.9v.9h-.9zM69.3 518.6h.9v.9h-.9zM64.5 518.9h.9v.9h-.9zM68.5 522.0h.9v.9h-.9zM69.6 522.4h.9v.9h-.9zM64.6 514.6h.9v.9h-.9zM63.1 523.5h.9v.9h-.9zM68.7 521.9h.9v.9h-.9zM67.7 518.7h.9v.9h-.9zM62.5 518.0h.9v.9h-.9zM66.0 523.9h.9v.9h-.9zM69.4 523.9h.9v.9h-.9zM68.9 516.1h.9v.9h-.9zM66.3 519.8h.9v.9h-.9zM67.9 522.5h.9v.9h-.9zM68.2 524.7h.9v.9h-.9zM63.4 518.2h.9v.9h-.9zM66.3 520.4h.9v.9h-.9zM66.2 523.1h.9v.9h-.9zM68.3 521.5h.9v.9h-.9zM63.3 514.8h.9v.9h-.9zM63.4 519.5h.9v.9h-.9zM62.0 519.8h.9v.9h-.9zM67.4 525.3h.9v.9h-.9zM68.7 516.7h.9v.9h-.9zM68.6 523.5h.9v.9h-.9zM69.9 519.3h.9v.9h-.9zM64.3 523.1h.9v.9h-.9zM66.3 517.0h.9v.9h-.9zM70.5 519.2h.9v.9h-.9zM64.0 519.2h.9v.9h-.9zM62.9 517.4h.9v.9h-.9zM66.9 520.5h.9v.9h-.9zM62.4 521.2h.9v.9h-.9zM68.7 524.5h.9v.9h-.9zM64.1 517.8h.9v.9h-.9zM66.4 515.5h.9v.9h-.9zM63.1 524.4h.9v.9h-.9zM66.5 521.4h.9v.9h-.9zM64.2 516.2h.9v.9h-.9zM63.5 523.6h.9v.9h-.9zM64.6 518.5h.9v.9h-.9zM64.5 518.5h.9v.9h-.9zM68.0 518.9h.9v.9h-.9zM62.8 517.0h.9v.9h-.9zM67.3 521.7h.9v.9h-.9zM70.1 517.6h.9v.9h-.9zM68.5 515.5h.9v.9h-.9zM68.3 518.7h.9v.9h-.9zM66.3 523.0h.9v.9h-.9z" fill="#2c2cc0" fill-opacity="0.32"/>
<ellipse cx="39.0" cy="531.6" rx="5.0" ry="5.4" fill="#ee3b3b" fill-opacity="0.26" filter="url(#b10)"/>
<path d="M37.7 533.7h.9v.9h-.9zM34.9 535.3h.9v.9h-.9zM37.4 531.5h.9v.9h-.9zM40.9 528.7h.9v.9h-.9zM40.3 530.4h.9v.9h-.9zM42.3 531.9h.9v.9h-.9zM35.2 526.6h.9v.9h-.9zM33.6 530.1h.9v.9h-.9zM42.4 532.6h.9v.9h-.9zM36.2 532.7h.9v.9h-.9zM40.3 532.0h.9v.9h-.9zM40.1 534.3h.9v.9h-.9zM38.5 532.4h.9v.9h-.9zM34.2 528.3h.9v.9h-.9zM37.5 528.4h.9v.9h-.9zM33.2 531.9h.9v.9h-.9zM37.4 536.4h.9v.9h-.9zM36.4 534.0h.9v.9h-.9zM34.2 535.0h.9v.9h-.9zM39.5 529.6h.9v.9h-.9zM36.9 526.1h.9v.9h-.9zM37.3 530.0h.9v.9h-.9zM42.1 529.2h.9v.9h-.9zM34.0 532.4h.9v.9h-.9zM39.1 533.3h.9v.9h-.9zM43.8 530.2h.9v.9h-.9zM39.8 532.3h.9v.9h-.9zM38.9 530.1h.9v.9h-.9zM43.2 531.0h.9v.9h-.9zM38.2 526.3h.9v.9h-.9zM42.8 530.1h.9v.9h-.9zM42.3 528.6h.9v.9h-.9zM36.6 535.5h.9v.9h-.9zM38.7 535.2h.9v.9h-.9zM37.1 525.7h.9v.9h-.9zM42.1 535.3h.9v.9h-.9zM37.0 527.0h.9v.9h-.9zM38.5 525.9h.9v.9h-.9zM37.5 531.8h.9v.9h-.9zM39.7 528.5h.9v.9h-.9zM43.3 535.9h.9v.9h-.9zM42.0 528.7h.9v.9h-.9zM35.3 531.9h.9v.9h-.9zM39.8 526.9h.9v.9h-.9zM44.3 528.8h.9v.9h-.9zM39.4 537.2h.9v.9h-.9zM34.6 530.3h.9v.9h-.9zM39.9 532.8h.9v.9h-.9zM41.1 535.6h.9v.9h-.9zM33.2 530.3h.9v.9h-.9zM38.0 529.0h.9v.9h-.9zM34.1 535.6h.9v.9h-.9zM40.9 533.9h.9v.9h-.9zM34.2 535.4h.9v.9h-.9zM37.4 537.5h.9v.9h-.9zM38.4 530.5h.9v.9h-.9zM43.1 535.4h.9v.9h-.9zM36.2 530.5h.9v.9h-.9zM34.3 533.2h.9v.9h-.9zM40.7 537.8h.9v.9h-.9zM36.7 531.6h.9v.9h-.9zM39.1 533.4h.9v.9h-.9zM35.9 534.7h.9v.9h-.9zM33.6 532.4h.9v.9h-.9zM37.9 533.3h.9v.9h-.9zM32.7 530.8h.9v.9h-.9zM41.9 535.6h.9v.9h-.9zM32.8 532.0h.9v.9h-.9zM42.3 537.2h.9v.9h-.9zM38.6 532.2h.9v.9h-.9zM36.6 528.3h.9v.9h-.9zM43.6 527.4h.9v.9h-.9zM40.7 525.5h.9v.9h-.9zM35.6 532.9h.9v.9h-.9zM34.4 535.3h.9v.9h-.9zM42.5 534.0h.9v.9h-.9zM35.1 535.2h.9v.9h-.9zM42.6 530.7h.9v.9h-.9zM36.2 529.4h.9v.9h-.9zM38.9 527.8h.9v.9h-.9zM33.5 532.1h.9v.9h-.9zM40.2 535.4h.9v.9h-.9zM41.2 526.4h.9v.9h-.9zM44.5 529.8h.9v.9h-.9zM34.2 532.9h.9v.9h-.9zM35.4 529.7h.9v.9h-.9zM35.8 526.3h.9v.9h-.9zM34.4 533.6h.9v.9h-.9zM38.1 535.5h.9v.9h-.9zM41.6 532.2h.9v.9h-.9zM41.4 527.0h.9v.9h-.9zM41.4 530.0h.9v.9h-.9zM42.0 527.3h.9v.9h-.9zM38.2 528.6h.9v.9h-.9zM41.4 528.5h.9v.9h-.9zM41.6 530.6h.9v.9h-.9zM41.2 528.9h.9v.9h-.9zM38.0 532.1h.9v.9h-.9zM42.0 529.5h.9v.9h-.9zM42.6 529.1h.9v.9h-.9zM37.2 529.7h.9v.9h-.9zM43.6 531.8h.9v.9h-.9zM35.1 529.8h.9v.9h-.9zM43.9 534.8h.9v.9h-.9zM43.4 536.0h.9v.9h-.9zM36.4 532.6h.9v.9h-.9zM44.2 530.7h.9v.9h-.9zM38.0 525.9h.9v.9h-.9zM34.2 533.4h.9v.9h-.9zM36.5 534.8h.9v.9h-.9zM40.8 536.9h.9v.9h-.9zM41.0 532.6h.9v.9h-.9zM44.8 531.5h.9v.9h-.9zM38.7 528.3h.9v.9h-.9zM43.2 530.6h.9v.9h-.9zM40.0 527.5h.9v.9h-.9zM41.5 531.5h.9v.9h-.9zM39.0 530.4h.9v.9h-.9zM41.6 526.9h.9v.9h-.9zM39.2 529.2h.9v.9h-.9zM42.3 530.1h.9v.9h-.9zM42.4 533.3h.9v.9h-.9zM35.0 528.3h.9v.9h-.9zM44.3 532.8h.9v.9h-.9zM42.2 528.0h.9v.9h-.9zM44.0 532.2h.9v.9h-.9zM35.1 530.5h.9v.9h-.9zM42.2 526.1h.9v.9h-.9zM39.7 534.5h.9v.9h-.9zM33.5 532.6h.9v.9h-.9zM38.2 531.5h.9v.9h-.9zM38.5 525.0h.9v.9h-.9zM43.8 527.9h.9v.9h-.9zM42.1 532.1h.9v.9h-.9zM38.1 537.3h.9v.9h-.9zM41.6 534.5h.9v.9h-.9zM39.7 534.2h.9v.9h-.9zM42.5 526.5h.9v.9h-.9zM40.2 533.7h.9v.9h-.9zM37.5 536.4h.9v.9h-.9zM35.7 535.1h.9v.9h-.9zM42.4 530.8h.9v.9h-.9zM36.8 525.5h.9v.9h-.9zM41.4 534.4h.9v.9h-.9zM39.2 527.0h.9v.9h-.9zM39.3 533.9h.9v.9h-.9zM39.7 528.3h.9v.9h-.9zM36.3 527.7h.9v.9h-.9zM39.7 529.4h.9v.9h-.9zM38.5 528.4h.9v.9h-.9zM41.1 529.1h.9v.9h-.9zM35.3 528.7h.9v.9h-.9zM42.1 535.2h.9v.9h-.9zM33.3 529.1h.9v.9h-.9zM36.7 530.4h.9v.9h-.9zM37.5 531.4h.9v.9h-.9zM38.2 526.1h.9v.9h-.9zM38.9 530.6h.9v.9h-.9zM39.9 535.7h.9v.9h-.9zM39.8 531.2h.9v.9h-.9zM36.3 528.7h.9v.9h-.9zM39.6 527.2h.9v.9h-.9zM43.7 530.8h.9v.9h-.9zM42.5 533.4h.9v.9h-.9zM34.7 531.6h.9v.9h-.9zM36.5 532.2h.9v.9h-.9zM36.8 530.0h.9v.9h-.9zM36.9 532.0h.9v.9h-.9zM36.9 532.6h.9v.9h-.9zM41.3 537.6h.9v.9h-.9zM33.7 531.2h.9v.9h-.9zM42.2 529.0h.9v.9h-.9zM35.3 526.4h.9v.9h-.9zM34.8 536.5h.9v.9h-.9zM32.9 531.6h.9v.9h-.9zM39.9 537.6h.9v.9h-.9zM35.0 533.3h.9v.9h-.9zM34.4 530.4h.9v.9h-.9zM43.4 530.5h.9v.9h-.9zM39.2 537.6h.9v.9h-.9zM42.1 527.5h.9v.9h-.9zM38.5 537.8h.9v.9h-.9zM36.2 530.2h.9v.9h-.9zM43.6 530.3h.9v.9h-.9zM41.4 531.7h.9v.9h-.9zM38.1 537.4h.9v.9h-.9zM33.6 533.3h.9v.9h-.9zM36.5 532.3h.9v.9h-.9zM44.0 530.7h.9v.9h-.9zM41.2 527.8h.9v.9h-.9zM40.6 534.9h.9v.9h-.9zM41.5 535.9h.9v.9h-.9zM41.5 534.3h.9v.9h-.9zM41.9 530.1h.9v.9h-.9zM43.4 535.7h.9v.9h-.9zM41.1 532.8h.9v.9h-.9zM34.1 529.3h.9v.9h-.9zM39.4 526.6h.9v.9h-.9zM38.1 529.1h.9v.9h-.9zM41.1 530.6h.9v.9h-.9zM38.0 535.7h.9v.9h-.9zM33.0 530.3h.9v.9h-.9zM35.5 536.2h.9v.9h-.9zM39.9 526.3h.9v.9h-.9zM33.0 531.5h.9v.9h-.9zM40.2 536.2h.9v.9h-.9zM41.2 527.2h.9v.9h-.9zM40.4 534.2h.9v.9h-.9zM34.0 529.3h.9v.9h-.9zM41.6 532.3h.9v.9h-.9zM42.1 533.5h.9v.9h-.9zM40.0 525.1h.9v.9h-.9zM42.2 529.8h.9v.9h-.9zM37.7 531.3h.9v.9h-.9zM39.9 527.8h.9v.9h-.9zM36.7 525.4h.9v.9h-.9zM42.5 526.2h.9v.9h-.9zM37.2 529.1h.9v.9h-.9zM39.2 534.2h.9v.9h-.9zM35.1 536.6h.9v.9h-.9zM34.8 527.0h.9v.9h-.9zM36.1 531.8h.9v.9h-.9zM38.9 533.5h.9v.9h-.9zM37.5 535.9h.9v.9h-.9zM43.3 535.7h.9v.9h-.9zM43.4 532.2h.9v.9h-.9zM42.3 535.9h.9v.9h-.9zM41.7 533.3h.9v.9h-.9zM41.7 529.7h.9v.9h-.9zM40.2 527.6h.9v.9h-.9zM36.9 534.0h.9v.9h-.9zM35.3 536.1h.9v.9h-.9zM39.7 535.5h.9v.9h-.9zM43.8 536.0h.9v.9h-.9z" fill="#ee3b3b" fill-opacity="0.60"/>
<path d="M96.90,497.40 C97.77,496.33 99.77,496.20 101.30,496.20 C102.83,496.20 105.27,496.33 106.10,497.40 C106.93,498.47 105.42,501.22 106.30,502.60 C107.18,503.98 109.78,504.55 111.40,505.70 C113.02,506.85 115.10,508.13 116.00,509.50 C116.90,510.87 115.92,512.67 116.80,513.90 C117.68,515.13 119.52,515.48 121.30,516.90 C123.08,518.32 126.67,520.65 127.50,522.40 C128.33,524.15 127.67,526.57 126.30,527.40 C124.93,528.23 121.47,527.57 119.30,527.40 C117.13,527.23 114.87,525.93 113.30,526.40 C111.73,526.87 111.48,528.93 109.90,530.20 C108.32,531.47 106.10,532.60 103.80,534.00 C101.50,535.40 98.65,538.60 96.10,538.60 C93.55,538.60 90.42,536.30 88.50,534.00 C86.58,531.70 84.63,527.73 84.60,524.80 C84.57,521.87 86.85,519.30 88.30,516.40 C89.75,513.50 92.00,509.70 93.30,507.40 C94.60,505.10 95.50,504.27 96.10,502.60 C96.70,500.93 96.03,498.47 96.90,497.40 Z" fill="#f2f2f2" filter="url(#b06)"/>
<path d="M112.5 510.9h.8v.8h-.8zM122.4 521.2h.8v.8h-.8zM97.9 504.3h.8v.8h-.8zM121.1 520.9h.8v.8h-.8zM114.6 522.2h.8v.8h-.8zM95.7 536.8h.8v.8h-.8zM98.0 529.3h.8v.8h-.8zM125.6 523.8h.8v.8h-.8zM90.7 531.2h.8v.8h-.8zM106.3 518.1h.8v.8h-.8zM102.2 524.2h.8v.8h-.8zM100.6 520.9h.8v.8h-.8zM97.4 521.5h.8v.8h-.8zM107.9 514.6h.8v.8h-.8zM113.5 518.6h.8v.8h-.8zM99.9 514.5h.8v.8h-.8zM101.8 500.3h.8v.8h-.8zM108.1 511.0h.8v.8h-.8zM98.7 511.3h.8v.8h-.8zM107.6 529.9h.8v.8h-.8zM102.2 531.3h.8v.8h-.8zM120.9 517.3h.8v.8h-.8zM107.1 521.0h.8v.8h-.8zM104.9 527.0h.8v.8h-.8zM112.2 511.2h.8v.8h-.8zM111.8 510.6h.8v.8h-.8zM92.0 525.5h.8v.8h-.8zM103.2 507.6h.8v.8h-.8zM99.7 501.2h.8v.8h-.8zM93.9 507.0h.8v.8h-.8zM96.5 500.3h.8v.8h-.8zM104.8 505.0h.8v.8h-.8zM99.4 527.4h.8v.8h-.8zM93.3 517.0h.8v.8h-.8zM101.0 528.0h.8v.8h-.8zM115.4 515.9h.8v.8h-.8zM95.3 506.0h.8v.8h-.8zM122.8 523.6h.8v.8h-.8zM105.5 497.5h.8v.8h-.8zM99.3 532.8h.8v.8h-.8zM100.9 523.3h.8v.8h-.8zM92.1 530.2h.8v.8h-.8zM122.9 519.6h.8v.8h-.8zM100.1 532.2h.8v.8h-.8zM106.6 504.2h.8v.8h-.8zM96.5 502.9h.8v.8h-.8zM120.6 517.8h.8v.8h-.8zM102.0 533.3h.8v.8h-.8zM100.9 506.2h.8v.8h-.8zM91.2 519.8h.8v.8h-.8zM121.7 521.6h.8v.8h-.8zM107.2 528.8h.8v.8h-.8zM111.3 527.6h.8v.8h-.8zM125.0 527.0h.8v.8h-.8zM112.6 509.8h.8v.8h-.8zM96.7 506.3h.8v.8h-.8zM98.2 500.6h.8v.8h-.8zM103.7 510.3h.8v.8h-.8zM92.1 516.4h.8v.8h-.8zM102.4 511.2h.8v.8h-.8zM106.7 505.4h.8v.8h-.8zM97.9 502.1h.8v.8h-.8zM105.2 530.2h.8v.8h-.8zM99.2 512.3h.8v.8h-.8zM123.8 520.9h.8v.8h-.8zM104.3 522.9h.8v.8h-.8zM86.7 525.3h.8v.8h-.8zM119.3 524.6h.8v.8h-.8zM100.1 508.3h.8v.8h-.8zM91.2 515.4h.8v.8h-.8zM104.9 523.2h.8v.8h-.8zM124.1 521.0h.8v.8h-.8zM97.6 506.3h.8v.8h-.8zM99.1 513.1h.8v.8h-.8zM95.8 533.0h.8v.8h-.8zM107.3 525.1h.8v.8h-.8zM109.2 521.7h.8v.8h-.8zM94.9 519.7h.8v.8h-.8zM99.8 530.0h.8v.8h-.8zM109.5 505.9h.8v.8h-.8zM102.4 501.6h.8v.8h-.8zM110.6 509.3h.8v.8h-.8zM113.8 526.5h.8v.8h-.8zM100.6 523.7h.8v.8h-.8zM103.5 530.5h.8v.8h-.8zM106.4 503.0h.8v.8h-.8zM105.0 503.6h.8v.8h-.8zM88.2 517.5h.8v.8h-.8zM95.5 515.0h.8v.8h-.8zM103.9 525.8h.8v.8h-.8zM109.4 505.9h.8v.8h-.8zM92.3 532.6h.8v.8h-.8zM87.6 531.2h.8v.8h-.8zM111.5 510.4h.8v.8h-.8zM103.1 527.3h.8v.8h-.8zM94.5 530.2h.8v.8h-.8zM102.1 498.0h.8v.8h-.8zM99.3 520.0h.8v.8h-.8zM90.9 534.6h.8v.8h-.8zM123.4 525.5h.8v.8h-.8zM104.0 512.5h.8v.8h-.8zM87.8 522.5h.8v.8h-.8zM97.0 522.2h.8v.8h-.8zM96.7 523.4h.8v.8h-.8zM98.1 531.5h.8v.8h-.8zM104.1 503.2h.8v.8h-.8zM95.8 528.3h.8v.8h-.8zM118.7 523.0h.8v.8h-.8zM97.8 524.4h.8v.8h-.8zM116.0 511.8h.8v.8h-.8zM101.4 499.4h.8v.8h-.8zM119.3 518.5h.8v.8h-.8zM97.9 532.6h.8v.8h-.8zM99.6 500.9h.8v.8h-.8zM94.4 511.1h.8v.8h-.8zM102.4 502.6h.8v.8h-.8zM103.0 528.7h.8v.8h-.8zM99.4 507.1h.8v.8h-.8zM94.7 527.4h.8v.8h-.8zM99.8 526.2h.8v.8h-.8zM97.7 512.8h.8v.8h-.8zM95.5 536.9h.8v.8h-.8zM102.5 528.8h.8v.8h-.8zM105.5 515.9h.8v.8h-.8zM106.6 506.4h.8v.8h-.8zM98.4 498.1h.8v.8h-.8zM107.8 506.2h.8v.8h-.8zM108.4 517.6h.8v.8h-.8zM110.2 524.9h.8v.8h-.8zM114.2 517.7h.8v.8h-.8zM97.7 530.1h.8v.8h-.8zM100.8 500.6h.8v.8h-.8zM102.7 531.6h.8v.8h-.8zM101.3 506.7h.8v.8h-.8zM97.3 521.6h.8v.8h-.8zM98.6 507.5h.8v.8h-.8zM100.2 501.4h.8v.8h-.8zM96.3 528.7h.8v.8h-.8zM87.7 527.6h.8v.8h-.8zM102.3 527.7h.8v.8h-.8zM103.1 500.0h.8v.8h-.8zM100.7 530.9h.8v.8h-.8zM105.5 518.4h.8v.8h-.8zM99.8 516.7h.8v.8h-.8zM105.8 525.2h.8v.8h-.8zM108.0 525.2h.8v.8h-.8zM110.2 521.4h.8v.8h-.8zM101.6 514.0h.8v.8h-.8zM123.4 527.1h.8v.8h-.8zM125.6 526.2h.8v.8h-.8z" fill="#c8c8c8" fill-opacity="0.6"/>
<ellipse cx="110.6" cy="509.4" rx="5.2" ry="5.0" fill="#f08c1e" fill-opacity="0.21" filter="url(#b10)"/>
<path d="M107.4 505.2h.9v.9h-.9zM113.4 508.7h.9v.9h-.9zM116.0 511.7h.9v.9h-.9zM108.6 512.7h.9v.9h-.9zM111.7 506.9h.9v.9h-.9zM114.4 507.0h.9v.9h-.9zM116.2 512.0h.9v.9h-.9zM109.0 508.6h.9v.9h-.9zM113.6 504.7h.9v.9h-.9zM110.3 504.3h.9v.9h-.9zM111.3 509.4h.9v.9h-.9zM115.7 508.6h.9v.9h-.9zM110.5 514.3h.9v.9h-.9zM107.9 513.7h.9v.9h-.9zM109.3 505.0h.9v.9h-.9zM113.9 511.7h.9v.9h-.9zM108.8 514.6h.9v.9h-.9zM115.8 507.1h.9v.9h-.9zM108.0 508.9h.9v.9h-.9zM109.7 506.3h.9v.9h-.9zM113.3 509.4h.9v.9h-.9zM111.4 509.2h.9v.9h-.9zM111.3 505.8h.9v.9h-.9zM106.9 507.6h.9v.9h-.9zM109.1 513.3h.9v.9h-.9zM112.2 506.0h.9v.9h-.9zM106.9 513.7h.9v.9h-.9zM112.3 512.8h.9v.9h-.9zM105.9 508.9h.9v.9h-.9zM113.3 514.2h.9v.9h-.9zM108.6 509.5h.9v.9h-.9zM109.8 510.7h.9v.9h-.9zM109.4 511.2h.9v.9h-.9zM110.5 514.1h.9v.9h-.9zM109.3 506.2h.9v.9h-.9zM106.1 510.4h.9v.9h-.9zM105.3 506.3h.9v.9h-.9zM111.8 514.8h.9v.9h-.9zM104.8 507.4h.9v.9h-.9zM110.4 509.0h.9v.9h-.9zM116.0 511.4h.9v.9h-.9zM109.1 514.1h.9v.9h-.9zM114.6 512.1h.9v.9h-.9zM106.9 511.7h.9v.9h-.9zM116.8 509.5h.9v.9h-.9zM113.7 504.9h.9v.9h-.9zM108.4 507.3h.9v.9h-.9zM112.7 514.8h.9v.9h-.9zM108.7 512.8h.9v.9h-.9zM113.4 506.9h.9v.9h-.9zM113.4 509.3h.9v.9h-.9zM112.7 506.7h.9v.9h-.9zM113.5 512.7h.9v.9h-.9zM111.5 507.6h.9v.9h-.9zM105.6 506.1h.9v.9h-.9zM115.1 510.2h.9v.9h-.9zM108.9 513.4h.9v.9h-.9zM112.7 505.8h.9v.9h-.9zM109.6 512.1h.9v.9h-.9zM111.6 507.2h.9v.9h-.9zM109.2 503.3h.9v.9h-.9zM108.4 503.8h.9v.9h-.9zM114.2 512.9h.9v.9h-.9zM109.2 508.3h.9v.9h-.9zM107.3 510.8h.9v.9h-.9zM113.5 512.2h.9v.9h-.9zM115.9 512.5h.9v.9h-.9zM113.0 513.4h.9v.9h-.9zM110.4 508.5h.9v.9h-.9zM116.4 507.2h.9v.9h-.9zM106.5 507.2h.9v.9h-.9zM113.6 505.5h.9v.9h-.9zM111.7 515.4h.9v.9h-.9zM112.0 513.9h.9v.9h-.9zM105.1 507.8h.9v.9h-.9zM107.2 513.2h.9v.9h-.9zM112.0 514.5h.9v.9h-.9zM112.6 512.6h.9v.9h-.9zM105.1 508.7h.9v.9h-.9zM116.0 506.0h.9v.9h-.9zM109.0 509.7h.9v.9h-.9zM106.5 506.7h.9v.9h-.9zM110.4 508.0h.9v.9h-.9zM111.3 507.2h.9v.9h-.9zM113.8 504.0h.9v.9h-.9zM106.4 508.2h.9v.9h-.9zM109.3 507.5h.9v.9h-.9zM107.3 504.5h.9v.9h-.9zM115.6 507.3h.9v.9h-.9zM109.3 503.3h.9v.9h-.9zM107.8 511.9h.9v.9h-.9zM112.2 509.3h.9v.9h-.9zM107.4 513.9h.9v.9h-.9zM116.0 507.4h.9v.9h-.9zM112.8 514.6h.9v.9h-.9zM111.4 513.9h.9v.9h-.9zM105.7 505.3h.9v.9h-.9zM111.3 513.1h.9v.9h-.9zM109.3 512.6h.9v.9h-.9zM112.7 512.8h.9v.9h-.9zM110.3 512.6h.9v.9h-.9zM111.7 507.6h.9v.9h-.9zM109.3 509.7h.9v.9h-.9zM116.2 511.4h.9v.9h-.9zM111.9 503.5h.9v.9h-.9zM115.0 513.0h.9v.9h-.9zM108.9 514.7h.9v.9h-.9zM106.7 507.7h.9v.9h-.9zM108.2 507.2h.9v.9h-.9zM104.8 508.1h.9v.9h-.9zM107.1 505.1h.9v.9h-.9zM112.8 508.9h.9v.9h-.9zM111.6 503.3h.9v.9h-.9zM106.9 508.5h.9v.9h-.9zM109.2 507.8h.9v.9h-.9zM110.9 504.0h.9v.9h-.9zM115.3 510.1h.9v.9h-.9zM105.0 509.6h.9v.9h-.9zM108.9 510.2h.9v.9h-.9zM114.0 509.9h.9v.9h-.9zM112.9 510.9h.9v.9h-.9zM105.9 505.6h.9v.9h-.9zM112.8 513.6h.9v.9h-.9zM105.4 509.8h.9v.9h-.9zM114.4 508.4h.9v.9h-.9zM106.7 507.1h.9v.9h-.9zM113.2 512.9h.9v.9h-.9zM116.1 508.3h.9v.9h-.9zM111.8 512.9h.9v.9h-.9zM112.1 513.2h.9v.9h-.9zM108.3 510.0h.9v.9h-.9zM104.7 512.0h.9v.9h-.9zM106.5 512.6h.9v.9h-.9zM114.6 508.8h.9v.9h-.9zM108.3 512.9h.9v.9h-.9zM111.5 510.8h.9v.9h-.9zM114.0 513.4h.9v.9h-.9zM111.7 504.0h.9v.9h-.9zM112.8 512.0h.9v.9h-.9zM115.3 506.5h.9v.9h-.9zM106.3 512.9h.9v.9h-.9zM110.4 511.3h.9v.9h-.9zM115.6 506.2h.9v.9h-.9zM106.4 509.5h.9v.9h-.9zM114.8 507.0h.9v.9h-.9zM111.3 509.3h.9v.9h-.9zM108.6 506.8h.9v.9h-.9zM109.2 503.5h.9v.9h-.9zM115.9 510.1h.9v.9h-.9zM112.4 505.4h.9v.9h-.9zM113.9 512.5h.9v.9h-.9zM109.0 505.1h.9v.9h-.9zM107.2 508.0h.9v.9h-.9zM109.1 512.2h.9v.9h-.9zM110.5 508.7h.9v.9h-.9zM106.3 506.5h.9v.9h-.9zM106.6 510.7h.9v.9h-.9zM111.4 505.0h.9v.9h-.9zM115.8 511.3h.9v.9h-.9zM116.9 508.3h.9v.9h-.9zM111.5 508.4h.9v.9h-.9zM108.0 508.4h.9v.9h-.9zM111.7 507.4h.9v.9h-.9zM104.5 509.4h.9v.9h-.9zM112.6 514.5h.9v.9h-.9zM114.9 508.8h.9v.9h-.9zM108.7 509.5h.9v.9h-.9zM112.8 508.1h.9v.9h-.9zM110.6 504.1h.9v.9h-.9zM109.8 515.6h.9v.9h-.9zM115.2 507.2h.9v.9h-.9zM106.7 511.6h.9v.9h-.9zM105.7 511.2h.9v.9h-.9zM112.6 509.2h.9v.9h-.9zM109.7 513.9h.9v.9h-.9zM106.7 505.7h.9v.9h-.9zM115.8 506.6h.9v.9h-.9zM107.8 512.4h.9v.9h-.9zM104.8 507.1h.9v.9h-.9zM111.1 511.8h.9v.9h-.9zM108.6 514.3h.9v.9h-.9zM107.8 506.3h.9v.9h-.9zM105.2 509.5h.9v.9h-.9zM111.4 508.5h.9v.9h-.9zM109.4 509.3h.9v.9h-.9zM111.1 505.0h.9v.9h-.9zM115.3 506.9h.9v.9h-.9zM111.5 505.1h.9v.9h-.9zM111.0 506.3h.9v.9h-.9z" fill="#f08c1e" fill-opacity="0.48"/>
<ellipse cx="122.8" cy="520.7" rx="3.2" ry="6.0" fill="#2c2cc0" fill-opacity="0.26" filter="url(#b10)"/>
<path d="M124.3 525.7h.9v.9h-.9zM119.9 520.8h.9v.9h-.9zM123.9 515.5h.9v.9h-.9zM121.3 515.2h.9v.9h-.9zM119.6 523.8h.9v.9h-.9zM121.4 515.5h.9v.9h-.9zM125.2 516.5h.9v.9h-.9zM120.9 521.7h.9v.9h-.9zM125.2 514.9h.9v.9h-.9zM120.1 523.5h.9v.9h-.9zM119.8 517.4h.9v.9h-.9zM119.5 519.4h.9v.9h-.9zM123.4 517.0h.9v.9h-.9zM122.0 514.3h.9v.9h-.9zM119.7 516.4h.9v.9h-.9zM124.5 518.9h.9v.9h-.9zM119.6 524.3h.9v.9h-.9zM123.9 518.0h.9v.9h-.9zM123.1 523.6h.9v.9h-.9zM123.7 520.6h.9v.9h-.9zM124.1 514.7h.9v.9h-.9zM121.8 520.8h.9v.9h-.9zM119.1 523.3h.9v.9h-.9zM124.7 524.0h.9v.9h-.9zM123.0 517.0h.9v.9h-.9zM121.2 525.1h.9v.9h-.9zM119.8 522.8h.9v.9h-.9zM123.0 520.6h.9v.9h-.9zM122.1 516.2h.9v.9h-.9zM125.2 524.9h.9v.9h-.9zM122.1 514.3h.9v.9h-.9zM122.3 520.3h.9v.9h-.9zM122.0 527.0h.9v.9h-.9zM123.9 526.5h.9v.9h-.9zM121.5 525.7h.9v.9h-.9zM122.6 516.4h.9v.9h-.9zM125.7 525.7h.9v.9h-.9zM119.4 522.6h.9v.9h-.9zM125.0 525.3h.9v.9h-.9zM123.7 515.3h.9v.9h-.9zM121.7 513.6h.9v.9h-.9zM125.9 520.8h.9v.9h-.9zM123.2 513.8h.9v.9h-.9zM120.5 516.4h.9v.9h-.9zM123.1 517.8h.9v.9h-.9zM122.1 522.7h.9v.9h-.9zM122.8 522.8h.9v.9h-.9zM124.1 526.3h.9v.9h-.9zM123.5 523.8h.9v.9h-.9zM120.7 519.0h.9v.9h-.9zM123.5 522.8h.9v.9h-.9zM125.1 517.3h.9v.9h-.9zM123.5 524.0h.9v.9h-.9zM122.0 527.8h.9v.9h-.9zM123.2 516.5h.9v.9h-.9zM121.8 527.2h.9v.9h-.9zM120.7 524.2h.9v.9h-.9zM121.1 524.3h.9v.9h-.9zM125.5 517.7h.9v.9h-.9zM125.3 519.5h.9v.9h-.9zM126.2 520.3h.9v.9h-.9zM124.1 516.3h.9v.9h-.9zM123.0 527.6h.9v.9h-.9zM124.8 524.9h.9v.9h-.9zM118.8 521.1h.9v.9h-.9zM122.3 514.3h.9v.9h-.9zM125.0 522.5h.9v.9h-.9zM121.0 514.3h.9v.9h-.9zM123.6 513.5h.9v.9h-.9zM124.2 515.9h.9v.9h-.9zM124.6 520.1h.9v.9h-.9zM120.8 520.6h.9v.9h-.9zM125.0 517.2h.9v.9h-.9zM121.4 527.5h.9v.9h-.9zM122.8 527.9h.9v.9h-.9zM119.7 517.0h.9v.9h-.9zM125.5 519.2h.9v.9h-.9zM124.9 525.2h.9v.9h-.9zM123.4 517.9h.9v.9h-.9zM123.7 522.6h.9v.9h-.9zM119.6 523.3h.9v.9h-.9zM124.2 519.2h.9v.9h-.9zM119.9 521.1h.9v.9h-.9zM123.1 520.1h.9v.9h-.9zM125.0 521.4h.9v.9h-.9zM124.2 524.6h.9v.9h-.9zM124.2 527.6h.9v.9h-.9zM124.2 527.3h.9v.9h-.9zM122.4 523.1h.9v.9h-.9zM121.3 527.2h.9v.9h-.9zM125.8 520.1h.9v.9h-.9zM122.0 515.0h.9v.9h-.9zM121.1 514.2h.9v.9h-.9zM120.7 514.8h.9v.9h-.9zM120.5 524.8h.9v.9h-.9zM120.0 522.1h.9v.9h-.9zM124.6 526.4h.9v.9h-.9zM119.4 518.6h.9v.9h-.9zM122.3 516.1h.9v.9h-.9zM126.8 521.5h.9v.9h-.9zM121.5 519.2h.9v.9h-.9zM120.8 518.6h.9v.9h-.9zM123.0 524.2h.9v.9h-.9zM121.6 518.6h.9v.9h-.9zM121.7 517.9h.9v.9h-.9zM126.1 523.5h.9v.9h-.9zM125.5 521.7h.9v.9h-.9zM124.8 524.2h.9v.9h-.9zM125.2 517.3h.9v.9h-.9zM124.7 516.1h.9v.9h-.9zM122.9 523.6h.9v.9h-.9zM124.5 514.9h.9v.9h-.9zM126.5 522.8h.9v.9h-.9zM121.2 514.4h.9v.9h-.9zM119.8 524.4h.9v.9h-.9zM120.0 523.5h.9v.9h-.9zM119.9 518.8h.9v.9h-.9zM121.4 520.0h.9v.9h-.9zM120.9 520.7h.9v.9h-.9zM125.0 522.7h.9v.9h-.9zM123.5 525.4h.9v.9h-.9zM123.3 518.9h.9v.9h-.9zM123.9 527.7h.9v.9h-.9zM125.3 515.4h.9v.9h-.9zM122.5 515.3h.9v.9h-.9zM121.5 521.9h.9v.9h-.9zM122.3 515.1h.9v.9h-.9zM120.7 517.8h.9v.9h-.9zM123.2 514.1h.9v.9h-.9zM120.6 517.1h.9v.9h-.9zM120.5 524.7h.9v.9h-.9zM124.6 519.8h.9v.9h-.9zM121.4 527.0h.9v.9h-.9zM122.9 526.0h.9v.9h-.9zM125.2 520.4h.9v.9h-.9zM124.5 526.5h.9v.9h-.9zM120.0 517.5h.9v.9h-.9zM124.9 517.9h.9v.9h-.9zM119.4 523.1h.9v.9h-.9zM125.3 522.4h.9v.9h-.9zM121.6 526.7h.9v.9h-.9zM121.8 521.8h.9v.9h-.9zM119.0 518.5h.9v.9h-.9zM123.5 522.0h.9v.9h-.9zM125.2 525.8h.9v.9h-.9zM125.5 520.9h.9v.9h-.9zM122.9 515.6h.9v.9h-.9zM126.3 522.1h.9v.9h-.9zM124.9 524.8h.9v.9h-.9zM119.8 522.3h.9v.9h-.9zM119.1 518.6h.9v.9h-.9zM124.4 514.0h.9v.9h-.9zM126.7 521.9h.9v.9h-.9zM122.8 527.1h.9v.9h-.9zM126.3 521.2h.9v.9h-.9zM125.2 515.3h.9v.9h-.9zM123.8 519.0h.9v.9h-.9zM123.4 514.5h.9v.9h-.9zM121.1 519.1h.9v.9h-.9zM123.0 515.3h.9v.9h-.9zM120.8 520.7h.9v.9h-.9zM121.7 521.0h.9v.9h-.9zM124.7 516.8h.9v.9h-.9zM119.5 519.5h.9v.9h-.9zM126.7 521.0h.9v.9h-.9zM124.7 520.8h.9v.9h-.9zM122.9 516.2h.9v.9h-.9zM122.7 514.9h.9v.9h-.9zM123.7 520.4h.9v.9h-.9zM124.7 526.6h.9v.9h-.9zM125.3 525.5h.9v.9h-.9z" fill="#2c2cc0" fill-opacity="0.60"/>
<ellipse cx="93.9" cy="532.5" rx="4.8" ry="5.4" fill="#ee3b3b" fill-opacity="0.26" filter="url(#b10)"/>
<path d="M92.0 538.4h.9v.9h-.9zM92.9 530.5h.9v.9h-.9zM95.7 533.4h.9v.9h-.9zM97.3 532.5h.9v.9h-.9zM95.0 535.4h.9v.9h-.9zM92.2 538.1h.9v.9h-.9zM98.0 529.7h.9v.9h-.9zM94.5 526.5h.9v.9h-.9zM96.9 535.0h.9v.9h-.9zM98.7 531.1h.9v.9h-.9zM88.9 530.3h.9v.9h-.9zM91.5 526.7h.9v.9h-.9zM98.7 535.5h.9v.9h-.9zM89.2 532.2h.9v.9h-.9zM97.0 536.9h.9v.9h-.9zM96.0 527.2h.9v.9h-.9zM91.0 532.6h.9v.9h-.9zM94.1 525.8h.9v.9h-.9zM98.8 534.9h.9v.9h-.9zM94.2 531.2h.9v.9h-.9zM97.7 534.9h.9v.9h-.9zM92.5 529.4h.9v.9h-.9zM91.7 538.4h.9v.9h-.9zM90.6 527.6h.9v.9h-.9zM89.7 536.6h.9v.9h-.9zM89.6 529.0h.9v.9h-.9zM93.5 526.0h.9v.9h-.9zM90.2 537.0h.9v.9h-.9zM89.9 531.1h.9v.9h-.9zM89.7 534.6h.9v.9h-.9zM92.5 534.3h.9v.9h-.9zM90.0 533.5h.9v.9h-.9zM94.1 539.1h.9v.9h-.9zM97.2 530.2h.9v.9h-.9zM90.0 527.7h.9v.9h-.9zM92.3 536.1h.9v.9h-.9zM97.5 531.2h.9v.9h-.9zM94.2 527.8h.9v.9h-.9zM88.8 533.7h.9v.9h-.9zM97.4 534.9h.9v.9h-.9zM97.4 533.0h.9v.9h-.9zM91.3 536.8h.9v.9h-.9zM94.6 538.1h.9v.9h-.9zM92.9 528.7h.9v.9h-.9zM98.0 534.6h.9v.9h-.9zM99.0 534.1h.9v.9h-.9zM92.9 531.1h.9v.9h-.9zM88.6 531.3h.9v.9h-.9zM95.9 535.0h.9v.9h-.9zM90.4 528.7h.9v.9h-.9zM89.0 535.6h.9v.9h-.9zM92.1 534.6h.9v.9h-.9zM96.2 535.5h.9v.9h-.9zM95.8 529.3h.9v.9h-.9zM98.1 530.3h.9v.9h-.9zM98.7 531.9h.9v.9h-.9zM90.6 534.5h.9v.9h-.9zM99.0 531.4h.9v.9h-.9zM96.2 528.8h.9v.9h-.9zM93.3 525.9h.9v.9h-.9zM93.0 530.0h.9v.9h-.9zM96.3 536.1h.9v.9h-.9zM95.3 531.8h.9v.9h-.9zM95.8 536.7h.9v.9h-.9zM97.0 536.4h.9v.9h-.9zM98.2 529.2h.9v.9h-.9zM97.3 534.9h.9v.9h-.9zM95.4 528.3h.9v.9h-.9zM92.5 538.2h.9v.9h-.9zM97.8 527.8h.9v.9h-.9zM96.6 526.7h.9v.9h-.9zM95.5 536.7h.9v.9h-.9zM94.1 526.3h.9v.9h-.9zM97.5 530.9h.9v.9h-.9zM95.1 534.6h.9v.9h-.9zM90.2 527.6h.9v.9h-.9zM94.8 534.8h.9v.9h-.9zM94.2 536.4h.9v.9h-.9zM98.2 532.6h.9v.9h-.9zM97.5 531.2h.9v.9h-.9zM98.6 532.2h.9v.9h-.9zM92.3 537.8h.9v.9h-.9zM95.6 533.9h.9v.9h-.9zM99.2 534.6h.9v.9h-.9zM89.8 533.9h.9v.9h-.9zM96.6 531.8h.9v.9h-.9zM94.9 531.4h.9v.9h-.9zM90.3 537.3h.9v.9h-.9zM97.2 534.5h.9v.9h-.9zM92.7 526.4h.9v.9h-.9zM96.4 530.1h.9v.9h-.9zM95.1 534.2h.9v.9h-.9zM97.4 527.2h.9v.9h-.9zM94.2 536.6h.9v.9h-.9zM96.8 537.0h.9v.9h-.9zM95.7 536.6h.9v.9h-.9zM89.6 528.7h.9v.9h-.9zM98.3 528.5h.9v.9h-.9zM89.8 535.1h.9v.9h-.9zM88.6 534.5h.9v.9h-.9zM91.0 534.5h.9v.9h-.9zM91.0 535.2h.9v.9h-.9zM94.3 529.0h.9v.9h-.9zM94.1 536.3h.9v.9h-.9zM99.6 533.1h.9v.9h-.9zM90.1 527.3h.9v.9h-.9zM94.2 529.9h.9v.9h-.9zM97.9 530.3h.9v.9h-.9zM92.6 526.5h.9v.9h-.9zM89.7 536.2h.9v.9h-.9zM99.1 532.7h.9v.9h-.9zM95.7 531.0h.9v.9h-.9zM89.5 533.4h.9v.9h-.9zM98.1 528.8h.9v.9h-.9zM94.5 536.2h.9v.9h-.9zM93.1 534.6h.9v.9h-.9zM95.5 534.3h.9v.9h-.9zM89.5 530.1h.9v.9h-.9zM98.7 532.4h.9v.9h-.9zM96.3 534.2h.9v.9h-.9zM94.9 529.0h.9v.9h-.9zM96.9 526.8h.9v.9h-.9zM96.0 528.0h.9v.9h-.9zM89.9 535.3h.9v.9h-.9zM96.9 532.1h.9v.9h-.9zM91.8 527.4h.9v.9h-.9zM90.2 533.9h.9v.9h-.9zM99.7 533.8h.9v.9h-.9zM90.4 536.9h.9v.9h-.9zM94.0 537.0h.9v.9h-.9zM98.4 535.9h.9v.9h-.9zM99.6 531.5h.9v.9h-.9zM89.9 531.4h.9v.9h-.9zM89.3 534.6h.9v.9h-.9zM96.2 537.0h.9v.9h-.9zM91.9 535.7h.9v.9h-.9zM93.5 526.0h.9v.9h-.9zM91.4 534.8h.9v.9h-.9zM92.1 527.1h.9v.9h-.9zM93.0 536.7h.9v.9h-.9zM92.3 527.5h.9v.9h-.9zM96.9 529.4h.9v.9h-.9zM93.9 532.9h.9v.9h-.9zM89.2 535.2h.9v.9h-.9zM96.5 527.6h.9v.9h-.9zM96.9 532.7h.9v.9h-.9zM90.2 534.8h.9v.9h-.9zM91.7 530.0h.9v.9h-.9zM98.7 531.6h.9v.9h-.9zM95.3 530.2h.9v.9h-.9zM94.2 532.8h.9v.9h-.9zM94.9 526.5h.9v.9h-.9zM93.5 527.9h.9v.9h-.9zM90.6 532.6h.9v.9h-.9zM95.5 527.0h.9v.9h-.9zM91.6 528.1h.9v.9h-.9zM95.0 530.9h.9v.9h-.9zM97.3 537.5h.9v.9h-.9zM97.7 536.2h.9v.9h-.9zM95.5 533.3h.9v.9h-.9zM93.5 533.0h.9v.9h-.9zM92.3 535.8h.9v.9h-.9zM93.4 525.9h.9v.9h-.9zM89.7 528.7h.9v.9h-.9zM96.6 528.1h.9v.9h-.9zM89.9 537.2h.9v.9h-.9zM93.8 528.8h.9v.9h-.9zM95.3 531.2h.9v.9h-.9zM94.2 533.5h.9v.9h-.9zM92.6 537.4h.9v.9h-.9zM89.9 527.8h.9v.9h-.9zM92.0 527.7h.9v.9h-.9zM88.3 534.3h.9v.9h-.9zM98.5 534.0h.9v.9h-.9zM92.7 537.1h.9v.9h-.9zM99.7 531.7h.9v.9h-.9zM94.4 535.3h.9v.9h-.9zM92.7 535.5h.9v.9h-.9zM96.4 533.4h.9v.9h-.9zM96.1 528.4h.9v.9h-.9zM92.7 536.7h.9v.9h-.9zM91.8 533.6h.9v.9h-.9zM95.8 538.5h.9v.9h-.9zM96.6 530.4h.9v.9h-.9zM91.5 535.2h.9v.9h-.9zM97.5 534.1h.9v.9h-.9zM93.2 533.1h.9v.9h-.9zM94.2 534.4h.9v.9h-.9zM95.9 530.1h.9v.9h-.9zM89.8 529.8h.9v.9h-.9zM89.7 529.9h.9v.9h-.9zM96.1 536.0h.9v.9h-.9zM98.2 533.8h.9v.9h-.9zM91.4 532.4h.9v.9h-.9zM99.3 531.0h.9v.9h-.9zM90.6 535.8h.9v.9h-.9zM88.8 533.0h.9v.9h-.9zM90.5 528.6h.9v.9h-.9zM93.3 531.2h.9v.9h-.9zM93.7 537.3h.9v.9h-.9zM97.0 529.5h.9v.9h-.9zM96.3 528.5h.9v.9h-.9zM96.1 537.0h.9v.9h-.9zM95.1 536.1h.9v.9h-.9zM89.2 535.0h.9v.9h-.9zM92.2 536.1h.9v.9h-.9zM96.2 532.3h.9v.9h-.9zM89.9 534.4h.9v.9h-.9zM95.4 532.4h.9v.9h-.9zM98.6 534.5h.9v.9h-.9zM96.0 535.8h.9v.9h-.9zM92.7 527.0h.9v.9h-.9zM94.3 536.8h.9v.9h-.9zM93.6 526.7h.9v.9h-.9zM89.3 534.7h.9v.9h-.9zM96.9 534.9h.9v.9h-.9zM96.1 532.7h.9v.9h-.9zM95.3 532.5h.9v.9h-.9zM94.5 527.0h.9v.9h-.9zM92.8 539.0h.9v.9h-.9zM91.3 537.9h.9v.9h-.9zM94.3 533.1h.9v.9h-.9zM92.8 527.5h.9v.9h-.9zM96.2 529.3h.9v.9h-.9zM93.3 527.0h.9v.9h-.9zM90.9 530.6h.9v.9h-.9zM97.1 527.5h.9v.9h-.9zM90.9 534.9h.9v.9h-.9zM89.3 532.6h.9v.9h-.9zM97.2 527.2h.9v.9h-.9zM95.9 531.7h.9v.9h-.9zM89.4 531.1h.9v.9h-.9zM97.3 529.8h.9v.9h-.9zM88.8 531.4h.9v.9h-.9zM95.4 531.8h.9v.9h-.9zM94.9 533.9h.9v.9h-.9zM92.5 536.7h.9v.9h-.9zM90.8 536.5h.9v.9h-.9zM95.3 533.8h.9v.9h-.9zM97.4 529.2h.9v.9h-.9zM90.4 529.9h.9v.9h-.9zM95.7 527.1h.9v.9h-.9zM98.8 535.8h.9v.9h-.9zM89.5 535.3h.9v.9h-.9zM91.8 537.8h.9v.9h-.9zM98.0 531.4h.9v.9h-.9zM96.9 536.5h.9v.9h-.9zM89.1 531.7h.9v.9h-.9zM89.8 530.2h.9v.9h-.9zM91.5 536.5h.9v.9h-.9zM95.3 531.2h.9v.9h-.9zM98.6 533.0h.9v.9h-.9z" fill="#ee3b3b" fill-opacity="0.60"/>
<text x="62" y="508" font-size="5.8" fill="#f08c1e" font-weight="bold">3</text>
<text x="66.6" y="533.9" font-size="5.8" fill="#2c2cc0" font-weight="bold">8</text>
<text x="28.7" y="539.3" font-size="5.8" fill="#ee3b3b" font-weight="bold">1</text>
<defs><linearGradient id="zs" x1="0" y1="0" x2="0" y2="1"><stop offset="0" stop-color="#d73027"/><stop offset="0.2" stop-color="#f46d43"/><stop offset="0.35" stop-color="#fdae61"/><stop offset="0.5" stop-color="#ffffbf"/><stop offset="0.65" stop-color="#e0f3f8"/><stop offset="0.8" stop-color="#abd9e9"/><stop offset="1" stop-color="#4575b4"/></linearGradient><linearGradient id="rb" x1="0" y1="0" x2="0" y2="1"><stop offset="0" stop-color="#ff1a00"/><stop offset="0.2" stop-color="#ff9900"/><stop offset="0.4" stop-color="#f0f000"/><stop offset="0.6" stop-color="#40e000"/><stop offset="0.8" stop-color="#00c0a0"/><stop offset="1" stop-color="#0010ff"/></linearGradient></defs>
<rect x="146.6" y="296.1" width="12.1" height="10.9" fill="#c6e0ee" stroke="#4d4d4d" stroke-width="0.45"/>
<rect x="158.7" y="296.1" width="12.1" height="10.9" fill="#fcf7b3" stroke="#4d4d4d" stroke-width="0.45"/>
<rect x="170.7" y="296.1" width="12.1" height="10.9" fill="#f88e5a" stroke="#4d4d4d" stroke-width="0.45"/>
<rect x="182.8" y="296.1" width="12.1" height="10.9" fill="#e65538" stroke="#4d4d4d" stroke-width="0.45"/>
<rect x="194.9" y="296.1" width="12.1" height="10.9" fill="#c9e2ef" stroke="#4d4d4d" stroke-width="0.45"/>
<rect x="206.9" y="296.1" width="12.1" height="10.9" fill="#e2f1e8" stroke="#4d4d4d" stroke-width="0.45"/>
<rect x="219" y="296.1" width="12.1" height="10.9" fill="#faa96c" stroke="#4d4d4d" stroke-width="0.45"/>
<rect x="231" y="296.1" width="12.1" height="10.9" fill="#fcd88b" stroke="#4d4d4d" stroke-width="0.45"/>
<rect x="243.1" y="296.1" width="12.1" height="10.9" fill="#f6925c" stroke="#4d4d4d" stroke-width="0.45"/>
<rect x="255.2" y="296.1" width="12.1" height="10.9" fill="#fde9a0" stroke="#4d4d4d" stroke-width="0.45"/>
<rect x="267.2" y="296.1" width="12.1" height="10.9" fill="#cce5f0" stroke="#4d4d4d" stroke-width="0.45"/>
<rect x="279.3" y="296.1" width="12.1" height="10.9" fill="#fbf5b3" stroke="#4d4d4d" stroke-width="0.45"/>
<rect x="291.4" y="296.1" width="12.1" height="10.9" fill="#eaf4e0" stroke="#4d4d4d" stroke-width="0.45"/>
<rect x="303.4" y="296.1" width="12.1" height="10.9" fill="#cbe4ef" stroke="#4d4d4d" stroke-width="0.45"/>
<rect x="146.6" y="307" width="12.1" height="10.9" fill="#daeef4" stroke="#4d4d4d" stroke-width="0.45"/>
<rect x="158.7" y="307" width="12.1" height="10.9" fill="#e4f1e4" stroke="#4d4d4d" stroke-width="0.45"/>
<rect x="170.7" y="307" width="12.1" height="10.9" fill="#fdda8e" stroke="#4d4d4d" stroke-width="0.45"/>
<rect x="182.8" y="307" width="12.1" height="10.9" fill="#dcf0f5" stroke="#4d4d4d" stroke-width="0.45"/>
<rect x="194.9" y="307" width="12.1" height="10.9" fill="#d9eef4" stroke="#4d4d4d" stroke-width="0.45"/>
<rect x="206.9" y="307" width="12.1" height="10.9" fill="#a9cde4" stroke="#4d4d4d" stroke-width="0.45"/>
<rect x="219" y="307" width="12.1" height="10.9" fill="#e8f3e0" stroke="#4d4d4d" stroke-width="0.45"/>
<rect x="231" y="307" width="12.1" height="10.9" fill="#f2f6cc" stroke="#4d4d4d" stroke-width="0.45"/>
<rect x="243.1" y="307" width="12.1" height="10.9" fill="#f8a068" stroke="#4d4d4d" stroke-width="0.45"/>
<rect x="255.2" y="307" width="12.1" height="10.9" fill="#fde29a" stroke="#4d4d4d" stroke-width="0.45"/>
<rect x="267.2" y="307" width="12.1" height="10.9" fill="#fbf3ad" stroke="#4d4d4d" stroke-width="0.45"/>
<rect x="279.3" y="307" width="12.1" height="10.9" fill="#fbf5b3" stroke="#4d4d4d" stroke-width="0.45"/>
<rect x="291.4" y="307" width="12.1" height="10.9" fill="#d7301f" stroke="#4d4d4d" stroke-width="0.45"/>
<rect x="303.4" y="307" width="12.1" height="10.9" fill="#d7301f" stroke="#4d4d4d" stroke-width="0.45"/>
<rect x="146.6" y="317.9" width="12.1" height="10.9" fill="#e3f2e8" stroke="#4d4d4d" stroke-width="0.45"/>
<rect x="158.7" y="317.9" width="12.1" height="10.9" fill="#8ebcdb" stroke="#4d4d4d" stroke-width="0.45"/>
<rect x="170.7" y="317.9" width="12.1" height="10.9" fill="#4a7bb7" stroke="#4d4d4d" stroke-width="0.45"/>
<rect x="182.8" y="317.9" width="12.1" height="10.9" fill="#fceca6" stroke="#4d4d4d" stroke-width="0.45"/>
<rect x="194.9" y="317.9" width="12.1" height="10.9" fill="#d7302a" stroke="#4d4d4d" stroke-width="0.45"/>
<rect x="206.9" y="317.9" width="12.1" height="10.9" fill="#d7302a" stroke="#4d4d4d" stroke-width="0.45"/>
<rect x="219" y="317.9" width="12.1" height="10.9" fill="#5a8ec3" stroke="#4d4d4d" stroke-width="0.45"/>
<rect x="231" y="317.9" width="12.1" height="10.9" fill="#ea5a3c" stroke="#4d4d4d" stroke-width="0.45"/>
<rect x="243.1" y="317.9" width="12.1" height="10.9" fill="#85b5d6" stroke="#4d4d4d" stroke-width="0.45"/>
<rect x="255.2" y="317.9" width="12.1" height="10.9" fill="#f88e57" stroke="#4d4d4d" stroke-width="0.45"/>
<rect x="267.2" y="317.9" width="12.1" height="10.9" fill="#9cc5e0" stroke="#4d4d4d" stroke-width="0.45"/>
<rect x="279.3" y="317.9" width="12.1" height="10.9" fill="#5a8ec3" stroke="#4d4d4d" stroke-width="0.45"/>
<rect x="291.4" y="317.9" width="12.1" height="10.9" fill="#d6eaf2" stroke="#4d4d4d" stroke-width="0.45"/>
<rect x="303.4" y="317.9" width="12.1" height="10.9" fill="#d6eaf2" stroke="#4d4d4d" stroke-width="0.45"/>
<rect x="146.6" y="328.7" width="12.1" height="10.9" fill="#d7302a" stroke="#4d4d4d" stroke-width="0.45"/>
<rect x="158.7" y="328.7" width="12.1" height="10.9" fill="#e24d35" stroke="#4d4d4d" stroke-width="0.45"/>
<rect x="170.7" y="328.7" width="12.1" height="10.9" fill="#fcf5b0" stroke="#4d4d4d" stroke-width="0.45"/>
<rect x="182.8" y="328.7" width="12.1" height="10.9" fill="#8ebcdb" stroke="#4d4d4d" stroke-width="0.45"/>
<rect x="194.9" y="328.7" width="12.1" height="10.9" fill="#e3f2ec" stroke="#4d4d4d" stroke-width="0.45"/>
<rect x="206.9" y="328.7" width="12.1" height="10.9" fill="#e9f5df" stroke="#4d4d4d" stroke-width="0.45"/>
<rect x="219" y="328.7" width="12.1" height="10.9" fill="#f99b62" stroke="#4d4d4d" stroke-width="0.45"/>
<rect x="231" y="328.7" width="12.1" height="10.9" fill="#4a7bb7" stroke="#4d4d4d" stroke-width="0.45"/>
<rect x="243.1" y="328.7" width="12.1" height="10.9" fill="#c2dcec" stroke="#4d4d4d" stroke-width="0.45"/>
<rect x="255.2" y="328.7" width="12.1" height="10.9" fill="#4a7bb7" stroke="#4d4d4d" stroke-width="0.45"/>
<rect x="267.2" y="328.7" width="12.1" height="10.9" fill="#dd3d2d" stroke="#4d4d4d" stroke-width="0.45"/>
<rect x="279.3" y="328.7" width="12.1" height="10.9" fill="#e8553a" stroke="#4d4d4d" stroke-width="0.45"/>
<rect x="291.4" y="328.7" width="12.1" height="10.9" fill="#c2dcec" stroke="#4d4d4d" stroke-width="0.45"/>
<rect x="303.4" y="328.7" width="12.1" height="10.9" fill="#e6f3e3" stroke="#4d4d4d" stroke-width="0.45"/>
<rect x="146.6" y="296.1" width="168.9" height="43.5" fill="none" stroke="#333" stroke-width="0.5"/>
<text x="317.1" y="303.8" font-size="6.4" fill="#111">1</text>
<text x="317.1" y="314.7" font-size="6.4" fill="#111">6</text>
<text x="317.1" y="325.6" font-size="6.4" fill="#111">8</text>
<text x="317.1" y="336.5" font-size="6.4" fill="#111">10</text>
<text x="154.8" y="341.4" font-size="5.9" fill="#111" text-anchor="end" transform="rotate(-90 154.8 341.4)">NKG2A</text>
<text x="166.8" y="341.4" font-size="5.9" fill="#111" text-anchor="end" transform="rotate(-90 166.8 341.4)">NKp44</text>
<text x="178.9" y="341.4" font-size="5.9" fill="#111" text-anchor="end" transform="rotate(-90 178.9 341.4)">CD69</text>
<text x="190.9" y="341.4" font-size="5.9" fill="#111" text-anchor="end" transform="rotate(-90 190.9 341.4)">NKG2C</text>
<text x="203" y="341.4" font-size="5.9" fill="#111" text-anchor="end" transform="rotate(-90 203 341.4)">Ki-67</text>
<text x="215.1" y="341.4" font-size="5.9" fill="#111" text-anchor="end" transform="rotate(-90 215.1 341.4)">HLA-DR</text>
<text x="227.1" y="341.4" font-size="5.9" fill="#111" text-anchor="end" transform="rotate(-90 227.1 341.4)">NKG2D</text>
<text x="239.2" y="341.4" font-size="5.9" fill="#111" text-anchor="end" transform="rotate(-90 239.2 341.4)">CD38</text>
<text x="251.3" y="341.4" font-size="5.9" fill="#111" text-anchor="end" transform="rotate(-90 251.3 341.4)">CD16</text>
<text x="263.3" y="341.4" font-size="5.9" fill="#111" text-anchor="end" transform="rotate(-90 263.3 341.4)">LILRB1</text>
<text x="275.4" y="341.4" font-size="5.9" fill="#111" text-anchor="end" transform="rotate(-90 275.4 341.4)">NKp46</text>
<text x="287.5" y="341.4" font-size="5.9" fill="#111" text-anchor="end" transform="rotate(-90 287.5 341.4)">CD56</text>
<text x="299.5" y="341.4" font-size="5.9" fill="#111" text-anchor="end" transform="rotate(-90 299.5 341.4)">CD57</text>
<text x="311.6" y="341.4" font-size="5.9" fill="#111" text-anchor="end" transform="rotate(-90 311.6 341.4)">KIR3DL1</text>
<rect x="140.6" y="438.8" width="10.7" height="11.2" fill="#fddc8f" stroke="#4d4d4d" stroke-width="0.45"/>
<rect x="151.3" y="438.8" width="10.7" height="11.2" fill="#4a7bb7" stroke="#4d4d4d" stroke-width="0.45"/>
<rect x="162.1" y="438.8" width="10.7" height="11.2" fill="#e6f2e2" stroke="#4d4d4d" stroke-width="0.45"/>
<rect x="172.8" y="438.8" width="10.7" height="11.2" fill="#d7302a" stroke="#4d4d4d" stroke-width="0.45"/>
<rect x="183.5" y="438.8" width="10.7" height="11.2" fill="#e4553a" stroke="#4d4d4d" stroke-width="0.45"/>
<rect x="194.3" y="438.8" width="10.7" height="11.2" fill="#8dbad9" stroke="#4d4d4d" stroke-width="0.45"/>
<rect x="205" y="438.8" width="10.7" height="11.2" fill="#b5d5e9" stroke="#4d4d4d" stroke-width="0.45"/>
<rect x="215.7" y="438.8" width="10.7" height="11.2" fill="#c3dfee" stroke="#4d4d4d" stroke-width="0.45"/>
<rect x="226.4" y="438.8" width="10.7" height="11.2" fill="#b5d5e9" stroke="#4d4d4d" stroke-width="0.45"/>
<rect x="237.2" y="438.8" width="10.7" height="11.2" fill="#fddc8f" stroke="#4d4d4d" stroke-width="0.45"/>
<rect x="247.9" y="438.8" width="10.7" height="11.2" fill="#d7302a" stroke="#4d4d4d" stroke-width="0.45"/>
<rect x="258.6" y="438.8" width="10.7" height="11.2" fill="#d7302a" stroke="#4d4d4d" stroke-width="0.45"/>
<rect x="269.4" y="438.8" width="10.7" height="11.2" fill="#4f80ba" stroke="#4d4d4d" stroke-width="0.45"/>
<rect x="280.1" y="438.8" width="10.7" height="11.2" fill="#dd3d2d" stroke="#4d4d4d" stroke-width="0.45"/>
<rect x="290.8" y="438.8" width="10.7" height="11.2" fill="#d7302a" stroke="#4d4d4d" stroke-width="0.45"/>
<rect x="301.6" y="438.8" width="10.7" height="11.2" fill="#eef6d4" stroke="#4d4d4d" stroke-width="0.45"/>
<rect x="140.6" y="450" width="10.7" height="11.2" fill="#f67f50" stroke="#4d4d4d" stroke-width="0.45"/>
<rect x="151.3" y="450" width="10.7" height="11.2" fill="#fde9a0" stroke="#4d4d4d" stroke-width="0.45"/>
<rect x="162.1" y="450" width="10.7" height="11.2" fill="#86b4d6" stroke="#4d4d4d" stroke-width="0.45"/>
<rect x="172.8" y="450" width="10.7" height="11.2" fill="#7fb0d4" stroke="#4d4d4d" stroke-width="0.45"/>
<rect x="183.5" y="450" width="10.7" height="11.2" fill="#fbf5b3" stroke="#4d4d4d" stroke-width="0.45"/>
<rect x="194.3" y="450" width="10.7" height="11.2" fill="#ddf0f6" stroke="#4d4d4d" stroke-width="0.45"/>
<rect x="205" y="450" width="10.7" height="11.2" fill="#b0d2e7" stroke="#4d4d4d" stroke-width="0.45"/>
<rect x="215.7" y="450" width="10.7" height="11.2" fill="#a9cee5" stroke="#4d4d4d" stroke-width="0.45"/>
<rect x="226.4" y="450" width="10.7" height="11.2" fill="#b5d5e9" stroke="#4d4d4d" stroke-width="0.45"/>
<rect x="237.2" y="450" width="10.7" height="11.2" fill="#4a7bb7" stroke="#4d4d4d" stroke-width="0.45"/>
<rect x="247.9" y="450" width="10.7" height="11.2" fill="#b5d5e9" stroke="#4d4d4d" stroke-width="0.45"/>
<rect x="258.6" y="450" width="10.7" height="11.2" fill="#def0f6" stroke="#4d4d4d" stroke-width="0.45"/>
<rect x="269.4" y="450" width="10.7" height="11.2" fill="#f2f7cf" stroke="#4d4d4d" stroke-width="0.45"/>
<rect x="280.1" y="450" width="10.7" height="11.2" fill="#f0f6d6" stroke="#4d4d4d" stroke-width="0.45"/>
<rect x="290.8" y="450" width="10.7" height="11.2" fill="#b5d5e9" stroke="#4d4d4d" stroke-width="0.45"/>
<rect x="301.6" y="450" width="10.7" height="11.2" fill="#dd3d2d" stroke="#4d4d4d" stroke-width="0.45"/>
<rect x="140.6" y="461.3" width="10.7" height="11.2" fill="#4a7bb7" stroke="#4d4d4d" stroke-width="0.45"/>
<rect x="151.3" y="461.3" width="10.7" height="11.2" fill="#ef6a45" stroke="#4d4d4d" stroke-width="0.45"/>
<rect x="162.1" y="461.3" width="10.7" height="11.2" fill="#db3a2b" stroke="#4d4d4d" stroke-width="0.45"/>
<rect x="172.8" y="461.3" width="10.7" height="11.2" fill="#e6f3e0" stroke="#4d4d4d" stroke-width="0.45"/>
<rect x="183.5" y="461.3" width="10.7" height="11.2" fill="#4f80ba" stroke="#4d4d4d" stroke-width="0.45"/>
<rect x="194.3" y="461.3" width="10.7" height="11.2" fill="#d7302a" stroke="#4d4d4d" stroke-width="0.45"/>
<rect x="205" y="461.3" width="10.7" height="11.2" fill="#d7302a" stroke="#4d4d4d" stroke-width="0.45"/>
<rect x="215.7" y="461.3" width="10.7" height="11.2" fill="#d7302a" stroke="#4d4d4d" stroke-width="0.45"/>
<rect x="226.4" y="461.3" width="10.7" height="11.2" fill="#d7302a" stroke="#4d4d4d" stroke-width="0.45"/>
<rect x="237.2" y="461.3" width="10.7" height="11.2" fill="#f57b4f" stroke="#4d4d4d" stroke-width="0.45"/>
<rect x="247.9" y="461.3" width="10.7" height="11.2" fill="#9cc5e0" stroke="#4d4d4d" stroke-width="0.45"/>
<rect x="258.6" y="461.3" width="10.7" height="11.2" fill="#8dbad9" stroke="#4d4d4d" stroke-width="0.45"/>
<rect x="269.4" y="461.3" width="10.7" height="11.2" fill="#e24d35" stroke="#4d4d4d" stroke-width="0.45"/>
<rect x="280.1" y="461.3" width="10.7" height="11.2" fill="#6f9fcc" stroke="#4d4d4d" stroke-width="0.45"/>
<rect x="290.8" y="461.3" width="10.7" height="11.2" fill="#aed1e7" stroke="#4d4d4d" stroke-width="0.45"/>
<rect x="301.6" y="461.3" width="10.7" height="11.2" fill="#6f9fcc" stroke="#4d4d4d" stroke-width="0.45"/>
<rect x="140.6" y="438.8" width="171.7" height="33.7" fill="none" stroke="#333" stroke-width="0.5"/>
<text x="313.9" y="446.7" font-size="6.4" fill="#111">1</text>
<text x="313.9" y="457.9" font-size="6.4" fill="#111">3</text>
<text x="313.9" y="469.2" font-size="6.4" fill="#111">8</text>
<text x="148.1" y="474.3" font-size="5.9" fill="#111" text-anchor="end" transform="rotate(-90 148.1 474.3)">GzmB</text>
<text x="158.8" y="474.3" font-size="5.9" fill="#111" text-anchor="end" transform="rotate(-90 158.8 474.3)">TIGIT</text>
<text x="169.6" y="474.3" font-size="5.9" fill="#111" text-anchor="end" transform="rotate(-90 169.6 474.3)">LAG-3</text>
<text x="180.3" y="474.3" font-size="5.9" fill="#111" text-anchor="end" transform="rotate(-90 180.3 474.3)">FASL</text>
<text x="191" y="474.3" font-size="5.9" fill="#111" text-anchor="end" transform="rotate(-90 191 474.3)">CD69</text>
<text x="201.7" y="474.3" font-size="5.9" fill="#111" text-anchor="end" transform="rotate(-90 201.7 474.3)">PD-1</text>
<text x="212.5" y="474.3" font-size="5.9" fill="#111" text-anchor="end" transform="rotate(-90 212.5 474.3)">Ki-67</text>
<text x="223.2" y="474.3" font-size="5.9" fill="#111" text-anchor="end" transform="rotate(-90 223.2 474.3)">HLA-DR</text>
<text x="233.9" y="474.3" font-size="5.9" fill="#111" text-anchor="end" transform="rotate(-90 233.9 474.3)">TRAIL</text>
<text x="244.7" y="474.3" font-size="5.9" fill="#111" text-anchor="end" transform="rotate(-90 244.7 474.3)">CD38</text>
<text x="255.4" y="474.3" font-size="5.9" fill="#111" text-anchor="end" transform="rotate(-90 255.4 474.3)">CD16</text>
<text x="266.1" y="474.3" font-size="5.9" fill="#111" text-anchor="end" transform="rotate(-90 266.1 474.3)">DNAM1</text>
<text x="276.9" y="474.3" font-size="5.9" fill="#111" text-anchor="end" transform="rotate(-90 276.9 474.3)">PD-L1</text>
<text x="287.6" y="474.3" font-size="5.9" fill="#111" text-anchor="end" transform="rotate(-90 287.6 474.3)">CD56</text>
<text x="298.3" y="474.3" font-size="5.9" fill="#111" text-anchor="end" transform="rotate(-90 298.3 474.3)">TIM-3</text>
<text x="309.1" y="474.3" font-size="5.9" fill="#111" text-anchor="end" transform="rotate(-90 309.1 474.3)">perforin</text>
<rect x="332.1" y="295.3" width="3.5" height="46" fill="url(#zs)"/>
<text x="336.8" y="303.5" font-size="2.8" fill="#333">1</text>
<text x="336.8" y="311.6" font-size="2.8" fill="#333">0.5</text>
<text x="336.8" y="318.9" font-size="2.8" fill="#333">0</text>
<text x="336.8" y="327.3" font-size="2.8" fill="#333">-0.5</text>
<text x="336.8" y="335.6" font-size="2.8" fill="#333">-1</text>
<text x="330.6" y="318.3" font-size="4.0" fill="#222" text-anchor="middle" transform="rotate(-90 330.6 318.3)">Column Z-score</text>
<rect x="328.6" y="437" width="3" height="36.8" fill="url(#zs)"/>
<text x="332.8" y="442.4" font-size="2.8" fill="#333">1</text>
<text x="332.8" y="449.4" font-size="2.8" fill="#333">0.5</text>
<text x="332.8" y="456.3" font-size="2.8" fill="#333">0</text>
<text x="332.8" y="463.2" font-size="2.8" fill="#333">-0.5</text>
<text x="332.8" y="470.1" font-size="2.8" fill="#333">-1</text>
<text x="327.2" y="455.4" font-size="4.0" fill="#222" text-anchor="middle" transform="rotate(-90 327.2 455.4)">Column Z-score</text>
<defs><filter id="rough" x="-5%" y="-5%" width="110%" height="110%"><feTurbulence type="fractalNoise" baseFrequency="0.9" numOctaves="2" seed="11" result="t"/><feDisplacementMap in="SourceGraphic" in2="t" scale="2.2" xChannelSelector="R" yChannelSelector="G"/></filter></defs>
<defs><filter id="wn0" x="0" y="0" width="100%" height="100%"><feTurbulence type="fractalNoise" baseFrequency="1.8" numOctaves="2" seed="3" result="t"/><feColorMatrix in="t" type="matrix" values="0 0 0 0 1  0 0 0 0 1  0 0 0 0 1  0 0 0 -3.4 1.78"/></filter><filter id="wn1" x="0" y="0" width="100%" height="100%"><feTurbulence type="fractalNoise" baseFrequency="1.8" numOctaves="2" seed="10" result="t"/><feColorMatrix in="t" type="matrix" values="0 0 0 0 1  0 0 0 0 1  0 0 0 0 1  0 0 0 -3.4 1.78"/></filter><filter id="wn2" x="0" y="0" width="100%" height="100%"><feTurbulence type="fractalNoise" baseFrequency="1.8" numOctaves="2" seed="17" result="t"/><feColorMatrix in="t" type="matrix" values="0 0 0 0 1  0 0 0 0 1  0 0 0 0 1  0 0 0 -3.4 1.78"/></filter></defs>
<rect x="146.6" y="375.8" width="40.3" height="45" fill="#fff" stroke="#cfcfcf" stroke-width="0.7"/>
<text x="166.8" y="374" font-size="4.6" font-weight="bold" text-anchor="middle">NKG2A</text>
<clipPath id="fc1"><path d="M149.00,393.00 C149.43,390.80 151.47,389.13 153.00,387.70 C154.53,386.27 156.23,385.17 158.20,384.40 C160.17,383.63 162.60,383.42 164.80,383.10 C167.00,382.78 169.75,383.27 171.40,382.50 C173.05,381.73 173.38,379.27 174.70,378.50 C176.02,377.73 178.10,377.47 179.30,377.90 C180.50,378.33 181.25,379.25 181.90,381.10 C182.55,382.95 182.87,386.15 183.20,389.00 C183.53,391.85 184.33,395.35 183.90,398.20 C183.47,401.05 181.48,403.90 180.60,406.10 C179.72,408.30 179.03,409.87 178.60,411.40 C178.17,412.93 179.20,414.53 178.00,415.30 C176.80,416.07 173.17,416.43 171.40,416.00 C169.63,415.57 168.28,414.57 167.40,412.70 C166.52,410.83 166.97,406.33 166.10,404.80 C165.23,403.27 163.52,403.28 162.20,403.50 C160.88,403.72 159.85,405.88 158.20,406.10 C156.55,406.32 153.60,405.67 152.30,404.80 C151.00,403.93 150.95,402.87 150.40,400.90 C149.85,398.93 148.57,395.20 149.00,393.00 Z"/></clipPath>
<g filter="url(#rough)"><g clip-path="url(#fc1)">
<path d="M149.00,393.00 C149.43,390.80 151.47,389.13 153.00,387.70 C154.53,386.27 156.23,385.17 158.20,384.40 C160.17,383.63 162.60,383.42 164.80,383.10 C167.00,382.78 169.75,383.27 171.40,382.50 C173.05,381.73 173.38,379.27 174.70,378.50 C176.02,377.73 178.10,377.47 179.30,377.90 C180.50,378.33 181.25,379.25 181.90,381.10 C182.55,382.95 182.87,386.15 183.20,389.00 C183.53,391.85 184.33,395.35 183.90,398.20 C183.47,401.05 181.48,403.90 180.60,406.10 C179.72,408.30 179.03,409.87 178.60,411.40 C178.17,412.93 179.20,414.53 178.00,415.30 C176.80,416.07 173.17,416.43 171.40,416.00 C169.63,415.57 168.28,414.57 167.40,412.70 C166.52,410.83 166.97,406.33 166.10,404.80 C165.23,403.27 163.52,403.28 162.20,403.50 C160.88,403.72 159.85,405.88 158.20,406.10 C156.55,406.32 153.60,405.67 152.30,404.80 C151.00,403.93 150.95,402.87 150.40,400.90 C149.85,398.93 148.57,395.20 149.00,393.00 Z" fill="#3cc44a"/>
<ellipse cx="178.8" cy="379.4" rx="3.5" ry="3" fill="#f0a010" fill-opacity="0.95" filter="url(#b15)"/>
<ellipse cx="182.9" cy="389.3" rx="2" ry="5" fill="#d8e010" fill-opacity="0.7" filter="url(#b15)"/>
<ellipse cx="168.8" cy="402.8" rx="5" ry="10" fill="#1e9c6a" fill-opacity="0.6" filter="url(#b15)"/>
<ellipse cx="158.7" cy="393.8" rx="4" ry="4" fill="#70e030" fill-opacity="0.5" filter="url(#b15)"/>
<ellipse cx="163.5" cy="405.5" rx="1.5" ry="3" fill="#ffffff" fill-opacity="0.5" filter="url(#b15)"/>
<ellipse cx="182.9" cy="402.8" rx="1.5" ry="4" fill="#c0e020" fill-opacity="0.5" filter="url(#b15)"/>
<path d="M166.4 388.0h.8v.8h-.8zM183.2 390.1h.8v.8h-.8zM163.9 397.6h.8v.8h-.8zM178.7 409.5h.8v.8h-.8zM154.7 399.7h.8v.8h-.8zM178.5 391.4h.8v.8h-.8zM166.2 394.4h.8v.8h-.8zM180.6 390.3h.8v.8h-.8zM158.2 386.5h.8v.8h-.8zM150.7 399.3h.8v.8h-.8zM177.0 403.3h.8v.8h-.8zM174.4 414.5h.8v.8h-.8zM176.6 382.5h.8v.8h-.8zM176.2 409.4h.8v.8h-.8zM164.8 394.9h.8v.8h-.8zM181.2 382.3h.8v.8h-.8zM166.4 393.9h.8v.8h-.8zM162.7 400.1h.8v.8h-.8zM180.9 397.7h.8v.8h-.8zM168.2 387.5h.8v.8h-.8zM173.6 412.2h.8v.8h-.8zM155.0 395.2h.8v.8h-.8zM160.7 395.8h.8v.8h-.8zM173.2 399.9h.8v.8h-.8zM165.9 384.7h.8v.8h-.8zM169.1 383.2h.8v.8h-.8zM166.3 392.2h.8v.8h-.8zM170.4 408.8h.8v.8h-.8zM173.5 413.4h.8v.8h-.8zM153.8 397.6h.8v.8h-.8zM170.0 398.3h.8v.8h-.8zM174.6 397.3h.8v.8h-.8zM154.8 399.2h.8v.8h-.8zM178.7 398.4h.8v.8h-.8zM173.8 379.8h.8v.8h-.8zM168.3 405.8h.8v.8h-.8zM178.2 398.0h.8v.8h-.8zM175.8 380.3h.8v.8h-.8zM179.9 390.7h.8v.8h-.8zM163.7 395.2h.8v.8h-.8zM165.5 395.2h.8v.8h-.8zM181.1 404.7h.8v.8h-.8zM161.3 398.2h.8v.8h-.8zM156.9 386.3h.8v.8h-.8zM174.4 395.4h.8v.8h-.8zM153.8 402.0h.8v.8h-.8zM167.2 392.0h.8v.8h-.8zM160.3 387.0h.8v.8h-.8zM175.6 412.9h.8v.8h-.8zM172.8 402.7h.8v.8h-.8zM155.6 392.3h.8v.8h-.8z" fill="#40c040" fill-opacity="0.75"/>
<path d="M173.2 407.1h.8v.8h-.8zM175.5 383.6h.8v.8h-.8zM168.8 389.6h.8v.8h-.8zM166.5 387.1h.8v.8h-.8zM170.1 409.4h.8v.8h-.8zM160.0 392.4h.8v.8h-.8zM173.6 394.7h.8v.8h-.8zM150.5 396.0h.8v.8h-.8zM167.5 392.9h.8v.8h-.8zM160.8 392.1h.8v.8h-.8zM180.4 403.0h.8v.8h-.8zM156.4 401.9h.8v.8h-.8zM178.1 395.2h.8v.8h-.8zM163.0 403.6h.8v.8h-.8zM167.4 403.7h.8v.8h-.8zM175.4 390.4h.8v.8h-.8zM175.5 409.1h.8v.8h-.8zM181.0 403.3h.8v.8h-.8zM156.9 395.5h.8v.8h-.8zM167.8 408.5h.8v.8h-.8zM177.7 398.6h.8v.8h-.8zM177.9 405.0h.8v.8h-.8zM174.5 403.0h.8v.8h-.8zM183.5 395.0h.8v.8h-.8zM162.9 398.2h.8v.8h-.8zM179.9 382.0h.8v.8h-.8zM159.7 388.8h.8v.8h-.8zM150.8 399.5h.8v.8h-.8zM166.9 396.2h.8v.8h-.8zM183.1 399.6h.8v.8h-.8zM167.6 394.3h.8v.8h-.8zM160.0 403.8h.8v.8h-.8zM168.0 411.9h.8v.8h-.8zM172.8 408.1h.8v.8h-.8zM174.0 402.5h.8v.8h-.8zM167.0 386.8h.8v.8h-.8zM170.3 412.4h.8v.8h-.8zM176.8 409.5h.8v.8h-.8zM168.3 403.8h.8v.8h-.8zM159.5 389.2h.8v.8h-.8zM180.2 395.2h.8v.8h-.8zM166.9 403.3h.8v.8h-.8zM173.5 409.2h.8v.8h-.8zM174.2 414.4h.8v.8h-.8zM178.2 401.9h.8v.8h-.8zM174.1 386.3h.8v.8h-.8zM156.1 390.3h.8v.8h-.8zM162.1 396.7h.8v.8h-.8z" fill="#70d830" fill-opacity="0.75"/>
<path d="M152.0 390.0h.8v.8h-.8zM181.5 391.1h.8v.8h-.8zM176.9 394.5h.8v.8h-.8zM153.4 401.6h.8v.8h-.8zM163.4 401.7h.8v.8h-.8zM160.7 402.0h.8v.8h-.8zM175.8 392.8h.8v.8h-.8zM163.1 391.7h.8v.8h-.8zM183.7 398.7h.8v.8h-.8zM175.7 405.8h.8v.8h-.8zM175.9 397.2h.8v.8h-.8zM159.1 403.6h.8v.8h-.8zM161.6 392.7h.8v.8h-.8zM175.6 393.4h.8v.8h-.8zM165.8 387.3h.8v.8h-.8zM167.4 400.5h.8v.8h-.8zM177.8 410.7h.8v.8h-.8zM183.7 397.7h.8v.8h-.8zM161.0 387.2h.8v.8h-.8zM170.6 402.9h.8v.8h-.8zM174.3 407.3h.8v.8h-.8zM167.2 398.3h.8v.8h-.8zM159.1 389.8h.8v.8h-.8zM161.0 384.1h.8v.8h-.8zM174.4 387.4h.8v.8h-.8zM174.4 414.8h.8v.8h-.8zM175.4 398.8h.8v.8h-.8zM153.8 398.4h.8v.8h-.8zM166.4 394.9h.8v.8h-.8zM175.9 409.5h.8v.8h-.8zM171.4 413.8h.8v.8h-.8zM163.7 397.5h.8v.8h-.8zM174.9 388.5h.8v.8h-.8zM175.4 392.2h.8v.8h-.8zM162.2 392.3h.8v.8h-.8zM180.1 400.6h.8v.8h-.8zM176.9 411.3h.8v.8h-.8zM182.6 393.2h.8v.8h-.8zM158.6 385.8h.8v.8h-.8zM160.7 394.1h.8v.8h-.8zM180.5 382.6h.8v.8h-.8zM171.6 410.0h.8v.8h-.8zM169.2 403.9h.8v.8h-.8zM153.5 397.6h.8v.8h-.8zM169.9 399.2h.8v.8h-.8zM166.4 405.4h.8v.8h-.8zM166.4 404.0h.8v.8h-.8zM155.7 399.2h.8v.8h-.8zM159.3 399.8h.8v.8h-.8zM167.0 399.9h.8v.8h-.8zM175.6 402.1h.8v.8h-.8z" fill="#20a060" fill-opacity="0.75"/>
<path d="M170.1 390.6h.8v.8h-.8zM156.0 394.8h.8v.8h-.8zM178.8 401.7h.8v.8h-.8zM167.4 395.6h.8v.8h-.8zM167.8 404.0h.8v.8h-.8zM167.6 409.0h.8v.8h-.8zM159.5 396.4h.8v.8h-.8zM157.4 404.4h.8v.8h-.8zM180.2 397.9h.8v.8h-.8zM172.2 398.2h.8v.8h-.8zM167.5 399.4h.8v.8h-.8zM168.1 402.1h.8v.8h-.8zM167.8 401.4h.8v.8h-.8zM165.8 388.3h.8v.8h-.8zM151.2 400.2h.8v.8h-.8zM179.4 394.2h.8v.8h-.8zM161.7 402.8h.8v.8h-.8zM179.7 396.9h.8v.8h-.8zM174.7 384.8h.8v.8h-.8zM180.0 388.6h.8v.8h-.8zM174.0 404.8h.8v.8h-.8zM167.0 389.2h.8v.8h-.8zM168.1 407.7h.8v.8h-.8zM177.3 396.5h.8v.8h-.8zM170.7 397.4h.8v.8h-.8zM177.2 388.6h.8v.8h-.8zM156.1 398.5h.8v.8h-.8zM158.4 391.2h.8v.8h-.8zM174.8 380.1h.8v.8h-.8zM169.1 406.9h.8v.8h-.8zM156.4 391.6h.8v.8h-.8zM177.2 400.9h.8v.8h-.8zM162.6 390.1h.8v.8h-.8zM158.5 392.8h.8v.8h-.8zM169.2 384.4h.8v.8h-.8zM168.3 383.3h.8v.8h-.8zM174.0 384.1h.8v.8h-.8zM156.9 394.0h.8v.8h-.8zM172.7 409.7h.8v.8h-.8zM155.6 395.7h.8v.8h-.8zM175.5 379.4h.8v.8h-.8zM154.8 398.0h.8v.8h-.8zM156.3 403.2h.8v.8h-.8zM162.3 384.1h.8v.8h-.8zM181.8 383.4h.8v.8h-.8zM175.4 396.6h.8v.8h-.8zM177.7 414.9h.8v.8h-.8zM178.6 380.9h.8v.8h-.8zM172.1 395.8h.8v.8h-.8zM177.0 381.6h.8v.8h-.8z" fill="#30b080" fill-opacity="0.75"/>
<rect x="146.6" y="375.8" width="40.3" height="45.0" fill="#fff" filter="url(#wn2)"/>
</g></g>
<rect x="189.5" y="375.8" width="40.3" height="45" fill="#fff" stroke="#cfcfcf" stroke-width="0.7"/>
<text x="209.7" y="374" font-size="4.6" font-weight="bold" text-anchor="middle">NKG2C</text>
<clipPath id="fc2"><path d="M191.90,393.00 C192.33,390.80 194.37,389.13 195.90,387.70 C197.43,386.27 199.13,385.17 201.10,384.40 C203.07,383.63 205.50,383.42 207.70,383.10 C209.90,382.78 212.65,383.27 214.30,382.50 C215.95,381.73 216.28,379.27 217.60,378.50 C218.92,377.73 221.00,377.47 222.20,377.90 C223.40,378.33 224.15,379.25 224.80,381.10 C225.45,382.95 225.77,386.15 226.10,389.00 C226.43,391.85 227.23,395.35 226.80,398.20 C226.37,401.05 224.38,403.90 223.50,406.10 C222.62,408.30 221.93,409.87 221.50,411.40 C221.07,412.93 222.10,414.53 220.90,415.30 C219.70,416.07 216.07,416.43 214.30,416.00 C212.53,415.57 211.18,414.57 210.30,412.70 C209.42,410.83 209.87,406.33 209.00,404.80 C208.13,403.27 206.42,403.28 205.10,403.50 C203.78,403.72 202.75,405.88 201.10,406.10 C199.45,406.32 196.50,405.67 195.20,404.80 C193.90,403.93 193.85,402.87 193.30,400.90 C192.75,398.93 191.47,395.20 191.90,393.00 Z"/></clipPath>
<g filter="url(#rough)"><g clip-path="url(#fc2)">
<path d="M191.90,393.00 C192.33,390.80 194.37,389.13 195.90,387.70 C197.43,386.27 199.13,385.17 201.10,384.40 C203.07,383.63 205.50,383.42 207.70,383.10 C209.90,382.78 212.65,383.27 214.30,382.50 C215.95,381.73 216.28,379.27 217.60,378.50 C218.92,377.73 221.00,377.47 222.20,377.90 C223.40,378.33 224.15,379.25 224.80,381.10 C225.45,382.95 225.77,386.15 226.10,389.00 C226.43,391.85 227.23,395.35 226.80,398.20 C226.37,401.05 224.38,403.90 223.50,406.10 C222.62,408.30 221.93,409.87 221.50,411.40 C221.07,412.93 222.10,414.53 220.90,415.30 C219.70,416.07 216.07,416.43 214.30,416.00 C212.53,415.57 211.18,414.57 210.30,412.70 C209.42,410.83 209.87,406.33 209.00,404.80 C208.13,403.27 206.42,403.28 205.10,403.50 C203.78,403.72 202.75,405.88 201.10,406.10 C199.45,406.32 196.50,405.67 195.20,404.80 C193.90,403.93 193.85,402.87 193.30,400.90 C192.75,398.93 191.47,395.20 191.90,393.00 Z" fill="#88d838"/>
<ellipse cx="211.7" cy="409.6" rx="5" ry="6" fill="#f0a010" fill-opacity="0.75" filter="url(#b15)"/>
<ellipse cx="213.7" cy="415.4" rx="3" ry="3" fill="#f08010" fill-opacity="0.5" filter="url(#b15)"/>
<ellipse cx="199.6" cy="402.8" rx="3" ry="3" fill="#e8c020" fill-opacity="0.5" filter="url(#b15)"/>
<ellipse cx="209.7" cy="389.3" rx="6" ry="5" fill="#40d040" fill-opacity="0.5" filter="url(#b15)"/>
<ellipse cx="223.8" cy="384.8" rx="3" ry="4" fill="#30c060" fill-opacity="0.5" filter="url(#b15)"/>
<ellipse cx="206.4" cy="405.5" rx="1.5" ry="3" fill="#ffffff" fill-opacity="0.5" filter="url(#b15)"/>
<path d="M200.4 397.0h.8v.8h-.8zM223.5 398.8h.8v.8h-.8zM215.2 394.8h.8v.8h-.8zM211.1 411.6h.8v.8h-.8zM209.6 399.4h.8v.8h-.8zM220.0 385.3h.8v.8h-.8zM207.8 402.3h.8v.8h-.8zM220.3 413.7h.8v.8h-.8zM199.7 386.4h.8v.8h-.8zM196.9 404.3h.8v.8h-.8zM202.3 399.0h.8v.8h-.8zM211.2 384.5h.8v.8h-.8zM207.7 388.3h.8v.8h-.8zM220.1 414.2h.8v.8h-.8zM218.8 391.4h.8v.8h-.8zM216.8 400.3h.8v.8h-.8zM217.2 386.6h.8v.8h-.8zM215.3 412.2h.8v.8h-.8zM217.2 393.8h.8v.8h-.8zM205.3 387.6h.8v.8h-.8zM214.2 393.6h.8v.8h-.8zM217.4 412.8h.8v.8h-.8zM219.0 387.2h.8v.8h-.8zM224.6 386.3h.8v.8h-.8zM212.0 399.4h.8v.8h-.8zM213.2 401.7h.8v.8h-.8zM201.2 398.5h.8v.8h-.8zM216.3 386.2h.8v.8h-.8zM225.2 399.7h.8v.8h-.8zM200.9 400.9h.8v.8h-.8zM198.1 391.9h.8v.8h-.8zM220.2 383.6h.8v.8h-.8zM193.4 395.1h.8v.8h-.8zM211.6 389.1h.8v.8h-.8zM222.3 390.8h.8v.8h-.8zM206.4 390.6h.8v.8h-.8z" fill="#b0e020" fill-opacity="0.75"/>
<path d="M221.0 387.6h.8v.8h-.8zM195.7 398.8h.8v.8h-.8zM226.0 392.0h.8v.8h-.8zM209.2 397.7h.8v.8h-.8zM202.6 398.1h.8v.8h-.8zM221.2 378.9h.8v.8h-.8zM215.3 383.9h.8v.8h-.8zM216.5 403.4h.8v.8h-.8zM219.0 388.5h.8v.8h-.8zM220.1 387.8h.8v.8h-.8zM210.7 393.8h.8v.8h-.8zM207.3 386.5h.8v.8h-.8zM199.9 403.4h.8v.8h-.8zM211.4 410.3h.8v.8h-.8zM221.8 408.4h.8v.8h-.8zM202.0 402.1h.8v.8h-.8zM203.3 400.3h.8v.8h-.8zM212.1 407.0h.8v.8h-.8zM219.0 402.5h.8v.8h-.8zM215.5 385.4h.8v.8h-.8zM221.3 388.4h.8v.8h-.8zM196.4 393.5h.8v.8h-.8zM194.6 394.0h.8v.8h-.8zM212.2 408.2h.8v.8h-.8zM211.0 386.7h.8v.8h-.8zM204.6 385.5h.8v.8h-.8zM219.3 380.1h.8v.8h-.8zM226.2 395.8h.8v.8h-.8zM209.0 401.3h.8v.8h-.8zM206.5 389.0h.8v.8h-.8zM212.9 399.8h.8v.8h-.8zM197.4 390.0h.8v.8h-.8zM204.9 391.6h.8v.8h-.8zM216.4 404.9h.8v.8h-.8zM207.6 386.3h.8v.8h-.8zM219.1 394.4h.8v.8h-.8zM207.0 385.6h.8v.8h-.8zM209.3 399.4h.8v.8h-.8zM201.6 390.5h.8v.8h-.8zM200.2 403.9h.8v.8h-.8zM216.4 400.8h.8v.8h-.8zM217.1 403.3h.8v.8h-.8zM200.7 391.8h.8v.8h-.8zM218.7 414.1h.8v.8h-.8zM216.6 390.3h.8v.8h-.8zM207.7 400.6h.8v.8h-.8zM213.8 412.2h.8v.8h-.8zM223.6 396.0h.8v.8h-.8zM212.9 388.3h.8v.8h-.8zM201.8 401.6h.8v.8h-.8zM215.6 388.1h.8v.8h-.8zM224.0 389.4h.8v.8h-.8z" fill="#40c040" fill-opacity="0.75"/>
<path d="M211.0 395.6h.8v.8h-.8zM220.7 409.1h.8v.8h-.8zM214.6 415.3h.8v.8h-.8zM224.4 402.4h.8v.8h-.8zM210.3 411.4h.8v.8h-.8zM208.3 396.3h.8v.8h-.8zM193.8 395.6h.8v.8h-.8zM217.2 399.1h.8v.8h-.8zM218.2 414.0h.8v.8h-.8zM205.4 390.1h.8v.8h-.8zM203.4 395.3h.8v.8h-.8zM217.8 390.3h.8v.8h-.8zM202.0 395.1h.8v.8h-.8zM208.8 398.3h.8v.8h-.8zM217.3 409.5h.8v.8h-.8zM208.6 383.0h.8v.8h-.8zM214.8 400.9h.8v.8h-.8zM199.6 386.2h.8v.8h-.8zM220.4 397.8h.8v.8h-.8zM194.3 391.5h.8v.8h-.8zM219.6 398.2h.8v.8h-.8zM212.1 384.5h.8v.8h-.8zM200.2 391.8h.8v.8h-.8zM221.0 401.2h.8v.8h-.8zM194.5 397.0h.8v.8h-.8zM221.1 411.1h.8v.8h-.8zM209.4 406.0h.8v.8h-.8zM223.1 380.5h.8v.8h-.8zM215.5 397.3h.8v.8h-.8zM211.5 386.0h.8v.8h-.8zM200.0 393.5h.8v.8h-.8zM203.6 384.4h.8v.8h-.8zM207.4 404.2h.8v.8h-.8zM216.0 400.0h.8v.8h-.8zM213.4 413.7h.8v.8h-.8zM207.3 386.2h.8v.8h-.8zM219.0 394.6h.8v.8h-.8zM205.8 386.3h.8v.8h-.8z" fill="#f09000" fill-opacity="0.75"/>
<path d="M210.2 390.9h.8v.8h-.8zM221.7 379.0h.8v.8h-.8zM224.8 391.1h.8v.8h-.8zM211.1 411.7h.8v.8h-.8zM210.2 407.8h.8v.8h-.8zM210.5 394.5h.8v.8h-.8zM222.9 402.2h.8v.8h-.8zM218.4 406.4h.8v.8h-.8zM192.8 393.1h.8v.8h-.8zM217.2 386.6h.8v.8h-.8zM197.8 404.3h.8v.8h-.8zM195.1 401.8h.8v.8h-.8zM213.7 389.7h.8v.8h-.8zM210.5 401.5h.8v.8h-.8zM221.8 405.0h.8v.8h-.8zM224.2 388.1h.8v.8h-.8zM201.9 387.5h.8v.8h-.8zM212.6 383.0h.8v.8h-.8zM195.7 396.6h.8v.8h-.8zM215.4 391.5h.8v.8h-.8zM195.3 401.4h.8v.8h-.8zM203.6 401.8h.8v.8h-.8zM198.1 387.0h.8v.8h-.8zM222.5 385.4h.8v.8h-.8zM205.9 389.9h.8v.8h-.8zM221.2 412.7h.8v.8h-.8zM208.0 388.2h.8v.8h-.8zM203.3 393.5h.8v.8h-.8zM213.9 390.3h.8v.8h-.8zM221.2 385.7h.8v.8h-.8zM215.1 398.7h.8v.8h-.8zM200.8 394.0h.8v.8h-.8zM210.3 396.6h.8v.8h-.8zM197.5 405.0h.8v.8h-.8zM210.5 412.4h.8v.8h-.8zM197.3 399.3h.8v.8h-.8zM222.5 397.1h.8v.8h-.8zM217.8 414.7h.8v.8h-.8zM220.2 378.5h.8v.8h-.8zM220.1 389.1h.8v.8h-.8zM197.0 391.8h.8v.8h-.8zM199.7 392.3h.8v.8h-.8zM212.3 409.3h.8v.8h-.8z" fill="#f0b000" fill-opacity="0.75"/>
<path d="M205.4 388.5h.8v.8h-.8zM195.8 395.6h.8v.8h-.8zM218.6 390.4h.8v.8h-.8zM224.2 400.4h.8v.8h-.8zM198.0 396.3h.8v.8h-.8zM220.1 411.8h.8v.8h-.8zM208.3 398.9h.8v.8h-.8zM199.9 401.8h.8v.8h-.8zM211.7 387.1h.8v.8h-.8zM210.3 410.4h.8v.8h-.8zM217.7 386.6h.8v.8h-.8zM214.3 389.5h.8v.8h-.8zM214.7 389.0h.8v.8h-.8zM217.4 381.1h.8v.8h-.8zM219.2 411.1h.8v.8h-.8zM221.0 379.1h.8v.8h-.8zM212.4 391.2h.8v.8h-.8zM210.9 407.8h.8v.8h-.8zM212.3 400.6h.8v.8h-.8zM195.4 396.9h.8v.8h-.8zM224.5 393.5h.8v.8h-.8zM212.6 406.0h.8v.8h-.8zM220.9 404.7h.8v.8h-.8zM219.5 380.8h.8v.8h-.8zM211.4 386.9h.8v.8h-.8zM218.4 395.1h.8v.8h-.8zM218.7 381.4h.8v.8h-.8zM217.7 395.9h.8v.8h-.8zM217.7 408.8h.8v.8h-.8zM218.0 388.2h.8v.8h-.8zM196.8 403.3h.8v.8h-.8z" fill="#60d030" fill-opacity="0.75"/>
<rect x="189.5" y="375.8" width="40.3" height="45.0" fill="#fff" filter="url(#wn0)"/>
</g></g>
<rect x="232.4" y="375.8" width="40.3" height="45" fill="#fff" stroke="#cfcfcf" stroke-width="0.7"/>
<text x="252.6" y="374" font-size="4.6" font-weight="bold" text-anchor="middle">NKG2D</text>
<clipPath id="fc3"><path d="M234.80,393.00 C235.23,390.80 237.27,389.13 238.80,387.70 C240.33,386.27 242.03,385.17 244.00,384.40 C245.97,383.63 248.40,383.42 250.60,383.10 C252.80,382.78 255.55,383.27 257.20,382.50 C258.85,381.73 259.18,379.27 260.50,378.50 C261.82,377.73 263.90,377.47 265.10,377.90 C266.30,378.33 267.05,379.25 267.70,381.10 C268.35,382.95 268.67,386.15 269.00,389.00 C269.33,391.85 270.13,395.35 269.70,398.20 C269.27,401.05 267.28,403.90 266.40,406.10 C265.52,408.30 264.83,409.87 264.40,411.40 C263.97,412.93 265.00,414.53 263.80,415.30 C262.60,416.07 258.97,416.43 257.20,416.00 C255.43,415.57 254.08,414.57 253.20,412.70 C252.32,410.83 252.77,406.33 251.90,404.80 C251.03,403.27 249.32,403.28 248.00,403.50 C246.68,403.72 245.65,405.88 244.00,406.10 C242.35,406.32 239.40,405.67 238.10,404.80 C236.80,403.93 236.75,402.87 236.20,400.90 C235.65,398.93 234.37,395.20 234.80,393.00 Z"/></clipPath>
<g filter="url(#rough)"><g clip-path="url(#fc3)">
<path d="M234.80,393.00 C235.23,390.80 237.27,389.13 238.80,387.70 C240.33,386.27 242.03,385.17 244.00,384.40 C245.97,383.63 248.40,383.42 250.60,383.10 C252.80,382.78 255.55,383.27 257.20,382.50 C258.85,381.73 259.18,379.27 260.50,378.50 C261.82,377.73 263.90,377.47 265.10,377.90 C266.30,378.33 267.05,379.25 267.70,381.10 C268.35,382.95 268.67,386.15 269.00,389.00 C269.33,391.85 270.13,395.35 269.70,398.20 C269.27,401.05 267.28,403.90 266.40,406.10 C265.52,408.30 264.83,409.87 264.40,411.40 C263.97,412.93 265.00,414.53 263.80,415.30 C262.60,416.07 258.97,416.43 257.20,416.00 C255.43,415.57 254.08,414.57 253.20,412.70 C252.32,410.83 252.77,406.33 251.90,404.80 C251.03,403.27 249.32,403.28 248.00,403.50 C246.68,403.72 245.65,405.88 244.00,406.10 C242.35,406.32 239.40,405.67 238.10,404.80 C236.80,403.93 236.75,402.87 236.20,400.90 C235.65,398.93 234.37,395.20 234.80,393.00 Z" fill="#a8e030"/>
<ellipse cx="256.6" cy="400.6" rx="5" ry="6" fill="#f0c010" fill-opacity="0.6" filter="url(#b15)"/>
<ellipse cx="265.4" cy="387.1" rx="2.5" ry="4" fill="#f09010" fill-opacity="0.6" filter="url(#b15)"/>
<ellipse cx="244.5" cy="391.6" rx="4" ry="4" fill="#70d830" fill-opacity="0.5" filter="url(#b15)"/>
<ellipse cx="238.4" cy="396.1" rx="2" ry="3" fill="#60c0a0" fill-opacity="0.4" filter="url(#b15)"/>
<ellipse cx="249.3" cy="405.5" rx="1.5" ry="3" fill="#ffffff" fill-opacity="0.5" filter="url(#b15)"/>
<path d="M260.1 396.3h.8v.8h-.8zM249.2 384.9h.8v.8h-.8zM267.9 399.8h.8v.8h-.8zM260.1 412.3h.8v.8h-.8zM241.5 398.8h.8v.8h-.8zM259.8 389.3h.8v.8h-.8zM252.4 385.2h.8v.8h-.8zM255.4 400.0h.8v.8h-.8zM262.2 402.5h.8v.8h-.8zM240.3 398.3h.8v.8h-.8zM246.6 402.5h.8v.8h-.8zM268.1 399.7h.8v.8h-.8zM269.2 392.2h.8v.8h-.8zM249.4 398.7h.8v.8h-.8zM240.7 400.2h.8v.8h-.8zM240.4 396.1h.8v.8h-.8zM258.0 383.3h.8v.8h-.8zM269.1 396.4h.8v.8h-.8zM251.3 387.3h.8v.8h-.8zM239.9 390.3h.8v.8h-.8zM260.9 399.3h.8v.8h-.8zM244.8 402.0h.8v.8h-.8zM238.1 401.8h.8v.8h-.8zM264.8 393.1h.8v.8h-.8zM240.3 397.8h.8v.8h-.8zM256.3 415.1h.8v.8h-.8zM265.7 386.1h.8v.8h-.8zM247.6 392.0h.8v.8h-.8zM247.1 386.9h.8v.8h-.8zM268.6 397.3h.8v.8h-.8zM259.4 388.7h.8v.8h-.8zM240.6 394.2h.8v.8h-.8zM244.1 399.5h.8v.8h-.8zM258.1 408.8h.8v.8h-.8zM235.4 393.4h.8v.8h-.8zM265.2 388.3h.8v.8h-.8zM255.0 398.9h.8v.8h-.8zM262.3 414.4h.8v.8h-.8zM255.5 409.9h.8v.8h-.8zM254.1 389.4h.8v.8h-.8zM267.8 386.2h.8v.8h-.8zM258.7 391.5h.8v.8h-.8z" fill="#f0b000" fill-opacity="0.75"/>
<path d="M253.8 394.6h.8v.8h-.8zM253.8 383.3h.8v.8h-.8zM255.7 385.6h.8v.8h-.8zM261.4 381.2h.8v.8h-.8zM259.7 386.0h.8v.8h-.8zM263.4 395.2h.8v.8h-.8zM243.9 393.4h.8v.8h-.8zM252.3 403.5h.8v.8h-.8zM260.7 387.3h.8v.8h-.8zM247.6 385.3h.8v.8h-.8zM257.5 395.4h.8v.8h-.8zM261.2 385.9h.8v.8h-.8zM267.8 399.5h.8v.8h-.8zM243.2 389.9h.8v.8h-.8zM253.0 396.1h.8v.8h-.8zM251.1 400.5h.8v.8h-.8zM259.9 415.3h.8v.8h-.8zM245.2 399.2h.8v.8h-.8zM243.3 392.6h.8v.8h-.8zM253.0 384.1h.8v.8h-.8zM262.2 382.8h.8v.8h-.8zM248.1 401.2h.8v.8h-.8zM265.3 406.6h.8v.8h-.8zM239.1 404.2h.8v.8h-.8zM254.8 393.7h.8v.8h-.8zM265.5 391.9h.8v.8h-.8zM252.8 387.5h.8v.8h-.8zM244.3 393.2h.8v.8h-.8zM258.9 415.0h.8v.8h-.8zM251.9 401.1h.8v.8h-.8zM239.2 399.1h.8v.8h-.8zM250.2 402.7h.8v.8h-.8zM262.2 413.0h.8v.8h-.8zM262.4 383.9h.8v.8h-.8zM247.4 400.9h.8v.8h-.8zM240.2 388.0h.8v.8h-.8zM265.9 388.0h.8v.8h-.8zM254.8 383.6h.8v.8h-.8zM251.5 388.3h.8v.8h-.8zM262.3 398.4h.8v.8h-.8zM260.6 413.3h.8v.8h-.8zM245.0 404.9h.8v.8h-.8zM266.7 391.3h.8v.8h-.8zM238.5 393.9h.8v.8h-.8z" fill="#d8e000" fill-opacity="0.75"/>
<path d="M242.8 388.4h.8v.8h-.8zM244.6 390.2h.8v.8h-.8zM263.2 402.9h.8v.8h-.8zM257.7 398.1h.8v.8h-.8zM245.5 399.0h.8v.8h-.8zM263.2 387.0h.8v.8h-.8zM252.8 383.8h.8v.8h-.8zM262.6 404.0h.8v.8h-.8zM257.4 400.0h.8v.8h-.8zM267.0 382.3h.8v.8h-.8zM249.5 383.8h.8v.8h-.8zM249.2 393.4h.8v.8h-.8zM261.5 381.0h.8v.8h-.8zM263.9 413.5h.8v.8h-.8zM261.7 398.5h.8v.8h-.8zM264.1 403.2h.8v.8h-.8zM242.9 389.3h.8v.8h-.8zM266.3 389.5h.8v.8h-.8zM253.0 389.0h.8v.8h-.8zM240.6 389.7h.8v.8h-.8zM251.1 387.9h.8v.8h-.8zM259.6 407.0h.8v.8h-.8zM243.1 404.8h.8v.8h-.8zM255.1 384.2h.8v.8h-.8zM263.0 382.1h.8v.8h-.8zM242.7 395.2h.8v.8h-.8zM239.6 399.0h.8v.8h-.8zM264.1 405.0h.8v.8h-.8zM244.0 387.9h.8v.8h-.8zM240.5 404.6h.8v.8h-.8zM262.9 399.3h.8v.8h-.8zM263.4 385.7h.8v.8h-.8zM246.2 402.1h.8v.8h-.8zM259.0 410.6h.8v.8h-.8zM267.1 395.5h.8v.8h-.8zM258.3 390.2h.8v.8h-.8zM266.9 389.8h.8v.8h-.8zM256.5 386.2h.8v.8h-.8zM241.2 403.6h.8v.8h-.8zM241.4 400.0h.8v.8h-.8zM245.3 404.7h.8v.8h-.8zM248.7 385.4h.8v.8h-.8zM245.1 396.0h.8v.8h-.8zM249.1 395.6h.8v.8h-.8zM257.6 412.5h.8v.8h-.8zM250.6 384.3h.8v.8h-.8zM256.0 394.1h.8v.8h-.8zM257.6 406.4h.8v.8h-.8zM258.0 408.3h.8v.8h-.8zM261.8 408.5h.8v.8h-.8zM267.2 403.0h.8v.8h-.8zM239.0 398.7h.8v.8h-.8zM266.2 394.0h.8v.8h-.8zM246.9 389.3h.8v.8h-.8zM245.2 398.3h.8v.8h-.8zM241.0 393.9h.8v.8h-.8zM244.1 398.8h.8v.8h-.8zM261.8 396.1h.8v.8h-.8z" fill="#60d040" fill-opacity="0.75"/>
<path d="M253.3 403.5h.8v.8h-.8zM258.2 409.1h.8v.8h-.8zM247.4 391.9h.8v.8h-.8zM240.7 393.4h.8v.8h-.8zM244.2 402.9h.8v.8h-.8zM259.6 387.8h.8v.8h-.8zM264.2 384.4h.8v.8h-.8zM245.7 387.2h.8v.8h-.8zM259.0 409.5h.8v.8h-.8zM262.9 402.7h.8v.8h-.8zM254.6 404.5h.8v.8h-.8zM254.1 388.3h.8v.8h-.8zM242.1 392.8h.8v.8h-.8zM248.2 397.4h.8v.8h-.8zM256.7 408.0h.8v.8h-.8zM236.9 391.0h.8v.8h-.8zM264.0 378.4h.8v.8h-.8zM256.9 390.9h.8v.8h-.8zM258.3 408.7h.8v.8h-.8zM259.2 415.3h.8v.8h-.8zM262.5 379.9h.8v.8h-.8zM246.5 399.2h.8v.8h-.8zM244.8 390.4h.8v.8h-.8zM259.1 412.6h.8v.8h-.8zM250.1 383.9h.8v.8h-.8zM257.1 415.8h.8v.8h-.8zM260.1 402.9h.8v.8h-.8zM249.6 394.4h.8v.8h-.8zM257.6 402.8h.8v.8h-.8zM265.4 401.3h.8v.8h-.8zM267.8 394.0h.8v.8h-.8zM267.3 384.4h.8v.8h-.8zM241.7 404.4h.8v.8h-.8zM247.5 395.0h.8v.8h-.8zM256.0 391.0h.8v.8h-.8zM256.3 409.9h.8v.8h-.8zM264.1 382.2h.8v.8h-.8zM250.5 387.8h.8v.8h-.8zM248.8 390.4h.8v.8h-.8zM262.1 403.7h.8v.8h-.8zM249.7 397.8h.8v.8h-.8zM261.1 410.0h.8v.8h-.8zM265.8 401.3h.8v.8h-.8zM263.0 408.8h.8v.8h-.8zM266.7 381.8h.8v.8h-.8zM248.9 400.2h.8v.8h-.8zM254.7 408.0h.8v.8h-.8zM249.8 403.6h.8v.8h-.8zM244.6 391.7h.8v.8h-.8zM268.7 392.6h.8v.8h-.8zM261.4 385.0h.8v.8h-.8zM247.2 385.1h.8v.8h-.8zM254.9 403.0h.8v.8h-.8zM249.4 398.6h.8v.8h-.8zM261.6 399.2h.8v.8h-.8zM252.7 389.3h.8v.8h-.8z" fill="#90e030" fill-opacity="0.75"/>
<rect x="232.4" y="375.8" width="40.3" height="45.0" fill="#fff" filter="url(#wn1)"/>
</g></g>
<rect x="275.3" y="375.8" width="40.3" height="45" fill="#fff" stroke="#cfcfcf" stroke-width="0.7"/>
<text x="295.4" y="374" font-size="4.6" font-weight="bold" text-anchor="middle">LILRB1</text>
<clipPath id="fc4"><path d="M277.70,393.00 C278.13,390.80 280.17,389.13 281.70,387.70 C283.23,386.27 284.93,385.17 286.90,384.40 C288.87,383.63 291.30,383.42 293.50,383.10 C295.70,382.78 298.45,383.27 300.10,382.50 C301.75,381.73 302.08,379.27 303.40,378.50 C304.72,377.73 306.80,377.47 308.00,377.90 C309.20,378.33 309.95,379.25 310.60,381.10 C311.25,382.95 311.57,386.15 311.90,389.00 C312.23,391.85 313.03,395.35 312.60,398.20 C312.17,401.05 310.18,403.90 309.30,406.10 C308.42,408.30 307.73,409.87 307.30,411.40 C306.87,412.93 307.90,414.53 306.70,415.30 C305.50,416.07 301.87,416.43 300.10,416.00 C298.33,415.57 296.98,414.57 296.10,412.70 C295.22,410.83 295.67,406.33 294.80,404.80 C293.93,403.27 292.22,403.28 290.90,403.50 C289.58,403.72 288.55,405.88 286.90,406.10 C285.25,406.32 282.30,405.67 281.00,404.80 C279.70,403.93 279.65,402.87 279.10,400.90 C278.55,398.93 277.27,395.20 277.70,393.00 Z"/></clipPath>
<g filter="url(#rough)"><g clip-path="url(#fc4)">
<path d="M277.70,393.00 C278.13,390.80 280.17,389.13 281.70,387.70 C283.23,386.27 284.93,385.17 286.90,384.40 C288.87,383.63 291.30,383.42 293.50,383.10 C295.70,382.78 298.45,383.27 300.10,382.50 C301.75,381.73 302.08,379.27 303.40,378.50 C304.72,377.73 306.80,377.47 308.00,377.90 C309.20,378.33 309.95,379.25 310.60,381.10 C311.25,382.95 311.57,386.15 311.90,389.00 C312.23,391.85 313.03,395.35 312.60,398.20 C312.17,401.05 310.18,403.90 309.30,406.10 C308.42,408.30 307.73,409.87 307.30,411.40 C306.87,412.93 307.90,414.53 306.70,415.30 C305.50,416.07 301.87,416.43 300.10,416.00 C298.33,415.57 296.98,414.57 296.10,412.70 C295.22,410.83 295.67,406.33 294.80,404.80 C293.93,403.27 292.22,403.28 290.90,403.50 C289.58,403.72 288.55,405.88 286.90,406.10 C285.25,406.32 282.30,405.67 281.00,404.80 C279.70,403.93 279.65,402.87 279.10,400.90 C278.55,398.93 277.27,395.20 277.70,393.00 Z" fill="#b8e428"/>
<ellipse cx="299.5" cy="411.8" rx="5" ry="5" fill="#f0c010" fill-opacity="0.7" filter="url(#b15)"/>
<ellipse cx="303.5" cy="381.2" rx="4" ry="3" fill="#40d040" fill-opacity="0.7" filter="url(#b15)"/>
<ellipse cx="283.4" cy="396.1" rx="3" ry="4" fill="#f0d010" fill-opacity="0.5" filter="url(#b15)"/>
<ellipse cx="280.1" cy="396.1" rx="2" ry="2" fill="#f0a0a0" fill-opacity="0.4" filter="url(#b15)"/>
<ellipse cx="307.5" cy="393.8" rx="3" ry="5" fill="#70d830" fill-opacity="0.5" filter="url(#b15)"/>
<ellipse cx="292.2" cy="405.5" rx="1.5" ry="3" fill="#ffffff" fill-opacity="0.5" filter="url(#b15)"/>
<path d="M299.2 411.8h.8v.8h-.8zM305.1 399.0h.8v.8h-.8zM304.2 394.9h.8v.8h-.8zM306.3 379.9h.8v.8h-.8zM300.1 402.9h.8v.8h-.8zM287.5 394.6h.8v.8h-.8zM280.5 402.0h.8v.8h-.8zM280.8 402.4h.8v.8h-.8zM304.0 394.3h.8v.8h-.8zM294.5 403.1h.8v.8h-.8zM302.1 408.8h.8v.8h-.8zM303.9 395.1h.8v.8h-.8zM278.4 394.1h.8v.8h-.8zM280.2 395.7h.8v.8h-.8zM298.1 393.0h.8v.8h-.8zM310.6 393.2h.8v.8h-.8zM308.8 379.8h.8v.8h-.8zM290.7 401.3h.8v.8h-.8zM305.2 391.9h.8v.8h-.8zM301.3 393.4h.8v.8h-.8zM303.7 391.0h.8v.8h-.8zM310.3 389.6h.8v.8h-.8zM300.7 389.8h.8v.8h-.8zM289.7 399.8h.8v.8h-.8zM309.6 401.0h.8v.8h-.8zM300.0 398.2h.8v.8h-.8zM294.7 393.0h.8v.8h-.8zM306.6 394.8h.8v.8h-.8zM289.5 404.0h.8v.8h-.8zM296.4 411.3h.8v.8h-.8zM280.5 398.5h.8v.8h-.8zM282.6 396.5h.8v.8h-.8zM289.3 396.7h.8v.8h-.8zM283.8 396.8h.8v.8h-.8zM287.6 384.4h.8v.8h-.8zM310.0 381.0h.8v.8h-.8zM296.1 397.1h.8v.8h-.8zM306.4 379.9h.8v.8h-.8zM298.7 413.9h.8v.8h-.8zM295.8 403.7h.8v.8h-.8zM290.9 390.9h.8v.8h-.8zM304.8 397.4h.8v.8h-.8zM309.8 390.3h.8v.8h-.8zM303.0 392.9h.8v.8h-.8zM288.0 400.8h.8v.8h-.8zM299.6 389.9h.8v.8h-.8zM305.6 378.7h.8v.8h-.8zM290.8 400.3h.8v.8h-.8zM305.1 379.1h.8v.8h-.8zM287.9 403.1h.8v.8h-.8zM296.7 404.5h.8v.8h-.8zM290.2 394.0h.8v.8h-.8zM306.3 391.5h.8v.8h-.8zM283.6 399.0h.8v.8h-.8zM285.8 396.2h.8v.8h-.8zM298.3 404.2h.8v.8h-.8zM308.0 397.0h.8v.8h-.8zM297.8 412.3h.8v.8h-.8z" fill="#50d040" fill-opacity="0.75"/>
<path d="M295.2 396.3h.8v.8h-.8zM282.1 391.3h.8v.8h-.8zM309.7 398.8h.8v.8h-.8zM306.3 385.0h.8v.8h-.8zM285.4 396.2h.8v.8h-.8zM290.2 385.1h.8v.8h-.8zM297.6 395.9h.8v.8h-.8zM298.5 383.9h.8v.8h-.8zM300.7 386.2h.8v.8h-.8zM298.7 390.1h.8v.8h-.8zM288.0 385.9h.8v.8h-.8zM299.8 390.2h.8v.8h-.8zM299.4 384.5h.8v.8h-.8zM295.0 384.6h.8v.8h-.8zM289.3 390.7h.8v.8h-.8zM282.0 390.3h.8v.8h-.8zM305.9 401.2h.8v.8h-.8zM297.9 384.8h.8v.8h-.8zM289.0 401.5h.8v.8h-.8zM292.8 392.5h.8v.8h-.8zM310.0 381.5h.8v.8h-.8zM308.7 396.6h.8v.8h-.8zM291.8 384.1h.8v.8h-.8zM307.3 408.0h.8v.8h-.8zM301.9 399.2h.8v.8h-.8zM298.4 413.9h.8v.8h-.8zM305.6 398.5h.8v.8h-.8zM311.6 392.5h.8v.8h-.8zM298.9 384.3h.8v.8h-.8zM290.7 397.8h.8v.8h-.8zM309.5 403.4h.8v.8h-.8zM281.7 397.3h.8v.8h-.8zM307.5 384.4h.8v.8h-.8zM304.6 408.0h.8v.8h-.8zM305.2 402.1h.8v.8h-.8zM309.5 391.1h.8v.8h-.8zM304.3 415.3h.8v.8h-.8zM291.7 401.3h.8v.8h-.8zM280.8 394.8h.8v.8h-.8zM303.0 393.0h.8v.8h-.8zM288.1 397.5h.8v.8h-.8zM296.4 409.2h.8v.8h-.8zM309.9 381.9h.8v.8h-.8zM308.6 381.1h.8v.8h-.8zM305.0 398.1h.8v.8h-.8zM300.7 388.6h.8v.8h-.8z" fill="#f0b000" fill-opacity="0.75"/>
<path d="M303.3 405.6h.8v.8h-.8zM308.4 380.0h.8v.8h-.8zM295.6 393.3h.8v.8h-.8zM308.9 380.9h.8v.8h-.8zM292.5 392.8h.8v.8h-.8zM302.1 400.3h.8v.8h-.8zM312.0 397.8h.8v.8h-.8zM304.9 403.3h.8v.8h-.8zM309.6 400.1h.8v.8h-.8zM285.3 402.0h.8v.8h-.8zM300.3 384.6h.8v.8h-.8zM306.0 408.4h.8v.8h-.8zM298.4 406.8h.8v.8h-.8zM295.6 402.2h.8v.8h-.8zM291.4 403.1h.8v.8h-.8zM299.5 390.9h.8v.8h-.8zM307.7 399.3h.8v.8h-.8zM308.2 404.0h.8v.8h-.8zM288.3 395.7h.8v.8h-.8zM310.6 400.7h.8v.8h-.8zM289.5 398.8h.8v.8h-.8zM289.9 392.4h.8v.8h-.8zM285.7 405.3h.8v.8h-.8zM297.4 388.4h.8v.8h-.8zM291.6 387.4h.8v.8h-.8zM283.4 392.3h.8v.8h-.8zM279.6 399.6h.8v.8h-.8zM308.5 380.5h.8v.8h-.8zM290.5 390.5h.8v.8h-.8zM311.0 401.0h.8v.8h-.8zM295.8 401.7h.8v.8h-.8zM295.5 403.2h.8v.8h-.8zM304.7 392.2h.8v.8h-.8zM296.4 406.2h.8v.8h-.8zM288.1 397.5h.8v.8h-.8zM306.3 408.4h.8v.8h-.8zM304.4 379.4h.8v.8h-.8zM305.4 390.3h.8v.8h-.8zM300.2 399.0h.8v.8h-.8zM311.0 386.9h.8v.8h-.8zM308.5 406.9h.8v.8h-.8zM283.6 392.8h.8v.8h-.8zM288.2 387.1h.8v.8h-.8zM303.4 411.7h.8v.8h-.8zM311.7 396.5h.8v.8h-.8zM309.6 380.4h.8v.8h-.8zM300.4 398.8h.8v.8h-.8zM300.2 391.0h.8v.8h-.8zM303.1 401.1h.8v.8h-.8z" fill="#a0e030" fill-opacity="0.75"/>
<path d="M290.3 394.7h.8v.8h-.8zM293.0 387.3h.8v.8h-.8zM285.8 391.0h.8v.8h-.8zM285.9 392.5h.8v.8h-.8zM298.6 413.2h.8v.8h-.8zM299.5 396.4h.8v.8h-.8zM300.9 396.0h.8v.8h-.8zM291.9 389.0h.8v.8h-.8zM304.1 392.4h.8v.8h-.8zM294.3 401.4h.8v.8h-.8zM305.5 413.1h.8v.8h-.8zM302.4 407.1h.8v.8h-.8zM280.3 391.6h.8v.8h-.8zM292.8 391.6h.8v.8h-.8zM296.1 410.4h.8v.8h-.8zM300.0 387.7h.8v.8h-.8zM287.2 389.9h.8v.8h-.8zM286.8 395.1h.8v.8h-.8zM310.3 384.7h.8v.8h-.8zM281.4 397.0h.8v.8h-.8zM297.6 413.1h.8v.8h-.8zM300.2 414.8h.8v.8h-.8zM296.0 404.0h.8v.8h-.8zM301.9 409.0h.8v.8h-.8zM299.6 402.1h.8v.8h-.8zM282.0 393.2h.8v.8h-.8zM294.9 392.9h.8v.8h-.8zM280.4 401.4h.8v.8h-.8zM305.9 395.8h.8v.8h-.8zM280.9 389.3h.8v.8h-.8zM312.0 395.7h.8v.8h-.8zM287.4 385.9h.8v.8h-.8zM281.7 396.4h.8v.8h-.8zM290.7 389.0h.8v.8h-.8zM278.8 397.6h.8v.8h-.8zM307.2 391.5h.8v.8h-.8zM311.5 387.5h.8v.8h-.8zM307.1 400.2h.8v.8h-.8zM304.1 389.4h.8v.8h-.8zM283.1 403.7h.8v.8h-.8zM290.0 400.6h.8v.8h-.8zM305.6 413.8h.8v.8h-.8zM301.2 409.2h.8v.8h-.8zM291.5 389.4h.8v.8h-.8zM299.6 414.9h.8v.8h-.8zM308.4 392.6h.8v.8h-.8zM301.4 403.3h.8v.8h-.8z" fill="#e0e000" fill-opacity="0.75"/>
<rect x="275.3" y="375.8" width="40.3" height="45.0" fill="#fff" filter="url(#wn2)"/>
</g></g>
<rect x="143.9" y="506.6" width="38.7" height="43" fill="#fff" stroke="#cfcfcf" stroke-width="0.7"/>
<text x="163.2" y="504.8" font-size="4.6" font-weight="bold" text-anchor="middle">GzmB</text>
<clipPath id="fc5"><path d="M157.23,510.80 C157.83,510.30 159.93,510.00 161.01,510.20 C162.09,510.40 163.20,511.07 163.70,512.00 C164.20,512.93 163.25,514.77 164.00,515.80 C164.74,516.83 166.88,517.10 168.17,518.20 C169.47,519.30 170.76,521.33 171.76,522.40 C172.75,523.47 173.43,524.10 174.14,524.60 C174.86,525.10 175.25,524.32 176.03,525.40 C176.81,526.48 178.45,529.52 178.82,531.10 C179.18,532.68 178.90,534.07 178.22,534.90 C177.54,535.73 175.59,536.40 174.74,536.10 C173.89,535.80 173.60,534.05 173.15,533.10 C172.70,532.15 172.47,530.55 172.05,530.40 C171.64,530.25 171.11,531.25 170.66,532.20 C170.21,533.15 170.06,534.85 169.37,536.10 C168.67,537.35 167.46,538.30 166.48,539.70 C165.51,541.10 164.89,543.40 163.50,544.50 C162.11,545.60 159.92,546.20 158.13,546.30 C156.34,546.40 154.45,546.40 152.75,545.10 C151.06,543.80 148.87,540.60 147.98,538.50 C147.08,536.40 146.88,534.70 147.38,532.50 C147.88,530.30 149.57,527.48 150.96,525.30 C152.36,523.12 154.45,520.98 155.74,519.40 C157.03,517.82 158.44,516.83 158.72,515.80 C159.01,514.77 157.68,514.03 157.43,513.20 C157.18,512.37 156.63,511.30 157.23,510.80 Z"/></clipPath>
<g filter="url(#rough)"><g clip-path="url(#fc5)">
<path d="M157.23,510.80 C157.83,510.30 159.93,510.00 161.01,510.20 C162.09,510.40 163.20,511.07 163.70,512.00 C164.20,512.93 163.25,514.77 164.00,515.80 C164.74,516.83 166.88,517.10 168.17,518.20 C169.47,519.30 170.76,521.33 171.76,522.40 C172.75,523.47 173.43,524.10 174.14,524.60 C174.86,525.10 175.25,524.32 176.03,525.40 C176.81,526.48 178.45,529.52 178.82,531.10 C179.18,532.68 178.90,534.07 178.22,534.90 C177.54,535.73 175.59,536.40 174.74,536.10 C173.89,535.80 173.60,534.05 173.15,533.10 C172.70,532.15 172.47,530.55 172.05,530.40 C171.64,530.25 171.11,531.25 170.66,532.20 C170.21,533.15 170.06,534.85 169.37,536.10 C168.67,537.35 167.46,538.30 166.48,539.70 C165.51,541.10 164.89,543.40 163.50,544.50 C162.11,545.60 159.92,546.20 158.13,546.30 C156.34,546.40 154.45,546.40 152.75,545.10 C151.06,543.80 148.87,540.60 147.98,538.50 C147.08,536.40 146.88,534.70 147.38,532.50 C147.88,530.30 149.57,527.48 150.96,525.30 C152.36,523.12 154.45,520.98 155.74,519.40 C157.03,517.82 158.44,516.83 158.72,515.80 C159.01,514.77 157.68,514.03 157.43,513.20 C157.18,512.37 156.63,511.30 157.23,510.80 Z" fill="#eed23a"/>
<ellipse cx="157.4" cy="536.7" rx="7" ry="7" fill="#f0a818" fill-opacity="0.6" filter="url(#b15)"/>
<ellipse cx="169.1" cy="522.9" rx="4" ry="5" fill="#f06a20" fill-opacity="0.7" filter="url(#b15)"/>
<ellipse cx="159.4" cy="512.2" rx="3" ry="3" fill="#2eae6a" fill-opacity="0.95" filter="url(#b15)"/>
<ellipse cx="176.8" cy="533.3" rx="3" ry="4" fill="#2ea880" fill-opacity="0.9" filter="url(#b15)"/>
<ellipse cx="163.2" cy="528.1" rx="1.2" ry="6" fill="#60c040" fill-opacity="0.4" filter="url(#b15)"/>
<ellipse cx="151.6" cy="528.1" rx="4" ry="5" fill="#e0d820" fill-opacity="0.5" filter="url(#b15)"/>
<path d="M161.8 515.1h.8v.8h-.8zM165.7 529.9h.8v.8h-.8zM161.9 538.7h.8v.8h-.8zM148.9 529.7h.8v.8h-.8zM174.9 535.8h.8v.8h-.8zM161.9 520.1h.8v.8h-.8zM155.0 540.8h.8v.8h-.8zM166.7 524.1h.8v.8h-.8zM169.6 525.8h.8v.8h-.8zM162.6 544.6h.8v.8h-.8zM170.0 533.3h.8v.8h-.8zM160.7 539.5h.8v.8h-.8zM151.1 536.1h.8v.8h-.8zM162.5 523.8h.8v.8h-.8zM160.9 529.5h.8v.8h-.8zM164.7 518.8h.8v.8h-.8zM163.0 530.2h.8v.8h-.8zM154.9 523.6h.8v.8h-.8zM162.5 527.6h.8v.8h-.8zM161.7 512.3h.8v.8h-.8zM161.7 527.9h.8v.8h-.8zM164.5 524.8h.8v.8h-.8zM169.0 536.6h.8v.8h-.8zM165.7 532.9h.8v.8h-.8zM147.6 532.9h.8v.8h-.8zM154.9 533.0h.8v.8h-.8zM159.1 540.0h.8v.8h-.8zM164.5 538.9h.8v.8h-.8zM153.8 524.4h.8v.8h-.8zM147.8 536.3h.8v.8h-.8zM159.0 534.5h.8v.8h-.8zM166.8 519.5h.8v.8h-.8zM164.7 526.7h.8v.8h-.8zM156.4 532.5h.8v.8h-.8zM157.0 518.0h.8v.8h-.8zM149.2 534.6h.8v.8h-.8zM163.3 514.5h.8v.8h-.8zM162.4 534.8h.8v.8h-.8zM159.9 520.0h.8v.8h-.8zM175.0 531.6h.8v.8h-.8zM161.7 525.5h.8v.8h-.8zM161.6 525.4h.8v.8h-.8zM167.7 534.7h.8v.8h-.8z" fill="#f0c000" fill-opacity="0.75"/>
<path d="M152.2 534.5h.8v.8h-.8zM154.8 533.6h.8v.8h-.8zM158.3 529.0h.8v.8h-.8zM162.2 539.8h.8v.8h-.8zM155.5 530.8h.8v.8h-.8zM163.6 523.9h.8v.8h-.8zM155.5 538.3h.8v.8h-.8zM174.3 528.3h.8v.8h-.8zM149.8 533.9h.8v.8h-.8zM169.7 533.6h.8v.8h-.8zM151.4 530.0h.8v.8h-.8zM153.7 528.0h.8v.8h-.8zM156.5 536.0h.8v.8h-.8zM162.1 538.3h.8v.8h-.8zM152.9 543.5h.8v.8h-.8zM162.5 534.1h.8v.8h-.8zM153.8 531.6h.8v.8h-.8zM160.0 540.6h.8v.8h-.8zM150.7 542.0h.8v.8h-.8zM162.6 532.1h.8v.8h-.8zM168.1 522.6h.8v.8h-.8zM159.8 530.4h.8v.8h-.8zM160.0 541.0h.8v.8h-.8zM166.3 533.6h.8v.8h-.8zM175.9 532.7h.8v.8h-.8zM158.8 544.4h.8v.8h-.8zM161.2 517.2h.8v.8h-.8zM153.2 528.1h.8v.8h-.8zM149.1 529.6h.8v.8h-.8zM157.9 540.8h.8v.8h-.8zM154.3 545.3h.8v.8h-.8zM160.2 543.5h.8v.8h-.8zM159.1 543.6h.8v.8h-.8zM156.1 521.3h.8v.8h-.8zM162.2 513.1h.8v.8h-.8zM154.6 526.0h.8v.8h-.8z" fill="#f07020" fill-opacity="0.75"/>
<path d="M154.2 534.4h.8v.8h-.8zM157.4 520.2h.8v.8h-.8zM157.1 519.0h.8v.8h-.8zM175.2 534.2h.8v.8h-.8zM152.1 536.1h.8v.8h-.8zM148.4 530.9h.8v.8h-.8zM160.0 527.8h.8v.8h-.8zM159.8 524.8h.8v.8h-.8zM161.4 511.7h.8v.8h-.8zM166.5 535.6h.8v.8h-.8zM171.3 529.0h.8v.8h-.8zM169.0 524.5h.8v.8h-.8zM155.3 544.0h.8v.8h-.8zM165.3 527.7h.8v.8h-.8zM160.5 539.1h.8v.8h-.8zM162.7 513.3h.8v.8h-.8zM149.2 530.1h.8v.8h-.8zM161.4 536.6h.8v.8h-.8zM160.1 513.3h.8v.8h-.8zM156.5 534.3h.8v.8h-.8zM165.7 537.6h.8v.8h-.8zM155.8 530.8h.8v.8h-.8zM161.6 526.5h.8v.8h-.8zM167.5 533.8h.8v.8h-.8zM155.3 531.4h.8v.8h-.8zM156.0 537.0h.8v.8h-.8zM153.0 535.5h.8v.8h-.8zM164.0 541.6h.8v.8h-.8zM160.5 539.3h.8v.8h-.8zM161.3 535.0h.8v.8h-.8zM159.0 538.6h.8v.8h-.8z" fill="#b0e020" fill-opacity="0.75"/>
<path d="M162.8 520.4h.8v.8h-.8zM170.3 524.4h.8v.8h-.8zM164.6 541.7h.8v.8h-.8zM165.4 525.6h.8v.8h-.8zM160.1 528.8h.8v.8h-.8zM160.5 521.8h.8v.8h-.8zM174.2 526.1h.8v.8h-.8zM154.9 525.4h.8v.8h-.8zM165.6 528.3h.8v.8h-.8zM163.4 521.0h.8v.8h-.8zM157.4 533.5h.8v.8h-.8zM168.9 524.2h.8v.8h-.8zM162.2 540.0h.8v.8h-.8zM163.6 512.4h.8v.8h-.8zM166.4 527.7h.8v.8h-.8zM170.7 523.2h.8v.8h-.8zM172.1 529.8h.8v.8h-.8zM174.3 525.4h.8v.8h-.8zM152.5 542.3h.8v.8h-.8zM157.5 534.9h.8v.8h-.8zM169.8 525.6h.8v.8h-.8zM169.6 523.9h.8v.8h-.8zM155.8 530.6h.8v.8h-.8zM151.3 527.7h.8v.8h-.8zM168.4 531.0h.8v.8h-.8zM155.9 538.6h.8v.8h-.8zM148.1 533.6h.8v.8h-.8zM162.2 534.1h.8v.8h-.8zM156.3 531.3h.8v.8h-.8zM150.7 533.7h.8v.8h-.8zM154.0 522.9h.8v.8h-.8zM161.1 534.3h.8v.8h-.8zM153.1 527.8h.8v.8h-.8zM167.1 532.2h.8v.8h-.8zM169.4 534.6h.8v.8h-.8zM166.8 538.7h.8v.8h-.8zM164.7 536.3h.8v.8h-.8zM151.7 542.3h.8v.8h-.8zM154.5 532.0h.8v.8h-.8zM158.0 543.9h.8v.8h-.8zM162.2 535.8h.8v.8h-.8zM162.5 539.2h.8v.8h-.8zM158.1 526.2h.8v.8h-.8zM161.9 513.4h.8v.8h-.8zM157.5 540.7h.8v.8h-.8zM157.4 541.0h.8v.8h-.8zM176.3 527.8h.8v.8h-.8z" fill="#f09000" fill-opacity="0.75"/>
<path d="M163.8 537.3h.8v.8h-.8zM163.1 525.8h.8v.8h-.8zM174.7 532.0h.8v.8h-.8zM160.2 518.4h.8v.8h-.8zM175.0 529.8h.8v.8h-.8zM170.2 526.3h.8v.8h-.8zM150.7 538.8h.8v.8h-.8zM158.3 525.1h.8v.8h-.8zM163.8 541.3h.8v.8h-.8zM154.6 524.6h.8v.8h-.8zM153.1 543.6h.8v.8h-.8zM158.3 534.6h.8v.8h-.8zM170.8 531.4h.8v.8h-.8zM160.3 527.5h.8v.8h-.8zM163.9 517.1h.8v.8h-.8zM160.6 511.7h.8v.8h-.8zM156.4 538.8h.8v.8h-.8zM155.8 529.8h.8v.8h-.8zM167.2 522.2h.8v.8h-.8zM162.6 520.3h.8v.8h-.8zM174.5 530.6h.8v.8h-.8zM163.6 544.1h.8v.8h-.8zM164.3 542.7h.8v.8h-.8zM163.0 535.5h.8v.8h-.8zM159.4 521.1h.8v.8h-.8zM154.1 534.1h.8v.8h-.8zM165.3 535.6h.8v.8h-.8zM154.6 538.1h.8v.8h-.8zM158.9 538.8h.8v.8h-.8zM157.7 541.8h.8v.8h-.8zM164.6 526.7h.8v.8h-.8zM164.2 538.5h.8v.8h-.8zM163.9 539.9h.8v.8h-.8zM158.0 538.0h.8v.8h-.8zM166.4 534.9h.8v.8h-.8zM152.6 540.8h.8v.8h-.8zM174.3 525.3h.8v.8h-.8zM162.9 533.8h.8v.8h-.8zM176.9 529.0h.8v.8h-.8zM154.1 531.2h.8v.8h-.8zM162.7 521.5h.8v.8h-.8zM152.4 525.5h.8v.8h-.8zM161.9 535.5h.8v.8h-.8z" fill="#e0e000" fill-opacity="0.75"/>
<rect x="143.9" y="506.6" width="38.7" height="43.0" fill="#fff" filter="url(#wn1)"/>
</g></g>
<rect x="184.6" y="506.6" width="38.7" height="43" fill="#fff" stroke="#cfcfcf" stroke-width="0.7"/>
<text x="203.9" y="504.8" font-size="4.6" font-weight="bold" text-anchor="middle">perforin</text>
<clipPath id="fc6"><path d="M197.93,510.80 C198.53,510.30 200.63,510.00 201.71,510.20 C202.79,510.40 203.90,511.07 204.40,512.00 C204.90,512.93 203.95,514.77 204.70,515.80 C205.44,516.83 207.58,517.10 208.87,518.20 C210.17,519.30 211.46,521.33 212.46,522.40 C213.45,523.47 214.13,524.10 214.84,524.60 C215.56,525.10 215.95,524.32 216.73,525.40 C217.51,526.48 219.15,529.52 219.52,531.10 C219.88,532.68 219.60,534.07 218.92,534.90 C218.24,535.73 216.29,536.40 215.44,536.10 C214.59,535.80 214.30,534.05 213.85,533.10 C213.40,532.15 213.17,530.55 212.75,530.40 C212.34,530.25 211.81,531.25 211.36,532.20 C210.91,533.15 210.76,534.85 210.07,536.10 C209.37,537.35 208.16,538.30 207.18,539.70 C206.21,541.10 205.59,543.40 204.20,544.50 C202.81,545.60 200.62,546.20 198.83,546.30 C197.04,546.40 195.15,546.40 193.45,545.10 C191.76,543.80 189.57,540.60 188.68,538.50 C187.78,536.40 187.58,534.70 188.08,532.50 C188.58,530.30 190.27,527.48 191.66,525.30 C193.06,523.12 195.15,520.98 196.44,519.40 C197.73,517.82 199.14,516.83 199.42,515.80 C199.71,514.77 198.38,514.03 198.13,513.20 C197.88,512.37 197.33,511.30 197.93,510.80 Z"/></clipPath>
<g filter="url(#rough)"><g clip-path="url(#fc6)">
<path d="M197.93,510.80 C198.53,510.30 200.63,510.00 201.71,510.20 C202.79,510.40 203.90,511.07 204.40,512.00 C204.90,512.93 203.95,514.77 204.70,515.80 C205.44,516.83 207.58,517.10 208.87,518.20 C210.17,519.30 211.46,521.33 212.46,522.40 C213.45,523.47 214.13,524.10 214.84,524.60 C215.56,525.10 215.95,524.32 216.73,525.40 C217.51,526.48 219.15,529.52 219.52,531.10 C219.88,532.68 219.60,534.07 218.92,534.90 C218.24,535.73 216.29,536.40 215.44,536.10 C214.59,535.80 214.30,534.05 213.85,533.10 C213.40,532.15 213.17,530.55 212.75,530.40 C212.34,530.25 211.81,531.25 211.36,532.20 C210.91,533.15 210.76,534.85 210.07,536.10 C209.37,537.35 208.16,538.30 207.18,539.70 C206.21,541.10 205.59,543.40 204.20,544.50 C202.81,545.60 200.62,546.20 198.83,546.30 C197.04,546.40 195.15,546.40 193.45,545.10 C191.76,543.80 189.57,540.60 188.68,538.50 C187.78,536.40 187.58,534.70 188.08,532.50 C188.58,530.30 190.27,527.48 191.66,525.30 C193.06,523.12 195.15,520.98 196.44,519.40 C197.73,517.82 199.14,516.83 199.42,515.80 C199.71,514.77 198.38,514.03 198.13,513.20 C197.88,512.37 197.33,511.30 197.93,510.80 Z" fill="#74e038"/>
<ellipse cx="208.6" cy="520.4" rx="2.5" ry="3" fill="#f06020" fill-opacity="0.7" filter="url(#b15)"/>
<ellipse cx="200.1" cy="534.6" rx="6" ry="6" fill="#58e030" fill-opacity="0.4" filter="url(#b15)"/>
<ellipse cx="217.5" cy="533.3" rx="3" ry="4" fill="#80e0a0" fill-opacity="0.5" filter="url(#b15)"/>
<ellipse cx="200.1" cy="512.2" rx="3" ry="3" fill="#40d060" fill-opacity="0.6" filter="url(#b15)"/>
<path d="M198.3 532.6h.8v.8h-.8zM214.2 526.3h.8v.8h-.8zM199.1 524.4h.8v.8h-.8zM203.1 521.8h.8v.8h-.8zM205.0 518.8h.8v.8h-.8zM218.0 534.9h.8v.8h-.8zM192.1 537.7h.8v.8h-.8zM205.7 522.0h.8v.8h-.8zM198.5 531.7h.8v.8h-.8zM196.9 532.0h.8v.8h-.8zM193.8 532.0h.8v.8h-.8zM204.1 528.0h.8v.8h-.8zM196.7 541.3h.8v.8h-.8zM199.3 517.0h.8v.8h-.8zM201.5 530.2h.8v.8h-.8zM218.1 532.9h.8v.8h-.8zM199.4 542.1h.8v.8h-.8zM190.9 528.6h.8v.8h-.8zM197.6 533.4h.8v.8h-.8zM196.6 541.9h.8v.8h-.8zM192.9 531.2h.8v.8h-.8zM199.4 538.9h.8v.8h-.8zM208.2 521.8h.8v.8h-.8zM194.8 544.9h.8v.8h-.8zM205.2 523.0h.8v.8h-.8zM191.2 530.7h.8v.8h-.8zM203.9 518.5h.8v.8h-.8zM215.0 533.1h.8v.8h-.8zM199.6 538.0h.8v.8h-.8zM215.2 528.4h.8v.8h-.8zM208.8 529.8h.8v.8h-.8zM192.4 532.7h.8v.8h-.8zM216.8 528.0h.8v.8h-.8zM205.0 525.5h.8v.8h-.8zM196.7 541.7h.8v.8h-.8zM203.1 520.1h.8v.8h-.8zM198.2 542.0h.8v.8h-.8zM211.8 527.6h.8v.8h-.8zM197.5 535.9h.8v.8h-.8zM199.9 526.8h.8v.8h-.8z" fill="#60e030" fill-opacity="0.75"/>
<path d="M190.8 528.7h.8v.8h-.8zM217.4 526.7h.8v.8h-.8zM199.0 511.3h.8v.8h-.8zM218.9 534.2h.8v.8h-.8zM201.4 512.5h.8v.8h-.8zM198.8 540.4h.8v.8h-.8zM202.3 532.4h.8v.8h-.8zM216.7 526.5h.8v.8h-.8zM199.5 510.6h.8v.8h-.8zM197.0 521.8h.8v.8h-.8zM217.4 534.4h.8v.8h-.8zM208.8 529.3h.8v.8h-.8zM194.3 527.9h.8v.8h-.8zM212.3 527.7h.8v.8h-.8zM199.6 529.4h.8v.8h-.8zM201.5 529.8h.8v.8h-.8zM193.5 541.5h.8v.8h-.8zM211.1 532.3h.8v.8h-.8zM195.0 523.9h.8v.8h-.8zM197.0 531.2h.8v.8h-.8zM201.0 538.8h.8v.8h-.8zM198.2 519.2h.8v.8h-.8zM195.5 540.4h.8v.8h-.8zM197.6 524.8h.8v.8h-.8zM206.9 522.9h.8v.8h-.8zM208.4 530.6h.8v.8h-.8zM191.5 538.3h.8v.8h-.8zM192.8 524.1h.8v.8h-.8zM196.5 532.5h.8v.8h-.8zM195.2 537.6h.8v.8h-.8zM218.7 533.5h.8v.8h-.8zM207.5 520.0h.8v.8h-.8zM193.0 534.3h.8v.8h-.8zM200.6 541.4h.8v.8h-.8zM199.1 530.4h.8v.8h-.8zM199.4 529.1h.8v.8h-.8zM214.5 530.6h.8v.8h-.8zM195.7 524.0h.8v.8h-.8zM205.6 527.8h.8v.8h-.8zM203.8 522.6h.8v.8h-.8zM207.2 524.5h.8v.8h-.8zM211.1 527.9h.8v.8h-.8zM203.5 513.0h.8v.8h-.8zM204.3 521.0h.8v.8h-.8zM202.1 516.1h.8v.8h-.8zM205.0 528.5h.8v.8h-.8zM196.2 538.9h.8v.8h-.8zM199.7 529.3h.8v.8h-.8zM208.4 519.8h.8v.8h-.8zM209.0 535.3h.8v.8h-.8zM216.4 530.2h.8v.8h-.8z" fill="#90e030" fill-opacity="0.75"/>
<path d="M204.0 539.5h.8v.8h-.8zM199.2 531.1h.8v.8h-.8zM192.5 527.4h.8v.8h-.8zM198.3 540.5h.8v.8h-.8zM194.7 532.8h.8v.8h-.8zM213.9 525.6h.8v.8h-.8zM197.9 529.5h.8v.8h-.8zM216.7 534.7h.8v.8h-.8zM200.1 530.7h.8v.8h-.8zM197.7 536.9h.8v.8h-.8zM210.7 533.5h.8v.8h-.8zM199.9 524.9h.8v.8h-.8zM196.7 533.8h.8v.8h-.8zM210.4 523.3h.8v.8h-.8zM205.8 533.5h.8v.8h-.8zM196.2 535.3h.8v.8h-.8zM197.2 526.2h.8v.8h-.8zM200.3 530.3h.8v.8h-.8zM211.2 527.5h.8v.8h-.8zM196.6 522.0h.8v.8h-.8zM197.7 535.1h.8v.8h-.8zM190.5 538.5h.8v.8h-.8zM202.2 544.9h.8v.8h-.8zM194.0 534.3h.8v.8h-.8zM203.9 526.1h.8v.8h-.8zM200.7 527.1h.8v.8h-.8zM193.2 525.3h.8v.8h-.8zM203.6 527.2h.8v.8h-.8zM195.4 540.4h.8v.8h-.8zM218.5 534.9h.8v.8h-.8zM214.0 525.8h.8v.8h-.8zM194.5 529.5h.8v.8h-.8zM194.2 543.4h.8v.8h-.8zM195.2 544.9h.8v.8h-.8zM198.3 534.6h.8v.8h-.8zM192.2 536.8h.8v.8h-.8zM202.3 525.2h.8v.8h-.8zM216.7 531.9h.8v.8h-.8zM204.3 541.2h.8v.8h-.8zM198.9 511.4h.8v.8h-.8zM189.5 534.6h.8v.8h-.8zM201.0 542.0h.8v.8h-.8zM206.3 537.3h.8v.8h-.8zM205.7 525.1h.8v.8h-.8zM204.2 513.3h.8v.8h-.8zM202.0 535.5h.8v.8h-.8zM190.4 535.0h.8v.8h-.8zM209.1 524.5h.8v.8h-.8zM203.2 524.2h.8v.8h-.8zM206.3 526.3h.8v.8h-.8zM213.6 523.5h.8v.8h-.8zM194.6 543.6h.8v.8h-.8zM201.7 541.7h.8v.8h-.8zM194.4 531.7h.8v.8h-.8zM193.1 534.2h.8v.8h-.8zM200.1 518.8h.8v.8h-.8zM197.7 535.9h.8v.8h-.8zM193.5 526.1h.8v.8h-.8zM193.3 540.2h.8v.8h-.8zM202.8 537.3h.8v.8h-.8zM201.7 513.6h.8v.8h-.8zM202.4 528.1h.8v.8h-.8z" fill="#40d040" fill-opacity="0.75"/>
<path d="M197.6 518.0h.8v.8h-.8zM207.7 530.1h.8v.8h-.8zM199.5 531.0h.8v.8h-.8zM216.1 528.2h.8v.8h-.8zM200.5 526.4h.8v.8h-.8zM194.0 540.6h.8v.8h-.8zM202.4 517.9h.8v.8h-.8zM203.3 528.9h.8v.8h-.8zM200.2 539.8h.8v.8h-.8zM205.3 526.0h.8v.8h-.8zM203.0 526.3h.8v.8h-.8zM201.5 536.6h.8v.8h-.8zM202.5 512.6h.8v.8h-.8zM214.8 528.9h.8v.8h-.8zM215.3 532.1h.8v.8h-.8zM215.4 532.4h.8v.8h-.8zM193.7 540.8h.8v.8h-.8zM199.3 542.6h.8v.8h-.8zM211.4 532.1h.8v.8h-.8zM192.8 530.1h.8v.8h-.8zM193.1 541.9h.8v.8h-.8zM215.6 529.3h.8v.8h-.8zM203.2 542.8h.8v.8h-.8zM206.1 532.2h.8v.8h-.8zM195.1 534.8h.8v.8h-.8zM218.1 531.3h.8v.8h-.8zM205.2 541.7h.8v.8h-.8zM193.6 533.9h.8v.8h-.8zM197.3 518.7h.8v.8h-.8zM197.4 522.7h.8v.8h-.8zM198.0 533.6h.8v.8h-.8zM211.4 526.0h.8v.8h-.8zM194.4 530.9h.8v.8h-.8zM211.1 528.4h.8v.8h-.8zM198.0 537.6h.8v.8h-.8zM201.5 517.4h.8v.8h-.8zM209.4 535.2h.8v.8h-.8zM191.5 526.9h.8v.8h-.8zM198.5 533.4h.8v.8h-.8zM198.7 511.0h.8v.8h-.8zM208.1 527.8h.8v.8h-.8zM204.0 521.6h.8v.8h-.8zM200.1 514.5h.8v.8h-.8zM204.5 528.9h.8v.8h-.8zM200.0 513.3h.8v.8h-.8zM193.0 529.9h.8v.8h-.8zM210.6 523.7h.8v.8h-.8z" fill="#b0e020" fill-opacity="0.75"/>
<rect x="184.6" y="506.6" width="38.7" height="43.0" fill="#fff" filter="url(#wn2)"/>
</g></g>
<rect x="225.4" y="506.6" width="38.7" height="43" fill="#fff" stroke="#cfcfcf" stroke-width="0.7"/>
<text x="244.8" y="504.8" font-size="4.6" font-weight="bold" text-anchor="middle">PD-1</text>
<clipPath id="fc7"><path d="M238.73,510.80 C239.33,510.30 241.43,510.00 242.51,510.20 C243.59,510.40 244.70,511.07 245.20,512.00 C245.70,512.93 244.75,514.77 245.50,515.80 C246.24,516.83 248.38,517.10 249.67,518.20 C250.97,519.30 252.26,521.33 253.26,522.40 C254.25,523.47 254.93,524.10 255.64,524.60 C256.36,525.10 256.75,524.32 257.53,525.40 C258.31,526.48 259.95,529.52 260.32,531.10 C260.68,532.68 260.40,534.07 259.72,534.90 C259.04,535.73 257.09,536.40 256.24,536.10 C255.39,535.80 255.10,534.05 254.65,533.10 C254.20,532.15 253.97,530.55 253.55,530.40 C253.14,530.25 252.61,531.25 252.16,532.20 C251.71,533.15 251.56,534.85 250.87,536.10 C250.17,537.35 248.96,538.30 247.98,539.70 C247.01,541.10 246.39,543.40 245.00,544.50 C243.61,545.60 241.42,546.20 239.63,546.30 C237.84,546.40 235.95,546.40 234.25,545.10 C232.56,543.80 230.37,540.60 229.48,538.50 C228.58,536.40 228.38,534.70 228.88,532.50 C229.38,530.30 231.07,527.48 232.46,525.30 C233.86,523.12 235.95,520.98 237.24,519.40 C238.53,517.82 239.94,516.83 240.22,515.80 C240.51,514.77 239.18,514.03 238.93,513.20 C238.68,512.37 238.13,511.30 238.73,510.80 Z"/></clipPath>
<g filter="url(#rough)"><g clip-path="url(#fc7)">
<path d="M238.73,510.80 C239.33,510.30 241.43,510.00 242.51,510.20 C243.59,510.40 244.70,511.07 245.20,512.00 C245.70,512.93 244.75,514.77 245.50,515.80 C246.24,516.83 248.38,517.10 249.67,518.20 C250.97,519.30 252.26,521.33 253.26,522.40 C254.25,523.47 254.93,524.10 255.64,524.60 C256.36,525.10 256.75,524.32 257.53,525.40 C258.31,526.48 259.95,529.52 260.32,531.10 C260.68,532.68 260.40,534.07 259.72,534.90 C259.04,535.73 257.09,536.40 256.24,536.10 C255.39,535.80 255.10,534.05 254.65,533.10 C254.20,532.15 253.97,530.55 253.55,530.40 C253.14,530.25 252.61,531.25 252.16,532.20 C251.71,533.15 251.56,534.85 250.87,536.10 C250.17,537.35 248.96,538.30 247.98,539.70 C247.01,541.10 246.39,543.40 245.00,544.50 C243.61,545.60 241.42,546.20 239.63,546.30 C237.84,546.40 235.95,546.40 234.25,545.10 C232.56,543.80 230.37,540.60 229.48,538.50 C228.58,536.40 228.38,534.70 228.88,532.50 C229.38,530.30 231.07,527.48 232.46,525.30 C233.86,523.12 235.95,520.98 237.24,519.40 C238.53,517.82 239.94,516.83 240.22,515.80 C240.51,514.77 239.18,514.03 238.93,513.20 C238.68,512.37 238.13,511.30 238.73,510.80 Z" fill="#44c248"/>
<ellipse cx="237.0" cy="536.7" rx="6" ry="7" fill="#2a9a6a" fill-opacity="0.5" filter="url(#b15)"/>
<ellipse cx="233.1" cy="543.1" rx="3" ry="3" fill="#3070c0" fill-opacity="0.35" filter="url(#b15)"/>
<ellipse cx="248.6" cy="523.8" rx="4" ry="5" fill="#40c040" fill-opacity="0.5" filter="url(#b15)"/>
<ellipse cx="240.9" cy="512.2" rx="3" ry="3" fill="#70e040" fill-opacity="0.6" filter="url(#b15)"/>
<ellipse cx="258.3" cy="533.3" rx="3" ry="4" fill="#60d070" fill-opacity="0.5" filter="url(#b15)"/>
<path d="M231.2 531.7h.8v.8h-.8zM257.3 530.8h.8v.8h-.8zM240.7 540.9h.8v.8h-.8zM238.6 523.3h.8v.8h-.8zM253.5 528.3h.8v.8h-.8zM235.2 540.9h.8v.8h-.8zM232.7 540.1h.8v.8h-.8zM240.0 533.8h.8v.8h-.8zM255.8 534.3h.8v.8h-.8zM240.0 513.2h.8v.8h-.8zM259.5 534.1h.8v.8h-.8zM242.4 522.9h.8v.8h-.8zM244.1 537.0h.8v.8h-.8zM248.6 519.3h.8v.8h-.8zM249.7 530.9h.8v.8h-.8zM245.9 521.6h.8v.8h-.8zM258.5 532.7h.8v.8h-.8zM247.0 521.7h.8v.8h-.8zM241.7 533.2h.8v.8h-.8zM229.8 532.2h.8v.8h-.8zM246.9 527.4h.8v.8h-.8zM241.0 526.3h.8v.8h-.8zM251.9 521.0h.8v.8h-.8zM231.8 534.9h.8v.8h-.8zM237.0 532.5h.8v.8h-.8zM240.0 527.0h.8v.8h-.8zM257.4 535.7h.8v.8h-.8zM245.5 529.3h.8v.8h-.8zM242.6 538.4h.8v.8h-.8zM242.2 520.6h.8v.8h-.8zM245.6 522.2h.8v.8h-.8zM250.7 527.6h.8v.8h-.8zM240.9 539.6h.8v.8h-.8zM233.7 537.8h.8v.8h-.8zM241.5 538.0h.8v.8h-.8zM250.1 525.5h.8v.8h-.8zM236.2 527.2h.8v.8h-.8zM234.1 539.5h.8v.8h-.8zM242.1 539.1h.8v.8h-.8zM233.9 523.7h.8v.8h-.8zM243.5 520.1h.8v.8h-.8zM237.1 519.7h.8v.8h-.8zM254.3 528.0h.8v.8h-.8zM254.7 528.2h.8v.8h-.8z" fill="#40c040" fill-opacity="0.75"/>
<path d="M239.7 529.8h.8v.8h-.8zM246.4 535.5h.8v.8h-.8zM232.1 541.8h.8v.8h-.8zM241.9 514.5h.8v.8h-.8zM248.1 536.0h.8v.8h-.8zM244.3 515.1h.8v.8h-.8zM233.4 524.2h.8v.8h-.8zM258.8 529.5h.8v.8h-.8zM241.5 533.3h.8v.8h-.8zM235.7 541.9h.8v.8h-.8zM257.1 533.2h.8v.8h-.8zM235.7 525.0h.8v.8h-.8zM242.1 535.0h.8v.8h-.8zM244.4 517.2h.8v.8h-.8zM241.1 538.3h.8v.8h-.8zM248.2 517.5h.8v.8h-.8zM250.6 532.2h.8v.8h-.8zM240.7 533.4h.8v.8h-.8zM245.1 513.8h.8v.8h-.8zM236.0 545.4h.8v.8h-.8zM235.7 523.4h.8v.8h-.8zM240.7 516.1h.8v.8h-.8zM237.3 530.1h.8v.8h-.8zM237.5 540.8h.8v.8h-.8zM233.2 529.7h.8v.8h-.8zM242.4 518.3h.8v.8h-.8zM236.4 528.9h.8v.8h-.8zM240.2 518.9h.8v.8h-.8zM237.8 527.0h.8v.8h-.8zM238.6 525.2h.8v.8h-.8zM249.7 526.3h.8v.8h-.8zM251.2 533.2h.8v.8h-.8zM246.1 525.2h.8v.8h-.8zM236.2 533.8h.8v.8h-.8zM252.3 531.2h.8v.8h-.8zM241.4 531.8h.8v.8h-.8zM231.6 533.4h.8v.8h-.8zM250.8 532.2h.8v.8h-.8zM235.9 534.6h.8v.8h-.8zM238.4 519.6h.8v.8h-.8zM253.3 525.2h.8v.8h-.8zM248.4 536.8h.8v.8h-.8z" fill="#2f80c0" fill-opacity="0.75"/>
<path d="M238.5 536.1h.8v.8h-.8zM230.0 537.1h.8v.8h-.8zM246.5 531.3h.8v.8h-.8zM232.8 531.2h.8v.8h-.8zM240.0 543.0h.8v.8h-.8zM244.8 537.0h.8v.8h-.8zM253.6 527.8h.8v.8h-.8zM248.5 534.0h.8v.8h-.8zM235.9 528.6h.8v.8h-.8zM235.3 533.0h.8v.8h-.8zM238.4 540.4h.8v.8h-.8zM231.8 540.3h.8v.8h-.8zM251.9 526.4h.8v.8h-.8zM249.6 520.1h.8v.8h-.8zM234.3 535.2h.8v.8h-.8zM242.1 538.4h.8v.8h-.8zM236.4 532.0h.8v.8h-.8zM234.0 530.0h.8v.8h-.8zM239.7 540.1h.8v.8h-.8zM237.5 523.7h.8v.8h-.8zM240.1 545.5h.8v.8h-.8zM243.8 525.6h.8v.8h-.8zM236.0 526.0h.8v.8h-.8zM240.5 534.0h.8v.8h-.8zM256.7 531.2h.8v.8h-.8zM234.9 544.4h.8v.8h-.8zM243.2 532.0h.8v.8h-.8zM233.1 540.7h.8v.8h-.8zM243.0 519.6h.8v.8h-.8zM242.1 512.1h.8v.8h-.8zM244.3 519.7h.8v.8h-.8zM243.6 518.8h.8v.8h-.8zM254.9 532.1h.8v.8h-.8zM250.4 523.8h.8v.8h-.8z" fill="#1f70b0" fill-opacity="0.75"/>
<path d="M254.3 526.6h.8v.8h-.8zM242.9 538.1h.8v.8h-.8zM243.1 541.8h.8v.8h-.8zM253.4 525.4h.8v.8h-.8zM246.7 541.4h.8v.8h-.8zM237.6 524.1h.8v.8h-.8zM249.5 522.2h.8v.8h-.8zM236.6 535.5h.8v.8h-.8zM236.7 541.0h.8v.8h-.8zM235.5 543.4h.8v.8h-.8zM249.7 529.6h.8v.8h-.8zM252.2 529.5h.8v.8h-.8zM245.9 529.5h.8v.8h-.8zM246.4 532.9h.8v.8h-.8zM231.8 530.3h.8v.8h-.8zM240.7 522.9h.8v.8h-.8zM239.3 510.7h.8v.8h-.8zM257.0 531.0h.8v.8h-.8zM235.1 528.4h.8v.8h-.8zM240.2 535.1h.8v.8h-.8zM250.2 535.7h.8v.8h-.8zM252.9 524.0h.8v.8h-.8zM231.4 528.1h.8v.8h-.8zM258.5 532.5h.8v.8h-.8zM240.0 512.6h.8v.8h-.8zM253.7 528.2h.8v.8h-.8zM240.5 523.7h.8v.8h-.8zM254.3 525.3h.8v.8h-.8zM240.7 519.0h.8v.8h-.8zM236.5 537.9h.8v.8h-.8zM246.7 534.8h.8v.8h-.8zM258.6 533.7h.8v.8h-.8zM242.7 524.6h.8v.8h-.8zM247.8 533.9h.8v.8h-.8zM247.8 525.4h.8v.8h-.8z" fill="#30a060" fill-opacity="0.75"/>
<path d="M244.8 536.4h.8v.8h-.8zM240.5 523.7h.8v.8h-.8zM248.9 522.8h.8v.8h-.8zM250.8 521.0h.8v.8h-.8zM238.3 545.1h.8v.8h-.8zM230.2 534.1h.8v.8h-.8zM241.2 514.6h.8v.8h-.8zM253.1 529.4h.8v.8h-.8zM250.9 521.0h.8v.8h-.8zM257.1 528.8h.8v.8h-.8zM244.9 525.6h.8v.8h-.8zM242.1 513.9h.8v.8h-.8zM246.3 531.6h.8v.8h-.8zM245.7 528.7h.8v.8h-.8zM240.8 513.7h.8v.8h-.8zM251.2 533.4h.8v.8h-.8zM247.8 524.6h.8v.8h-.8zM233.1 534.7h.8v.8h-.8zM242.7 531.3h.8v.8h-.8zM245.6 531.9h.8v.8h-.8zM237.2 544.5h.8v.8h-.8zM244.5 537.2h.8v.8h-.8zM257.5 525.8h.8v.8h-.8zM257.9 529.6h.8v.8h-.8zM237.9 542.3h.8v.8h-.8zM236.3 531.3h.8v.8h-.8zM235.3 524.6h.8v.8h-.8zM240.9 524.7h.8v.8h-.8zM242.0 536.2h.8v.8h-.8zM234.0 540.1h.8v.8h-.8zM233.8 542.3h.8v.8h-.8zM237.4 537.4h.8v.8h-.8zM248.6 520.8h.8v.8h-.8zM238.1 520.7h.8v.8h-.8zM232.7 534.8h.8v.8h-.8zM235.6 540.7h.8v.8h-.8zM244.6 527.1h.8v.8h-.8zM238.6 533.7h.8v.8h-.8zM256.0 525.0h.8v.8h-.8zM240.2 539.6h.8v.8h-.8zM233.0 527.6h.8v.8h-.8zM232.2 528.6h.8v.8h-.8zM240.5 533.4h.8v.8h-.8zM255.4 525.7h.8v.8h-.8zM241.7 519.8h.8v.8h-.8z" fill="#60d030" fill-opacity="0.75"/>
<rect x="225.4" y="506.6" width="38.7" height="43.0" fill="#fff" filter="url(#wn0)"/>
</g></g>
<rect x="266" y="506.6" width="38.7" height="43" fill="#fff" stroke="#cfcfcf" stroke-width="0.7"/>
<text x="285.4" y="504.8" font-size="4.6" font-weight="bold" text-anchor="middle">PD-L1</text>
<clipPath id="fc8"><path d="M279.33,510.80 C279.93,510.30 282.03,510.00 283.11,510.20 C284.19,510.40 285.30,511.07 285.80,512.00 C286.30,512.93 285.35,514.77 286.10,515.80 C286.84,516.83 288.98,517.10 290.27,518.20 C291.57,519.30 292.86,521.33 293.86,522.40 C294.85,523.47 295.53,524.10 296.24,524.60 C296.96,525.10 297.35,524.32 298.13,525.40 C298.91,526.48 300.55,529.52 300.92,531.10 C301.28,532.68 301.00,534.07 300.32,534.90 C299.64,535.73 297.69,536.40 296.84,536.10 C295.99,535.80 295.70,534.05 295.25,533.10 C294.80,532.15 294.57,530.55 294.15,530.40 C293.74,530.25 293.21,531.25 292.76,532.20 C292.31,533.15 292.16,534.85 291.47,536.10 C290.77,537.35 289.56,538.30 288.58,539.70 C287.61,541.10 286.99,543.40 285.60,544.50 C284.21,545.60 282.02,546.20 280.23,546.30 C278.44,546.40 276.55,546.40 274.85,545.10 C273.16,543.80 270.97,540.60 270.08,538.50 C269.18,536.40 268.98,534.70 269.48,532.50 C269.98,530.30 271.67,527.48 273.06,525.30 C274.46,523.12 276.55,520.98 277.84,519.40 C279.13,517.82 280.54,516.83 280.82,515.80 C281.11,514.77 279.78,514.03 279.53,513.20 C279.28,512.37 278.73,511.30 279.33,510.80 Z"/></clipPath>
<g filter="url(#rough)"><g clip-path="url(#fc8)">
<path d="M279.33,510.80 C279.93,510.30 282.03,510.00 283.11,510.20 C284.19,510.40 285.30,511.07 285.80,512.00 C286.30,512.93 285.35,514.77 286.10,515.80 C286.84,516.83 288.98,517.10 290.27,518.20 C291.57,519.30 292.86,521.33 293.86,522.40 C294.85,523.47 295.53,524.10 296.24,524.60 C296.96,525.10 297.35,524.32 298.13,525.40 C298.91,526.48 300.55,529.52 300.92,531.10 C301.28,532.68 301.00,534.07 300.32,534.90 C299.64,535.73 297.69,536.40 296.84,536.10 C295.99,535.80 295.70,534.05 295.25,533.10 C294.80,532.15 294.57,530.55 294.15,530.40 C293.74,530.25 293.21,531.25 292.76,532.20 C292.31,533.15 292.16,534.85 291.47,536.10 C290.77,537.35 289.56,538.30 288.58,539.70 C287.61,541.10 286.99,543.40 285.60,544.50 C284.21,545.60 282.02,546.20 280.23,546.30 C278.44,546.40 276.55,546.40 274.85,545.10 C273.16,543.80 270.97,540.60 270.08,538.50 C269.18,536.40 268.98,534.70 269.48,532.50 C269.98,530.30 271.67,527.48 273.06,525.30 C274.46,523.12 276.55,520.98 277.84,519.40 C279.13,517.82 280.54,516.83 280.82,515.80 C281.11,514.77 279.78,514.03 279.53,513.20 C279.28,512.37 278.73,511.30 279.33,510.80 Z" fill="#c8e63c"/>
<ellipse cx="281.5" cy="528.1" rx="6" ry="7" fill="#d0e010" fill-opacity="0.5" filter="url(#b15)"/>
<ellipse cx="297.7" cy="530.2" rx="2" ry="4" fill="#e8b010" fill-opacity="0.6" filter="url(#b15)"/>
<ellipse cx="290.0" cy="519.5" rx="3" ry="3" fill="#e0d010" fill-opacity="0.5" filter="url(#b15)"/>
<ellipse cx="281.5" cy="512.2" rx="3" ry="3" fill="#e0d020" fill-opacity="0.5" filter="url(#b15)"/>
<path d="M278.3 528.3h.8v.8h-.8zM289.6 521.9h.8v.8h-.8zM272.9 536.3h.8v.8h-.8zM282.2 533.7h.8v.8h-.8zM276.4 535.7h.8v.8h-.8zM278.7 525.8h.8v.8h-.8zM282.4 543.6h.8v.8h-.8zM270.2 533.7h.8v.8h-.8zM276.6 522.3h.8v.8h-.8zM273.8 527.5h.8v.8h-.8zM272.7 540.7h.8v.8h-.8zM279.9 537.0h.8v.8h-.8zM291.0 529.4h.8v.8h-.8zM290.4 521.7h.8v.8h-.8zM284.3 522.2h.8v.8h-.8zM297.1 530.1h.8v.8h-.8zM285.1 526.7h.8v.8h-.8zM283.0 518.7h.8v.8h-.8zM290.6 521.4h.8v.8h-.8zM272.2 530.7h.8v.8h-.8zM285.7 533.5h.8v.8h-.8zM291.8 534.0h.8v.8h-.8zM292.6 527.5h.8v.8h-.8zM276.9 523.5h.8v.8h-.8zM281.4 529.9h.8v.8h-.8zM282.0 538.9h.8v.8h-.8zM282.3 522.0h.8v.8h-.8zM270.9 539.1h.8v.8h-.8zM283.4 515.3h.8v.8h-.8zM289.7 518.6h.8v.8h-.8zM273.7 533.0h.8v.8h-.8zM279.7 539.9h.8v.8h-.8zM281.4 522.0h.8v.8h-.8zM286.2 541.8h.8v.8h-.8zM280.8 534.6h.8v.8h-.8zM282.2 525.7h.8v.8h-.8zM272.1 527.4h.8v.8h-.8zM284.9 515.8h.8v.8h-.8zM288.0 525.5h.8v.8h-.8zM278.5 523.7h.8v.8h-.8zM281.0 544.3h.8v.8h-.8zM282.4 527.1h.8v.8h-.8zM282.6 516.5h.8v.8h-.8zM282.2 522.9h.8v.8h-.8zM288.5 533.3h.8v.8h-.8zM293.3 529.3h.8v.8h-.8zM287.1 523.4h.8v.8h-.8zM295.8 529.4h.8v.8h-.8zM284.7 527.2h.8v.8h-.8z" fill="#e0e000" fill-opacity="0.75"/>
<path d="M284.0 531.4h.8v.8h-.8zM282.2 528.3h.8v.8h-.8zM280.6 525.4h.8v.8h-.8zM285.3 542.9h.8v.8h-.8zM287.0 526.1h.8v.8h-.8zM282.4 539.2h.8v.8h-.8zM280.9 516.3h.8v.8h-.8zM293.3 529.3h.8v.8h-.8zM273.7 542.5h.8v.8h-.8zM275.4 533.2h.8v.8h-.8zM288.0 534.9h.8v.8h-.8zM280.8 514.4h.8v.8h-.8zM281.8 532.9h.8v.8h-.8zM287.7 517.3h.8v.8h-.8zM295.8 532.1h.8v.8h-.8zM281.2 533.5h.8v.8h-.8zM293.0 528.4h.8v.8h-.8zM288.7 518.6h.8v.8h-.8zM275.5 540.6h.8v.8h-.8zM298.1 528.6h.8v.8h-.8zM279.2 536.0h.8v.8h-.8zM294.4 524.4h.8v.8h-.8zM288.8 537.2h.8v.8h-.8zM285.1 537.7h.8v.8h-.8zM272.2 529.4h.8v.8h-.8zM292.0 527.6h.8v.8h-.8zM275.1 525.9h.8v.8h-.8zM282.3 519.0h.8v.8h-.8zM276.8 523.4h.8v.8h-.8zM289.8 537.1h.8v.8h-.8zM282.0 520.5h.8v.8h-.8zM293.0 522.0h.8v.8h-.8zM285.6 521.0h.8v.8h-.8zM292.1 529.2h.8v.8h-.8zM284.7 543.9h.8v.8h-.8zM291.0 520.2h.8v.8h-.8zM275.1 529.1h.8v.8h-.8zM289.4 537.8h.8v.8h-.8zM289.7 537.0h.8v.8h-.8zM285.3 520.4h.8v.8h-.8zM290.1 532.9h.8v.8h-.8zM295.8 532.3h.8v.8h-.8zM272.4 531.3h.8v.8h-.8zM279.1 545.8h.8v.8h-.8z" fill="#f0d000" fill-opacity="0.75"/>
<path d="M277.8 531.7h.8v.8h-.8zM272.1 538.5h.8v.8h-.8zM296.0 534.1h.8v.8h-.8zM282.4 535.9h.8v.8h-.8zM284.8 537.2h.8v.8h-.8zM286.3 530.0h.8v.8h-.8zM280.9 533.2h.8v.8h-.8zM278.0 534.5h.8v.8h-.8zM291.4 527.0h.8v.8h-.8zM270.9 536.6h.8v.8h-.8zM298.0 529.0h.8v.8h-.8zM275.6 529.8h.8v.8h-.8zM276.7 529.9h.8v.8h-.8zM288.2 535.5h.8v.8h-.8zM277.0 544.4h.8v.8h-.8zM292.0 531.9h.8v.8h-.8zM282.2 532.8h.8v.8h-.8zM279.9 512.7h.8v.8h-.8zM291.6 525.0h.8v.8h-.8zM297.6 528.0h.8v.8h-.8zM299.7 531.3h.8v.8h-.8zM280.5 543.5h.8v.8h-.8zM278.2 538.5h.8v.8h-.8zM299.1 533.5h.8v.8h-.8zM281.0 539.1h.8v.8h-.8zM273.3 540.2h.8v.8h-.8zM270.6 538.5h.8v.8h-.8zM291.2 525.8h.8v.8h-.8zM270.4 535.4h.8v.8h-.8zM280.6 536.1h.8v.8h-.8zM283.7 512.7h.8v.8h-.8zM274.1 540.9h.8v.8h-.8zM274.3 542.8h.8v.8h-.8zM281.4 542.2h.8v.8h-.8zM284.3 521.2h.8v.8h-.8zM271.6 533.8h.8v.8h-.8zM281.8 533.7h.8v.8h-.8zM294.9 523.6h.8v.8h-.8zM279.0 539.2h.8v.8h-.8zM294.5 524.2h.8v.8h-.8zM274.6 529.0h.8v.8h-.8zM285.4 519.1h.8v.8h-.8zM296.8 529.1h.8v.8h-.8zM282.9 516.7h.8v.8h-.8zM295.7 525.7h.8v.8h-.8zM280.6 535.1h.8v.8h-.8zM298.7 531.5h.8v.8h-.8zM288.1 528.2h.8v.8h-.8zM287.5 535.6h.8v.8h-.8z" fill="#c0e020" fill-opacity="0.75"/>
<path d="M284.1 539.0h.8v.8h-.8zM276.3 539.2h.8v.8h-.8zM295.1 530.4h.8v.8h-.8zM272.8 533.1h.8v.8h-.8zM282.4 530.6h.8v.8h-.8zM275.7 537.9h.8v.8h-.8zM281.7 542.5h.8v.8h-.8zM288.2 527.9h.8v.8h-.8zM285.8 532.8h.8v.8h-.8zM278.3 528.7h.8v.8h-.8zM272.6 528.4h.8v.8h-.8zM293.3 527.6h.8v.8h-.8zM284.9 528.1h.8v.8h-.8zM280.2 531.5h.8v.8h-.8zM292.8 528.1h.8v.8h-.8zM276.3 532.2h.8v.8h-.8zM274.3 524.8h.8v.8h-.8zM293.4 530.7h.8v.8h-.8zM281.0 526.9h.8v.8h-.8zM288.9 519.2h.8v.8h-.8zM277.6 537.3h.8v.8h-.8zM273.8 529.5h.8v.8h-.8zM293.0 530.1h.8v.8h-.8zM273.5 529.2h.8v.8h-.8zM281.5 524.3h.8v.8h-.8zM288.2 522.6h.8v.8h-.8zM288.7 521.8h.8v.8h-.8zM272.0 528.9h.8v.8h-.8zM284.9 531.7h.8v.8h-.8zM284.9 524.8h.8v.8h-.8zM296.6 525.1h.8v.8h-.8zM281.0 523.4h.8v.8h-.8zM278.5 531.3h.8v.8h-.8zM295.4 533.4h.8v.8h-.8zM281.1 514.3h.8v.8h-.8zM280.3 524.8h.8v.8h-.8zM272.9 531.6h.8v.8h-.8zM288.2 527.2h.8v.8h-.8zM283.8 538.6h.8v.8h-.8zM297.5 531.7h.8v.8h-.8zM287.8 518.5h.8v.8h-.8zM286.9 519.4h.8v.8h-.8zM282.2 510.4h.8v.8h-.8zM277.8 527.9h.8v.8h-.8zM287.2 540.0h.8v.8h-.8zM274.2 540.4h.8v.8h-.8zM282.9 544.1h.8v.8h-.8zM292.7 528.6h.8v.8h-.8zM290.9 524.4h.8v.8h-.8zM281.3 519.6h.8v.8h-.8zM276.0 539.8h.8v.8h-.8zM282.9 528.7h.8v.8h-.8zM289.1 525.0h.8v.8h-.8zM277.3 536.2h.8v.8h-.8zM293.9 525.6h.8v.8h-.8zM286.0 542.9h.8v.8h-.8zM275.3 522.6h.8v.8h-.8zM281.8 515.9h.8v.8h-.8z" fill="#a0e030" fill-opacity="0.75"/>
<rect x="266.0" y="506.6" width="38.7" height="43.0" fill="#fff" filter="url(#wn1)"/>
</g></g>
<rect x="320" y="377.5" width="1.8" height="40.3" fill="url(#rb)"/>
<text x="319" y="397.6" font-size="2.4" fill="#333" text-anchor="middle" transform="rotate(-90 319 397.6)">Expression levels</text>
<text x="320.9" y="376.9" font-size="1.8" fill="#333" text-anchor="middle">max</text>
<text x="320.9" y="419.8" font-size="1.8" fill="#333" text-anchor="middle">min</text>
<rect x="310.2" y="509" width="1.7" height="38.2" fill="url(#rb)"/>
<text x="309.2" y="528.1" font-size="2.4" fill="#333" text-anchor="middle" transform="rotate(-90 309.2 528.1)">Expression levels</text>
<text x="311" y="508.4" font-size="1.8" fill="#333" text-anchor="middle">max</text>
<text x="311" y="549.2" font-size="1.8" fill="#333" text-anchor="middle">min</text>
<rect x="546.5" y="311.3" width="134.6" height="115.8" fill="#fff"/>
<path d="M561.6 311.3V427.1" stroke="#f2f2f2" stroke-width="0.5"/>
<path d="M596.8 311.3V427.1" stroke="#f2f2f2" stroke-width="0.5"/>
<path d="M632 311.3V427.1" stroke="#f2f2f2" stroke-width="0.5"/>
<path d="M667.2 311.3V427.1" stroke="#f2f2f2" stroke-width="0.5"/>
<path d="M546.5 337H681.1" stroke="#f2f2f2" stroke-width="0.5"/>
<path d="M546.5 377.4H681.1" stroke="#f2f2f2" stroke-width="0.5"/>
<path d="M546.5 417.7H681.1" stroke="#f2f2f2" stroke-width="0.5"/>
<path d="M579.2 311.3V427.1" stroke="#e6e6e6" stroke-width="0.6"/>
<path d="M614.4 311.3V427.1" stroke="#e6e6e6" stroke-width="0.6"/>
<path d="M649.6 311.3V427.1" stroke="#e6e6e6" stroke-width="0.6"/>
<path d="M546.5 316.8H681.1" stroke="#e6e6e6" stroke-width="0.6"/>
<path d="M546.5 357.2H681.1" stroke="#e6e6e6" stroke-width="0.6"/>
<path d="M546.5 397.6H681.1" stroke="#e6e6e6" stroke-width="0.6"/>
<clipPath id="cl"><rect x="546.5" y="311.3" width="134.6" height="115.8"/></clipPath>
<g clip-path="url(#cl)">
<ellipse cx="575.6" cy="369.6" rx="18.8" ry="54.2" transform="rotate(-15 575.6 369.6)" fill="#fcdcb8" fill-opacity="0.75" stroke="#f4a236" stroke-width="0.8"/>
<ellipse cx="644.6" cy="356.8" rx="31.2" ry="12.2" transform="rotate(-6 644.6 356.8)" fill="#f7b3b3" fill-opacity="0.75" stroke="#ec3a3a" stroke-width="0.8"/>
<circle cx="564.4" cy="354.5" r="2.6" fill="#f5a530" stroke="#222" stroke-width="0.45"/>
<circle cx="578.0" cy="356.6" r="2.6" fill="#f5a530" stroke="#222" stroke-width="0.45"/>
<circle cx="577.5" cy="374.7" r="2.6" fill="#f5a530" stroke="#222" stroke-width="0.45"/>
<circle cx="576.8" cy="384.6" r="2.6" fill="#f5a530" stroke="#222" stroke-width="0.45"/>
<circle cx="564.6" cy="339.0" r="2.6" fill="#4568b5" stroke="#222" stroke-width="0.45"/>
<circle cx="569.1" cy="338.5" r="2.6" fill="#4568b5" stroke="#222" stroke-width="0.45"/>
<circle cx="611.9" cy="360.0" r="2.6" fill="#ee3c3c" stroke="#222" stroke-width="0.45"/>
<circle cx="638.6" cy="352.5" r="2.6" fill="#ee3c3c" stroke="#222" stroke-width="0.45"/>
<circle cx="644.3" cy="352.0" r="2.6" fill="#ee3c3c" stroke="#222" stroke-width="0.45"/>
<circle cx="637.0" cy="364.7" r="2.6" fill="#ee3c3c" stroke="#222" stroke-width="0.45"/>
<circle cx="642.4" cy="360.3" r="2.6" fill="#ee3c3c" stroke="#222" stroke-width="0.45"/>
<circle cx="643.1" cy="356.1" r="2.6" fill="#ee3c3c" stroke="#222" stroke-width="0.45"/>
<circle cx="655.1" cy="351.0" r="2.6" fill="#ee3c3c" stroke="#222" stroke-width="0.45"/>
<circle cx="656.0" cy="358.4" r="2.6" fill="#ee3c3c" stroke="#222" stroke-width="0.45"/>
</g>
<rect x="546.5" y="311.3" width="134.6" height="115.8" fill="none" stroke="#8a8a8a" stroke-width="0.8"/>
<path d="M579.2 427.1V428.7" stroke="#555" stroke-width="0.5"/>
<text x="579.2" y="433.5" font-size="5.0" fill="#4d4d4d" text-anchor="middle">-3</text>
<path d="M614.4 427.1V428.7" stroke="#555" stroke-width="0.5"/>
<text x="614.4" y="433.5" font-size="5.0" fill="#4d4d4d" text-anchor="middle">0</text>
<path d="M649.6 427.1V428.7" stroke="#555" stroke-width="0.5"/>
<text x="649.6" y="433.5" font-size="5.0" fill="#4d4d4d" text-anchor="middle">3</text>
<path d="M544.9 316.8H546.5" stroke="#555" stroke-width="0.5"/>
<text x="544.1" y="318.6" font-size="5.0" fill="#4d4d4d" text-anchor="end">5</text>
<path d="M544.9 357.2H546.5" stroke="#555" stroke-width="0.5"/>
<text x="544.1" y="359" font-size="5.0" fill="#4d4d4d" text-anchor="end">0</text>
<path d="M544.9 397.6H546.5" stroke="#555" stroke-width="0.5"/>
<text x="544.1" y="399.4" font-size="5.0" fill="#4d4d4d" text-anchor="end">-5</text>
<text x="535.6" y="369.2" font-size="6.4" fill="#333" text-anchor="middle" transform="rotate(-90 535.6 369.2)">LD2</text>
<text x="613.8" y="441.6" font-size="6.4" fill="#333" text-anchor="middle">LD1</text>
<text x="578.3" y="324.9" font-size="9.8" fill="#1c3587" font-weight="bold">D</text>
<text x="657.5" y="374.6" font-size="10.2" fill="#b3151f" font-weight="bold">SD</text>
<text x="598.9" y="420.3" font-size="10.5" fill="#c47a24" font-weight="bold">DWS</text>
<rect x="546.5" y="454.5" width="134.5" height="114.5" fill="#fff"/>
<path d="M570 454.5V569" stroke="#f2f2f2" stroke-width="0.5"/>
<path d="M613 454.5V569" stroke="#f2f2f2" stroke-width="0.5"/>
<path d="M656 454.5V569" stroke="#f2f2f2" stroke-width="0.5"/>
<path d="M546.5 463.7H681" stroke="#f2f2f2" stroke-width="0.5"/>
<path d="M546.5 487H681" stroke="#f2f2f2" stroke-width="0.5"/>
<path d="M546.5 510.2H681" stroke="#f2f2f2" stroke-width="0.5"/>
<path d="M546.5 533.6H681" stroke="#f2f2f2" stroke-width="0.5"/>
<path d="M546.5 556.9H681" stroke="#f2f2f2" stroke-width="0.5"/>
<path d="M548.5 454.5V569" stroke="#e6e6e6" stroke-width="0.6"/>
<path d="M591.5 454.5V569" stroke="#e6e6e6" stroke-width="0.6"/>
<path d="M634.5 454.5V569" stroke="#e6e6e6" stroke-width="0.6"/>
<path d="M677.5 454.5V569" stroke="#e6e6e6" stroke-width="0.6"/>
<path d="M546.5 475.3H681" stroke="#e6e6e6" stroke-width="0.6"/>
<path d="M546.5 498.6H681" stroke="#e6e6e6" stroke-width="0.6"/>
<path d="M546.5 521.9H681" stroke="#e6e6e6" stroke-width="0.6"/>
<path d="M546.5 545.2H681" stroke="#e6e6e6" stroke-width="0.6"/>
<path d="M546.5 568.5H681" stroke="#e6e6e6" stroke-width="0.6"/>
<clipPath id="cm"><rect x="546.5" y="454.5" width="134.5" height="114.5"/></clipPath>
<g clip-path="url(#cm)">
<ellipse cx="619.6" cy="500.8" rx="59.5" ry="38.7" transform="rotate(-17.6 619.6 500.8)" fill="#fdebd6" fill-opacity="0.6" stroke="#e8b432" stroke-width="0.8"/>
<ellipse cx="580.8" cy="516.2" rx="26.5" ry="48.4" transform="rotate(-6.9 580.8 516.2)" fill="#f8c9a8" fill-opacity="0.6" stroke="#d9692a" stroke-width="0.8"/>
<ellipse cx="582.0" cy="489.0" rx="17.0" ry="30.3" transform="rotate(-26.9 582.0 489.0)" fill="#a9d6c2" fill-opacity="0.38" stroke="#3ea383" stroke-width="0.8"/>
<circle cx="580.2" cy="498.8" r="2.6" fill="#ec7a32" stroke="#222" stroke-width="0.45"/>
<circle cx="574.1" cy="513.6" r="2.6" fill="#ec7a32" stroke="#222" stroke-width="0.45"/>
<circle cx="591.8" cy="523.0" r="2.6" fill="#ec7a32" stroke="#222" stroke-width="0.45"/>
<circle cx="577.5" cy="529.2" r="2.6" fill="#ec7a32" stroke="#222" stroke-width="0.45"/>
<circle cx="573.0" cy="474.9" r="2.6" fill="#3dab87" stroke="#222" stroke-width="0.45"/>
<circle cx="594.0" cy="476.2" r="2.6" fill="#3dab87" stroke="#222" stroke-width="0.45"/>
<circle cx="580.5" cy="483.0" r="2.6" fill="#3dab87" stroke="#222" stroke-width="0.45"/>
<circle cx="578.0" cy="487.5" r="2.6" fill="#3dab87" stroke="#222" stroke-width="0.45"/>
<circle cx="579.3" cy="494.8" r="2.6" fill="#3dab87" stroke="#222" stroke-width="0.45"/>
<circle cx="581.6" cy="496.6" r="2.6" fill="#3dab87" stroke="#222" stroke-width="0.45"/>
<circle cx="594.5" cy="503.4" r="2.6" fill="#3dab87" stroke="#222" stroke-width="0.45"/>
<circle cx="625.0" cy="481.9" r="2.6" fill="#f2c232" stroke="#222" stroke-width="0.45"/>
<circle cx="624.6" cy="502.7" r="2.6" fill="#f2c232" stroke="#222" stroke-width="0.45"/>
<circle cx="629.5" cy="506.8" r="2.6" fill="#f2c232" stroke="#222" stroke-width="0.45"/>
<circle cx="593.3" cy="507.2" r="2.6" fill="#f2c232" stroke="#222" stroke-width="0.45"/>
</g>
<rect x="546.5" y="454.5" width="134.5" height="114.5" fill="none" stroke="#8a8a8a" stroke-width="0.8"/>
<path d="M548.5 569V570.6" stroke="#555" stroke-width="0.5"/>
<text x="548.5" y="575.4" font-size="5.0" fill="#4d4d4d" text-anchor="middle">-4</text>
<path d="M591.5 569V570.6" stroke="#555" stroke-width="0.5"/>
<text x="591.5" y="575.4" font-size="5.0" fill="#4d4d4d" text-anchor="middle">0</text>
<path d="M634.5 569V570.6" stroke="#555" stroke-width="0.5"/>
<text x="634.5" y="575.4" font-size="5.0" fill="#4d4d4d" text-anchor="middle">4</text>
<path d="M677.5 569V570.6" stroke="#555" stroke-width="0.5"/>
<text x="677.5" y="575.4" font-size="5.0" fill="#4d4d4d" text-anchor="middle">8</text>
<path d="M544.9 475.3H546.5" stroke="#555" stroke-width="0.5"/>
<text x="544.1" y="477.1" font-size="5.0" fill="#4d4d4d" text-anchor="end">2</text>
<path d="M544.9 498.6H546.5" stroke="#555" stroke-width="0.5"/>
<text x="544.1" y="500.4" font-size="5.0" fill="#4d4d4d" text-anchor="end">0</text>
<path d="M544.9 521.9H546.5" stroke="#555" stroke-width="0.5"/>
<text x="544.1" y="523.7" font-size="5.0" fill="#4d4d4d" text-anchor="end">-2</text>
<path d="M544.9 545.2H546.5" stroke="#555" stroke-width="0.5"/>
<text x="544.1" y="547" font-size="5.0" fill="#4d4d4d" text-anchor="end">-4</text>
<path d="M544.9 568.5H546.5" stroke="#555" stroke-width="0.5"/>
<text x="544.1" y="570.3" font-size="5.0" fill="#4d4d4d" text-anchor="end">-6</text>
<text x="535.6" y="510" font-size="6.4" fill="#333" text-anchor="middle" transform="rotate(-90 535.6 510)">LD2</text>
<text x="613.8" y="584.4" font-size="6.4" fill="#333" text-anchor="middle">LD1</text>
<text x="586.3" y="464.7" font-size="10.7" fill="#2f7f66" font-weight="bold">HW</text>
<text x="658" y="534.5" font-size="10.7" fill="#b99a34" font-weight="bold">OW</text>
<text x="553" y="564.8" font-size="10.3" fill="#b5693f" font-weight="bold">OB</text>
</svg></body></html>
